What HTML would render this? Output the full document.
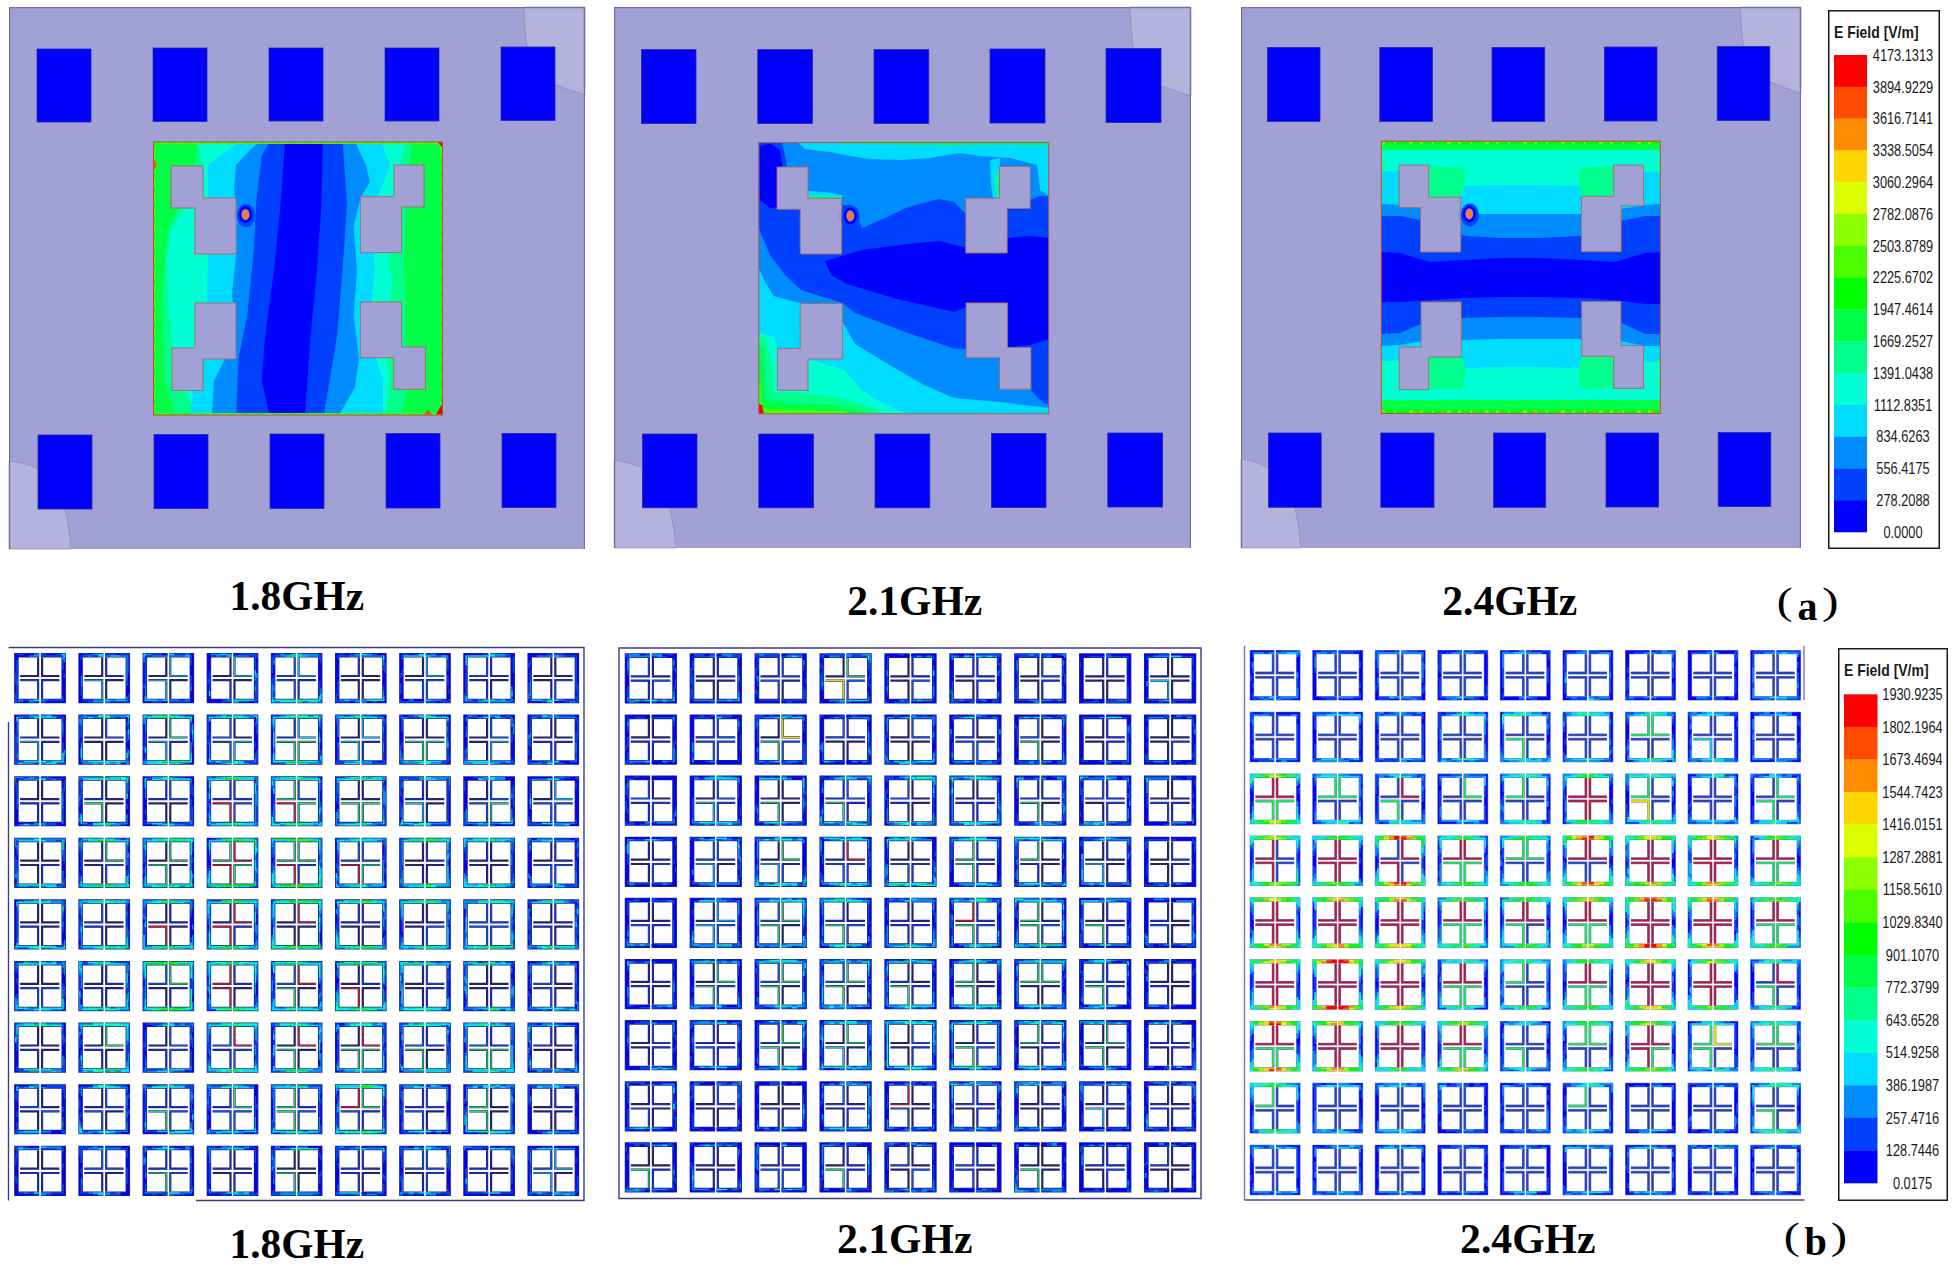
<!DOCTYPE html>
<html><head><meta charset="utf-8"><style>
html,body{margin:0;padding:0;background:#fff;}
body{width:1957px;height:1265px;overflow:hidden;}
svg{display:block;}
.fl{font-family:"Liberation Serif",serif;font-weight:bold;fill:#000;}
.pa{font-family:"Liberation Serif",serif;font-size:37px;fill:#000;}
.lt{font-family:"Liberation Sans",sans-serif;font-size:17px;font-weight:bold;fill:#1a1a1a;}
.ll{font-family:"Liberation Sans",sans-serif;font-size:16px;fill:#1a1a1a;}
</style></head><body>
<svg width="1957" height="1265" viewBox="0 0 1957 1265">
<rect width="1957" height="1265" fill="#fff"/>
<rect x="9" y="7" width="576" height="542" fill="#A1A1D6"/>
<path d="M523.8,7 L525,30 Q528,76 556,85 L585,95 L585,7 Z" fill="#B3B3DB" stroke="#8282B8" stroke-width="0.6"/>
<path d="M9,461 Q25,462 38,469 L65,509 Q69,525 71,549 L9,549 Z" fill="#B3B3DB" stroke="#8282B8" stroke-width="0.6"/>
<path d="M9.6,549 V7.6 H584.4 V549" fill="none" stroke="#6F6FA6" stroke-width="1.2"/>
<rect x="37" y="49" width="54" height="73" fill="#0000FF" stroke="#2A2A9A" stroke-width="0.8"/>
<rect x="153" y="48" width="54" height="73.5" fill="#0000FF" stroke="#2A2A9A" stroke-width="0.8"/>
<rect x="269" y="48" width="54" height="73" fill="#0000FF" stroke="#2A2A9A" stroke-width="0.8"/>
<rect x="385" y="48" width="54" height="73" fill="#0000FF" stroke="#2A2A9A" stroke-width="0.8"/>
<rect x="501" y="47" width="54" height="73.5" fill="#0000FF" stroke="#2A2A9A" stroke-width="0.8"/>
<rect x="38" y="435" width="54" height="74" fill="#0000FF" stroke="#2A2A9A" stroke-width="0.8"/>
<rect x="154" y="434.5" width="54" height="74.10000000000002" fill="#0000FF" stroke="#2A2A9A" stroke-width="0.8"/>
<rect x="270" y="434" width="54" height="74.5" fill="#0000FF" stroke="#2A2A9A" stroke-width="0.8"/>
<rect x="386" y="433.5" width="54" height="74.5" fill="#0000FF" stroke="#2A2A9A" stroke-width="0.8"/>
<rect x="502" y="433.5" width="54" height="74.0" fill="#0000FF" stroke="#2A2A9A" stroke-width="0.8"/>
<rect x="153.5" y="142" width="289.0" height="273" fill="#00FF46"/>
<polygon points="200.0,142.0 190.0,180.0 168.0,230.0 162.0,300.0 165.0,380.0 175.0,415.0 402.0,415.0 408.0,380.0 406.0,330.0 404.0,260.0 407.0,200.0 412.0,142.0" fill="#00FF8C" />
<polygon points="196.0,142.0 200.0,150.0 203.0,165.0 190.0,200.0 170.0,230.0 167.0,260.0 168.0,300.0 172.0,340.0 175.0,380.0 190.0,400.0 195.0,415.0 385.0,415.0 390.0,380.0 385.0,340.0 390.0,300.0 392.0,280.0 388.0,260.0 395.0,230.0 395.0,200.0 400.0,165.0 405.0,142.0" fill="#00FFD2" />
<polygon points="238.0,142.0 228.0,150.0 208.0,165.0 208.0,200.0 208.0,230.0 208.0,260.0 207.0,300.0 206.0,340.0 195.0,380.0 190.0,415.0 383.0,415.0 383.0,380.0 370.0,340.0 372.0,300.0 375.0,270.0 372.0,230.0 376.0,200.0 384.0,182.0 390.0,165.0 381.0,142.0" fill="#00DCFF" />
<polygon points="259.0,142.0 250.0,150.0 236.0,165.0 234.0,190.0 236.0,204.0 237.0,248.0 232.0,293.0 236.0,337.0 214.0,381.0 212.0,415.0 339.0,415.0 354.7,388.0 359.0,359.0 353.6,315.0 357.0,270.0 353.6,226.0 361.0,197.0 370.0,182.0 366.0,165.0 355.0,142.0" fill="#008CFF" />
<polygon points="269.5,142.0 262.0,155.0 260.0,170.0 256.0,204.0 254.0,248.0 247.3,315.0 238.5,359.0 236.3,415.0 323.8,415.0 337.0,337.0 342.6,270.0 347.0,204.0 342.6,142.0" fill="#0040FF" />
<polygon points="285.0,142.0 280.5,204.0 274.0,270.0 265.0,337.0 261.7,381.0 269.5,415.0 305.0,415.0 310.5,337.0 317.0,270.0 321.5,204.0 322.7,142.0" fill="#0000FF" />
<rect x="154.5" y="143" width="287.0" height="271" fill="none" stroke="#4BFF00" stroke-width="2"/>
<rect x="154.5" y="143" width="287.0" height="271" fill="none" stroke="#00FF00" stroke-width="1" stroke-dasharray="6 9"/>
<polygon points="438.0,142.5 442.0,142.5 442.0,147.0" fill="#FF0000" />
<polygon points="442.0,404.0 442.0,414.5 436.0,414.5" fill="#FF0000" />
<polygon points="424.0,414.5 428.0,410.0 432.0,414.5" fill="#FF4B00" />
<polygon points="154.0,160.0 157.0,165.0 154.0,170.0" fill="#FF4B00" />
<polygon points="171.0,166.0 203.0,166.0 203.0,198.0 236.0,198.0 236.0,254.0 195.0,254.0 195.0,208.0 171.0,208.0" fill="#A1A1D6" stroke="#A86868" stroke-width="0.9"/>
<polygon points="394.0,165.0 424.0,165.0 424.0,207.0 401.6,207.0 401.6,252.6 360.4,252.6 360.4,196.7 394.0,196.7" fill="#A1A1D6" stroke="#A86868" stroke-width="0.9"/>
<polygon points="195.0,303.0 236.0,303.0 236.0,359.0 203.0,359.0 203.0,390.5 172.0,390.5 172.0,348.0 195.0,348.0" fill="#A1A1D6" stroke="#A86868" stroke-width="0.9"/>
<polygon points="360.4,302.0 401.6,302.0 401.6,347.0 425.4,347.0 425.4,389.3 393.8,389.3 393.8,357.7 360.4,357.7" fill="#A1A1D6" stroke="#A86868" stroke-width="0.9"/>
<rect x="153.5" y="142" width="289.0" height="273" fill="none" stroke="#C04A3A" stroke-width="1"/>
<path d="M237.5,204.5 Q232.0,214.5 237.5,224.5" fill="none" stroke="#8C8CC0" stroke-width="0.8"/><ellipse cx="246.0" cy="215.5" rx="9" ry="11.5" fill="#0040FF"/><ellipse cx="245.5" cy="214.5" rx="6.5" ry="8.5" fill="#0000FF"/><ellipse cx="245.5" cy="214.5" rx="4" ry="5.6" fill="#E0804E"/>
<rect x="614" y="7" width="577" height="541" fill="#A1A1D6"/>
<path d="M1130,7 L1131,30 Q1134,76 1161,86 L1191,96 L1191,7 Z" fill="#B3B3DB" stroke="#8282B8" stroke-width="0.6"/>
<path d="M614,460 Q630,462 642.5,468 L670,508 Q674,525 676,548 L614,548 Z" fill="#B3B3DB" stroke="#8282B8" stroke-width="0.6"/>
<path d="M614.6,548 V7.6 H1190.4 V548" fill="none" stroke="#6F6FA6" stroke-width="1.2"/>
<rect x="641.5" y="49.6" width="54.5" height="73.80000000000001" fill="#0000FF" stroke="#2A2A9A" stroke-width="0.8"/>
<rect x="757.8" y="49.6" width="54.60000000000002" height="73.80000000000001" fill="#0000FF" stroke="#2A2A9A" stroke-width="0.8"/>
<rect x="874" y="49.6" width="54.799999999999955" height="73.80000000000001" fill="#0000FF" stroke="#2A2A9A" stroke-width="0.8"/>
<rect x="990" y="49" width="55" height="74" fill="#0000FF" stroke="#2A2A9A" stroke-width="0.8"/>
<rect x="1106" y="48.5" width="55" height="74.0" fill="#0000FF" stroke="#2A2A9A" stroke-width="0.8"/>
<rect x="642.5" y="434" width="54.5" height="73.80000000000001" fill="#0000FF" stroke="#2A2A9A" stroke-width="0.8"/>
<rect x="758.8" y="434" width="54.700000000000045" height="73.80000000000001" fill="#0000FF" stroke="#2A2A9A" stroke-width="0.8"/>
<rect x="875" y="434" width="54.799999999999955" height="73.80000000000001" fill="#0000FF" stroke="#2A2A9A" stroke-width="0.8"/>
<rect x="991.5" y="433.5" width="54.5" height="74.0" fill="#0000FF" stroke="#2A2A9A" stroke-width="0.8"/>
<rect x="1107.8" y="433" width="54.700000000000045" height="74" fill="#0000FF" stroke="#2A2A9A" stroke-width="0.8"/>
<rect x="758.8" y="142.6" width="289.9000000000001" height="271.20000000000005" fill="#008CFF"/>
<polygon points="758.8,142.6 782.0,142.6 786.0,160.0 790.0,190.0 800.0,205.0 842.0,205.0 850.0,205.0 855.0,211.0 862.0,228.0 885.0,218.0 908.0,207.0 939.0,199.0 954.0,202.0 966.0,214.0 975.0,205.0 1007.0,205.0 1020.0,203.0 1040.0,196.0 1048.7,196.0 1048.7,405.0 1040.0,400.0 1031.0,390.0 1031.0,347.0 1007.0,347.0 966.0,349.0 954.0,348.6 908.0,333.0 855.0,313.0 842.0,303.0 801.0,290.0 785.0,275.0 770.0,255.0 758.8,228.0" fill="#0040FF" />
<polygon points="825.0,261.0 862.0,250.0 908.0,244.0 939.0,241.0 966.0,248.0 1008.0,238.0 1030.0,236.0 1048.7,238.0 1048.7,339.0 1040.0,342.0 1031.0,345.0 1007.0,347.0 966.0,307.0 954.0,312.0 893.0,298.0 847.0,284.0 831.0,275.0" fill="#0000FF" />
<polygon points="759.5,146.0 770.0,143.5 780.0,150.0 783.0,170.0 778.0,190.0 782.0,207.0 770.0,208.0 760.0,200.0" fill="#0000FF" />
<polygon points="798.0,142.6 1048.7,142.6 1048.7,196.0 1040.0,190.0 1037.0,165.0 1010.0,158.0 980.0,156.0 960.0,153.0 930.0,158.0 900.0,160.0 870.0,159.0 850.0,156.0 830.0,152.0 805.0,149.0" fill="#00DCFF" />
<polygon points="840.0,142.6 1048.7,142.6 1048.7,145.0 1000.0,144.5 940.0,145.0 880.0,144.0 840.0,143.8" fill="#00FF46" />
<polygon points="990.0,160.0 1000.0,158.0 1000.0,198.0 993.0,198.0 991.0,185.0" fill="#00DCFF" />
<polygon points="995.0,175.0 1000.0,170.0 1000.0,198.0 997.0,198.0" fill="#00FF8C" />
<polygon points="808.0,191.0 825.0,192.0 842.0,195.0 842.0,198.2 808.0,198.2" fill="#00DCFF" />
<polygon points="808.0,195.0 842.0,196.5 842.0,198.2 808.0,198.2" fill="#00FF8C" />
<polygon points="758.8,268.0 765.0,282.0 773.5,296.0 799.6,303.0 801.0,302.6 842.0,321.0 855.0,344.0 893.0,367.0 924.0,385.0 954.0,398.0 1000.0,402.0 1048.7,408.0 1048.7,413.8 758.8,413.8" fill="#00DCFF" />
<polygon points="758.8,333.0 773.0,336.0 778.0,350.0 808.0,361.0 816.0,361.0 844.0,370.0 862.0,390.0 885.0,405.0 908.0,413.8 758.8,413.8" fill="#00FFD2" />
<polygon points="758.8,336.0 766.0,338.0 771.0,360.0 774.0,392.0 808.0,393.0 850.0,400.0 870.0,407.0 885.0,413.8 758.8,413.8" fill="#00FF8C" />
<polygon points="758.8,345.0 763.0,350.0 766.0,400.0 790.0,403.0 830.0,405.0 860.0,410.0 870.0,413.8 758.8,413.8" fill="#00FF46" />
<polygon points="758.8,380.0 760.5,385.0 761.5,408.0 790.0,410.0 840.0,411.0 850.0,413.8 758.8,413.8" fill="#4BFF00" />
<polygon points="758.8,404.0 762.0,405.0 764.0,413.8 758.8,413.8" fill="#FF0000" />
<polygon points="777.0,167.0 808.0,167.0 808.0,198.2 841.6,198.2 841.6,254.0 800.2,254.0 800.2,209.3 777.0,209.3" fill="#A1A1D6" stroke="#A86868" stroke-width="0.9"/>
<polygon points="999.5,166.4 1030.2,166.4 1030.2,208.5 1007.2,208.5 1007.2,253.0 965.8,253.0 965.8,198.2 999.5,198.2" fill="#A1A1D6" stroke="#A86868" stroke-width="0.9"/>
<polygon points="800.2,303.4 842.4,303.4 842.4,359.0 807.9,359.0 807.9,390.3 777.5,390.3 777.5,348.6 800.2,348.6" fill="#A1A1D6" stroke="#A86868" stroke-width="0.9"/>
<polygon points="966.1,302.9 1007.6,302.9 1007.6,347.5 1030.9,347.5 1030.9,389.2 999.5,389.2 999.5,357.8 966.1,357.8" fill="#A1A1D6" stroke="#A86868" stroke-width="0.9"/>
<rect x="758.8" y="142.6" width="289.9000000000001" height="271.20000000000005" fill="none" stroke="#B05A50" stroke-width="1"/>
<path d="M842.3,205.9 Q836.8,215.9 842.3,225.9" fill="none" stroke="#8C8CC0" stroke-width="0.8"/><ellipse cx="850.8" cy="216.9" rx="9" ry="11.5" fill="#0040FF"/><ellipse cx="850.3" cy="215.9" rx="6.5" ry="8.5" fill="#0000FF"/><ellipse cx="850.3" cy="215.9" rx="4" ry="5.6" fill="#E0804E"/>
<rect x="1241" y="7" width="560" height="541" fill="#A1A1D6"/>
<path d="M1740,7 L1741.5,30 Q1745,72 1770,82 L1801,94 L1801,7 Z" fill="#B3B3DB" stroke="#8282B8" stroke-width="0.6"/>
<path d="M1241,459 Q1256,461 1268.6,468 L1295,507 Q1299,525 1301,548 L1241,548 Z" fill="#B3B3DB" stroke="#8282B8" stroke-width="0.6"/>
<path d="M1241.6,548 V7.6 H1800.4 V548" fill="none" stroke="#6F6FA6" stroke-width="1.2"/>
<rect x="1267.5" y="47.5" width="52.5" height="73.9" fill="#0000FF" stroke="#2A2A9A" stroke-width="0.8"/>
<rect x="1379.8" y="47.5" width="52.600000000000136" height="73.9" fill="#0000FF" stroke="#2A2A9A" stroke-width="0.8"/>
<rect x="1492" y="47.5" width="52.700000000000045" height="73.9" fill="#0000FF" stroke="#2A2A9A" stroke-width="0.8"/>
<rect x="1604.4" y="47" width="52.59999999999991" height="74" fill="#0000FF" stroke="#2A2A9A" stroke-width="0.8"/>
<rect x="1717.2" y="46.5" width="52.59999999999991" height="74.0" fill="#0000FF" stroke="#2A2A9A" stroke-width="0.8"/>
<rect x="1268.6" y="433" width="52.600000000000136" height="74.30000000000001" fill="#0000FF" stroke="#2A2A9A" stroke-width="0.8"/>
<rect x="1380.8" y="433" width="53.200000000000045" height="74.30000000000001" fill="#0000FF" stroke="#2A2A9A" stroke-width="0.8"/>
<rect x="1493.6" y="433" width="52.100000000000136" height="74.30000000000001" fill="#0000FF" stroke="#2A2A9A" stroke-width="0.8"/>
<rect x="1606" y="433" width="52.5" height="74" fill="#0000FF" stroke="#2A2A9A" stroke-width="0.8"/>
<rect x="1718.2" y="432.5" width="52.59999999999991" height="74.0" fill="#0000FF" stroke="#2A2A9A" stroke-width="0.8"/>
<rect x="1381.3" y="141.2" width="279.0" height="272.3" fill="#00FF46"/>
<polygon points="1381.3,150.0 1660.3,150.0 1660.3,400.0 1381.3,400.0" fill="#00FFD2" />
<polygon points="1381.3,172.0 1400.0,170.0 1430.0,188.0 1465.0,186.0 1500.0,185.0 1540.0,185.0 1580.0,186.0 1615.0,190.0 1645.0,172.0 1660.3,172.0 1660.3,362.0 1645.0,362.0 1615.0,368.0 1580.0,368.0 1540.0,367.0 1500.0,367.0 1465.0,368.0 1430.0,368.0 1400.0,360.0 1381.3,362.0" fill="#00DCFF" />
<polygon points="1381.3,204.0 1400.0,205.0 1430.0,210.0 1465.0,214.0 1500.0,214.0 1540.0,214.0 1580.0,214.0 1615.0,210.0 1645.0,205.0 1660.3,204.0 1660.3,346.0 1645.0,346.0 1615.0,340.0 1580.0,339.0 1540.0,339.0 1500.0,339.0 1465.0,340.0 1430.0,340.0 1400.0,345.0 1381.3,346.0" fill="#008CFF" />
<polygon points="1381.3,216.0 1400.0,216.0 1430.0,222.0 1465.0,236.0 1500.0,238.0 1540.0,238.0 1580.0,236.0 1615.0,222.0 1645.0,216.0 1660.3,216.0 1660.3,334.0 1645.0,334.0 1615.0,320.0 1580.0,318.0 1540.0,317.0 1500.0,317.0 1465.0,318.0 1430.0,320.0 1400.0,333.0 1381.3,334.0" fill="#0040FF" />
<polygon points="1381.3,252.0 1400.0,253.0 1430.0,262.0 1465.0,260.0 1500.0,258.0 1540.0,258.0 1580.0,260.0 1615.0,262.0 1645.0,253.0 1660.3,252.0 1660.3,304.0 1645.0,304.0 1615.0,300.0 1580.0,298.0 1540.0,297.0 1500.0,297.0 1465.0,298.0 1430.0,300.0 1400.0,302.0 1381.3,302.0" fill="#0000FF" />
<polygon points="1428.7,166.0 1464.0,168.0 1465.0,185.0 1460.8,197.0 1428.7,197.0" fill="#00FF8C" />
<polygon points="1581.4,196.0 1579.0,185.0 1580.0,168.0 1613.7,166.0 1613.7,196.0" fill="#00FF8C" />
<polygon points="1428.7,357.0 1461.2,357.0 1466.0,370.0 1462.0,389.0 1428.7,389.0" fill="#00FF8C" />
<polygon points="1581.7,356.0 1613.7,356.0 1613.7,388.0 1580.0,389.0 1578.0,370.0" fill="#00FF8C" />
<polygon points="1381.3,141.2 1660.3,141.2 1660.3,144.0 1381.3,144.0" fill="#00FF00" />
<polygon points="1381.3,410.0 1660.3,410.0 1660.3,413.5 1381.3,413.5" fill="#00FF00" />
<path d="M1382,143 H1659 M1382,411.5 H1659" stroke="#8CFF00" stroke-width="2" stroke-dasharray="3 9 2 13 4 7" fill="none"/>
<path d="M1382,412 H1659" stroke="#FF8C00" stroke-width="1.5" stroke-dasharray="2 31 3 23" fill="none"/>
<path d="M1382.3,142 V190 M1659.3,142 V190 M1382.3,360 V413 M1659.3,360 V413" stroke="#4BFF00" stroke-width="1.4" stroke-dasharray="4 5 2 9" fill="none"/>
<polygon points="1399.2,165.1 1428.7,165.1 1428.7,197.2 1460.8,197.2 1460.8,252.1 1420.5,252.1 1420.5,207.6 1399.2,207.6" fill="#A1A1D6" stroke="#A86868" stroke-width="0.9"/>
<polygon points="1613.7,165.1 1643.6,165.1 1643.6,205.8 1621.2,205.8 1621.2,251.7 1581.4,251.7 1581.4,196.4 1613.7,196.4" fill="#A1A1D6" stroke="#A86868" stroke-width="0.9"/>
<polygon points="1421.0,301.9 1461.2,301.9 1461.2,357.1 1428.7,357.1 1428.7,389.6 1399.2,389.6 1399.2,347.1 1421.0,347.1" fill="#A1A1D6" stroke="#A86868" stroke-width="0.9"/>
<polygon points="1581.7,301.6 1620.9,301.6 1620.9,345.6 1643.6,345.6 1643.6,388.4 1613.7,388.4 1613.7,356.3 1581.7,356.3" fill="#A1A1D6" stroke="#A86868" stroke-width="0.9"/>
<rect x="1381.3" y="141.2" width="279.0" height="272.3" fill="none" stroke="#C04A3A" stroke-width="1"/>
<path d="M1461.3,203.9 Q1455.8,213.9 1461.3,223.9" fill="none" stroke="#8C8CC0" stroke-width="0.8"/><ellipse cx="1469.8" cy="214.9" rx="9" ry="11.5" fill="#0040FF"/><ellipse cx="1469.3" cy="213.9" rx="6.5" ry="8.5" fill="#0000FF"/><ellipse cx="1469.3" cy="213.9" rx="4" ry="5.6" fill="#E0804E"/>
<rect x="1828.75" y="10.75" width="110.5" height="537.5" fill="#fff" stroke="#1a1a1a" stroke-width="1.5"/>
<rect x="1834" y="55.00" width="33" height="32.10" fill="#FF0000"/>
<rect x="1834" y="86.80" width="33" height="32.10" fill="#FF4B00"/>
<rect x="1834" y="118.60" width="33" height="32.10" fill="#FF8C00"/>
<rect x="1834" y="150.40" width="33" height="32.10" fill="#FFD700"/>
<rect x="1834" y="182.20" width="33" height="32.10" fill="#DCFF00"/>
<rect x="1834" y="214.00" width="33" height="32.10" fill="#8CFF00"/>
<rect x="1834" y="245.80" width="33" height="32.10" fill="#4BFF00"/>
<rect x="1834" y="277.60" width="33" height="32.10" fill="#00FF00"/>
<rect x="1834" y="309.40" width="33" height="32.10" fill="#00FF46"/>
<rect x="1834" y="341.20" width="33" height="32.10" fill="#00FF8C"/>
<rect x="1834" y="373.00" width="33" height="32.10" fill="#00FFD2"/>
<rect x="1834" y="404.80" width="33" height="32.10" fill="#00DCFF"/>
<rect x="1834" y="436.60" width="33" height="32.10" fill="#008CFF"/>
<rect x="1834" y="468.40" width="33" height="32.10" fill="#0040FF"/>
<rect x="1834" y="500.20" width="33" height="32.10" fill="#0000FF"/>
<text x="1834" y="38" class="lt" transform="translate(1834,38) scale(0.822,1) translate(-1834,-38)">E Field [V/m]</text>
<text x="1903" y="60.8" class="ll" text-anchor="middle" transform="translate(1903,60.8) scale(0.8,1) translate(-1903,-60.8)">4173.1313</text>
<text x="1903" y="92.6" class="ll" text-anchor="middle" transform="translate(1903,92.6) scale(0.8,1) translate(-1903,-92.6)">3894.9229</text>
<text x="1903" y="124.4" class="ll" text-anchor="middle" transform="translate(1903,124.4) scale(0.8,1) translate(-1903,-124.4)">3616.7141</text>
<text x="1903" y="156.2" class="ll" text-anchor="middle" transform="translate(1903,156.2) scale(0.8,1) translate(-1903,-156.2)">3338.5054</text>
<text x="1903" y="188.0" class="ll" text-anchor="middle" transform="translate(1903,188.0) scale(0.8,1) translate(-1903,-188.0)">3060.2964</text>
<text x="1903" y="219.8" class="ll" text-anchor="middle" transform="translate(1903,219.8) scale(0.8,1) translate(-1903,-219.8)">2782.0876</text>
<text x="1903" y="251.6" class="ll" text-anchor="middle" transform="translate(1903,251.6) scale(0.8,1) translate(-1903,-251.6)">2503.8789</text>
<text x="1903" y="283.4" class="ll" text-anchor="middle" transform="translate(1903,283.4) scale(0.8,1) translate(-1903,-283.4)">2225.6702</text>
<text x="1903" y="315.2" class="ll" text-anchor="middle" transform="translate(1903,315.2) scale(0.8,1) translate(-1903,-315.2)">1947.4614</text>
<text x="1903" y="347.0" class="ll" text-anchor="middle" transform="translate(1903,347.0) scale(0.8,1) translate(-1903,-347.0)">1669.2527</text>
<text x="1903" y="378.8" class="ll" text-anchor="middle" transform="translate(1903,378.8) scale(0.8,1) translate(-1903,-378.8)">1391.0438</text>
<text x="1903" y="410.6" class="ll" text-anchor="middle" transform="translate(1903,410.6) scale(0.8,1) translate(-1903,-410.6)">1112.8351</text>
<text x="1903" y="442.4" class="ll" text-anchor="middle" transform="translate(1903,442.4) scale(0.8,1) translate(-1903,-442.4)">834.6263</text>
<text x="1903" y="474.2" class="ll" text-anchor="middle" transform="translate(1903,474.2) scale(0.8,1) translate(-1903,-474.2)">556.4175</text>
<text x="1903" y="506.0" class="ll" text-anchor="middle" transform="translate(1903,506.0) scale(0.8,1) translate(-1903,-506.0)">278.2088</text>
<text x="1903" y="537.8" class="ll" text-anchor="middle" transform="translate(1903,537.8) scale(0.8,1) translate(-1903,-537.8)">0.0000</text>
<rect x="1838.75" y="648.75" width="108.5" height="551.5" fill="#fff" stroke="#1a1a1a" stroke-width="1.5"/>
<rect x="1844" y="694.30" width="33.5" height="32.88" fill="#FF0000"/>
<rect x="1844" y="726.88" width="33.5" height="32.88" fill="#FF4B00"/>
<rect x="1844" y="759.46" width="33.5" height="32.88" fill="#FF8C00"/>
<rect x="1844" y="792.04" width="33.5" height="32.88" fill="#FFD700"/>
<rect x="1844" y="824.62" width="33.5" height="32.88" fill="#DCFF00"/>
<rect x="1844" y="857.20" width="33.5" height="32.88" fill="#8CFF00"/>
<rect x="1844" y="889.78" width="33.5" height="32.88" fill="#4BFF00"/>
<rect x="1844" y="922.36" width="33.5" height="32.88" fill="#00FF00"/>
<rect x="1844" y="954.94" width="33.5" height="32.88" fill="#00FF46"/>
<rect x="1844" y="987.52" width="33.5" height="32.88" fill="#00FF8C"/>
<rect x="1844" y="1020.10" width="33.5" height="32.88" fill="#00FFD2"/>
<rect x="1844" y="1052.68" width="33.5" height="32.88" fill="#00DCFF"/>
<rect x="1844" y="1085.26" width="33.5" height="32.88" fill="#008CFF"/>
<rect x="1844" y="1117.84" width="33.5" height="32.88" fill="#0040FF"/>
<rect x="1844" y="1150.42" width="33.5" height="32.88" fill="#0000FF"/>
<text x="1844" y="676.5" class="lt" transform="translate(1844,676.5) scale(0.822,1) translate(-1844,-676.5)">E Field [V/m]</text>
<text x="1912.5" y="700.1" class="ll" text-anchor="middle" transform="translate(1912.5,700.1) scale(0.8,1) translate(-1912.5,-700.1)">1930.9235</text>
<text x="1912.5" y="732.6" class="ll" text-anchor="middle" transform="translate(1912.5,732.6) scale(0.8,1) translate(-1912.5,-732.6)">1802.1964</text>
<text x="1912.5" y="765.2" class="ll" text-anchor="middle" transform="translate(1912.5,765.2) scale(0.8,1) translate(-1912.5,-765.2)">1673.4694</text>
<text x="1912.5" y="797.8" class="ll" text-anchor="middle" transform="translate(1912.5,797.8) scale(0.8,1) translate(-1912.5,-797.8)">1544.7423</text>
<text x="1912.5" y="830.4" class="ll" text-anchor="middle" transform="translate(1912.5,830.4) scale(0.8,1) translate(-1912.5,-830.4)">1416.0151</text>
<text x="1912.5" y="863.0" class="ll" text-anchor="middle" transform="translate(1912.5,863.0) scale(0.8,1) translate(-1912.5,-863.0)">1287.2881</text>
<text x="1912.5" y="895.5" class="ll" text-anchor="middle" transform="translate(1912.5,895.5) scale(0.8,1) translate(-1912.5,-895.5)">1158.5610</text>
<text x="1912.5" y="928.1" class="ll" text-anchor="middle" transform="translate(1912.5,928.1) scale(0.8,1) translate(-1912.5,-928.1)">1029.8340</text>
<text x="1912.5" y="960.7" class="ll" text-anchor="middle" transform="translate(1912.5,960.7) scale(0.8,1) translate(-1912.5,-960.7)">901.1070</text>
<text x="1912.5" y="993.3" class="ll" text-anchor="middle" transform="translate(1912.5,993.3) scale(0.8,1) translate(-1912.5,-993.3)">772.3799</text>
<text x="1912.5" y="1025.9" class="ll" text-anchor="middle" transform="translate(1912.5,1025.9) scale(0.8,1) translate(-1912.5,-1025.9)">643.6528</text>
<text x="1912.5" y="1058.4" class="ll" text-anchor="middle" transform="translate(1912.5,1058.4) scale(0.8,1) translate(-1912.5,-1058.4)">514.9258</text>
<text x="1912.5" y="1091.0" class="ll" text-anchor="middle" transform="translate(1912.5,1091.0) scale(0.8,1) translate(-1912.5,-1091.0)">386.1987</text>
<text x="1912.5" y="1123.6" class="ll" text-anchor="middle" transform="translate(1912.5,1123.6) scale(0.8,1) translate(-1912.5,-1123.6)">257.4716</text>
<text x="1912.5" y="1156.2" class="ll" text-anchor="middle" transform="translate(1912.5,1156.2) scale(0.8,1) translate(-1912.5,-1156.2)">128.7446</text>
<text x="1912.5" y="1188.8" class="ll" text-anchor="middle" transform="translate(1912.5,1188.8) scale(0.8,1) translate(-1912.5,-1188.8)">0.0175</text>
<path d="M8.5,647.5 H584 V1200.5 H196 M8.5,647.5 M8.5,722 V1200.5" fill="none" stroke="#3C3C80" stroke-width="1.4"/>
<path d="M619,648 H1201 V1198.5 H619 Z" fill="none" stroke="#3C3C80" stroke-width="1.4"/>
<path d="M1804,646 V700 M1244.5,1200 V646" fill="none" stroke="#7878AC" stroke-width="1.4"/>
<path d="M1804.5,1200 H1244.5" fill="none" stroke="#4A4A88" stroke-width="1.4"/>
<g fill="none">
<path d="M39.2,655.2L16.4,655.2L16.4,701L39.2,701M40.9,655.2L63.7,655.2L63.7,701L40.9,701M103.4,655.2L80.6,655.2L80.6,701L103.4,701M105.1,655.2L127.8,655.2L127.8,701L105.1,701M167.5,655.2L144.8,655.2L144.8,701L167.5,701M169.2,655.2L191.9,655.2L191.9,701L169.2,701M231.7,655.2L208.9,655.2L208.9,701L231.7,701M233.3,655.2L256.1,655.2L256.1,701L233.3,701M295.8,655.2L273.1,655.2L273.1,701L295.8,701M297.5,655.2L320.2,655.2L320.2,701L297.5,701M359.9,655.2L337.2,655.2L337.2,701L359.9,701M361.6,655.2L384.4,655.2L384.4,701L361.6,701M424.1,655.2L401.4,655.2L401.4,701L424.1,701M425.8,655.2L448.6,655.2L448.6,701L425.8,701M488.3,655.2L465.5,655.2L465.5,701L488.3,701M490,655.2L512.7,655.2L512.7,701L490,701M552.4,655.2L529.7,655.2L529.7,701L552.4,701M554.1,655.2L576.9,655.2L576.9,701L554.1,701M39.2,716.8L16.4,716.8L16.4,762.5L39.2,762.5M40.9,716.8L63.7,716.8L63.7,762.5L40.9,762.5M103.4,716.8L80.6,716.8L80.6,762.5L103.4,762.5M105.1,716.8L127.8,716.8L127.8,762.5L105.1,762.5M167.5,716.8L144.8,716.8L144.8,762.5L167.5,762.5M169.2,716.8L191.9,716.8L191.9,762.5L169.2,762.5M231.7,716.8L208.9,716.8L208.9,762.5L231.7,762.5M233.3,716.8L256.1,716.8L256.1,762.5L233.3,762.5M295.8,716.8L273.1,716.8L273.1,762.5L295.8,762.5M297.5,716.8L320.2,716.8L320.2,762.5L297.5,762.5M359.9,716.8L337.2,716.8L337.2,762.5L359.9,762.5M361.6,716.8L384.4,716.8L384.4,762.5L361.6,762.5M424.1,716.8L401.4,716.8L401.4,762.5L424.1,762.5M425.8,716.8L448.6,716.8L448.6,762.5L425.8,762.5M488.3,716.8L465.5,716.8L465.5,762.5L488.3,762.5M490,716.8L512.7,716.8L512.7,762.5L490,762.5M552.4,716.8L529.7,716.8L529.7,762.5L552.4,762.5M554.1,716.8L576.9,716.8L576.9,762.5L554.1,762.5M39.2,778.4L16.4,778.4L16.4,824.1L39.2,824.1M40.9,778.4L63.7,778.4L63.7,824.1L40.9,824.1M103.4,778.4L80.6,778.4L80.6,824.1L103.4,824.1M105.1,778.4L127.8,778.4L127.8,824.1L105.1,824.1M167.5,778.4L144.8,778.4L144.8,824.1L167.5,824.1M169.2,778.4L191.9,778.4L191.9,824.1L169.2,824.1M231.7,778.4L208.9,778.4L208.9,824.1L231.7,824.1M233.3,778.4L256.1,778.4L256.1,824.1L233.3,824.1M295.8,778.4L273.1,778.4L273.1,824.1L295.8,824.1M297.5,778.4L320.2,778.4L320.2,824.1L297.5,824.1M359.9,778.4L337.2,778.4L337.2,824.1L359.9,824.1M361.6,778.4L384.4,778.4L384.4,824.1L361.6,824.1M424.1,778.4L401.4,778.4L401.4,824.1L424.1,824.1M425.8,778.4L448.6,778.4L448.6,824.1L425.8,824.1M488.3,778.4L465.5,778.4L465.5,824.1L488.3,824.1M490,778.4L512.7,778.4L512.7,824.1L490,824.1M552.4,778.4L529.7,778.4L529.7,824.1L552.4,824.1M554.1,778.4L576.9,778.4L576.9,824.1L554.1,824.1M39.2,840L16.4,840L16.4,885.7L39.2,885.7M40.9,840L63.7,840L63.7,885.7L40.9,885.7M103.4,840L80.6,840L80.6,885.7L103.4,885.7M105.1,840L127.8,840L127.8,885.7L105.1,885.7M167.5,840L144.8,840L144.8,885.7L167.5,885.7M169.2,840L191.9,840L191.9,885.7L169.2,885.7M231.7,840L208.9,840L208.9,885.7L231.7,885.7M233.3,840L256.1,840L256.1,885.7L233.3,885.7M295.8,840L273.1,840L273.1,885.7L295.8,885.7M297.5,840L320.2,840L320.2,885.7L297.5,885.7M359.9,840L337.2,840L337.2,885.7L359.9,885.7M361.6,840L384.4,840L384.4,885.7L361.6,885.7M424.1,840L401.4,840L401.4,885.7L424.1,885.7M425.8,840L448.6,840L448.6,885.7L425.8,885.7M488.3,840L465.5,840L465.5,885.7L488.3,885.7M490,840L512.7,840L512.7,885.7L490,885.7M552.4,840L529.7,840L529.7,885.7L552.4,885.7M554.1,840L576.9,840L576.9,885.7L554.1,885.7M39.2,901.6L16.4,901.6L16.4,947.3L39.2,947.3M40.9,901.6L63.7,901.6L63.7,947.3L40.9,947.3M103.4,901.6L80.6,901.6L80.6,947.3L103.4,947.3M105.1,901.6L127.8,901.6L127.8,947.3L105.1,947.3M167.5,901.6L144.8,901.6L144.8,947.3L167.5,947.3M169.2,901.6L191.9,901.6L191.9,947.3L169.2,947.3M231.7,901.6L208.9,901.6L208.9,947.3L231.7,947.3M233.3,901.6L256.1,901.6L256.1,947.3L233.3,947.3M295.8,901.6L273.1,901.6L273.1,947.3L295.8,947.3M297.5,901.6L320.2,901.6L320.2,947.3L297.5,947.3M359.9,901.6L337.2,901.6L337.2,947.3L359.9,947.3M361.6,901.6L384.4,901.6L384.4,947.3L361.6,947.3M424.1,901.6L401.4,901.6L401.4,947.3L424.1,947.3M425.8,901.6L448.6,901.6L448.6,947.3L425.8,947.3M488.3,901.6L465.5,901.6L465.5,947.3L488.3,947.3M490,901.6L512.7,901.6L512.7,947.3L490,947.3M552.4,901.6L529.7,901.6L529.7,947.3L552.4,947.3M554.1,901.6L576.9,901.6L576.9,947.3L554.1,947.3M39.2,963.2L16.4,963.2L16.4,1008.9L39.2,1008.9M40.9,963.2L63.7,963.2L63.7,1008.9L40.9,1008.9M103.4,963.2L80.6,963.2L80.6,1008.9L103.4,1008.9M105.1,963.2L127.8,963.2L127.8,1008.9L105.1,1008.9M167.5,963.2L144.8,963.2L144.8,1008.9L167.5,1008.9M169.2,963.2L191.9,963.2L191.9,1008.9L169.2,1008.9M231.7,963.2L208.9,963.2L208.9,1008.9L231.7,1008.9M233.3,963.2L256.1,963.2L256.1,1008.9L233.3,1008.9M295.8,963.2L273.1,963.2L273.1,1008.9L295.8,1008.9M297.5,963.2L320.2,963.2L320.2,1008.9L297.5,1008.9M359.9,963.2L337.2,963.2L337.2,1008.9L359.9,1008.9M361.6,963.2L384.4,963.2L384.4,1008.9L361.6,1008.9M424.1,963.2L401.4,963.2L401.4,1008.9L424.1,1008.9M425.8,963.2L448.6,963.2L448.6,1008.9L425.8,1008.9M488.3,963.2L465.5,963.2L465.5,1008.9L488.3,1008.9M490,963.2L512.7,963.2L512.7,1008.9L490,1008.9M552.4,963.2L529.7,963.2L529.7,1008.9L552.4,1008.9M554.1,963.2L576.9,963.2L576.9,1008.9L554.1,1008.9M39.2,1024.8L16.4,1024.8L16.4,1070.5L39.2,1070.5M40.9,1024.8L63.7,1024.8L63.7,1070.5L40.9,1070.5M103.4,1024.8L80.6,1024.8L80.6,1070.5L103.4,1070.5M105.1,1024.8L127.8,1024.8L127.8,1070.5L105.1,1070.5M167.5,1024.8L144.8,1024.8L144.8,1070.5L167.5,1070.5M169.2,1024.8L191.9,1024.8L191.9,1070.5L169.2,1070.5M231.7,1024.8L208.9,1024.8L208.9,1070.5L231.7,1070.5M233.3,1024.8L256.1,1024.8L256.1,1070.5L233.3,1070.5M295.8,1024.8L273.1,1024.8L273.1,1070.5L295.8,1070.5M297.5,1024.8L320.2,1024.8L320.2,1070.5L297.5,1070.5M359.9,1024.8L337.2,1024.8L337.2,1070.5L359.9,1070.5M361.6,1024.8L384.4,1024.8L384.4,1070.5L361.6,1070.5M424.1,1024.8L401.4,1024.8L401.4,1070.5L424.1,1070.5M425.8,1024.8L448.6,1024.8L448.6,1070.5L425.8,1070.5M488.3,1024.8L465.5,1024.8L465.5,1070.5L488.3,1070.5M490,1024.8L512.7,1024.8L512.7,1070.5L490,1070.5M552.4,1024.8L529.7,1024.8L529.7,1070.5L552.4,1070.5M554.1,1024.8L576.9,1024.8L576.9,1070.5L554.1,1070.5M39.2,1086.4L16.4,1086.4L16.4,1132.1L39.2,1132.1M40.9,1086.4L63.7,1086.4L63.7,1132.1L40.9,1132.1M103.4,1086.4L80.6,1086.4L80.6,1132.1L103.4,1132.1M105.1,1086.4L127.8,1086.4L127.8,1132.1L105.1,1132.1M167.5,1086.4L144.8,1086.4L144.8,1132.1L167.5,1132.1M169.2,1086.4L191.9,1086.4L191.9,1132.1L169.2,1132.1M231.7,1086.4L208.9,1086.4L208.9,1132.1L231.7,1132.1M233.3,1086.4L256.1,1086.4L256.1,1132.1L233.3,1132.1M295.8,1086.4L273.1,1086.4L273.1,1132.1L295.8,1132.1M297.5,1086.4L320.2,1086.4L320.2,1132.1L297.5,1132.1M359.9,1086.4L337.2,1086.4L337.2,1132.1L359.9,1132.1M361.6,1086.4L384.4,1086.4L384.4,1132.1L361.6,1132.1M424.1,1086.4L401.4,1086.4L401.4,1132.1L424.1,1132.1M425.8,1086.4L448.6,1086.4L448.6,1132.1L425.8,1132.1M488.3,1086.4L465.5,1086.4L465.5,1132.1L488.3,1132.1M490,1086.4L512.7,1086.4L512.7,1132.1L490,1132.1M552.4,1086.4L529.7,1086.4L529.7,1132.1L552.4,1132.1M554.1,1086.4L576.9,1086.4L576.9,1132.1L554.1,1132.1M39.2,1148L16.4,1148L16.4,1193.7L39.2,1193.7M40.9,1148L63.7,1148L63.7,1193.7L40.9,1193.7M103.4,1148L80.6,1148L80.6,1193.7L103.4,1193.7M105.1,1148L127.8,1148L127.8,1193.7L105.1,1193.7M167.5,1148L144.8,1148L144.8,1193.7L167.5,1193.7M169.2,1148L191.9,1148L191.9,1193.7L169.2,1193.7M231.7,1148L208.9,1148L208.9,1193.7L231.7,1193.7M233.3,1148L256.1,1148L256.1,1193.7L233.3,1193.7M295.8,1148L273.1,1148L273.1,1193.7L295.8,1193.7M297.5,1148L320.2,1148L320.2,1193.7L297.5,1193.7M359.9,1148L337.2,1148L337.2,1193.7L359.9,1193.7M361.6,1148L384.4,1148L384.4,1193.7L361.6,1193.7M424.1,1148L401.4,1148L401.4,1193.7L424.1,1193.7M425.8,1148L448.6,1148L448.6,1193.7L425.8,1193.7M488.3,1148L465.5,1148L465.5,1193.7L488.3,1193.7M490,1148L512.7,1148L512.7,1193.7L490,1193.7M552.4,1148L529.7,1148L529.7,1193.7L552.4,1193.7M554.1,1148L576.9,1148L576.9,1193.7L554.1,1193.7" stroke="#24246A" stroke-width="4.5"/>
<path d="M39.2,654.5L34,654.5M28.8,701.7L34,701.7M39.2,656L28.8,656M17.1,680.7L17.1,685.9M18.4,700.2L23.6,700.2M28.8,700.2L34,700.2M64.4,657.2L64.4,662.4M61.7,656L63,656L63,659.9M46.1,700.2L40.9,700.2M98.1,654.5L92.9,654.5M92.9,701.7L103.4,701.7M93,656L87.8,656M81.3,675.5L81.3,685.9M93,700.2L103.4,700.2M110.3,701.7L105.1,701.7M105.1,656L110.3,656M120.7,656L127.1,656L127.1,680.7M127.1,696.3L127.1,700.2L125.8,700.2M115.5,700.2L110.3,700.2M151.8,654.5L146.6,654.5M144.1,657.2L144.1,662.4M167.5,656L151.9,656M145.4,685.9L145.4,696.3M157.1,700.2L162.3,700.2M184.9,654.5L190.1,654.5M169.2,656L184.8,656M191.2,685.9L191.2,691.1M190,700.2L184.8,700.2M179.6,700.2L169.2,700.2M231.7,654.5L226.4,654.5M221.2,654.5L210.8,654.5M221.2,656L216.1,656M226.4,700.2L231.7,700.2M256.8,672.9L256.8,678.1M233.3,656L248.9,656M255.4,675.5L255.4,680.7M255.4,685.9L255.4,691.1M285.4,654.5L280.1,654.5M272.4,683.3L272.4,699M274.9,701.7L280.1,701.7M285.4,656L280.2,656M273.8,659.9L273.8,665.1M273.8,685.9L273.8,691.1M273.8,696.3L273.8,700.2L275,700.2M302.7,654.5L318.4,654.5M320.9,688.5L320.9,693.8M320.9,699L320.9,701.7L318.4,701.7M307.9,701.7L302.7,701.7M307.9,656L318.3,656M359.9,654.5L354.7,654.5M354.7,701.7L359.9,701.7M359.9,656L349.6,656M339.1,700.2L344.3,700.2M349.5,700.2L359.9,700.2M366.9,654.5L372.1,654.5M366.9,701.7L361.6,701.7M361.6,656L382.4,656M383.7,659.9L383.7,665.1M383.7,691.1L383.7,696.3M366.8,700.2L361.6,700.2M408.5,700.2L413.7,700.2M431,654.5L436.2,654.5M431,656L441.4,656M446.6,656L447.9,656L447.9,659.9M441.4,700.2L431,700.2M477.8,701.7L488.3,701.7M467.5,700.2L472.7,700.2M477.9,700.2L483.1,700.2M495.2,654.5L505.6,654.5M510.8,701.7L490,701.7M495.2,656L505.6,656M512,685.9L512,691.1M512,696.3L512,700.2L510.8,700.2M500.4,700.2L495.2,700.2M529,693.8L529,699M552.4,656L536.8,656M530.4,680.7L530.4,696.3M542,700.2L547.2,700.2M575,701.7L569.8,701.7M559.3,656L564.5,656M564.5,700.2L559.3,700.2M39.2,716.1L28.8,716.1M23.5,763.2L34,763.2M34,717.5L28.8,717.5M23.6,717.5L18.4,717.5M17.1,721.5L17.1,731.9M17.1,737.1L17.1,742.3M17.1,752.7L17.1,757.9M40.9,716.1L46.1,716.1M64.4,750.1L64.4,755.4M46.1,763.2L40.9,763.2M63,721.5L63,731.9M51.3,761.8L46.1,761.8M87.7,716.1L82.5,716.1M79.9,718.8L79.9,724M82.5,763.2L92.9,763.2M98.1,763.2L103.4,763.2M103.4,717.5L93,717.5M87.8,717.5L81.3,717.5L81.3,726.7M81.3,742.3L81.3,747.5M81.3,757.9L81.3,761.8L87.8,761.8M110.3,716.1L125.9,716.1M128.5,718.8L128.5,724M128.5,734.5L128.5,739.7M128.5,750.1L128.5,755.4M128.5,760.6L128.5,763.2L125.9,763.2M115.5,763.2L110.3,763.2M110.3,717.5L115.5,717.5M120.7,717.5L125.8,717.5M127.1,757.9L127.1,761.8L125.8,761.8M151.8,716.1L146.6,716.1M144.1,718.8L144.1,724M144.1,760.6L144.1,763.2L146.6,763.2M146.7,717.5L145.4,717.5L145.4,731.9M145.4,757.9L145.4,761.8L146.7,761.8M179.6,716.1L184.9,716.1M192.6,724L192.6,729.2M192.6,734.5L192.6,739.7M184.9,763.2L179.6,763.2M191.2,742.3L191.2,752.7M231.7,716.1L226.4,716.1M221.2,716.1L216,716.1M221.2,763.2L226.4,763.2M209.6,742.3L209.6,757.9M210.9,761.8L216.1,761.8M221.2,761.8L231.7,761.8M243.8,716.1L254.2,716.1M256.8,718.8L256.8,724M249,763.2L243.8,763.2M248.9,717.5L254.2,717.5M255.4,757.9L255.4,761.8L254.2,761.8M285.4,716.1L280.1,716.1M272.4,718.8L272.4,724M273.8,726.7L273.8,731.9M273.8,747.5L273.8,752.7M307.9,716.1L313.2,716.1M318.4,716.1L320.9,716.1L320.9,718.8M320.9,760.6L320.9,763.2L307.9,763.2M319.6,721.5L319.6,726.7M319.6,731.9L319.6,737.1M319.6,742.3L319.6,752.7M354.7,716.1L349.5,716.1M344.3,716.1L336.5,716.1L336.5,718.8M339.1,717.5L337.9,717.5L337.9,737.1M337.9,742.3L337.9,747.5M344.3,761.8L354.8,761.8M361.6,716.1L372.1,716.1M372.1,763.2L361.6,763.2M377.2,717.5L383.7,717.5L383.7,721.5M383.7,726.7L383.7,731.9M383.7,742.3L383.7,752.7M372,761.8L361.6,761.8M418.9,716.1L413.7,716.1M400.7,750.1L400.7,760.6M403.2,763.2L418.9,763.2M424.1,717.5L418.9,717.5M408.5,717.5L402.1,717.5L402.1,721.5M402.1,757.9L402.1,761.8L403.3,761.8M408.5,761.8L413.7,761.8M431,716.1L436.2,716.1M441.5,763.2L431,763.2M447.9,726.7L447.9,731.9M447.9,737.1L447.9,742.3M472.6,716.1L467.4,716.1M464.8,760.6L464.8,763.2L472.6,763.2M483.1,717.5L477.9,717.5M467.5,717.5L466.2,717.5L466.2,721.5M466.2,731.9L466.2,737.1M466.2,747.5L466.2,752.7M466.2,757.9L466.2,761.8L467.5,761.8M490,716.1L500.4,716.1M513.4,724L513.4,734.5M500.4,763.2L495.2,763.2M500.4,717.5L505.6,717.5M510.8,717.5L512,717.5L512,726.7M505.6,761.8L490,761.8M552.4,716.1L547.2,716.1M529,734.5L529,739.7M531.5,763.2L542,763.2M552.4,717.5L542,717.5M536.8,717.5L531.6,717.5M530.4,731.9L530.4,737.1M547.2,761.8L552.4,761.8M554.1,716.1L559.3,716.1M554.1,717.5L574.9,717.5M576.2,742.3L576.2,752.7M576.2,757.9L576.2,761.8L574.9,761.8M34,777.7L28.8,777.7M23.5,777.7L15.8,777.7L15.8,780.4M18.3,824.8L23.5,824.8M28.8,824.8L39.2,824.8M39.2,779.1L23.6,779.1M17.1,798.7L17.1,803.9M34,823.4L39.2,823.4M46.1,824.8L40.9,824.8M51.3,779.1L56.5,779.1M63,793.5L63,809.1M63,819.5L63,823.4L61.7,823.4M46.1,823.4L40.9,823.4M103.4,777.7L79.9,777.7L79.9,780.4M79.9,796.1L79.9,801.3M79.9,816.9L79.9,822.2M81.3,783.1L81.3,788.3M82.6,823.4L87.8,823.4M105.1,777.7L110.3,777.7M125.9,777.7L128.5,777.7L128.5,780.4M120.7,824.8L110.3,824.8M127.1,783.1L127.1,793.5M127.1,814.3L127.1,823.4L115.5,823.4M162.3,777.7L151.8,777.7M157.1,824.8L162.3,824.8M145.4,788.3L145.4,798.7M146.7,823.4L151.9,823.4M162.3,823.4L167.5,823.4M169.2,777.7L174.4,777.7M184.9,824.8L174.4,824.8M190,779.1L191.2,779.1L191.2,783.1M191.2,819.5L191.2,823.4L190,823.4M174.4,823.4L169.2,823.4M221.2,777.7L216,777.7M210.8,777.7L208.2,777.7L208.2,780.4M209.6,788.3L209.6,793.5M209.6,803.9L209.6,814.3M210.9,823.4L216.1,823.4M254.2,777.7L256.8,777.7L256.8,785.6M256.8,790.8L256.8,806.5M256.8,822.2L256.8,824.8L254.2,824.8M255.4,793.5L255.4,823.4L254.2,823.4M280.1,777.7L272.4,777.7L272.4,780.4M280.1,824.8L285.4,824.8M275,779.1L273.8,779.1L273.8,788.3M273.8,803.9L273.8,823.4L280.2,823.4M302.7,777.7L318.4,777.7M320.9,806.5L320.9,811.7M318.4,824.8L313.2,824.8M319.6,783.1L319.6,809.1M319.6,814.3L319.6,823.4L318.3,823.4M349.5,777.7L344.3,777.7M336.5,811.7L336.5,824.8L339.1,824.8M337.9,783.1L337.9,793.5M337.9,809.1L337.9,819.5M339.1,823.4L354.8,823.4M366.9,777.7L372.1,777.7M382.5,777.7L385.1,777.7L385.1,780.4M385.1,790.8L385.1,806.5M377.3,824.8L366.9,824.8M382.4,779.1L383.7,779.1L383.7,783.1M383.7,788.3L383.7,803.9M383.7,809.1L383.7,819.5M382.4,823.4L372,823.4M424.1,777.7L418.9,777.7M400.7,822.2L400.7,824.8L403.2,824.8M408.4,824.8L413.7,824.8M424.1,779.1L418.9,779.1M408.5,779.1L403.3,779.1M402.1,783.1L402.1,788.3M402.1,809.1L402.1,819.5M413.7,823.4L418.9,823.4M431,777.7L449.2,777.7L449.2,785.6M436.2,779.1L446.6,779.1M447.9,819.5L447.9,823.4L431,823.4M488.3,777.7L483,777.7M477.8,824.8L488.3,824.8M488.3,779.1L483.1,779.1M466.2,809.1L466.2,823.4L477.9,823.4M483.1,823.4L488.3,823.4M495.2,777.7L505.6,777.7M495.2,779.1L505.6,779.1M512,793.5L512,798.7M512,809.1L512,819.5M500.4,823.4L490,823.4M547.2,779.1L531.6,779.1M530.4,793.5L530.4,798.7M530.4,803.9L530.4,809.1M559.3,777.7L564.5,777.7M564.5,824.8L554.1,824.8M574.9,823.4L554.1,823.4M34,839.3L15.8,839.3L15.8,847.2M15.8,873.3L15.8,878.5M18.3,886.4L28.8,886.4M34,886.4L39.2,886.4M17.1,844.7L17.1,849.9M17.1,870.7L17.1,885L18.4,885M40.9,839.3L64.4,839.3L64.4,842M61.8,886.4L56.6,886.4M46.1,886.4L40.9,886.4M46.1,840.7L56.5,840.7M63,849.9L63,855.1M63,870.7L63,875.9M63,881.1L63,885L61.7,885M79.9,842L79.9,847.2M79.9,883.8L79.9,886.4L82.5,886.4M87.8,840.7L81.3,840.7L81.3,849.9M81.3,875.9L81.3,881.1M115.5,839.3L120.7,839.3M125.9,839.3L128.5,839.3L128.5,842M128.5,852.4L128.5,857.6M128.5,873.3L128.5,883.8M127.1,844.7L127.1,865.5M151.8,839.3L144.1,839.3L144.1,847.2M144.1,883.8L144.1,886.4L151.8,886.4M146.7,840.7L145.4,840.7L145.4,844.7M145.4,849.9L145.4,855.1M145.4,865.5L145.4,875.9M192.6,873.3L192.6,878.5M192.6,883.8L192.6,886.4L190.1,886.4M184.9,886.4L179.6,886.4M191.2,855.1L191.2,870.7M221.2,839.3L216,839.3M208.2,873.3L208.2,878.5M208.2,883.8L208.2,886.4L210.8,886.4M209.6,849.9L209.6,855.1M254.2,839.3L256.8,839.3L256.8,847.2M256.8,868.1L256.8,873.3M254.2,886.4L249,886.4M255.4,855.1L255.4,860.3M255.4,870.7L255.4,881.1M272.4,842L272.4,847.2M272.4,883.8L272.4,886.4L274.9,886.4M275,840.7L273.8,840.7L273.8,855.1M273.8,865.5L273.8,870.7M318.4,839.3L320.9,839.3L320.9,862.9M319.6,849.9L319.6,855.1M319.6,860.3L319.6,865.5M349.5,839.3L339.1,839.3M336.5,878.5L336.5,883.8M339.1,886.4L349.5,886.4M337.9,849.9L337.9,855.1M337.9,865.5L337.9,870.7M337.9,875.9L337.9,881.1M339.1,885L344.3,885M382.5,839.3L385.1,839.3L385.1,847.2M382.5,886.4L366.9,886.4M377.2,840.7L382.4,840.7M383.7,860.3L383.7,881.1M372,885L366.8,885M408.4,839.3L403.2,839.3M400.7,878.5L400.7,883.8M403.2,886.4L408.4,886.4M403.3,840.7L402.1,840.7L402.1,865.5M402.1,870.7L402.1,885L403.3,885M449.2,852.4L449.2,857.6M449.2,878.5L449.2,886.4L436.2,886.4M447.9,849.9L447.9,855.1M447.9,860.3L447.9,865.5M472.6,839.3L467.4,839.3M464.8,873.3L464.8,878.5M467.5,840.7L466.2,840.7L466.2,844.7M466.2,875.9L466.2,881.1M510.8,839.3L513.4,839.3L513.4,842M513.4,878.5L513.4,883.8M510.8,886.4L505.6,886.4M505.6,840.7L512,840.7L512,849.9M512,855.1L512,865.5M512,881.1L512,885L510.8,885M552.4,839.3L536.7,839.3M531.5,839.3L529,839.3L529,842M529,873.3L529,878.5M531.5,886.4L536.7,886.4M542,840.7L531.6,840.7M530.4,844.7L530.4,849.9M530.4,875.9L530.4,885L552.4,885M577.6,842L577.6,847.2M577.6,852.4L577.6,857.6M554.1,840.7L574.9,840.7M576.2,870.7L576.2,885L574.9,885M564.5,885L559.3,885M34,900.9L23.5,900.9M15.8,945.3L15.8,948L18.3,948M17.1,906.3L17.1,911.5M17.1,937.5L17.1,942.7M40.9,900.9L46.1,900.9M51.3,900.9L61.8,900.9M64.4,940.1L64.4,945.3M51.3,948L40.9,948M51.3,902.3L63,902.3L63,906.3M63,911.5L63,916.7M63,921.9L63,927.1M82.5,900.9L79.9,900.9L79.9,908.8M82.5,948L92.9,948M87.8,902.3L82.6,902.3M81.3,906.3L81.3,916.7M81.3,921.9L81.3,927.1M81.3,932.3L81.3,946.6L82.6,946.6M125.9,900.9L128.5,900.9L128.5,903.6M128.5,945.3L128.5,948L125.9,948M125.8,902.3L127.1,902.3L127.1,906.3M127.1,911.5L127.1,916.7M127.1,927.1L127.1,937.5M151.8,900.9L144.1,900.9L144.1,908.8M144.1,914L144.1,919.2M146.7,902.3L145.4,902.3L145.4,906.3M145.4,916.7L145.4,921.9M146.7,946.6L151.9,946.6M192.6,924.5L192.6,929.7M192.6,934.9L192.6,945.3M190.1,948L184.9,948M184.8,902.3L191.2,902.3L191.2,911.5M210.8,900.9L208.2,900.9L208.2,903.6M208.2,914L208.2,919.2M208.2,945.3L208.2,948L210.8,948M209.6,906.3L209.6,932.3M256.8,903.6L256.8,908.8M256.8,924.5L256.8,934.9M256.8,940.1L256.8,945.3M254.2,948L249,948M255.4,906.3L255.4,911.5M255.4,921.9L255.4,932.3M255.4,942.7L255.4,946.6L254.2,946.6M272.4,903.6L272.4,919.2M272.4,934.9L272.4,940.1M273.8,916.7L273.8,927.1M320.9,908.8L320.9,914M320.9,945.3L320.9,948L318.4,948M319.6,911.5L319.6,916.7M319.6,932.3L319.6,942.7M344.3,900.9L339.1,900.9M336.5,908.8L336.5,914M336.5,929.7L336.5,934.9M336.5,945.3L336.5,948L344.3,948M337.9,906.3L337.9,916.7M337.9,932.3L337.9,937.5M382.5,900.9L385.1,900.9L385.1,903.6M385.1,908.8L385.1,919.2M385.1,945.3L385.1,948L382.5,948M383.7,916.7L383.7,927.1M383.7,937.5L383.7,946.6L382.4,946.6M408.4,900.9L400.7,900.9L400.7,908.8M400.7,945.3L400.7,948L403.2,948M408.4,948L413.7,948M402.1,916.7L402.1,921.9M402.1,937.5L402.1,942.7M441.5,900.9L449.2,900.9L449.2,908.8M449.2,914L449.2,919.2M441.4,902.3L446.6,902.3M447.9,911.5L447.9,927.1M477.8,900.9L464.8,900.9L464.8,908.8M464.8,945.3L464.8,948L467.4,948M477.9,902.3L466.2,902.3L466.2,916.7M466.2,932.3L466.2,937.5M513.4,903.6L513.4,908.8M513.4,934.9L513.4,940.1M513.4,945.3L513.4,948L505.6,948M510.8,902.3L512,902.3L512,906.3M512,916.7L512,932.3M542,900.9L536.7,900.9M529,908.8L529,919.2M529,945.3L529,948L531.5,948M536.7,948L542,948M530.4,942.7L530.4,946.6L536.8,946.6M564.5,900.9L569.8,900.9M575,900.9L577.6,900.9L577.6,903.6M577.6,945.3L577.6,948L575,948M559.3,948L554.1,948M564.5,902.3L569.7,902.3M576.2,916.7L576.2,921.9M576.2,937.5L576.2,946.6L574.9,946.6M39.2,962.5L28.8,962.5M15.8,996.5L15.8,1009.6L18.3,1009.6M23.5,1009.6L34,1009.6M18.4,963.9L17.1,963.9L17.1,967.9M17.1,999.1L17.1,1004.2M28.8,1008.2L39.2,1008.2M46.1,962.5L51.3,962.5M61.8,962.5L64.4,962.5L64.4,975.6M61.8,1009.6L51.3,1009.6M56.5,963.9L63,963.9L63,967.9M63,988.7L63,999.1M79.9,970.4L79.9,975.6M79.9,996.5L79.9,1009.6L82.5,1009.6M98.1,1009.6L103.4,1009.6M93,963.9L87.8,963.9M82.6,963.9L81.3,963.9L81.3,967.9M81.3,973.1L81.3,988.7M81.3,1004.2L81.3,1008.2L82.6,1008.2M110.3,962.5L115.5,962.5M128.5,965.2L128.5,970.4M128.5,991.3L128.5,1001.7M128.5,1006.9L128.5,1009.6L120.7,1009.6M125.8,963.9L127.1,963.9L127.1,973.1M127.1,983.5L127.1,988.7M127.1,993.9L127.1,999.1M115.5,1008.2L110.3,1008.2M144.1,970.4L144.1,975.6M144.1,1006.9L144.1,1009.6L146.6,1009.6M145.4,978.3L145.4,999.1M192.6,965.2L192.6,980.8M192.6,1001.7L192.6,1009.6L190.1,1009.6M210.8,962.5L208.2,962.5L208.2,975.6M208.2,986.1L208.2,991.3M209.6,983.5L209.6,988.7M209.6,993.9L209.6,999.1M209.6,1004.3L209.6,1008.2L210.9,1008.2M256.8,965.2L256.8,975.6M256.8,1001.7L256.8,1006.9M255.4,983.5L255.4,993.9M255.4,1004.3L255.4,1008.2L254.2,1008.2M274.9,962.5L272.4,962.5L272.4,965.2M272.4,980.8L272.4,991.3M272.4,1001.7L272.4,1006.9M275,1008.2L285.4,1008.2M307.9,962.5L320.9,962.5L320.9,980.8M320.9,991.3L320.9,996.5M320.9,1006.9L320.9,1009.6L318.4,1009.6M319.6,978.3L319.6,983.5M319.6,993.9L319.6,999.1M319.6,1004.3L319.6,1008.2L313.1,1008.2M344.3,962.5L339.1,962.5M336.5,991.3L336.5,1001.7M337.9,967.9L337.9,978.3M337.9,988.7L337.9,993.9M377.3,962.5L385.1,962.5L385.1,965.2M385.1,970.4L385.1,975.6M382.5,1009.6L377.3,1009.6M383.7,988.7L383.7,1004.3M424.1,962.5L418.9,962.5M413.7,962.5L408.4,962.5M400.7,965.2L400.7,975.6M400.7,980.8L400.7,991.3M400.7,1006.9L400.7,1009.6L403.2,1009.6M402.1,983.5L402.1,988.7M402.1,1004.3L402.1,1008.2L403.3,1008.2M431,962.5L436.2,962.5M441.5,962.5L449.2,962.5L449.2,965.2M446.7,1009.6L441.5,1009.6M446.6,1008.2L441.4,1008.2M488.3,962.5L483,962.5M467.4,962.5L464.8,962.5L464.8,965.2M464.8,975.6L464.8,980.8M464.8,986.1L464.8,991.3M472.6,1009.6L477.8,1009.6M483,1009.6L488.3,1009.6M472.7,963.9L466.2,963.9L466.2,978.3M466.2,983.5L466.2,988.7M466.2,993.9L466.2,999.1M466.2,1004.3L466.2,1008.2L477.9,1008.2M495.2,962.5L500.4,962.5M513.4,986.1L513.4,996.5M513.4,1006.9L513.4,1009.6L510.8,1009.6M512,967.9L512,973.1M512,983.5L512,988.7M512,993.9L512,999.1M547.2,962.5L542,962.5M542,1009.6L547.2,1009.6M542,963.9L530.4,963.9L530.4,973.1M530.4,978.3L530.4,983.5M530.4,1004.2L530.4,1008.2L536.8,1008.2M554.1,962.5L569.8,962.5M577.6,1001.7L577.6,1009.6L575,1009.6M569.8,1009.6L559.3,1009.6M559.3,963.9L564.5,963.9M569.7,963.9L576.2,963.9L576.2,967.9M576.2,973.1L576.2,983.5M576.2,999.1L576.2,1004.2M574.9,1008.2L564.5,1008.2M39.2,1024.1L34,1024.1M23.5,1024.1L18.3,1024.1M28.8,1071.2L39.2,1071.2M17.1,1034.6L17.1,1039.8M46.1,1024.1L61.8,1024.1M61.8,1071.2L56.6,1071.2M51.3,1071.2L40.9,1071.2M61.7,1025.5L63,1025.5L63,1029.4M63,1034.6L63,1039.8M63,1055.4L63,1065.8M61.7,1069.8L51.3,1069.8M92.9,1024.1L79.9,1024.1L79.9,1026.8M79.9,1032L79.9,1037.2M87.7,1071.2L92.9,1071.2M81.3,1029.4L81.3,1034.6M81.3,1060.6L81.3,1069.8L82.6,1069.8M128.5,1026.8L128.5,1042.4M128.5,1052.9L128.5,1068.5M120.7,1071.2L115.5,1071.2M110.3,1071.2L105.1,1071.2M127.1,1039.8L127.1,1045M127.1,1060.6L127.1,1065.8M167.5,1024.1L162.3,1024.1M146.6,1071.2L157.1,1071.2M162.3,1025.5L157.1,1025.5M145.4,1060.6L145.4,1069.8L146.7,1069.8M162.3,1069.8L167.5,1069.8M179.6,1024.1L184.9,1024.1M190.1,1024.1L192.6,1024.1L192.6,1026.8M174.4,1071.2L169.2,1071.2M174.4,1025.5L190,1025.5M191.2,1034.6L191.2,1039.8M191.2,1065.8L191.2,1069.8L184.8,1069.8M221.2,1024.1L208.2,1024.1L208.2,1042.4M208.2,1063.3L208.2,1071.2L216,1071.2M209.6,1029.4L209.6,1034.6M209.6,1050.2L209.6,1055.4M209.6,1060.6L209.6,1065.8M256.8,1026.8L256.8,1042.4M256.8,1063.3L256.8,1068.5M255.4,1029.4L255.4,1039.8M255.4,1045L255.4,1055.4M255.4,1060.6L255.4,1065.8M280.1,1024.1L274.9,1024.1M280.1,1071.2L285.4,1071.2M280.2,1025.5L275,1025.5M273.8,1029.4L273.8,1034.6M307.9,1024.1L313.2,1024.1M318.4,1024.1L320.9,1024.1L320.9,1026.8M320.9,1032L320.9,1042.4M320.9,1052.9L320.9,1071.2L307.9,1071.2M318.3,1025.5L319.6,1025.5L319.6,1029.4M319.6,1034.6L319.6,1039.8M319.6,1050.2L319.6,1060.6M319.6,1065.8L319.6,1069.8L313.1,1069.8M349.5,1024.1L344.3,1024.1M336.5,1026.8L336.5,1032M344.3,1071.2L354.7,1071.2M349.6,1025.5L344.3,1025.5M337.9,1034.6L337.9,1039.8M337.9,1060.6L337.9,1065.8M339.1,1069.8L344.3,1069.8M372.1,1024.1L377.3,1024.1M382.5,1071.2L361.6,1071.2M372,1025.5L383.7,1025.5L383.7,1029.4M383.7,1034.6L383.7,1045M383.7,1050.2L383.7,1055.4M418.9,1024.1L413.7,1024.1M400.7,1063.3L400.7,1068.5M403.2,1071.2L424.1,1071.2M403.3,1025.5L402.1,1025.5L402.1,1034.6M402.1,1039.8L402.1,1045M403.3,1069.8L408.5,1069.8M449.2,1063.3L449.2,1071.2L446.7,1071.2M441.4,1025.5L446.6,1025.5M447.9,1034.6L447.9,1045M447.9,1055.4L447.9,1069.8L446.6,1069.8M467.4,1024.1L464.8,1024.1L464.8,1026.8M464.8,1037.2L464.8,1042.4M466.2,1029.4L466.2,1045M466.2,1050.2L466.2,1055.4M490,1024.1L495.2,1024.1M500.4,1024.1L505.6,1024.1M510.8,1024.1L513.4,1024.1L513.4,1026.8M513.4,1063.3L513.4,1068.5M505.6,1071.2L500.4,1071.2M505.6,1025.5L512,1025.5L512,1039.8M552.4,1024.1L542,1024.1M529,1032L529,1042.4M529,1047.6L529,1052.9M536.7,1071.2L542,1071.2M547.2,1025.5L530.4,1025.5L530.4,1029.4M530.4,1039.8L530.4,1045M530.4,1065.8L530.4,1069.8L552.4,1069.8M577.6,1068.5L577.6,1071.2L575,1071.2M569.8,1071.2L554.1,1071.2M559.3,1025.5L574.9,1025.5M576.2,1039.8L576.2,1045M576.2,1060.6L576.2,1065.8M574.9,1069.8L569.7,1069.8M564.5,1069.8L559.3,1069.8M39.2,1085.7L34,1085.7M18.3,1132.8L39.2,1132.8M39.2,1087.1L34,1087.1M28.8,1087.1L23.6,1087.1M18.4,1131.4L23.6,1131.4M40.9,1087.1L46.1,1087.1M63,1122.2L63,1127.4M51.3,1131.4L40.9,1131.4M98.1,1085.7L92.9,1085.7M79.9,1119.7L79.9,1124.9M82.5,1132.8L92.9,1132.8M98.1,1132.8L103.4,1132.8M93,1087.1L87.8,1087.1M82.6,1087.1L81.3,1087.1L81.3,1096.2M87.8,1131.4L98.2,1131.4M110.3,1085.7L115.5,1085.7M115.5,1132.8L110.3,1132.8M120.7,1087.1L127.1,1087.1L127.1,1091M127.1,1096.2L127.1,1106.6M127.1,1111.8L127.1,1117M127.1,1122.2L127.1,1131.4L115.5,1131.4M167.5,1085.7L157.1,1085.7M146.6,1085.7L144.1,1085.7L144.1,1088.3M151.9,1087.1L145.4,1087.1L145.4,1091M145.4,1111.8L145.4,1122.2M145.4,1127.4L145.4,1131.4L146.7,1131.4M174.4,1085.7L184.9,1085.7M192.6,1093.6L192.6,1098.8M192.6,1130.1L192.6,1132.8L184.9,1132.8M191.2,1091L191.2,1101.4M191.2,1122.2L191.2,1127.4M174.4,1131.4L169.2,1131.4M231.7,1085.7L226.4,1085.7M210.8,1085.7L208.2,1085.7L208.2,1088.3M208.2,1098.8L208.2,1104M208.2,1130.1L208.2,1132.8L210.8,1132.8M221.2,1132.8L231.7,1132.8M221.2,1087.1L209.6,1087.1L209.6,1096.2M209.6,1127.4L209.6,1131.4L221.2,1131.4M238.6,1085.7L243.8,1085.7M243.8,1132.8L233.3,1132.8M248.9,1087.1L254.2,1087.1M255.4,1117L255.4,1127.4M243.8,1131.4L238.6,1131.4M295.8,1085.7L290.6,1085.7M285.4,1085.7L272.4,1085.7L272.4,1088.3M272.4,1130.1L272.4,1132.8L274.9,1132.8M280.1,1132.8L285.4,1132.8M275,1087.1L273.8,1087.1L273.8,1122.2M297.5,1085.7L307.9,1085.7M318.4,1132.8L307.9,1132.8M307.9,1087.1L319.6,1087.1L319.6,1101.4M319.6,1117L319.6,1131.4L318.3,1131.4M307.9,1131.4L302.7,1131.4M336.5,1088.3L336.5,1093.6M336.5,1124.9L336.5,1130.1M339.1,1132.8L344.3,1132.8M339.1,1087.1L337.9,1087.1L337.9,1091M337.9,1101.4L337.9,1106.6M377.3,1085.7L382.5,1085.7M382.5,1132.8L377.3,1132.8M383.7,1096.2L383.7,1106.6M383.7,1117L383.7,1127.4M418.9,1085.7L403.2,1085.7M418.9,1132.8L424.1,1132.8M413.7,1087.1L403.3,1087.1M402.1,1091L402.1,1101.4M402.1,1122.2L402.1,1127.4M436.2,1085.7L441.5,1085.7M425.8,1087.1L447.9,1087.1L447.9,1101.4M447.9,1122.2L447.9,1131.4L441.4,1131.4M436.2,1131.4L431,1131.4M483,1085.7L472.6,1085.7M464.8,1114.5L464.8,1124.9M472.7,1087.1L466.2,1087.1L466.2,1101.4M466.2,1111.8L466.2,1117M490,1085.7L495.2,1085.7M505.6,1085.7L513.4,1085.7L513.4,1088.3M510.8,1132.8L505.6,1132.8M495.2,1087.1L500.4,1087.1M505.6,1087.1L510.8,1087.1M512,1091L512,1096.2M512,1101.4L512,1131.4L510.8,1131.4M552.4,1085.7L536.7,1085.7M542,1132.8L547.2,1132.8M552.4,1087.1L542,1087.1M530.4,1096.2L530.4,1101.4M547.2,1131.4L552.4,1131.4M559.3,1085.7L577.6,1085.7L577.6,1088.3M569.8,1132.8L554.1,1132.8M559.3,1087.1L564.5,1087.1M574.9,1131.4L569.7,1131.4M559.3,1131.4L554.1,1131.4M23.5,1147.3L18.3,1147.3M39.2,1148.7L23.6,1148.7M23.6,1193L28.8,1193M46.1,1147.3L61.8,1147.3M46.1,1194.4L40.9,1194.4M56.5,1148.7L61.7,1148.7M51.3,1193L40.9,1193M98.1,1147.3L92.9,1147.3M98.2,1148.7L87.8,1148.7M81.3,1178.6L81.3,1183.8M87.8,1193L93,1193M110.3,1194.4L105.1,1194.4M105.1,1148.7L120.7,1148.7M120.7,1193L115.5,1193M110.3,1193L105.1,1193M144.1,1155.2L144.1,1165.6M157.1,1148.7L151.9,1148.7M146.7,1148.7L145.4,1148.7L145.4,1152.6M145.4,1157.8L145.4,1163M145.4,1173.4L145.4,1178.6M145.4,1189L145.4,1193L162.3,1193M184.9,1147.3L190.1,1147.3M174.4,1194.4L169.2,1194.4M174.4,1148.7L179.6,1148.7M184.8,1148.7L190,1148.7M191.2,1157.8L191.2,1163M191.2,1189L191.2,1193L179.6,1193M231.7,1147.3L221.2,1147.3M226.5,1148.7L209.6,1148.7L209.6,1163M209.6,1189L209.6,1193L210.9,1193M233.3,1147.3L238.6,1147.3M243.8,1147.3L249,1147.3M249,1194.4L233.3,1194.4M243.8,1193L238.6,1193M280.1,1147.3L274.9,1147.3M272.4,1155.2L272.4,1160.4M272.4,1165.6L272.4,1170.8M280.1,1194.4L295.8,1194.4M290.6,1148.7L280.2,1148.7M273.8,1157.8L273.8,1168.2M273.8,1178.6L273.8,1183.8M280.2,1193L295.8,1193M297.5,1147.3L307.9,1147.3M313.2,1194.4L297.5,1194.4M318.3,1193L297.5,1193M359.9,1147.3L354.7,1147.3M344.3,1147.3L339.1,1147.3M354.7,1194.4L359.9,1194.4M359.9,1148.7L349.6,1148.7M377.3,1194.4L366.9,1194.4M366.8,1148.7L382.4,1148.7M382.4,1193L377.2,1193M418.9,1147.3L413.7,1147.3M400.7,1191.7L400.7,1194.4L403.2,1194.4M424.1,1148.7L418.9,1148.7M413.7,1148.7L403.3,1148.7M402.1,1178.6L402.1,1193L408.5,1193M413.7,1193L418.9,1193M431,1147.3L436.2,1147.3M446.7,1147.3L449.2,1147.3L449.2,1155.2M436.2,1194.4L425.8,1194.4M431,1148.7L441.4,1148.7M447.9,1157.8L447.9,1163M441.4,1193L431,1193M472.6,1147.3L464.8,1147.3L464.8,1149.9M483.1,1193L488.3,1193M513.4,1155.2L513.4,1160.4M505.6,1148.7L512,1148.7L512,1157.8M530.4,1152.6L530.4,1163M530.4,1173.4L530.4,1183.8M530.4,1189L530.4,1193L536.8,1193M542,1193L547.2,1193M575,1194.4L569.8,1194.4M564.5,1194.4L554.1,1194.4M559.3,1148.7L574.9,1148.7M574.9,1193L559.3,1193" stroke="#008CFF" stroke-width="1.55"/>
<path d="M34,654.5L23.5,654.5M18.3,654.5L15.8,654.5L15.8,672.9M15.8,683.3L15.8,693.8M23.5,701.7L28.8,701.7M28.8,656L17.1,656L17.1,659.9M46.1,654.5L56.6,654.5M64.4,662.4L64.4,672.9M64.4,678.1L64.4,701.7L46.1,701.7M63,670.3L63,696.3M82.5,654.5L79.9,654.5L79.9,701.7L87.7,701.7M81.3,659.9L81.3,675.5M81.3,696.3L81.3,700.2L82.6,700.2M115.5,654.5L120.7,654.5M128.5,672.9L128.5,693.8M127.1,685.9L127.1,696.3M167.5,654.5L162.3,654.5M144.1,662.4L144.1,683.3M144.1,688.5L144.1,701.7L151.8,701.7M162.3,701.7L167.5,701.7M190.1,654.5L192.6,654.5L192.6,701.7L190.1,701.7M191.2,665.1L191.2,675.5M191.2,691.1L191.2,700.2L190,700.2M210.8,654.5L208.2,654.5L208.2,678.1M208.2,683.3L208.2,701.7L221.2,701.7M210.9,656L209.6,656L209.6,670.3M209.6,696.3L209.6,700.2L221.2,700.2M233.3,654.5L238.6,654.5M256.8,657.2L256.8,672.9M254.2,701.7L249,701.7M274.9,654.5L272.4,654.5L272.4,657.2M272.4,672.9L272.4,678.1M273.8,665.1L273.8,675.5M320.9,662.4L320.9,688.5M319.6,659.9L319.6,680.7M349.5,654.5L344.3,654.5M339.1,654.5L336.5,654.5L336.5,693.8M349.5,701.7L354.7,701.7M337.9,659.9L337.9,680.7M337.9,696.3L337.9,700.2L339.1,700.2M377.3,654.5L385.1,654.5L385.1,662.4M385.1,672.9L385.1,701.7L377.3,701.7M372.1,701.7L366.9,701.7M383.7,670.3L383.7,685.9M413.7,654.5L408.4,654.5M403.2,654.5L400.7,654.5L400.7,672.9M400.7,678.1L400.7,683.3M400.7,693.8L400.7,699M402.1,659.9L402.1,670.3M402.1,675.5L402.1,700.2L408.5,700.2M413.7,700.2L424.1,700.2M436.2,654.5L449.2,654.5L449.2,688.5M449.2,693.8L449.2,699M441.5,701.7L436.2,701.7M447.9,670.3L447.9,675.5M447.9,685.9L447.9,700.2L446.6,700.2M483,654.5L464.8,654.5L464.8,693.8M510.8,654.5L513.4,654.5L513.4,657.2M513.4,672.9L513.4,699M510.8,656L512,656L512,685.9M547.2,654.5L529,654.5L529,662.4M529,667.7L529,683.3M529,699L529,701.7L542,701.7M536.8,656L530.4,656L530.4,659.9M530.4,665.1L530.4,670.3M564.5,654.5L577.6,654.5L577.6,683.3M564.5,701.7L554.1,701.7M576.2,691.1L576.2,696.3M18.3,716.1L15.8,716.1L15.8,734.5M56.6,716.1L64.4,716.1L64.4,750.1M63,737.1L63,742.3M79.9,739.7L79.9,763.2L82.5,763.2M81.3,737.1L81.3,742.3M128.5,739.7L128.5,750.1M125.9,763.2L120.7,763.2M125.8,717.5L127.1,717.5L127.1,721.5M127.1,726.7L127.1,731.9M127.1,742.3L127.1,747.5M144.1,724L144.1,744.9M144.1,750.1L144.1,760.6M192.6,718.8L192.6,724M192.6,744.9L192.6,763.2L190.1,763.2M191.2,731.9L191.2,742.3M208.2,734.5L208.2,739.7M208.2,744.9L208.2,763.2L210.8,763.2M209.6,721.5L209.6,731.9M256.8,734.5L256.8,750.1M254.2,717.5L255.4,717.5L255.4,721.5M255.4,726.7L255.4,742.3M255.4,747.5L255.4,752.7M272.4,729.2L272.4,755.4M320.9,729.2L320.9,750.1M336.5,724L336.5,760.6M337.9,737.1L337.9,742.3M382.5,716.1L385.1,716.1L385.1,718.8M385.1,724L385.1,760.6M382.4,761.8L377.2,761.8M408.4,716.1L403.2,716.1M400.7,718.8L400.7,744.9M402.1,731.9L402.1,742.3M402.1,747.5L402.1,752.7M446.7,716.1L449.2,716.1L449.2,755.4M449.2,760.6L449.2,763.2L446.7,763.2M483,716.1L477.8,716.1M467.4,716.1L464.8,716.1L464.8,750.1M466.2,721.5L466.2,726.7M466.2,737.1L466.2,747.5M500.4,716.1L505.6,716.1M510.8,716.1L513.4,716.1L513.4,718.8M513.4,734.5L513.4,760.6M512,726.7L512,731.9M512,742.3L512,757.9M531.5,716.1L529,716.1L529,734.5M529,744.9L529,750.1M529,755.4L529,760.6M530.4,747.5L530.4,757.9M531.6,761.8L536.8,761.8M575,716.1L577.6,716.1L577.6,718.8M577.6,739.7L577.6,763.2L564.5,763.2M576.2,721.5L576.2,731.9M569.7,761.8L559.3,761.8M15.8,785.6L15.8,824.8L18.3,824.8M18.4,779.1L17.1,779.1L17.1,783.1M17.1,809.1L17.1,823.4L23.6,823.4M28.8,823.4L34,823.4M51.3,777.7L64.4,777.7L64.4,780.4M64.4,790.8L64.4,824.8L56.6,824.8M61.7,779.1L63,779.1L63,788.3M61.7,823.4L56.5,823.4M79.9,806.5L79.9,811.7M79.9,822.2L79.9,824.8L82.5,824.8M81.3,798.7L81.3,814.3M87.8,823.4L93,823.4M128.5,790.8L128.5,824.8L125.9,824.8M127.1,798.7L127.1,803.9M127.1,809.1L127.1,814.3M146.6,777.7L144.1,777.7L144.1,824.8L151.8,824.8M145.4,798.7L145.4,809.1M145.4,814.3L145.4,819.5M184.9,777.7L192.6,777.7L192.6,785.6M192.6,796.1L192.6,806.5M191.2,793.5L191.2,798.7M208.2,780.4L208.2,790.8M208.2,806.5L208.2,811.7M208.2,816.9L208.2,822.2M272.4,790.8L272.4,811.7M318.4,777.7L320.9,777.7L320.9,780.4M320.9,790.8L320.9,801.3M336.5,801.3L336.5,811.7M337.9,803.9L337.9,809.1M385.1,780.4L385.1,785.6M400.7,796.1L400.7,801.3M400.7,816.9L400.7,822.2M402.1,788.3L402.1,793.5M402.1,798.7L402.1,803.9M449.2,790.8L449.2,822.2M472.6,777.7L464.8,777.7L464.8,780.4M464.8,790.8L464.8,811.7M467.4,824.8L472.6,824.8M477.9,779.1L466.2,779.1L466.2,809.1M505.6,777.7L513.4,777.7L513.4,785.6M513.4,806.5L513.4,816.9M513.4,822.2L513.4,824.8L495.2,824.8M505.6,779.1L512,779.1L512,788.3M512,798.7L512,809.1M552.4,777.7L529,777.7L529,816.9M542,824.8L547.2,824.8M530.4,809.1L530.4,819.5M569.8,777.7L575,777.7M577.6,780.4L577.6,824.8L569.8,824.8M564.5,779.1L576.2,779.1L576.2,783.1M576.2,788.3L576.2,819.5M15.8,847.2L15.8,857.6M15.8,878.5L15.8,883.8M17.1,855.1L17.1,860.3M64.4,862.9L64.4,878.5M63,860.3L63,870.7M79.9,852.4L79.9,873.3M81.3,870.7L81.3,875.9M128.5,847.2L128.5,852.4M127.1,865.5L127.1,870.7M144.1,862.9L144.1,868.1M144.1,873.3L144.1,878.5M192.6,852.4L192.6,857.6M192.6,862.9L192.6,873.3M210.8,839.3L208.2,839.3L208.2,842M208.2,847.2L208.2,868.1M209.6,860.3L209.6,865.5M272.4,857.6L272.4,862.9M336.5,842L336.5,862.9M336.5,868.1L336.5,873.3M385.1,862.9L385.1,868.1M385.1,873.3L385.1,886.4L382.5,886.4M383.7,844.7L383.7,855.1M449.2,857.6L449.2,873.3M464.8,852.4L464.8,873.3M466.2,860.3L466.2,870.7M513.4,852.4L513.4,873.3M536.7,839.3L531.5,839.3M529,852.4L529,873.3M529,878.5L529,886.4L531.5,886.4M547.2,886.4L552.4,886.4M530.4,849.9L530.4,875.9M569.8,839.3L575,839.3M577.6,857.6L577.6,883.8M574.9,840.7L576.2,840.7L576.2,844.7M576.2,849.9L576.2,860.3M18.3,900.9L15.8,900.9L15.8,945.3M64.4,908.8L64.4,940.1M63,932.3L63,942.7M79.9,914L79.9,919.2M79.9,940.1L79.9,945.3M128.5,903.6L128.5,929.7M144.1,919.2L144.1,924.5M192.6,908.8L192.6,924.5M192.6,929.7L192.6,934.9M191.2,916.7L191.2,937.5M208.2,924.5L208.2,929.7M256.8,914L256.8,924.5M272.4,924.5L272.4,934.9M320.9,924.5L320.9,945.3M336.5,903.6L336.5,908.8M336.5,914L336.5,924.5M385.1,929.7L385.1,934.9M383.7,932.3L383.7,937.5M400.7,919.2L400.7,934.9M402.1,932.3L402.1,937.5M449.2,924.5L449.2,929.7M449.2,934.9L449.2,945.3M464.8,908.8L464.8,929.7M513.4,914L513.4,919.2M513.4,924.5L513.4,929.7M536.7,900.9L531.5,900.9M529,903.6L529,908.8M529,929.7L529,934.9M529,940.1L529,945.3M530.4,911.5L530.4,916.7M577.6,919.2L577.6,924.5M577.6,934.9L577.6,940.1M574.9,902.3L576.2,902.3L576.2,906.3M15.8,970.4L15.8,996.5M17.1,973.1L17.1,978.3M17.1,983.5L17.1,993.9M64.4,975.6L64.4,986.1M64.4,996.5L64.4,1001.7M63,973.1L63,983.5M81.3,988.7L81.3,993.9M81.3,999.1L81.3,1004.2M128.5,975.6L128.5,980.8M144.1,980.8L144.1,986.1M192.6,996.5L192.6,1001.7M208.2,975.6L208.2,980.8M208.2,991.3L208.2,996.5M256.8,980.8L256.8,996.5M272.4,970.4L272.4,975.6M273.8,983.5L273.8,988.7M319.6,983.5L319.6,988.7M336.5,965.2L336.5,970.4M336.5,975.6L336.5,991.3M337.9,978.3L337.9,983.5M385.1,986.1L385.1,991.3M400.7,991.3L400.7,996.5M449.2,965.2L449.2,970.4M449.2,980.8L449.2,996.5M464.8,991.3L464.8,1006.9M513.4,965.2L513.4,986.1M512,973.1L512,978.3M536.7,962.5L529,962.5L529,965.2M529,975.6L529,991.3M529,996.5L529,1006.9M530.4,988.7L530.4,993.9M569.8,962.5L577.6,962.5L577.6,986.1M577.6,991.3L577.6,1001.7M576.2,1004.2L576.2,1008.2L574.9,1008.2M15.8,1042.4L15.8,1071.2L18.3,1071.2M17.1,1050.2L17.1,1065.8M61.8,1024.1L64.4,1024.1L64.4,1037.2M64.4,1042.4L64.4,1058.1M63,1045L63,1055.4M79.9,1047.6L79.9,1058.1M81.3,1034.6L81.3,1039.8M81.3,1045L81.3,1050.2M146.6,1024.1L144.1,1024.1L144.1,1042.4M144.1,1047.6L144.1,1068.5M151.9,1025.5L145.4,1025.5L145.4,1029.4M145.4,1050.2L145.4,1055.4M192.6,1032L192.6,1037.2M192.6,1047.6L192.6,1071.2L184.9,1071.2M191.2,1045L191.2,1050.2M208.2,1052.9L208.2,1058.1M272.4,1026.8L272.4,1052.9M272.4,1058.1L272.4,1068.5M320.9,1042.4L320.9,1052.9M319.6,1060.6L319.6,1065.8M344.3,1024.1L339.1,1024.1M336.5,1032L336.5,1063.3M336.5,1068.5L336.5,1071.2L339.1,1071.2M385.1,1042.4L385.1,1047.6M385.1,1052.9L385.1,1071.2L382.5,1071.2M400.7,1032L400.7,1047.6M400.7,1068.5L400.7,1071.2L403.2,1071.2M402.1,1055.4L402.1,1065.8M449.2,1032L449.2,1042.4M464.8,1042.4L464.8,1052.9M542,1024.1L536.7,1024.1M529,1042.4L529,1047.6M529,1068.5L529,1071.2L536.7,1071.2M530.4,1050.2L530.4,1055.4M564.5,1024.1L577.6,1024.1L577.6,1063.3M576.2,1029.4L576.2,1034.6M28.8,1085.7L15.8,1085.7L15.8,1093.6M15.8,1098.8L15.8,1130.1M17.1,1101.4L17.1,1111.8M17.1,1117L17.1,1122.2M40.9,1085.7L46.1,1085.7M64.4,1098.8L64.4,1130.1M61.8,1132.8L51.3,1132.8M63,1091L63,1106.6M63,1111.8L63,1117M61.7,1131.4L51.3,1131.4M92.9,1085.7L79.9,1085.7L79.9,1088.3M79.9,1093.6L79.9,1098.8M79.9,1109.2L79.9,1114.5M81.3,1096.2L81.3,1111.8M81.3,1117L81.3,1122.2M125.9,1085.7L128.5,1085.7L128.5,1093.6M128.5,1098.8L128.5,1109.2M128.5,1114.5L128.5,1132.8L120.7,1132.8M151.8,1085.7L146.6,1085.7M144.1,1093.6L144.1,1132.8L167.5,1132.8M192.6,1104L192.6,1109.2M191.2,1111.8L191.2,1122.2M208.2,1109.2L208.2,1114.5M208.2,1119.7L208.2,1130.1M209.6,1111.8L209.6,1127.4M254.2,1085.7L256.8,1085.7L256.8,1104M256.8,1109.2L256.8,1130.1M254.2,1132.8L243.8,1132.8M254.2,1087.1L255.4,1087.1L255.4,1096.2M272.4,1098.8L272.4,1119.7M320.9,1093.6L320.9,1098.8M320.9,1104L320.9,1124.9M336.5,1098.8L336.5,1104M337.9,1091L337.9,1096.2M385.1,1098.8L385.1,1119.7M400.7,1098.8L400.7,1109.2M400.7,1114.5L400.7,1132.8L403.2,1132.8M403.3,1087.1L402.1,1087.1L402.1,1091M441.5,1085.7L449.2,1085.7L449.2,1132.8L441.5,1132.8M436.2,1132.8L425.8,1132.8M447.9,1101.4L447.9,1117M467.4,1085.7L464.8,1085.7L464.8,1098.8M464.8,1104L464.8,1109.2M464.8,1124.9L464.8,1132.8L477.8,1132.8M466.2,1101.4L466.2,1106.6M513.4,1093.6L513.4,1098.8M513.4,1104L513.4,1124.9M529,1104L529,1132.8L542,1132.8M531.6,1087.1L530.4,1087.1L530.4,1096.2M530.4,1106.6L530.4,1131.4L536.8,1131.4M577.6,1093.6L577.6,1130.1M564.5,1087.1L569.7,1087.1M574.9,1087.1L576.2,1087.1L576.2,1101.4M576.2,1106.6L576.2,1117M39.2,1147.3L28.8,1147.3M15.8,1149.9L15.8,1155.2M15.8,1165.6L15.8,1176M15.8,1181.3L15.8,1194.4L34,1194.4M17.1,1157.8L17.1,1178.6M17.1,1183.8L17.1,1193L18.4,1193M61.8,1147.3L64.4,1147.3L64.4,1194.4L51.3,1194.4M63,1152.6L63,1163M63,1168.2L63,1183.8M79.9,1155.2L79.9,1194.4L92.9,1194.4M81.3,1163L81.3,1168.2M81.3,1173.4L81.3,1178.6M120.7,1147.3L128.5,1147.3L128.5,1194.4L120.7,1194.4M127.1,1157.8L127.1,1168.2M127.1,1183.8L127.1,1193L120.7,1193M151.8,1147.3L146.6,1147.3M144.1,1165.6L144.1,1194.4L151.8,1194.4M157.1,1194.4L162.3,1194.4M145.4,1152.6L145.4,1157.8M145.4,1178.6L145.4,1183.8M174.4,1147.3L184.9,1147.3M190.1,1147.3L192.6,1147.3L192.6,1186.5M192.6,1191.7L192.6,1194.4L184.9,1194.4M221.2,1147.3L216,1147.3M208.2,1155.2L208.2,1186.5M208.2,1191.7L208.2,1194.4L221.2,1194.4M226.4,1194.4L231.7,1194.4M209.6,1183.8L209.6,1189M254.2,1147.3L256.8,1147.3L256.8,1191.7M248.9,1148.7L254.2,1148.7M255.4,1163L255.4,1193L254.2,1193M285.4,1147.3L280.1,1147.3M274.9,1147.3L272.4,1147.3L272.4,1149.9M272.4,1170.8L272.4,1191.7M273.8,1183.8L273.8,1189M307.9,1147.3L320.9,1147.3L320.9,1155.2M320.9,1160.4L320.9,1170.8M320.9,1176L320.9,1194.4L318.4,1194.4M318.3,1148.7L319.6,1148.7L319.6,1152.6M319.6,1157.8L319.6,1173.4M319.6,1183.8L319.6,1189M336.5,1160.4L336.5,1191.7M337.9,1157.8L337.9,1163M337.9,1168.2L337.9,1183.8M361.6,1147.3L366.9,1147.3M382.5,1147.3L385.1,1147.3L385.1,1149.9M385.1,1160.4L385.1,1176M385.1,1181.3L385.1,1194.4L377.3,1194.4M383.7,1163L383.7,1173.4M383.7,1178.6L383.7,1183.8M366.8,1193L361.6,1193M413.7,1147.3L408.4,1147.3M400.7,1155.2L400.7,1176M400.7,1181.3L400.7,1191.7M403.2,1194.4L408.4,1194.4M413.7,1194.4L424.1,1194.4M402.1,1168.2L402.1,1173.4M449.2,1170.8L449.2,1191.7M446.7,1194.4L436.2,1194.4M446.6,1148.7L447.9,1148.7L447.9,1152.6M447.9,1168.2L447.9,1189M464.8,1149.9L464.8,1194.4L488.3,1194.4M488.3,1148.7L483.1,1148.7M472.7,1148.7L466.2,1148.7L466.2,1168.2M495.2,1147.3L500.4,1147.3M513.4,1165.6L513.4,1194.4L490,1194.4M512,1163L512,1168.2M512,1183.8L512,1189M542,1147.3L529,1147.3L529,1149.9M529,1160.4L529,1191.7M531.5,1194.4L536.7,1194.4M554.1,1147.3L577.6,1147.3L577.6,1176M577.6,1191.7L577.6,1194.4L575,1194.4M574.9,1148.7L576.2,1148.7L576.2,1157.8M576.2,1163L576.2,1189" stroke="#0000FF" stroke-width="1.55"/>
<path d="M23.5,654.5L18.3,654.5M15.8,672.9L15.8,683.3M15.8,693.8L15.8,701.7L23.5,701.7M34,701.7L39.2,701.7M17.1,659.9L17.1,680.7M17.1,685.9L17.1,700.2L18.4,700.2M23.6,700.2L28.8,700.2M40.9,654.5L46.1,654.5M56.6,654.5L61.8,654.5M64.4,672.9L64.4,678.1M46.1,701.7L40.9,701.7M40.9,656L61.7,656M63,659.9L63,670.3M63,696.3L63,700.2L46.1,700.2M92.9,654.5L82.5,654.5M87.7,701.7L92.9,701.7M98.2,656L93,656M87.8,656L81.3,656L81.3,659.9M81.3,685.9L81.3,696.3M82.6,700.2L93,700.2M105.1,654.5L115.5,654.5M120.7,654.5L128.5,654.5L128.5,672.9M128.5,693.8L128.5,701.7L110.3,701.7M127.1,680.7L127.1,685.9M162.3,654.5L151.8,654.5M144.1,683.3L144.1,688.5M151.8,701.7L162.3,701.7M151.9,656L145.4,656L145.4,685.9M174.4,654.5L184.9,654.5M190.1,701.7L169.2,701.7M190,656L191.2,656L191.2,665.1M191.2,675.5L191.2,685.9M184.8,700.2L179.6,700.2M208.2,678.1L208.2,683.3M221.2,701.7L231.7,701.7M226.5,656L221.2,656M216.1,656L210.9,656M209.6,670.3L209.6,691.1M221.2,700.2L226.4,700.2M238.6,654.5L256.8,654.5L256.8,657.2M256.8,678.1L256.8,701.7L254.2,701.7M249,701.7L238.6,701.7M248.9,656L255.4,656L255.4,670.3M255.4,680.7L255.4,685.9M255.4,691.1L255.4,700.2L254.2,700.2M290.6,654.5L285.4,654.5M280.1,654.5L274.9,654.5M272.4,657.2L272.4,672.9M272.4,678.1L272.4,683.3M280.2,656L273.8,656L273.8,659.9M273.8,675.5L273.8,685.9M273.8,691.1L273.8,696.3M318.4,654.5L320.9,654.5L320.9,662.4M318.3,656L319.6,656L319.6,659.9M319.6,680.7L319.6,696.3M354.7,654.5L349.5,654.5M344.3,654.5L339.1,654.5M336.5,693.8L336.5,701.7L349.5,701.7M349.6,656L337.9,656L337.9,659.9M337.9,680.7L337.9,696.3M372.1,654.5L377.3,654.5M385.1,662.4L385.1,672.9M377.3,701.7L372.1,701.7M383.7,665.1L383.7,670.3M383.7,685.9L383.7,691.1M418.9,654.5L413.7,654.5M408.4,654.5L403.2,654.5M400.7,672.9L400.7,678.1M400.7,683.3L400.7,693.8M400.7,699L400.7,701.7L424.1,701.7M403.3,656L402.1,656L402.1,659.9M402.1,670.3L402.1,675.5M425.8,654.5L431,654.5M449.2,688.5L449.2,693.8M449.2,699L449.2,701.7L441.5,701.7M436.2,701.7L425.8,701.7M447.9,659.9L447.9,670.3M447.9,675.5L447.9,685.9M446.6,700.2L441.4,700.2M488.3,654.5L483,654.5M464.8,693.8L464.8,701.7L477.8,701.7M466.2,665.1L466.2,696.3M472.7,700.2L477.9,700.2M505.6,654.5L510.8,654.5M513.4,657.2L513.4,672.9M513.4,699L513.4,701.7L510.8,701.7M505.6,656L510.8,656M510.8,700.2L505.6,700.2M552.4,654.5L547.2,654.5M529,662.4L529,667.7M529,683.3L529,693.8M542,701.7L547.2,701.7M530.4,659.9L530.4,665.1M530.4,670.3L530.4,680.7M530.4,696.3L530.4,700.2L531.6,700.2M554.1,654.5L564.5,654.5M577.6,683.3L577.6,701.7L575,701.7M569.8,701.7L564.5,701.7M564.5,656L576.2,656L576.2,691.1M576.2,696.3L576.2,700.2L564.5,700.2M28.8,716.1L18.3,716.1M15.8,734.5L15.8,763.2L18.3,763.2M34,763.2L39.2,763.2M28.8,717.5L23.6,717.5M17.1,731.9L17.1,737.1M17.1,742.3L17.1,752.7M17.1,757.9L17.1,761.8L23.6,761.8M51.3,716.1L56.6,716.1M64.4,755.4L64.4,763.2L56.6,763.2M56.5,717.5L63,717.5L63,721.5M63,731.9L63,737.1M63,742.3L63,752.7M98.1,716.1L87.7,716.1M82.5,716.1L79.9,716.1L79.9,718.8M79.9,724L79.9,739.7M81.3,726.7L81.3,737.1M128.5,724L128.5,729.2M128.5,755.4L128.5,760.6M115.5,717.5L120.7,717.5M127.1,721.5L127.1,726.7M127.1,731.9L127.1,742.3M127.1,747.5L127.1,752.7M144.1,744.9L144.1,750.1M145.4,731.9L145.4,747.5M145.4,752.7L145.4,757.9M184.9,716.1L192.6,716.1L192.6,718.8M192.6,739.7L192.6,744.9M190.1,763.2L184.9,763.2M191.2,721.5L191.2,731.9M216,716.1L208.2,716.1L208.2,734.5M208.2,739.7L208.2,744.9M210.8,763.2L221.2,763.2M209.6,731.9L209.6,742.3M256.8,724L256.8,734.5M256.8,750.1L256.8,763.2L249,763.2M255.4,721.5L255.4,726.7M255.4,742.3L255.4,747.5M255.4,752.7L255.4,757.9M254.2,761.8L243.8,761.8M280.1,716.1L272.4,716.1L272.4,718.8M272.4,724L272.4,729.2M272.4,755.4L272.4,763.2L285.4,763.2M320.9,718.8L320.9,729.2M320.9,750.1L320.9,755.4M319.6,726.7L319.6,731.9M319.6,752.7L319.6,761.8L318.3,761.8M349.5,716.1L344.3,716.1M336.5,718.8L336.5,724M336.5,760.6L336.5,763.2L344.3,763.2M337.9,747.5L337.9,761.8L344.3,761.8M372.1,716.1L382.5,716.1M385.1,718.8L385.1,724M385.1,760.6L385.1,763.2L372.1,763.2M383.7,721.5L383.7,726.7M383.7,731.9L383.7,742.3M383.7,752.7L383.7,761.8L382.4,761.8M377.2,761.8L372,761.8M413.7,716.1L408.4,716.1M403.2,716.1L400.7,716.1L400.7,718.8M400.7,744.9L400.7,750.1M400.7,760.6L400.7,763.2L403.2,763.2M418.9,717.5L408.5,717.5M402.1,721.5L402.1,731.9M402.1,742.3L402.1,747.5M402.1,752.7L402.1,757.9M436.2,716.1L446.7,716.1M449.2,755.4L449.2,760.6M446.7,763.2L441.5,763.2M447.9,721.5L447.9,726.7M447.9,731.9L447.9,737.1M447.9,747.5L447.9,761.8L441.4,761.8M488.3,716.1L483,716.1M477.8,716.1L472.6,716.1M464.8,750.1L464.8,760.6M477.9,717.5L467.5,717.5M466.2,726.7L466.2,731.9M466.2,752.7L466.2,757.9M505.6,716.1L510.8,716.1M513.4,718.8L513.4,724M513.4,760.6L513.4,763.2L500.4,763.2M490,717.5L495.2,717.5M505.6,717.5L510.8,717.5M512,731.9L512,742.3M512,757.9L512,761.8L510.8,761.8M542,716.1L531.5,716.1M529,739.7L529,744.9M529,750.1L529,755.4M529,760.6L529,763.2L531.5,763.2M542,763.2L547.2,763.2M542,717.5L536.8,717.5M531.6,717.5L530.4,717.5L530.4,731.9M530.4,737.1L530.4,747.5M530.4,757.9L530.4,761.8L531.6,761.8M536.8,761.8L547.2,761.8M559.3,716.1L575,716.1M577.6,718.8L577.6,739.7M564.5,763.2L554.1,763.2M574.9,717.5L576.2,717.5L576.2,721.5M576.2,731.9L576.2,742.3M576.2,752.7L576.2,757.9M574.9,761.8L569.7,761.8M39.2,777.7L34,777.7M28.8,777.7L23.5,777.7M15.8,780.4L15.8,785.6M23.6,779.1L18.4,779.1M17.1,783.1L17.1,798.7M17.1,803.9L17.1,809.1M23.6,823.4L28.8,823.4M40.9,777.7L51.3,777.7M64.4,780.4L64.4,790.8M56.6,824.8L46.1,824.8M46.1,779.1L51.3,779.1M56.5,779.1L61.7,779.1M63,788.3L63,793.5M63,809.1L63,819.5M56.5,823.4L46.1,823.4M79.9,780.4L79.9,796.1M79.9,801.3L79.9,806.5M79.9,811.7L79.9,816.9M82.5,824.8L92.9,824.8M82.6,779.1L81.3,779.1L81.3,783.1M81.3,788.3L81.3,798.7M128.5,780.4L128.5,790.8M125.9,824.8L120.7,824.8M127.1,803.9L127.1,809.1M151.8,777.7L146.6,777.7M151.8,824.8L157.1,824.8M151.9,779.1L146.7,779.1M145.4,809.1L145.4,814.3M145.4,819.5L145.4,823.4L146.7,823.4M174.4,777.7L184.9,777.7M192.6,785.6L192.6,796.1M192.6,806.5L192.6,824.8L184.9,824.8M191.2,783.1L191.2,793.5M191.2,798.7L191.2,819.5M190,823.4L174.4,823.4M216,777.7L210.8,777.7M208.2,790.8L208.2,806.5M208.2,811.7L208.2,816.9M208.2,822.2L208.2,824.8L210.8,824.8M209.6,798.7L209.6,803.9M256.8,785.6L256.8,790.8M256.8,806.5L256.8,822.2M254.2,779.1L255.4,779.1L255.4,783.1M272.4,785.6L272.4,790.8M272.4,811.7L272.4,816.9M273.8,793.5L273.8,803.9M320.9,780.4L320.9,790.8M320.9,801.3L320.9,806.5M320.9,811.7L320.9,822.2M344.3,777.7L336.5,777.7L336.5,801.3M337.9,793.5L337.9,803.9M337.9,819.5L337.9,823.4L339.1,823.4M385.1,785.6L385.1,790.8M385.1,806.5L385.1,824.8L377.3,824.8M383.7,783.1L383.7,788.3M383.7,803.9L383.7,809.1M418.9,777.7L400.7,777.7L400.7,796.1M400.7,801.3L400.7,816.9M403.2,824.8L408.4,824.8M418.9,779.1L408.5,779.1M403.3,779.1L402.1,779.1L402.1,783.1M402.1,793.5L402.1,798.7M402.1,803.9L402.1,809.1M449.2,785.6L449.2,790.8M449.2,822.2L449.2,824.8L431,824.8M446.6,779.1L447.9,779.1L447.9,819.5M483,777.7L472.6,777.7M464.8,780.4L464.8,790.8M464.8,811.7L464.8,824.8L467.4,824.8M472.6,824.8L477.8,824.8M513.4,785.6L513.4,806.5M513.4,816.9L513.4,822.2M495.2,824.8L490,824.8M512,788.3L512,793.5M529,816.9L529,824.8L542,824.8M547.2,824.8L552.4,824.8M531.6,779.1L530.4,779.1L530.4,793.5M530.4,819.5L530.4,823.4L542,823.4M554.1,777.7L559.3,777.7M564.5,777.7L569.8,777.7M575,777.7L577.6,777.7L577.6,780.4M559.3,779.1L564.5,779.1M576.2,783.1L576.2,788.3M576.2,819.5L576.2,823.4L574.9,823.4M15.8,857.6L15.8,873.3M15.8,883.8L15.8,886.4L18.3,886.4M28.8,886.4L34,886.4M18.4,840.7L17.1,840.7L17.1,844.7M17.1,849.9L17.1,855.1M17.1,860.3L17.1,870.7M64.4,842L64.4,862.9M64.4,878.5L64.4,886.4L61.8,886.4M56.5,840.7L61.7,840.7M63,855.1L63,860.3M63,875.9L63,881.1M61.7,885L56.5,885M82.5,839.3L79.9,839.3L79.9,842M79.9,847.2L79.9,852.4M79.9,873.3L79.9,883.8M81.3,849.9L81.3,870.7M120.7,839.3L125.9,839.3M128.5,842L128.5,847.2M128.5,857.6L128.5,873.3M127.1,870.7L127.1,875.9M144.1,847.2L144.1,862.9M144.1,868.1L144.1,873.3M144.1,878.5L144.1,883.8M145.4,855.1L145.4,865.5M192.6,842L192.6,852.4M192.6,857.6L192.6,862.9M192.6,878.5L192.6,883.8M216,839.3L210.8,839.3M208.2,842L208.2,847.2M208.2,868.1L208.2,873.3M209.6,855.1L209.6,860.3M209.6,865.5L209.6,870.7M256.8,852.4L256.8,868.1M256.8,873.3L256.8,886.4L254.2,886.4M272.4,847.2L272.4,857.6M272.4,862.9L272.4,873.3M273.8,855.1L273.8,865.5M320.9,862.9L320.9,868.1M319.6,855.1L319.6,860.3M339.1,839.3L336.5,839.3L336.5,842M336.5,862.9L336.5,868.1M337.9,855.1L337.9,865.5M337.9,870.7L337.9,875.9M337.9,881.1L337.9,885L339.1,885M385.1,847.2L385.1,862.9M385.1,868.1L385.1,873.3M382.4,840.7L383.7,840.7L383.7,844.7M383.7,855.1L383.7,860.3M403.2,839.3L400.7,839.3L400.7,878.5M400.7,883.8L400.7,886.4L403.2,886.4M402.1,865.5L402.1,870.7M449.2,842L449.2,852.4M449.2,873.3L449.2,878.5M464.8,847.2L464.8,852.4M466.2,844.7L466.2,860.3M466.2,870.7L466.2,875.9M513.4,842L513.4,852.4M513.4,873.3L513.4,878.5M513.4,883.8L513.4,886.4L510.8,886.4M512,849.9L512,855.1M512,865.5L512,881.1M529,842L529,852.4M536.7,886.4L547.2,886.4M531.6,840.7L530.4,840.7L530.4,844.7M554.1,839.3L569.8,839.3M575,839.3L577.6,839.3L577.6,842M577.6,847.2L577.6,852.4M577.6,883.8L577.6,886.4L564.5,886.4M576.2,844.7L576.2,849.9M576.2,860.3L576.2,870.7M574.9,885L564.5,885M23.5,900.9L18.3,900.9M18.3,948L28.8,948M17.1,911.5L17.1,937.5M61.8,900.9L64.4,900.9L64.4,908.8M63,916.7L63,921.9M63,927.1L63,932.3M63,942.7L63,946.6L56.5,946.6M79.9,908.8L79.9,914M79.9,919.2L79.9,940.1M79.9,945.3L79.9,948L82.5,948M81.3,916.7L81.3,921.9M128.5,929.7L128.5,945.3M127.1,906.3L127.1,911.5M127.1,916.7L127.1,927.1M144.1,908.8L144.1,914M144.1,924.5L144.1,934.9M145.4,906.3L145.4,916.7M145.4,927.1L145.4,946.6L146.7,946.6M190.1,900.9L192.6,900.9L192.6,908.8M191.2,911.5L191.2,916.7M191.2,937.5L191.2,942.7M221.2,900.9L210.8,900.9M208.2,919.2L208.2,924.5M208.2,929.7L208.2,945.3M256.8,908.8L256.8,914M256.8,934.9L256.8,940.1M255.4,932.3L255.4,942.7M274.9,900.9L272.4,900.9L272.4,903.6M272.4,919.2L272.4,924.5M320.9,914L320.9,924.5M339.1,900.9L336.5,900.9L336.5,903.6M336.5,924.5L336.5,929.7M337.9,916.7L337.9,932.3M385.1,903.6L385.1,908.8M385.1,919.2L385.1,929.7M385.1,934.9L385.1,945.3M383.7,911.5L383.7,916.7M383.7,927.1L383.7,932.3M400.7,908.8L400.7,919.2M400.7,934.9L400.7,945.3M402.1,921.9L402.1,932.3M449.2,908.8L449.2,914M449.2,919.2L449.2,924.5M449.2,929.7L449.2,934.9M449.2,945.3L449.2,948L446.7,948M464.8,929.7L464.8,945.3M513.4,908.8L513.4,914M513.4,919.2L513.4,924.5M513.4,929.7L513.4,934.9M513.4,940.1L513.4,945.3M531.5,900.9L529,900.9L529,903.6M529,919.2L529,929.7M529,934.9L529,940.1M531.5,948L536.7,948M531.6,902.3L530.4,902.3L530.4,911.5M530.4,916.7L530.4,942.7M569.8,900.9L575,900.9M577.6,903.6L577.6,908.8M577.6,914L577.6,919.2M577.6,924.5L577.6,934.9M577.6,940.1L577.6,945.3M569.7,902.3L574.9,902.3M576.2,906.3L576.2,916.7M576.2,927.1L576.2,937.5M23.5,962.5L15.8,962.5L15.8,970.4M18.3,1009.6L23.5,1009.6M17.1,967.9L17.1,973.1M17.1,978.3L17.1,983.5M17.1,993.9L17.1,999.1M56.6,962.5L61.8,962.5M64.4,986.1L64.4,996.5M64.4,1001.7L64.4,1009.6L61.8,1009.6M63,967.9L63,973.1M63,983.5L63,988.7M87.7,962.5L82.5,962.5M79.9,975.6L79.9,991.3M87.8,963.9L82.6,963.9M81.3,993.9L81.3,999.1M115.5,962.5L128.5,962.5L128.5,965.2M128.5,970.4L128.5,975.6M128.5,980.8L128.5,991.3M128.5,1001.7L128.5,1006.9M127.1,988.7L127.1,993.9M144.1,975.6L144.1,980.8M144.1,986.1L144.1,1006.9M192.6,980.8L192.6,996.5M191.2,978.3L191.2,988.7M208.2,980.8L208.2,986.1M208.2,996.5L208.2,1009.6L216,1009.6M256.8,975.6L256.8,980.8M256.8,996.5L256.8,1001.7M255.4,993.9L255.4,1004.3M272.4,965.2L272.4,970.4M272.4,975.6L272.4,980.8M272.4,991.3L272.4,1001.7M273.8,973.1L273.8,983.5M273.8,988.7L273.8,999.1M320.9,980.8L320.9,991.3M320.9,996.5L320.9,1001.7M319.6,988.7L319.6,993.9M319.6,999.1L319.6,1004.3M339.1,962.5L336.5,962.5L336.5,965.2M336.5,970.4L336.5,975.6M337.9,983.5L337.9,988.7M385.1,965.2L385.1,970.4M385.1,975.6L385.1,986.1M385.1,991.3L385.1,1001.7M383.7,983.5L383.7,988.7M400.7,996.5L400.7,1006.9M402.1,973.1L402.1,983.5M436.2,962.5L441.5,962.5M449.2,970.4L449.2,980.8M449.2,996.5L449.2,1009.6L446.7,1009.6M447.9,967.9L447.9,999.1M483,962.5L477.8,962.5M464.8,965.2L464.8,975.6M464.8,980.8L464.8,986.1M464.8,1006.9L464.8,1009.6L472.6,1009.6M477.8,1009.6L483,1009.6M466.2,999.1L466.2,1004.3M505.6,962.5L513.4,962.5L513.4,965.2M513.4,996.5L513.4,1006.9M505.6,1009.6L500.4,1009.6M510.8,963.9L512,963.9L512,967.9M512,978.3L512,983.5M512,999.1L512,1008.2L510.8,1008.2M542,962.5L536.7,962.5M529,965.2L529,975.6M529,991.3L529,996.5M529,1006.9L529,1009.6L542,1009.6M547.2,1009.6L552.4,1009.6M530.4,973.1L530.4,978.3M530.4,983.5L530.4,988.7M530.4,993.9L530.4,1004.2M577.6,986.1L577.6,991.3M576.2,967.9L576.2,973.1M576.2,983.5L576.2,999.1M18.3,1024.1L15.8,1024.1L15.8,1037.2M18.3,1071.2L28.8,1071.2M17.1,1039.8L17.1,1050.2M17.1,1065.8L17.1,1069.8L23.6,1069.8M64.4,1037.2L64.4,1042.4M64.4,1058.1L64.4,1071.2L61.8,1071.2M63,1029.4L63,1034.6M63,1039.8L63,1045M63,1065.8L63,1069.8L61.7,1069.8M79.9,1026.8L79.9,1032M79.9,1037.2L79.9,1047.6M79.9,1058.1L79.9,1071.2L82.5,1071.2M81.3,1039.8L81.3,1045M81.3,1050.2L81.3,1055.4M128.5,1042.4L128.5,1052.9M127.1,1045L127.1,1060.6M162.3,1024.1L146.6,1024.1M144.1,1042.4L144.1,1047.6M144.1,1068.5L144.1,1071.2L146.6,1071.2M157.1,1025.5L151.9,1025.5M145.4,1029.4L145.4,1050.2M145.4,1055.4L145.4,1060.6M146.7,1069.8L162.3,1069.8M174.4,1024.1L179.6,1024.1M184.9,1024.1L190.1,1024.1M192.6,1026.8L192.6,1032M192.6,1037.2L192.6,1047.6M184.9,1071.2L174.4,1071.2M190,1025.5L191.2,1025.5L191.2,1034.6M191.2,1039.8L191.2,1045M191.2,1050.2L191.2,1065.8M208.2,1042.4L208.2,1052.9M208.2,1058.1L208.2,1063.3M209.6,1034.6L209.6,1050.2M209.6,1055.4L209.6,1060.6M256.8,1042.4L256.8,1063.3M255.4,1039.8L255.4,1045M255.4,1055.4L255.4,1060.6M274.9,1024.1L272.4,1024.1L272.4,1026.8M272.4,1052.9L272.4,1058.1M272.4,1068.5L272.4,1071.2L280.1,1071.2M275,1025.5L273.8,1025.5L273.8,1029.4M273.8,1039.8L273.8,1045M273.8,1055.4L273.8,1065.8M313.2,1024.1L318.4,1024.1M339.1,1024.1L336.5,1024.1L336.5,1026.8M336.5,1063.3L336.5,1068.5M339.1,1071.2L344.3,1071.2M344.3,1025.5L339.1,1025.5M337.9,1029.4L337.9,1034.6M337.9,1039.8L337.9,1060.6M382.5,1024.1L385.1,1024.1L385.1,1042.4M385.1,1047.6L385.1,1052.9M383.7,1029.4L383.7,1034.6M383.7,1045L383.7,1050.2M408.4,1024.1L400.7,1024.1L400.7,1032M400.7,1047.6L400.7,1063.3M402.1,1045L402.1,1055.4M449.2,1026.8L449.2,1032M449.2,1042.4L449.2,1063.3M446.6,1025.5L447.9,1025.5L447.9,1029.4M447.9,1045L447.9,1055.4M464.8,1026.8L464.8,1037.2M464.8,1052.9L464.8,1071.2L472.6,1071.2M466.2,1045L466.2,1050.2M505.6,1024.1L510.8,1024.1M513.4,1026.8L513.4,1063.3M512,1039.8L512,1045M536.7,1024.1L529,1024.1L529,1026.8M529,1052.9L529,1068.5M542,1071.2L552.4,1071.2M530.4,1029.4L530.4,1039.8M530.4,1045L530.4,1050.2M530.4,1055.4L530.4,1060.6M554.1,1024.1L564.5,1024.1M577.6,1063.3L577.6,1068.5M575,1071.2L569.8,1071.2M574.9,1025.5L576.2,1025.5L576.2,1029.4M576.2,1034.6L576.2,1039.8M576.2,1045L576.2,1060.6M569.7,1069.8L564.5,1069.8M34,1085.7L28.8,1085.7M15.8,1093.6L15.8,1098.8M15.8,1130.1L15.8,1132.8L18.3,1132.8M23.6,1087.1L18.4,1087.1M17.1,1091L17.1,1101.4M17.1,1111.8L17.1,1117M17.1,1122.2L17.1,1131.4L18.4,1131.4M46.1,1085.7L64.4,1085.7L64.4,1098.8M64.4,1130.1L64.4,1132.8L61.8,1132.8M51.3,1132.8L40.9,1132.8M46.1,1087.1L63,1087.1L63,1091M63,1106.6L63,1111.8M63,1117L63,1122.2M63,1127.4L63,1131.4L61.7,1131.4M79.9,1088.3L79.9,1093.6M79.9,1098.8L79.9,1109.2M79.9,1114.5L79.9,1119.7M92.9,1132.8L98.1,1132.8M87.8,1087.1L82.6,1087.1M81.3,1111.8L81.3,1117M81.3,1122.2L81.3,1127.4M82.6,1131.4L87.8,1131.4M115.5,1085.7L125.9,1085.7M128.5,1093.6L128.5,1098.8M128.5,1109.2L128.5,1114.5M120.7,1132.8L115.5,1132.8M127.1,1091L127.1,1096.2M127.1,1106.6L127.1,1111.8M127.1,1117L127.1,1122.2M157.1,1085.7L151.8,1085.7M144.1,1088.3L144.1,1093.6M145.4,1091L145.4,1111.8M146.7,1131.4L157.1,1131.4M184.9,1085.7L192.6,1085.7L192.6,1093.6M192.6,1098.8L192.6,1104M192.6,1109.2L192.6,1114.5M192.6,1119.7L192.6,1130.1M184.8,1087.1L191.2,1087.1L191.2,1091M191.2,1101.4L191.2,1111.8M226.4,1085.7L210.8,1085.7M208.2,1088.3L208.2,1098.8M208.2,1104L208.2,1109.2M208.2,1114.5L208.2,1119.7M210.8,1132.8L216,1132.8M209.6,1096.2L209.6,1111.8M243.8,1085.7L254.2,1085.7M256.8,1104L256.8,1109.2M256.8,1130.1L256.8,1132.8L254.2,1132.8M255.4,1096.2L255.4,1117M272.4,1088.3L272.4,1098.8M272.4,1119.7L272.4,1130.1M274.9,1132.8L280.1,1132.8M273.8,1122.2L273.8,1127.4M307.9,1085.7L320.9,1085.7L320.9,1093.6M320.9,1098.8L320.9,1104M320.9,1124.9L320.9,1132.8L318.4,1132.8M319.6,1101.4L319.6,1117M336.5,1093.6L336.5,1098.8M336.5,1104L336.5,1124.9M337.9,1096.2L337.9,1101.4M337.9,1111.8L337.9,1127.4M382.5,1085.7L385.1,1085.7L385.1,1098.8M385.1,1119.7L385.1,1132.8L382.5,1132.8M383.7,1106.6L383.7,1117M424.1,1085.7L418.9,1085.7M403.2,1085.7L400.7,1085.7L400.7,1098.8M400.7,1109.2L400.7,1114.5M403.2,1132.8L418.9,1132.8M402.1,1101.4L402.1,1122.2M402.1,1127.4L402.1,1131.4L408.5,1131.4M425.8,1085.7L431,1085.7M441.5,1132.8L436.2,1132.8M447.9,1117L447.9,1122.2M472.6,1085.7L467.4,1085.7M464.8,1098.8L464.8,1104M464.8,1109.2L464.8,1114.5M477.8,1132.8L488.3,1132.8M483.1,1087.1L477.9,1087.1M466.2,1106.6L466.2,1111.8M500.4,1085.7L505.6,1085.7M513.4,1088.3L513.4,1093.6M513.4,1098.8L513.4,1104M513.4,1124.9L513.4,1132.8L510.8,1132.8M510.8,1087.1L512,1087.1L512,1091M536.7,1085.7L529,1085.7L529,1104M536.8,1087.1L531.6,1087.1M530.4,1101.4L530.4,1106.6M536.8,1131.4L547.2,1131.4M577.6,1088.3L577.6,1093.6M577.6,1130.1L577.6,1132.8L569.8,1132.8M569.7,1087.1L574.9,1087.1M576.2,1101.4L576.2,1106.6M576.2,1117L576.2,1131.4L574.9,1131.4M569.7,1131.4L559.3,1131.4M28.8,1147.3L23.5,1147.3M18.3,1147.3L15.8,1147.3L15.8,1149.9M15.8,1155.2L15.8,1165.6M15.8,1176L15.8,1181.3M34,1194.4L39.2,1194.4M18.4,1148.7L17.1,1148.7L17.1,1157.8M17.1,1178.6L17.1,1183.8M18.4,1193L23.6,1193M28.8,1193L34,1193M51.3,1194.4L46.1,1194.4M40.9,1148.7L56.5,1148.7M61.7,1148.7L63,1148.7L63,1152.6M63,1163L63,1168.2M63,1183.8L63,1193L51.3,1193M103.4,1147.3L98.1,1147.3M92.9,1147.3L79.9,1147.3L79.9,1155.2M92.9,1194.4L98.1,1194.4M87.8,1148.7L81.3,1148.7L81.3,1163M81.3,1168.2L81.3,1173.4M81.3,1183.8L81.3,1193L87.8,1193M105.1,1147.3L120.7,1147.3M120.7,1194.4L110.3,1194.4M120.7,1148.7L127.1,1148.7L127.1,1157.8M127.1,1168.2L127.1,1183.8M115.5,1193L110.3,1193M162.3,1147.3L151.8,1147.3M146.6,1147.3L144.1,1147.3L144.1,1155.2M151.8,1194.4L157.1,1194.4M162.3,1194.4L167.5,1194.4M151.9,1148.7L146.7,1148.7M145.4,1163L145.4,1173.4M145.4,1183.8L145.4,1189M162.3,1193L167.5,1193M169.2,1147.3L174.4,1147.3M192.6,1186.5L192.6,1191.7M184.9,1194.4L174.4,1194.4M179.6,1148.7L184.8,1148.7M190,1148.7L191.2,1148.7L191.2,1157.8M191.2,1163L191.2,1189M216,1147.3L208.2,1147.3L208.2,1155.2M208.2,1186.5L208.2,1191.7M221.2,1194.4L226.4,1194.4M209.6,1163L209.6,1183.8M210.9,1193L226.4,1193M238.6,1147.3L243.8,1147.3M249,1147.3L254.2,1147.3M256.8,1191.7L256.8,1194.4L249,1194.4M243.8,1148.7L248.9,1148.7M254.2,1148.7L255.4,1148.7L255.4,1163M254.2,1193L248.9,1193M295.8,1147.3L285.4,1147.3M272.4,1149.9L272.4,1155.2M272.4,1160.4L272.4,1165.6M272.4,1191.7L272.4,1194.4L280.1,1194.4M280.2,1148.7L273.8,1148.7L273.8,1157.8M273.8,1168.2L273.8,1178.6M273.8,1189L273.8,1193L280.2,1193M320.9,1155.2L320.9,1160.4M320.9,1170.8L320.9,1176M318.4,1194.4L313.2,1194.4M319.6,1152.6L319.6,1157.8M319.6,1173.4L319.6,1183.8M319.6,1189L319.6,1193L318.3,1193M354.7,1147.3L344.3,1147.3M339.1,1147.3L336.5,1147.3L336.5,1160.4M336.5,1191.7L336.5,1194.4L354.7,1194.4M349.6,1148.7L337.9,1148.7L337.9,1157.8M337.9,1163L337.9,1168.2M337.9,1183.8L337.9,1193L339.1,1193M366.9,1147.3L382.5,1147.3M385.1,1149.9L385.1,1160.4M385.1,1176L385.1,1181.3M366.9,1194.4L361.6,1194.4M383.7,1152.6L383.7,1163M383.7,1173.4L383.7,1178.6M383.7,1183.8L383.7,1193L382.4,1193M377.2,1193L366.8,1193M424.1,1147.3L418.9,1147.3M408.4,1147.3L400.7,1147.3L400.7,1155.2M400.7,1176L400.7,1181.3M408.4,1194.4L413.7,1194.4M403.3,1148.7L402.1,1148.7L402.1,1168.2M402.1,1173.4L402.1,1178.6M436.2,1147.3L446.7,1147.3M449.2,1155.2L449.2,1170.8M449.2,1191.7L449.2,1194.4L446.7,1194.4M441.4,1148.7L446.6,1148.7M447.9,1152.6L447.9,1157.8M447.9,1163L447.9,1168.2M447.9,1189L447.9,1193L441.4,1193M488.3,1147.3L472.6,1147.3M483.1,1148.7L472.7,1148.7M466.2,1168.2L466.2,1178.6M466.2,1183.8L466.2,1193L483.1,1193M490,1147.3L495.2,1147.3M500.4,1147.3L513.4,1147.3L513.4,1155.2M513.4,1160.4L513.4,1165.6M512,1157.8L512,1163M512,1168.2L512,1183.8M512,1189L512,1193L500.4,1193M552.4,1147.3L542,1147.3M529,1149.9L529,1160.4M529,1191.7L529,1194.4L531.5,1194.4M536.7,1194.4L552.4,1194.4M536.8,1148.7L530.4,1148.7L530.4,1152.6M530.4,1163L530.4,1173.4M530.4,1183.8L530.4,1189M547.2,1193L552.4,1193M577.6,1176L577.6,1191.7M576.2,1157.8L576.2,1163M576.2,1189L576.2,1193L574.9,1193" stroke="#0040FF" stroke-width="1.55"/>
<path d="M34,700.2L39.2,700.2M275,700.2L290.6,700.2M297.5,656L302.7,656M318.3,700.2L302.7,700.2M382.4,700.2L366.8,700.2M39.2,717.5L34,717.5M46.1,761.8L40.9,761.8M103.4,716.1L98.1,716.1M93,761.8L103.4,761.8M105.1,716.1L110.3,716.1M120.7,761.8L115.5,761.8M162.3,716.1L157.1,716.1M157.1,763.2L167.5,763.2M151.9,717.5L146.7,717.5M157.1,761.8L162.3,761.8M179.6,763.2L174.4,763.2M169.2,717.5L184.8,717.5M191.2,757.9L191.2,761.8L190,761.8M226.5,717.5L221.2,717.5M216.1,761.8L221.2,761.8M238.6,763.2L233.3,763.2M233.3,717.5L243.8,717.5M238.6,761.8L233.3,761.8M295.8,716.1L290.6,716.1M285.4,763.2L290.6,763.2M290.6,717.5L280.2,717.5M273.8,757.9L273.8,761.8L285.4,761.8M297.5,716.1L307.9,716.1M313.1,761.8L307.9,761.8M354.8,717.5L344.3,717.5M354.8,761.8L359.9,761.8M361.6,717.5L366.8,717.5M372,717.5L377.2,717.5M418.9,763.2L424.1,763.2M431,763.2L425.8,763.2M431,717.5L436.2,717.5M441.4,717.5L446.6,717.5M431,761.8L425.8,761.8M483.1,761.8L488.3,761.8M98.2,779.1L87.8,779.1M98.2,823.4L103.4,823.4M120.7,777.7L125.9,777.7M110.3,779.1L115.5,779.1M120.7,779.1L125.8,779.1M167.5,777.7L162.3,777.7M167.5,779.1L162.3,779.1M146.7,779.1L145.4,779.1L145.4,783.1M174.4,779.1L179.6,779.1M231.7,777.7L226.4,777.7M226.4,824.8L231.7,824.8M221.2,779.1L216.1,779.1M209.6,783.1L209.6,788.3M243.8,779.1L248.9,779.1M243.8,823.4L233.3,823.4M272.4,822.2L272.4,824.8L280.1,824.8M285.4,824.8L295.8,824.8M285.4,779.1L280.2,779.1M280.2,823.4L285.4,823.4M297.5,777.7L302.7,777.7M320.9,822.2L320.9,824.8L318.4,824.8M307.9,779.1L318.3,779.1M313.1,823.4L307.9,823.4M344.3,824.8L359.9,824.8M354.8,779.1L344.3,779.1M372,779.1L377.2,779.1M372,823.4L366.8,823.4M413.7,824.8L424.1,824.8M402.1,819.5L402.1,823.4L403.3,823.4M418.9,823.4L424.1,823.4M542,823.4L547.2,823.4M39.2,839.3L34,839.3M18.4,885L34,885M40.9,840.7L46.1,840.7M46.1,885L40.9,885M92.9,839.3L87.7,839.3M82.6,885L87.8,885M115.5,886.4L110.3,886.4M127.1,881.1L127.1,885L115.5,885M167.5,839.3L162.3,839.3M151.8,886.4L162.3,886.4M157.1,840.7L151.9,840.7M146.7,885L157.1,885M184.9,839.3L190.1,839.3M179.6,886.4L169.2,886.4M184.8,840.7L190,840.7M191.2,881.1L191.2,885L190,885M179.6,885L174.4,885M216,886.4L221.2,886.4M243.8,839.3L249,839.3M238.6,886.4L233.3,886.4M274.9,886.4L280.1,886.4M290.6,840.7L285.4,840.7M273.8,875.9L273.8,881.1M302.7,839.3L307.9,839.3M320.9,873.3L320.9,878.5M313.2,886.4L307.9,886.4M319.6,865.5L319.6,870.7M319.6,875.9L319.6,881.1M318.3,885L313.1,885M359.9,839.3L354.7,839.3M359.9,840.7L349.6,840.7M344.3,840.7L339.1,840.7M344.3,885L359.9,885M366.9,839.3L372.1,839.3M366.9,886.4L361.6,886.4M361.6,840.7L366.8,840.7M366.8,885L361.6,885M418.9,886.4L424.1,886.4M408.5,840.7L403.3,840.7M413.7,885L418.9,885M441.5,839.3L446.7,839.3M436.2,886.4L431,886.4M446.6,840.7L447.9,840.7L447.9,844.7M441.4,885L431,885M488.3,839.3L472.6,839.3M472.6,886.4L488.3,886.4M488.3,840.7L483.1,840.7M477.9,840.7L472.7,840.7M477.9,885L483.1,885M495.2,886.4L490,886.4M500.4,840.7L505.6,840.7M505.6,885L495.2,885M552.4,840.7L547.2,840.7M559.3,885L554.1,885M34,948L39.2,948M39.2,902.3L34,902.3M23.6,902.3L18.4,902.3M34,946.6L39.2,946.6M40.9,902.3L46.1,902.3M51.3,946.6L40.9,946.6M103.4,900.9L98.1,900.9M92.9,900.9L87.7,900.9M92.9,948L103.4,948M98.2,902.3L93,902.3M98.2,946.6L103.4,946.6M105.1,900.9L110.3,900.9M115.5,900.9L120.7,900.9M125.9,948L115.5,948M105.1,902.3L115.5,902.3M120.7,946.6L115.5,946.6M162.3,900.9L157.1,900.9M151.8,948L162.3,948M162.3,902.3L151.9,902.3M169.2,900.9L174.4,900.9M174.4,948L169.2,948M179.6,902.3L184.8,902.3M190,946.6L179.6,946.6M231.7,900.9L226.4,900.9M210.8,948L216,948M221.2,948L226.4,948M209.6,932.3L209.6,937.5M209.6,942.7L209.6,946.6L210.9,946.6M243.8,948L238.6,948M248.9,902.3L254.2,902.3M248.9,946.6L238.6,946.6M290.6,900.9L285.4,900.9M273.8,937.5L273.8,946.6L285.4,946.6M318.4,900.9L320.9,900.9L320.9,903.6M313.2,948L302.7,948M318.3,902.3L319.6,902.3L319.6,906.3M319.6,916.7L319.6,921.9M349.5,900.9L344.3,900.9M349.5,948L354.7,948M359.9,902.3L354.8,902.3M349.6,902.3L337.9,902.3L337.9,906.3M337.9,942.7L337.9,946.6L339.1,946.6M372.1,900.9L377.3,900.9M372,902.3L377.2,902.3M382.4,946.6L377.2,946.6M418.9,900.9L413.7,900.9M413.7,902.3L402.1,902.3L402.1,906.3M413.7,946.6L418.9,946.6M436.2,900.9L441.5,900.9M436.2,948L431,948M446.6,946.6L436.2,946.6M488.3,900.9L483,900.9M472.6,948L477.8,948M483.1,902.3L477.9,902.3M472.7,946.6L483.1,946.6M490,900.9L505.6,900.9M490,902.3L510.8,902.3M552.4,900.9L547.2,900.9M542,948L547.2,948M542,946.6L547.2,946.6M574.9,946.6L564.5,946.6M559.3,946.6L554.1,946.6M34,963.9L18.4,963.9M18.4,1008.2L23.6,1008.2M46.1,963.9L51.3,963.9M61.7,1008.2L56.5,1008.2M98.1,962.5L92.9,962.5M87.8,1008.2L93,1008.2M105.1,962.5L110.3,962.5M115.5,1009.6L105.1,1009.6M105.1,963.9L120.7,963.9M120.7,1008.2L115.5,1008.2M110.3,1008.2L105.1,1008.2M151.8,1009.6L157.1,1009.6M162.3,963.9L157.1,963.9M145.4,973.1L145.4,978.3M145.4,1004.3L145.4,1008.2L146.7,1008.2M157.1,1008.2L162.3,1008.2M179.6,962.5L184.9,962.5M184.9,1009.6L179.6,1009.6M190,963.9L191.2,963.9L191.2,967.9M191.2,973.1L191.2,978.3M191.2,988.7L191.2,999.1M226.4,962.5L216,962.5M216,1009.6L226.4,1009.6M226.5,963.9L221.2,963.9M210.9,963.9L209.6,963.9L209.6,967.9M238.6,962.5L249,962.5M256.8,1006.9L256.8,1009.6L243.8,1009.6M238.5,963.9L243.8,963.9M254.2,963.9L255.4,963.9L255.4,973.1M254.2,1008.2L243.8,1008.2M295.8,962.5L285.4,962.5M280.1,962.5L274.9,962.5M285.4,1009.6L290.6,1009.6M285.4,963.9L280.2,963.9M273.8,967.9L273.8,973.1M290.6,1008.2L295.8,1008.2M297.5,962.5L302.7,962.5M318.4,1009.6L313.2,1009.6M302.7,963.9L319.6,963.9L319.6,973.1M313.1,1008.2L302.7,1008.2M354.7,962.5L344.3,962.5M336.5,1006.9L336.5,1009.6L339.1,1009.6M354.7,1009.6L359.9,1009.6M339.1,963.9L337.9,963.9L337.9,967.9M339.1,1008.2L349.5,1008.2M361.6,962.5L366.9,962.5M372.1,962.5L377.3,962.5M377.2,963.9L382.4,963.9M383.7,967.9L383.7,978.3M382.4,1008.2L377.2,1008.2M372,1008.2L366.8,1008.2M403.2,1009.6L424.1,1009.6M424.1,963.9L418.9,963.9M413.7,963.9L402.1,963.9L402.1,967.9M403.3,1008.2L408.5,1008.2M413.7,1008.2L424.1,1008.2M431,1009.6L425.8,1009.6M431,963.9L436.2,963.9M447.9,1004.3L447.9,1008.2L446.6,1008.2M441.4,1008.2L436.2,1008.2M490,962.5L495.2,962.5M510.8,1009.6L505.6,1009.6M495.2,963.9L500.4,963.9M547.2,1008.2L552.4,1008.2M564.5,1008.2L554.1,1008.2M28.8,1025.5L23.6,1025.5M51.3,1025.5L61.7,1025.5M51.3,1069.8L46.1,1069.8M103.4,1024.1L92.9,1024.1M92.9,1071.2L98.1,1071.2M98.2,1025.5L93,1025.5M87.8,1025.5L82.6,1025.5M82.6,1069.8L98.2,1069.8M105.1,1024.1L120.7,1024.1M110.3,1025.5L127.1,1025.5L127.1,1029.4M169.2,1025.5L174.4,1025.5M179.6,1069.8L174.4,1069.8M226.4,1024.1L221.2,1024.1M221.2,1071.2L226.4,1071.2M231.7,1025.5L226.5,1025.5M221.2,1025.5L216.1,1025.5M209.6,1065.8L209.6,1069.8L210.9,1069.8M216.1,1069.8L231.7,1069.8M238.6,1024.1L256.8,1024.1L256.8,1026.8M243.8,1071.2L238.6,1071.2M255.4,1065.8L255.4,1069.8L254.2,1069.8M243.8,1069.8L233.3,1069.8M290.6,1024.1L280.1,1024.1M295.8,1025.5L290.6,1025.5M297.5,1024.1L302.7,1024.1M302.7,1071.2L297.5,1071.2M313.1,1069.8L307.9,1069.8M359.9,1024.1L354.7,1024.1M359.9,1025.5L349.6,1025.5M354.8,1069.8L359.9,1069.8M361.6,1024.1L372.1,1024.1M361.6,1025.5L372,1025.5M377.2,1069.8L361.6,1069.8M418.9,1025.5L413.7,1025.5M413.7,1069.8L418.9,1069.8M441.5,1024.1L446.7,1024.1M446.6,1069.8L441.4,1069.8M436.2,1069.8L425.8,1069.8M488.3,1024.1L483,1024.1M488.3,1025.5L483.1,1025.5M466.2,1060.6L466.2,1065.8M483.1,1069.8L488.3,1069.8M495.2,1071.2L490,1071.2M512,1060.6L512,1065.8M505.6,1069.8L500.4,1069.8M529,1026.8L529,1032M103.4,1085.7L98.1,1085.7M103.4,1087.1L98.2,1087.1M105.1,1087.1L115.5,1087.1M110.3,1131.4L105.1,1131.4M167.5,1087.1L151.9,1087.1M174.4,1132.8L169.2,1132.8M190,1131.4L174.4,1131.4M231.7,1087.1L221.2,1087.1M226.4,1131.4L231.7,1131.4M233.3,1087.1L238.5,1087.1M238.6,1131.4L233.3,1131.4M295.8,1087.1L290.6,1087.1M275,1131.4L280.2,1131.4M285.4,1131.4L290.6,1131.4M302.7,1132.8L297.5,1132.8M302.7,1087.1L307.9,1087.1M313.1,1131.4L307.9,1131.4M344.3,1132.8L349.5,1132.8M359.9,1087.1L339.1,1087.1M339.1,1131.4L349.5,1131.4M366.9,1085.7L372.1,1085.7M372.1,1132.8L366.9,1132.8M372,1087.1L382.4,1087.1M383.7,1091L383.7,1096.2M382.4,1131.4L377.2,1131.4M418.9,1087.1L413.7,1087.1M413.7,1131.4L424.1,1131.4M431,1131.4L425.8,1131.4M467.5,1131.4L472.7,1131.4M495.2,1132.8L490,1132.8M495.2,1131.4L490,1131.4M169.2,1148.7L174.4,1148.7M179.6,1193L169.2,1193M248.9,1193L243.8,1193M238.6,1193L233.3,1193M295.8,1148.7L290.6,1148.7M297.5,1148.7L302.7,1148.7M307.9,1148.7L313.1,1148.7M349.5,1193L354.8,1193M425.8,1148.7L431,1148.7M490,1148.7L495.2,1148.7" stroke="#00FFD2" stroke-width="1.55"/>
<path d="M61.8,654.5L64.4,654.5L64.4,657.2M103.4,654.5L98.1,654.5M103.4,656L98.2,656M110.3,656L120.7,656M125.8,700.2L115.5,700.2M110.3,700.2L105.1,700.2M146.6,654.5L144.1,654.5L144.1,657.2M145.4,696.3L145.4,700.2L157.1,700.2M162.3,700.2L167.5,700.2M169.2,654.5L174.4,654.5M184.8,656L190,656M226.4,654.5L221.2,654.5M231.7,656L226.5,656M209.6,691.1L209.6,696.3M238.6,701.7L233.3,701.7M255.4,670.3L255.4,675.5M254.2,700.2L243.8,700.2M238.6,700.2L233.3,700.2M295.8,654.5L290.6,654.5M272.4,699L272.4,701.7L274.9,701.7M280.1,701.7L295.8,701.7M297.5,654.5L302.7,654.5M320.9,693.8L320.9,699M318.4,701.7L307.9,701.7M302.7,701.7L297.5,701.7M302.7,656L307.9,656M319.6,696.3L319.6,700.2L318.3,700.2M344.3,700.2L349.5,700.2M361.6,654.5L366.9,654.5M382.4,656L383.7,656L383.7,659.9M383.7,696.3L383.7,700.2L382.4,700.2M424.1,654.5L418.9,654.5M424.1,656L403.3,656M425.8,656L431,656M441.4,656L446.6,656M431,700.2L425.8,700.2M488.3,656L466.2,656L466.2,665.1M466.2,696.3L466.2,700.2L467.5,700.2M483.1,700.2L488.3,700.2M490,654.5L495.2,654.5M490,656L495.2,656M512,691.1L512,696.3M505.6,700.2L500.4,700.2M495.2,700.2L490,700.2M547.2,701.7L552.4,701.7M531.6,700.2L542,700.2M547.2,700.2L552.4,700.2M554.1,656L559.3,656M559.3,700.2L554.1,700.2M18.3,763.2L23.5,763.2M18.4,717.5L17.1,717.5L17.1,721.5M23.6,761.8L39.2,761.8M46.1,716.1L51.3,716.1M56.6,763.2L46.1,763.2M40.9,717.5L56.5,717.5M63,752.7L63,761.8L51.3,761.8M92.9,763.2L98.1,763.2M93,717.5L87.8,717.5M81.3,747.5L81.3,757.9M87.8,761.8L93,761.8M125.9,716.1L128.5,716.1L128.5,718.8M128.5,729.2L128.5,734.5M120.7,763.2L115.5,763.2M110.3,763.2L105.1,763.2M127.1,752.7L127.1,757.9M125.8,761.8L120.7,761.8M115.5,761.8L105.1,761.8M157.1,716.1L151.8,716.1M146.6,716.1L144.1,716.1L144.1,718.8M146.6,763.2L157.1,763.2M145.4,747.5L145.4,752.7M146.7,761.8L157.1,761.8M174.4,716.1L179.6,716.1M192.6,729.2L192.6,734.5M174.4,763.2L169.2,763.2M190,717.5L191.2,717.5L191.2,721.5M191.2,752.7L191.2,757.9M226.4,716.1L221.2,716.1M226.4,763.2L231.7,763.2M221.2,717.5L209.6,717.5L209.6,721.5M209.6,757.9L209.6,761.8L210.9,761.8M233.3,716.1L243.8,716.1M254.2,716.1L256.8,716.1L256.8,718.8M243.8,763.2L238.6,763.2M243.8,717.5L248.9,717.5M243.8,761.8L238.6,761.8M290.6,716.1L285.4,716.1M280.2,717.5L273.8,717.5L273.8,726.7M273.8,731.9L273.8,747.5M273.8,752.7L273.8,757.9M313.2,716.1L318.4,716.1M320.9,755.4L320.9,760.6M307.9,763.2L297.5,763.2M318.3,717.5L319.6,717.5L319.6,721.5M319.6,737.1L319.6,742.3M318.3,761.8L313.1,761.8M359.9,716.1L354.7,716.1M344.3,763.2L359.9,763.2M344.3,717.5L339.1,717.5M366.8,717.5L372,717.5M424.1,716.1L418.9,716.1M403.3,761.8L408.5,761.8M413.7,761.8L418.9,761.8M425.8,716.1L431,716.1M436.2,717.5L441.4,717.5M446.6,717.5L447.9,717.5L447.9,721.5M447.9,742.3L447.9,747.5M441.4,761.8L431,761.8M472.6,763.2L488.3,763.2M488.3,717.5L483.1,717.5M467.5,761.8L483.1,761.8M495.2,763.2L490,763.2M495.2,717.5L500.4,717.5M510.8,761.8L505.6,761.8M547.2,716.1L542,716.1M547.2,763.2L552.4,763.2M559.3,761.8L554.1,761.8M23.5,824.8L28.8,824.8M40.9,779.1L46.1,779.1M92.9,824.8L103.4,824.8M87.8,779.1L82.6,779.1M81.3,814.3L81.3,823.4L82.6,823.4M93,823.4L98.2,823.4M110.3,777.7L120.7,777.7M110.3,824.8L105.1,824.8M125.8,779.1L127.1,779.1L127.1,783.1M127.1,793.5L127.1,798.7M115.5,823.4L110.3,823.4M162.3,824.8L167.5,824.8M162.3,779.1L151.9,779.1M145.4,783.1L145.4,788.3M151.9,823.4L162.3,823.4M174.4,824.8L169.2,824.8M179.6,779.1L190,779.1M226.4,777.7L221.2,777.7M210.8,824.8L226.4,824.8M216.1,779.1L209.6,779.1L209.6,783.1M209.6,793.5L209.6,798.7M209.6,814.3L209.6,823.4L210.9,823.4M216.1,823.4L221.2,823.4M238.6,777.7L254.2,777.7M254.2,824.8L243.8,824.8M248.9,779.1L254.2,779.1M255.4,783.1L255.4,793.5M254.2,823.4L243.8,823.4M295.8,777.7L280.1,777.7M272.4,780.4L272.4,785.6M272.4,816.9L272.4,822.2M280.2,779.1L275,779.1M273.8,788.3L273.8,793.5M313.2,824.8L302.7,824.8M318.3,779.1L319.6,779.1L319.6,783.1M319.6,809.1L319.6,814.3M318.3,823.4L313.1,823.4M359.9,777.7L349.5,777.7M339.1,824.8L344.3,824.8M344.3,779.1L337.9,779.1L337.9,783.1M354.8,823.4L359.9,823.4M361.6,777.7L366.9,777.7M372.1,777.7L382.5,777.7M366.9,824.8L361.6,824.8M377.2,779.1L382.4,779.1M383.7,819.5L383.7,823.4L382.4,823.4M403.3,823.4L413.7,823.4M425.8,777.7L431,777.7M431,824.8L425.8,824.8M425.8,779.1L436.2,779.1M431,823.4L425.8,823.4M483.1,779.1L477.9,779.1M477.9,823.4L483.1,823.4M490,777.7L495.2,777.7M490,779.1L495.2,779.1M512,819.5L512,823.4L500.4,823.4M552.4,779.1L547.2,779.1M530.4,798.7L530.4,803.9M547.2,823.4L552.4,823.4M569.8,824.8L564.5,824.8M554.1,779.1L559.3,779.1M39.2,840.7L18.4,840.7M56.6,886.4L46.1,886.4M61.7,840.7L63,840.7L63,849.9M56.5,885L46.1,885M98.1,839.3L92.9,839.3M87.7,839.3L82.5,839.3M82.5,886.4L98.1,886.4M81.3,881.1L81.3,885L82.6,885M105.1,839.3L115.5,839.3M128.5,883.8L128.5,886.4L115.5,886.4M115.5,840.7L127.1,840.7L127.1,844.7M127.1,875.9L127.1,881.1M162.3,839.3L151.8,839.3M162.3,886.4L167.5,886.4M151.9,840.7L146.7,840.7M145.4,844.7L145.4,849.9M145.4,875.9L145.4,885L146.7,885M190.1,839.3L192.6,839.3L192.6,842M190.1,886.4L184.9,886.4M191.2,844.7L191.2,855.1M191.2,870.7L191.2,881.1M184.8,885L179.6,885M226.4,839.3L221.2,839.3M208.2,878.5L208.2,883.8M210.8,886.4L216,886.4M221.2,840.7L209.6,840.7L209.6,849.9M209.6,870.7L209.6,885L210.9,885M249,839.3L254.2,839.3M256.8,847.2L256.8,852.4M249,886.4L238.6,886.4M255.4,849.9L255.4,855.1M255.4,860.3L255.4,870.7M255.4,881.1L255.4,885L254.2,885M274.9,839.3L272.4,839.3L272.4,842M272.4,873.3L272.4,883.8M285.4,840.7L275,840.7M273.8,870.7L273.8,875.9M273.8,881.1L273.8,885L275,885M313.2,839.3L318.4,839.3M320.9,868.1L320.9,873.3M320.9,878.5L320.9,886.4L318.4,886.4M318.3,840.7L319.6,840.7L319.6,849.9M319.6,870.7L319.6,875.9M354.7,839.3L349.5,839.3M336.5,873.3L336.5,878.5M336.5,883.8L336.5,886.4L339.1,886.4M349.5,886.4L359.9,886.4M349.6,840.7L344.3,840.7M339.1,840.7L337.9,840.7L337.9,849.9M361.6,839.3L366.9,839.3M372.1,839.3L382.5,839.3M366.8,840.7L377.2,840.7M383.7,881.1L383.7,885L372,885M418.9,839.3L408.4,839.3M408.4,886.4L418.9,886.4M403.3,885L413.7,885M446.7,839.3L449.2,839.3L449.2,842M436.2,840.7L446.6,840.7M447.9,844.7L447.9,849.9M447.9,855.1L447.9,860.3M447.9,865.5L447.9,885L441.4,885M467.4,839.3L464.8,839.3L464.8,847.2M464.8,878.5L464.8,886.4L472.6,886.4M483.1,840.7L477.9,840.7M472.7,840.7L467.5,840.7M466.2,881.1L466.2,885L477.9,885M495.2,839.3L510.8,839.3M505.6,886.4L495.2,886.4M495.2,840.7L500.4,840.7M510.8,885L505.6,885M547.2,840.7L542,840.7M564.5,886.4L554.1,886.4M39.2,900.9L34,900.9M28.8,948L34,948M28.8,902.3L23.6,902.3M18.4,902.3L17.1,902.3L17.1,906.3M17.1,942.7L17.1,946.6L34,946.6M46.1,900.9L51.3,900.9M64.4,945.3L64.4,948L51.3,948M46.1,902.3L51.3,902.3M63,906.3L63,911.5M56.5,946.6L51.3,946.6M98.1,900.9L92.9,900.9M87.7,900.9L82.5,900.9M93,902.3L87.8,902.3M82.6,902.3L81.3,902.3L81.3,906.3M81.3,927.1L81.3,932.3M82.6,946.6L98.2,946.6M120.7,900.9L125.9,900.9M115.5,902.3L125.8,902.3M127.1,937.5L127.1,942.7M125.8,946.6L120.7,946.6M115.5,946.6L110.3,946.6M157.1,900.9L151.8,900.9M144.1,934.9L144.1,948L151.8,948M151.9,902.3L146.7,902.3M145.4,921.9L145.4,927.1M151.9,946.6L157.1,946.6M174.4,900.9L190.1,900.9M192.6,945.3L192.6,948L190.1,948M184.9,948L174.4,948M191.2,942.7L191.2,946.6L190,946.6M226.4,900.9L221.2,900.9M208.2,903.6L208.2,914M216,948L221.2,948M216.1,902.3L209.6,902.3L209.6,906.3M210.9,946.6L216.1,946.6M249,900.9L256.8,900.9L256.8,903.6M256.8,945.3L256.8,948L254.2,948M249,948L243.8,948M243.8,902.3L248.9,902.3M254.2,902.3L255.4,902.3L255.4,906.3M255.4,911.5L255.4,921.9M254.2,946.6L248.9,946.6M280.1,900.9L274.9,900.9M272.4,940.1L272.4,945.3M275,902.3L273.8,902.3L273.8,916.7M273.8,927.1L273.8,937.5M320.9,903.6L320.9,908.8M318.4,948L313.2,948M319.6,906.3L319.6,911.5M319.6,921.9L319.6,932.3M336.5,934.9L336.5,945.3M344.3,948L349.5,948M354.8,902.3L349.6,902.3M337.9,937.5L337.9,942.7M339.1,946.6L344.3,946.6M377.3,900.9L382.5,900.9M382.5,948L372.1,948M377.2,902.3L383.7,902.3L383.7,911.5M413.7,900.9L408.4,900.9M403.2,948L408.4,948M413.7,948L424.1,948M402.1,906.3L402.1,916.7M402.1,942.7L402.1,946.6L413.7,946.6M446.7,948L436.2,948M436.2,902.3L441.4,902.3M446.6,902.3L447.9,902.3L447.9,911.5M447.9,927.1L447.9,946.6L446.6,946.6M483,900.9L477.8,900.9M467.4,948L472.6,948M477.8,948L488.3,948M466.2,916.7L466.2,932.3M466.2,937.5L466.2,946.6L472.7,946.6M505.6,900.9L513.4,900.9L513.4,903.6M505.6,948L495.2,948M512,906.3L512,916.7M512,932.3L512,942.7M547.2,900.9L542,900.9M547.2,902.3L531.6,902.3M536.8,946.6L542,946.6M554.1,900.9L564.5,900.9M577.6,908.8L577.6,914M575,948L559.3,948M559.3,902.3L564.5,902.3M576.2,921.9L576.2,927.1M28.8,962.5L23.5,962.5M34,1009.6L39.2,1009.6M39.2,963.9L34,963.9M17.1,1004.2L17.1,1008.2L18.4,1008.2M23.6,1008.2L28.8,1008.2M40.9,962.5L46.1,962.5M51.3,962.5L56.6,962.5M51.3,1009.6L40.9,1009.6M40.9,963.9L46.1,963.9M51.3,963.9L56.5,963.9M63,999.1L63,1008.2L61.7,1008.2M56.5,1008.2L46.1,1008.2M103.4,962.5L98.1,962.5M92.9,962.5L87.7,962.5M82.5,962.5L79.9,962.5L79.9,970.4M79.9,991.3L79.9,996.5M82.5,1009.6L98.1,1009.6M98.2,963.9L93,963.9M81.3,967.9L81.3,973.1M82.6,1008.2L87.8,1008.2M120.7,1009.6L115.5,1009.6M120.7,963.9L125.8,963.9M127.1,973.1L127.1,983.5M127.1,999.1L127.1,1008.2L120.7,1008.2M146.6,962.5L144.1,962.5L144.1,970.4M146.6,1009.6L151.8,1009.6M145.4,967.9L145.4,973.1M145.4,999.1L145.4,1004.3M184.9,962.5L192.6,962.5L192.6,965.2M190.1,1009.6L184.9,1009.6M191.2,967.9L191.2,973.1M216,962.5L210.8,962.5M216.1,963.9L210.9,963.9M209.6,967.9L209.6,983.5M209.6,988.7L209.6,993.9M209.6,999.1L209.6,1004.3M210.9,1008.2L216.1,1008.2M249,962.5L256.8,962.5L256.8,965.2M243.8,963.9L254.2,963.9M255.4,973.1L255.4,983.5M285.4,962.5L280.1,962.5M272.4,1006.9L272.4,1009.6L285.4,1009.6M275,963.9L273.8,963.9L273.8,967.9M273.8,999.1L273.8,1008.2L275,1008.2M302.7,962.5L307.9,962.5M320.9,1001.7L320.9,1006.9M313.2,1009.6L297.5,1009.6M319.6,973.1L319.6,978.3M359.9,962.5L354.7,962.5M336.5,1001.7L336.5,1006.9M339.1,1009.6L354.7,1009.6M337.9,993.9L337.9,1004.3M366.9,962.5L372.1,962.5M385.1,1001.7L385.1,1009.6L382.5,1009.6M383.7,978.3L383.7,983.5M383.7,1004.3L383.7,1008.2L382.4,1008.2M377.2,1008.2L372,1008.2M418.9,962.5L413.7,962.5M408.4,962.5L400.7,962.5L400.7,965.2M400.7,975.6L400.7,980.8M402.1,967.9L402.1,973.1M402.1,988.7L402.1,1004.3M408.5,1008.2L413.7,1008.2M425.8,962.5L431,962.5M441.5,1009.6L431,1009.6M436.2,963.9L447.9,963.9L447.9,967.9M447.9,999.1L447.9,1004.3M436.2,1008.2L431,1008.2M477.8,962.5L467.4,962.5M466.2,978.3L466.2,983.5M466.2,988.7L466.2,993.9M477.9,1008.2L488.3,1008.2M500.4,962.5L505.6,962.5M500.4,1009.6L495.2,1009.6M500.4,963.9L510.8,963.9M512,988.7L512,993.9M510.8,1008.2L500.4,1008.2M552.4,962.5L547.2,962.5M552.4,963.9L542,963.9M536.8,1008.2L547.2,1008.2M575,1009.6L569.8,1009.6M559.3,1009.6L554.1,1009.6M554.1,963.9L559.3,963.9M564.5,963.9L569.7,963.9M34,1024.1L23.5,1024.1M15.8,1037.2L15.8,1042.4M23.6,1025.5L17.1,1025.5L17.1,1034.6M23.6,1069.8L28.8,1069.8M56.6,1071.2L51.3,1071.2M46.1,1069.8L40.9,1069.8M82.5,1071.2L87.7,1071.2M103.4,1025.5L98.2,1025.5M82.6,1025.5L81.3,1025.5L81.3,1029.4M81.3,1055.4L81.3,1060.6M120.7,1024.1L128.5,1024.1L128.5,1026.8M128.5,1068.5L128.5,1071.2L120.7,1071.2M115.5,1071.2L110.3,1071.2M127.1,1029.4L127.1,1039.8M127.1,1065.8L127.1,1069.8L120.7,1069.8M157.1,1071.2L167.5,1071.2M169.2,1024.1L174.4,1024.1M184.8,1069.8L179.6,1069.8M174.4,1069.8L169.2,1069.8M216,1071.2L221.2,1071.2M216.1,1025.5L209.6,1025.5L209.6,1029.4M210.9,1069.8L216.1,1069.8M256.8,1068.5L256.8,1071.2L243.8,1071.2M243.8,1025.5L255.4,1025.5L255.4,1029.4M254.2,1069.8L243.8,1069.8M285.4,1071.2L290.6,1071.2M290.6,1025.5L280.2,1025.5M273.8,1034.6L273.8,1039.8M273.8,1045L273.8,1055.4M273.8,1065.8L273.8,1069.8L280.2,1069.8M302.7,1024.1L307.9,1024.1M320.9,1026.8L320.9,1032M307.9,1071.2L302.7,1071.2M307.9,1025.5L318.3,1025.5M319.6,1029.4L319.6,1034.6M319.6,1039.8L319.6,1050.2M354.7,1024.1L349.5,1024.1M354.7,1071.2L359.9,1071.2M339.1,1025.5L337.9,1025.5L337.9,1029.4M337.9,1065.8L337.9,1069.8L339.1,1069.8M344.3,1069.8L354.8,1069.8M377.3,1024.1L382.5,1024.1M383.7,1055.4L383.7,1069.8L377.2,1069.8M424.1,1024.1L418.9,1024.1M413.7,1024.1L408.4,1024.1M408.5,1025.5L403.3,1025.5M402.1,1034.6L402.1,1039.8M402.1,1065.8L402.1,1069.8L403.3,1069.8M408.5,1069.8L413.7,1069.8M425.8,1024.1L441.5,1024.1M446.7,1024.1L449.2,1024.1L449.2,1026.8M446.7,1071.2L425.8,1071.2M431,1025.5L441.4,1025.5M447.9,1029.4L447.9,1034.6M441.4,1069.8L436.2,1069.8M483,1024.1L467.4,1024.1M472.6,1071.2L488.3,1071.2M477.9,1025.5L466.2,1025.5L466.2,1029.4M466.2,1055.4L466.2,1060.6M466.2,1065.8L466.2,1069.8L477.9,1069.8M495.2,1024.1L500.4,1024.1M513.4,1068.5L513.4,1071.2L505.6,1071.2M500.4,1071.2L495.2,1071.2M495.2,1025.5L505.6,1025.5M512,1045L512,1060.6M512,1065.8L512,1069.8L505.6,1069.8M552.4,1025.5L547.2,1025.5M530.4,1060.6L530.4,1065.8M554.1,1025.5L559.3,1025.5M576.2,1065.8L576.2,1069.8L574.9,1069.8M559.3,1069.8L554.1,1069.8M34,1087.1L28.8,1087.1M18.4,1087.1L17.1,1087.1L17.1,1091M23.6,1131.4L39.2,1131.4M79.9,1124.9L79.9,1132.8L82.5,1132.8M98.2,1087.1L93,1087.1M81.3,1127.4L81.3,1131.4L82.6,1131.4M98.2,1131.4L103.4,1131.4M105.1,1085.7L110.3,1085.7M110.3,1132.8L105.1,1132.8M115.5,1087.1L120.7,1087.1M115.5,1131.4L110.3,1131.4M145.4,1122.2L145.4,1127.4M157.1,1131.4L167.5,1131.4M169.2,1085.7L174.4,1085.7M192.6,1114.5L192.6,1119.7M184.9,1132.8L174.4,1132.8M169.2,1087.1L184.8,1087.1M191.2,1127.4L191.2,1131.4L190,1131.4M216,1132.8L221.2,1132.8M221.2,1131.4L226.4,1131.4M233.3,1085.7L238.6,1085.7M238.5,1087.1L248.9,1087.1M255.4,1127.4L255.4,1131.4L243.8,1131.4M290.6,1085.7L285.4,1085.7M285.4,1132.8L295.8,1132.8M290.6,1087.1L275,1087.1M273.8,1127.4L273.8,1131.4L275,1131.4M307.9,1132.8L302.7,1132.8M318.3,1131.4L313.1,1131.4M302.7,1131.4L297.5,1131.4M359.9,1085.7L336.5,1085.7L336.5,1088.3M336.5,1130.1L336.5,1132.8L339.1,1132.8M349.5,1132.8L359.9,1132.8M337.9,1106.6L337.9,1111.8M337.9,1127.4L337.9,1131.4L339.1,1131.4M372.1,1085.7L377.3,1085.7M377.3,1132.8L372.1,1132.8M382.4,1087.1L383.7,1087.1L383.7,1091M383.7,1127.4L383.7,1131.4L382.4,1131.4M424.1,1087.1L418.9,1087.1M408.5,1131.4L413.7,1131.4M431,1085.7L436.2,1085.7M441.4,1131.4L436.2,1131.4M488.3,1085.7L483,1085.7M488.3,1087.1L483.1,1087.1M477.9,1087.1L472.7,1087.1M466.2,1117L466.2,1131.4L467.5,1131.4M495.2,1085.7L500.4,1085.7M505.6,1132.8L495.2,1132.8M490,1087.1L495.2,1087.1M500.4,1087.1L505.6,1087.1M512,1096.2L512,1101.4M510.8,1131.4L495.2,1131.4M547.2,1132.8L552.4,1132.8M542,1087.1L536.8,1087.1M554.1,1085.7L559.3,1085.7M554.1,1087.1L559.3,1087.1M23.6,1148.7L18.4,1148.7M34,1193L39.2,1193M40.9,1147.3L46.1,1147.3M98.1,1194.4L103.4,1194.4M103.4,1148.7L98.2,1148.7M93,1193L103.4,1193M167.5,1147.3L162.3,1147.3M167.5,1148.7L157.1,1148.7M231.7,1148.7L226.5,1148.7M226.4,1193L231.7,1193M233.3,1148.7L243.8,1148.7M313.1,1148.7L318.3,1148.7M339.1,1193L349.5,1193M354.8,1193L359.9,1193M361.6,1148.7L366.8,1148.7M382.4,1148.7L383.7,1148.7L383.7,1152.6M418.9,1148.7L413.7,1148.7M408.5,1193L413.7,1193M418.9,1193L424.1,1193M425.8,1147.3L431,1147.3M431,1193L425.8,1193M466.2,1178.6L466.2,1183.8M495.2,1148.7L505.6,1148.7M500.4,1193L490,1193M552.4,1148.7L536.8,1148.7M536.8,1193L542,1193M569.8,1194.4L564.5,1194.4M554.1,1148.7L559.3,1148.7M559.3,1193L554.1,1193" stroke="#00DCFF" stroke-width="1.55"/>
<path d="M243.8,700.2L238.6,700.2M295.8,656L285.4,656M290.6,700.2L295.8,700.2M105.1,717.5L110.3,717.5M157.1,717.5L151.9,717.5M169.2,716.1L174.4,716.1M184.8,717.5L190,717.5M190,761.8L179.6,761.8M231.7,717.5L226.5,717.5M290.6,763.2L295.8,763.2M295.8,717.5L290.6,717.5M285.4,761.8L290.6,761.8M297.5,717.5L318.3,717.5M307.9,761.8L302.7,761.8M359.9,717.5L354.8,717.5M418.9,761.8L424.1,761.8M425.8,717.5L431,717.5M103.4,779.1L98.2,779.1M105.1,779.1L110.3,779.1M115.5,779.1L120.7,779.1M169.2,779.1L174.4,779.1M226.5,779.1L221.2,779.1M221.2,823.4L231.7,823.4M233.3,777.7L238.6,777.7M243.8,824.8L238.6,824.8M238.5,779.1L243.8,779.1M295.8,779.1L285.4,779.1M285.4,823.4L290.6,823.4M302.7,824.8L297.5,824.8M297.5,779.1L307.9,779.1M307.9,823.4L297.5,823.4M359.9,779.1L354.8,779.1M361.6,779.1L372,779.1M366.8,823.4L361.6,823.4M34,885L39.2,885M103.4,839.3L98.1,839.3M98.1,886.4L103.4,886.4M98.2,840.7L87.8,840.7M87.8,885L93,885M110.3,886.4L105.1,886.4M115.5,885L110.3,885M167.5,840.7L157.1,840.7M157.1,885L167.5,885M169.2,839.3L184.9,839.3M174.4,840.7L184.8,840.7M190,840.7L191.2,840.7L191.2,844.7M190,885L184.8,885M231.7,839.3L226.4,839.3M221.2,886.4L226.4,886.4M226.5,840.7L221.2,840.7M210.9,885L221.2,885M233.3,839.3L243.8,839.3M243.8,840.7L254.2,840.7M255.4,844.7L255.4,849.9M290.6,839.3L285.4,839.3M280.1,886.4L295.8,886.4M275,885L280.2,885M307.9,839.3L313.2,839.3M318.4,886.4L313.2,886.4M307.9,886.4L302.7,886.4M313.1,840.7L318.3,840.7M424.1,839.3L418.9,839.3M424.1,840.7L418.9,840.7M413.7,840.7L408.5,840.7M418.9,885L424.1,885M431,839.3L436.2,839.3M483.1,885L488.3,885M490,839.3L495.2,839.3M490,840.7L495.2,840.7M34,902.3L28.8,902.3M103.4,902.3L98.2,902.3M110.3,900.9L115.5,900.9M115.5,948L110.3,948M127.1,942.7L127.1,946.6L125.8,946.6M110.3,946.6L105.1,946.6M162.3,948L167.5,948M157.1,946.6L162.3,946.6M179.6,946.6L174.4,946.6M226.4,948L231.7,948M209.6,937.5L209.6,942.7M216.1,946.6L221.2,946.6M243.8,900.9L249,900.9M238.6,948L233.3,948M238.5,902.3L243.8,902.3M285.4,900.9L280.1,900.9M272.4,945.3L272.4,948L295.8,948M290.6,902.3L275,902.3M307.9,900.9L318.4,900.9M302.7,948L297.5,948M307.9,902.3L313.1,902.3M319.6,942.7L319.6,946.6L318.3,946.6M359.9,900.9L349.5,900.9M354.7,948L359.9,948M344.3,946.6L359.9,946.6M372.1,948L361.6,948M366.8,902.3L372,902.3M424.1,900.9L418.9,900.9M424.1,902.3L418.9,902.3M418.9,946.6L424.1,946.6M425.8,900.9L436.2,900.9M431,948L425.8,948M431,902.3L436.2,902.3M436.2,946.6L431,946.6M488.3,902.3L483.1,902.3M495.2,948L490,948M512,942.7L512,946.6L500.4,946.6M552.4,902.3L547.2,902.3M547.2,946.6L552.4,946.6M554.1,902.3L559.3,902.3M564.5,946.6L559.3,946.6M46.1,1008.2L40.9,1008.2M103.4,963.9L98.2,963.9M93,1008.2L103.4,1008.2M151.8,962.5L146.6,962.5M157.1,963.9L151.9,963.9M146.7,963.9L145.4,963.9L145.4,967.9M146.7,1008.2L157.1,1008.2M184.8,963.9L190,963.9M191.2,999.1L191.2,1008.2L184.8,1008.2M231.7,962.5L226.4,962.5M226.4,1009.6L231.7,1009.6M221.2,963.9L216.1,963.9M216.1,1008.2L221.2,1008.2M243.8,1009.6L238.6,1009.6M233.3,963.9L238.5,963.9M243.8,1008.2L238.6,1008.2M290.6,1009.6L295.8,1009.6M290.6,963.9L285.4,963.9M280.2,963.9L275,963.9M285.4,1008.2L290.6,1008.2M297.5,963.9L302.7,963.9M302.7,1008.2L297.5,1008.2M354.8,963.9L339.1,963.9M337.9,1004.3L337.9,1008.2L339.1,1008.2M377.3,1009.6L361.6,1009.6M372,963.9L377.2,963.9M382.4,963.9L383.7,963.9L383.7,967.9M418.9,963.9L413.7,963.9M425.8,963.9L431,963.9M431,1008.2L425.8,1008.2M483.1,963.9L472.7,963.9M495.2,1009.6L490,1009.6M490,963.9L495.2,963.9M500.4,1008.2L495.2,1008.2M34,1025.5L28.8,1025.5M28.8,1069.8L39.2,1069.8M40.9,1024.1L46.1,1024.1M40.9,1025.5L51.3,1025.5M98.1,1071.2L103.4,1071.2M93,1025.5L87.8,1025.5M98.2,1069.8L103.4,1069.8M105.1,1025.5L110.3,1025.5M167.5,1025.5L162.3,1025.5M231.7,1024.1L226.4,1024.1M226.4,1071.2L231.7,1071.2M226.5,1025.5L221.2,1025.5M233.3,1024.1L238.6,1024.1M233.3,1025.5L243.8,1025.5M295.8,1024.1L290.6,1024.1M290.6,1071.2L295.8,1071.2M280.2,1069.8L285.4,1069.8M297.5,1025.5L307.9,1025.5M307.9,1069.8L302.7,1069.8M424.1,1025.5L418.9,1025.5M413.7,1025.5L408.5,1025.5M418.9,1069.8L424.1,1069.8M425.8,1025.5L431,1025.5M483.1,1025.5L477.9,1025.5M477.9,1069.8L483.1,1069.8M490,1025.5L495.2,1025.5M500.4,1069.8L495.2,1069.8M280.2,1131.4L285.4,1131.4M290.6,1131.4L295.8,1131.4M297.5,1087.1L302.7,1087.1M349.5,1131.4L359.9,1131.4M361.6,1085.7L366.9,1085.7M366.9,1132.8L361.6,1132.8M377.2,1131.4L366.8,1131.4M472.7,1131.4L488.3,1131.4M302.7,1148.7L307.9,1148.7" stroke="#00FF8C" stroke-width="1.55"/>
<path d="M302.7,700.2L297.5,700.2M167.5,716.1L162.3,716.1M167.5,717.5L157.1,717.5M162.3,761.8L167.5,761.8M179.6,761.8L169.2,761.8M290.6,761.8L295.8,761.8M302.7,761.8L297.5,761.8M110.3,823.4L105.1,823.4M238.6,824.8L233.3,824.8M233.3,779.1L238.5,779.1M290.6,823.4L295.8,823.4M93,885L103.4,885M105.1,840.7L115.5,840.7M110.3,885L105.1,885M169.2,840.7L174.4,840.7M174.4,885L169.2,885M226.4,886.4L231.7,886.4M231.7,840.7L226.5,840.7M221.2,885L226.4,885M238.5,840.7L243.8,840.7M254.2,840.7L255.4,840.7L255.4,844.7M248.9,885L243.8,885M285.4,839.3L274.9,839.3M295.8,840.7L290.6,840.7M280.2,885L285.4,885M297.5,839.3L302.7,839.3M307.9,840.7L313.1,840.7M319.6,881.1L319.6,885L318.3,885M313.1,885L302.7,885M418.9,840.7L413.7,840.7M425.8,839.3L431,839.3M436.2,839.3L441.5,839.3M431,886.4L425.8,886.4M431,840.7L436.2,840.7M431,885L425.8,885M495.2,885L490,885M110.3,948L105.1,948M167.5,900.9L162.3,900.9M167.5,902.3L162.3,902.3M162.3,946.6L167.5,946.6M169.2,902.3L179.6,902.3M174.4,946.6L169.2,946.6M226.5,902.3L216.1,902.3M221.2,946.6L226.4,946.6M233.3,900.9L243.8,900.9M233.3,902.3L238.5,902.3M238.6,946.6L233.3,946.6M295.8,900.9L290.6,900.9M297.5,900.9L307.9,900.9M297.5,902.3L307.9,902.3M313.1,902.3L318.3,902.3M318.3,946.6L297.5,946.6M361.6,900.9L372.1,900.9M377.2,946.6L372,946.6M418.9,902.3L413.7,902.3M425.8,902.3L431,902.3M431,946.6L425.8,946.6M483.1,946.6L488.3,946.6M500.4,946.6L490,946.6M547.2,948L552.4,948M167.5,962.5L162.3,962.5M157.1,1009.6L162.3,1009.6M167.5,963.9L162.3,963.9M151.9,963.9L146.7,963.9M162.3,1008.2L167.5,1008.2M169.2,962.5L179.6,962.5M179.6,1009.6L169.2,1009.6M174.4,963.9L184.8,963.9M174.4,1008.2L169.2,1008.2M231.7,963.9L226.5,963.9M221.2,1008.2L231.7,1008.2M233.3,962.5L238.6,962.5M238.6,1009.6L233.3,1009.6M238.6,1008.2L233.3,1008.2M295.8,963.9L290.6,963.9M349.5,1008.2L354.8,1008.2M366.8,963.9L372,963.9M366.8,1008.2L361.6,1008.2M488.3,963.9L483.1,963.9M495.2,1008.2L490,1008.2M39.2,1025.5L34,1025.5M120.7,1069.8L105.1,1069.8M238.6,1071.2L233.3,1071.2M285.4,1069.8L295.8,1069.8M302.7,1069.8L297.5,1069.8M495.2,1069.8L490,1069.8M366.8,1131.4L361.6,1131.4" stroke="#00FF46" stroke-width="1.55"/>
<path d="M231.7,779.1L226.5,779.1M103.4,840.7L98.2,840.7M226.4,885L231.7,885M233.3,840.7L238.5,840.7M254.2,885L248.9,885M243.8,885L233.3,885M295.8,839.3L290.6,839.3M285.4,885L290.6,885M302.7,886.4L297.5,886.4M425.8,840.7L431,840.7M226.4,946.6L231.7,946.6M295.8,902.3L290.6,902.3M285.4,946.6L290.6,946.6M372,946.6L361.6,946.6M162.3,962.5L151.8,962.5M162.3,1009.6L167.5,1009.6M169.2,963.9L174.4,963.9M184.8,1008.2L174.4,1008.2M359.9,963.9L354.8,963.9M354.8,1008.2L359.9,1008.2M361.6,963.9L366.8,963.9M361.6,1087.1L372,1087.1" stroke="#00FF00" stroke-width="1.55"/>
<path d="M290.6,885L295.8,885M297.5,840.7L307.9,840.7M302.7,885L297.5,885M231.7,902.3L226.5,902.3M290.6,946.6L295.8,946.6M361.6,902.3L366.8,902.3" stroke="#4BFF00" stroke-width="1.55"/>
<path d="M38.1,657.5V676H20.1M38.1,698.7V680.2H20.1M42.1,657.5V676H59.4M42.1,698.7V680.2H59.4M102.2,657.5V676H84.3M102.2,698.7V680.2H84.3M106.2,657.5V676H123.6M106.2,698.7V680.2H123.6M166.3,657.5V676H148.4M166.3,698.7V680.2H148.4M170.3,657.5V676H187.7M170.3,698.7V680.2H187.7M230.5,657.5V676H212.6M230.5,698.7V680.2H212.6M234.5,657.5V676H251.9M234.5,698.7V680.2H251.9M294.7,657.5V676H276.7M294.7,698.7V680.2H276.7M298.6,657.5V676H316M298.6,698.7V680.2H316M358.8,657.5V676H340.8M358.8,698.7V680.2H340.8M362.8,657.5V676H380.1M362.8,698.7V680.2H380.1M423,657.5V676H405M423,698.7V680.2H405M426.9,657.5V676H444.3M426.9,698.7V680.2H444.3M487.1,657.5V676H469.2M487.1,698.7V680.2H469.2M491.1,657.5V676H508.5M491.1,698.7V680.2H508.5M551.3,657.5V676H533.3M551.3,698.7V680.2H533.3M555.3,657.5V676H572.6M555.3,698.7V680.2H572.6M38.1,719.1V737.5H20.1M38.1,760.3V741.8H20.1M42.1,719.1V737.5H59.4M42.1,760.3V741.8H59.4M102.2,719.1V737.5H84.3M102.2,760.3V741.8H84.3M106.2,719.1V737.5H123.6M106.2,760.3V741.8H123.6M166.3,719.1V737.5H148.4M166.3,760.3V741.8H148.4M170.3,719.1V737.5H187.7M170.3,760.3V741.8H187.7M230.5,719.1V737.5H212.6M230.5,760.3V741.8H212.6M234.5,719.1V737.5H251.9M234.5,760.3V741.8H251.9M294.7,719.1V737.5H276.7M294.7,760.3V741.8H276.7M298.6,719.1V737.5H316M298.6,760.3V741.8H316M358.8,719.1V737.5H340.8M358.8,760.3V741.8H340.8M362.8,719.1V737.5H380.1M362.8,760.3V741.8H380.1M423,719.1V737.5H405M423,760.3V741.8H405M426.9,719.1V737.5H444.3M426.9,760.3V741.8H444.3M487.1,719.1V737.5H469.2M487.1,760.3V741.8H469.2M491.1,719.1V737.5H508.5M491.1,760.3V741.8H508.5M551.3,719.1V737.5H533.3M551.3,760.3V741.8H533.3M555.3,719.1V737.5H572.6M555.3,760.3V741.8H572.6M38.1,780.7V799.1H20.1M38.1,821.9V803.4H20.1M42.1,780.7V799.1H59.4M42.1,821.9V803.4H59.4M102.2,780.7V799.1H84.3M102.2,821.9V803.4H84.3M106.2,780.7V799.1H123.6M106.2,821.9V803.4H123.6M166.3,780.7V799.1H148.4M166.3,821.9V803.4H148.4M170.3,780.7V799.1H187.7M170.3,821.9V803.4H187.7M230.5,780.7V799.1H212.6M230.5,821.9V803.4H212.6M234.5,780.7V799.1H251.9M234.5,821.9V803.4H251.9M294.7,780.7V799.1H276.7M294.7,821.9V803.4H276.7M298.6,780.7V799.1H316M298.6,821.9V803.4H316M358.8,780.7V799.1H340.8M358.8,821.9V803.4H340.8M362.8,780.7V799.1H380.1M362.8,821.9V803.4H380.1M423,780.7V799.1H405M423,821.9V803.4H405M426.9,780.7V799.1H444.3M426.9,821.9V803.4H444.3M487.1,780.7V799.1H469.2M487.1,821.9V803.4H469.2M491.1,780.7V799.1H508.5M491.1,821.9V803.4H508.5M551.3,780.7V799.1H533.3M551.3,821.9V803.4H533.3M555.3,780.7V799.1H572.6M555.3,821.9V803.4H572.6M38.1,842.3V860.7H20.1M38.1,883.5V865H20.1M42.1,842.3V860.7H59.4M42.1,883.5V865H59.4M102.2,842.3V860.7H84.3M102.2,883.5V865H84.3M106.2,842.3V860.7H123.6M106.2,883.5V865H123.6M166.3,842.3V860.7H148.4M166.3,883.5V865H148.4M170.3,842.3V860.7H187.7M170.3,883.5V865H187.7M230.5,842.3V860.7H212.6M230.5,883.5V865H212.6M234.5,842.3V860.7H251.9M234.5,883.5V865H251.9M294.7,842.3V860.7H276.7M294.7,883.5V865H276.7M298.6,842.3V860.7H316M298.6,883.5V865H316M358.8,842.3V860.7H340.8M358.8,883.5V865H340.8M362.8,842.3V860.7H380.1M362.8,883.5V865H380.1M423,842.3V860.7H405M423,883.5V865H405M426.9,842.3V860.7H444.3M426.9,883.5V865H444.3M487.1,842.3V860.7H469.2M487.1,883.5V865H469.2M491.1,842.3V860.7H508.5M491.1,883.5V865H508.5M551.3,842.3V860.7H533.3M551.3,883.5V865H533.3M555.3,842.3V860.7H572.6M555.3,883.5V865H572.6M38.1,903.9V922.3H20.1M38.1,945.1V926.6H20.1M42.1,903.9V922.3H59.4M42.1,945.1V926.6H59.4M102.2,903.9V922.3H84.3M102.2,945.1V926.6H84.3M106.2,903.9V922.3H123.6M106.2,945.1V926.6H123.6M166.3,903.9V922.3H148.4M166.3,945.1V926.6H148.4M170.3,903.9V922.3H187.7M170.3,945.1V926.6H187.7M230.5,903.9V922.3H212.6M230.5,945.1V926.6H212.6M234.5,903.9V922.3H251.9M234.5,945.1V926.6H251.9M294.7,903.9V922.3H276.7M294.7,945.1V926.6H276.7M298.6,903.9V922.3H316M298.6,945.1V926.6H316M358.8,903.9V922.3H340.8M358.8,945.1V926.6H340.8M362.8,903.9V922.3H380.1M362.8,945.1V926.6H380.1M423,903.9V922.3H405M423,945.1V926.6H405M426.9,903.9V922.3H444.3M426.9,945.1V926.6H444.3M487.1,903.9V922.3H469.2M487.1,945.1V926.6H469.2M491.1,903.9V922.3H508.5M491.1,945.1V926.6H508.5M551.3,903.9V922.3H533.3M551.3,945.1V926.6H533.3M555.3,903.9V922.3H572.6M555.3,945.1V926.6H572.6M38.1,965.5V983.9H20.1M38.1,1006.7V988.2H20.1M42.1,965.5V983.9H59.4M42.1,1006.7V988.2H59.4M102.2,965.5V983.9H84.3M102.2,1006.7V988.2H84.3M106.2,965.5V983.9H123.6M106.2,1006.7V988.2H123.6M166.3,965.5V983.9H148.4M166.3,1006.7V988.2H148.4M170.3,965.5V983.9H187.7M170.3,1006.7V988.2H187.7M230.5,965.5V983.9H212.6M230.5,1006.7V988.2H212.6M234.5,965.5V983.9H251.9M234.5,1006.7V988.2H251.9M294.7,965.5V983.9H276.7M294.7,1006.7V988.2H276.7M298.6,965.5V983.9H316M298.6,1006.7V988.2H316M358.8,965.5V983.9H340.8M358.8,1006.7V988.2H340.8M362.8,965.5V983.9H380.1M362.8,1006.7V988.2H380.1M423,965.5V983.9H405M423,1006.7V988.2H405M426.9,965.5V983.9H444.3M426.9,1006.7V988.2H444.3M487.1,965.5V983.9H469.2M487.1,1006.7V988.2H469.2M491.1,965.5V983.9H508.5M491.1,1006.7V988.2H508.5M551.3,965.5V983.9H533.3M551.3,1006.7V988.2H533.3M555.3,965.5V983.9H572.6M555.3,1006.7V988.2H572.6M38.1,1027V1045.5H20.1M38.1,1068.2V1049.8H20.1M42.1,1027V1045.5H59.4M42.1,1068.2V1049.8H59.4M102.2,1027V1045.5H84.3M102.2,1068.2V1049.8H84.3M106.2,1027V1045.5H123.6M106.2,1068.2V1049.8H123.6M166.3,1027V1045.5H148.4M166.3,1068.2V1049.8H148.4M170.3,1027V1045.5H187.7M170.3,1068.2V1049.8H187.7M230.5,1027V1045.5H212.6M230.5,1068.2V1049.8H212.6M234.5,1027V1045.5H251.9M234.5,1068.2V1049.8H251.9M294.7,1027V1045.5H276.7M294.7,1068.2V1049.8H276.7M298.6,1027V1045.5H316M298.6,1068.2V1049.8H316M358.8,1027V1045.5H340.8M358.8,1068.2V1049.8H340.8M362.8,1027V1045.5H380.1M362.8,1068.2V1049.8H380.1M423,1027V1045.5H405M423,1068.2V1049.8H405M426.9,1027V1045.5H444.3M426.9,1068.2V1049.8H444.3M487.1,1027V1045.5H469.2M487.1,1068.2V1049.8H469.2M491.1,1027V1045.5H508.5M491.1,1068.2V1049.8H508.5M551.3,1027V1045.5H533.3M551.3,1068.2V1049.8H533.3M555.3,1027V1045.5H572.6M555.3,1068.2V1049.8H572.6M38.1,1088.6V1107.1H20.1M38.1,1129.8V1111.4H20.1M42.1,1088.6V1107.1H59.4M42.1,1129.8V1111.4H59.4M102.2,1088.6V1107.1H84.3M102.2,1129.8V1111.4H84.3M106.2,1088.6V1107.1H123.6M106.2,1129.8V1111.4H123.6M166.3,1088.6V1107.1H148.4M166.3,1129.8V1111.4H148.4M170.3,1088.6V1107.1H187.7M170.3,1129.8V1111.4H187.7M230.5,1088.6V1107.1H212.6M230.5,1129.8V1111.4H212.6M234.5,1088.6V1107.1H251.9M234.5,1129.8V1111.4H251.9M294.7,1088.6V1107.1H276.7M294.7,1129.8V1111.4H276.7M298.6,1088.6V1107.1H316M298.6,1129.8V1111.4H316M358.8,1088.6V1107.1H340.8M358.8,1129.8V1111.4H340.8M362.8,1088.6V1107.1H380.1M362.8,1129.8V1111.4H380.1M423,1088.6V1107.1H405M423,1129.8V1111.4H405M426.9,1088.6V1107.1H444.3M426.9,1129.8V1111.4H444.3M487.1,1088.6V1107.1H469.2M487.1,1129.8V1111.4H469.2M491.1,1088.6V1107.1H508.5M491.1,1129.8V1111.4H508.5M551.3,1088.6V1107.1H533.3M551.3,1129.8V1111.4H533.3M555.3,1088.6V1107.1H572.6M555.3,1129.8V1111.4H572.6M38.1,1150.2V1168.7H20.1M38.1,1191.4V1173H20.1M42.1,1150.2V1168.7H59.4M42.1,1191.4V1173H59.4M102.2,1150.2V1168.7H84.3M102.2,1191.4V1173H84.3M106.2,1150.2V1168.7H123.6M106.2,1191.4V1173H123.6M166.3,1150.2V1168.7H148.4M166.3,1191.4V1173H148.4M170.3,1150.2V1168.7H187.7M170.3,1191.4V1173H187.7M230.5,1150.2V1168.7H212.6M230.5,1191.4V1173H212.6M234.5,1150.2V1168.7H251.9M234.5,1191.4V1173H251.9M294.7,1150.2V1168.7H276.7M294.7,1191.4V1173H276.7M298.6,1150.2V1168.7H316M298.6,1191.4V1173H316M358.8,1150.2V1168.7H340.8M358.8,1191.4V1173H340.8M362.8,1150.2V1168.7H380.1M362.8,1191.4V1173H380.1M423,1150.2V1168.7H405M423,1191.4V1173H405M426.9,1150.2V1168.7H444.3M426.9,1191.4V1173H444.3M487.1,1150.2V1168.7H469.2M487.1,1191.4V1173H469.2M491.1,1150.2V1168.7H508.5M491.1,1191.4V1173H508.5M551.3,1150.2V1168.7H533.3M551.3,1191.4V1173H533.3M555.3,1150.2V1168.7H572.6M555.3,1191.4V1173H572.6" stroke="#24246A" stroke-width="2.2"/>
<path d="M38.1,698.7V680.2H20.1M294.7,657.5V676H276.7M294.7,698.7V680.2H276.7M423,698.7V680.2H405M426.9,698.7V680.2H444.3M487.1,657.5V676H469.2M555.3,698.7V680.2H572.6M106.2,719.1V737.5H123.6M230.5,719.1V737.5H212.6M230.5,760.3V741.8H212.6M491.1,719.1V737.5H508.5M170.3,780.7V799.1H187.7M234.5,821.9V803.4H251.9M298.6,780.7V799.1H316M487.1,821.9V803.4H469.2M491.1,780.7V799.1H508.5M551.3,821.9V803.4H533.3M555.3,821.9V803.4H572.6M106.2,883.5V865H123.6M358.8,842.3V860.7H340.8M362.8,842.3V860.7H380.1M551.3,883.5V865H533.3M555.3,883.5V865H572.6M102.2,903.9V922.3H84.3M426.9,945.1V926.6H444.3M487.1,903.9V922.3H469.2M487.1,945.1V926.6H469.2M491.1,903.9V922.3H508.5M491.1,945.1V926.6H508.5M38.1,1006.7V988.2H20.1M42.1,1006.7V988.2H59.4M166.3,965.5V983.9H148.4M294.7,965.5V983.9H276.7M426.9,965.5V983.9H444.3M551.3,965.5V983.9H533.3M551.3,1006.7V988.2H533.3M170.3,1027V1045.5H187.7M170.3,1068.2V1049.8H187.7M230.5,1027V1045.5H212.6M234.5,1068.2V1049.8H251.9M423,1027V1045.5H405M487.1,1027V1045.5H469.2M38.1,1088.6V1107.1H20.1M42.1,1129.8V1111.4H59.4M102.2,1129.8V1111.4H84.3M106.2,1088.6V1107.1H123.6M170.3,1129.8V1111.4H187.7M230.5,1129.8V1111.4H212.6M234.5,1129.8V1111.4H251.9M298.6,1129.8V1111.4H316M358.8,1129.8V1111.4H340.8M423,1129.8V1111.4H405M426.9,1088.6V1107.1H444.3M102.2,1150.2V1168.7H84.3M106.2,1150.2V1168.7H123.6M170.3,1191.4V1173H187.7M423,1150.2V1168.7H405M426.9,1150.2V1168.7H444.3M426.9,1191.4V1173H444.3M551.3,1150.2V1168.7H533.3" stroke="#1050F0" stroke-width="1.1"/>
<path d="M42.1,698.7V680.2H59.4M106.2,657.5V676H123.6M230.5,698.7V680.2H212.6M298.6,698.7V680.2H316M358.8,657.5V676H340.8M487.1,698.7V680.2H469.2M491.1,657.5V676H508.5M38.1,719.1V737.5H20.1M42.1,760.3V741.8H59.4M170.3,760.3V741.8H187.7M294.7,719.1V737.5H276.7M362.8,760.3V741.8H380.1M551.3,760.3V741.8H533.3M555.3,760.3V741.8H572.6M38.1,821.9V803.4H20.1M42.1,821.9V803.4H59.4M102.2,780.7V799.1H84.3M166.3,780.7V799.1H148.4M230.5,780.7V799.1H212.6M234.5,780.7V799.1H251.9M423,780.7V799.1H405M42.1,883.5V865H59.4M102.2,842.3V860.7H84.3M298.6,883.5V865H316M426.9,842.3V860.7H444.3M487.1,842.3V860.7H469.2M555.3,842.3V860.7H572.6M38.1,945.1V926.6H20.1M102.2,945.1V926.6H84.3M170.3,903.9V922.3H187.7M234.5,945.1V926.6H251.9M358.8,903.9V922.3H340.8M362.8,903.9V922.3H380.1M551.3,945.1V926.6H533.3M555.3,903.9V922.3H572.6M102.2,1006.7V988.2H84.3M106.2,965.5V983.9H123.6M170.3,1006.7V988.2H187.7M234.5,965.5V983.9H251.9M362.8,965.5V983.9H380.1M426.9,1006.7V988.2H444.3M491.1,1006.7V988.2H508.5M38.1,1068.2V1049.8H20.1M102.2,1068.2V1049.8H84.3M166.3,1068.2V1049.8H148.4M230.5,1068.2V1049.8H212.6M426.9,1027V1045.5H444.3M491.1,1027V1045.5H508.5M551.3,1027V1045.5H533.3M166.3,1088.6V1107.1H148.4M170.3,1088.6V1107.1H187.7M230.5,1088.6V1107.1H212.6M298.6,1088.6V1107.1H316M362.8,1129.8V1111.4H380.1M423,1088.6V1107.1H405M555.3,1088.6V1107.1H572.6M38.1,1191.4V1173H20.1M42.1,1191.4V1173H59.4M102.2,1191.4V1173H84.3M166.3,1150.2V1168.7H148.4M170.3,1150.2V1168.7H187.7M230.5,1150.2V1168.7H212.6M234.5,1191.4V1173H251.9M358.8,1150.2V1168.7H340.8M358.8,1191.4V1173H340.8M362.8,1150.2V1168.7H380.1M487.1,1150.2V1168.7H469.2M487.1,1191.4V1173H469.2" stroke="#1030E8" stroke-width="1.1"/>
<path d="M102.2,698.7V680.2H84.3M166.3,698.7V680.2H148.4M170.3,657.5V676H187.7M234.5,657.5V676H251.9M298.6,657.5V676H316M426.9,657.5V676H444.3M38.1,760.3V741.8H20.1M166.3,760.3V741.8H148.4M234.5,760.3V741.8H251.9M298.6,719.1V737.5H316M358.8,760.3V741.8H340.8M362.8,719.1V737.5H380.1M491.1,760.3V741.8H508.5M423,821.9V803.4H405M555.3,780.7V799.1H572.6M551.3,1191.4V1173H533.3M555.3,1150.2V1168.7H572.6" stroke="#10C0F0" stroke-width="1.1"/>
<path d="M170.3,719.1V737.5H187.7M294.7,760.3V741.8H276.7M298.6,760.3V741.8H316M423,760.3V741.8H405M426.9,760.3V741.8H444.3M102.2,821.9V803.4H84.3M294.7,780.7V799.1H276.7M298.6,821.9V803.4H316M358.8,821.9V803.4H340.8M362.8,821.9V803.4H380.1M491.1,821.9V803.4H508.5M106.2,842.3V860.7H123.6M166.3,883.5V865H148.4M170.3,842.3V860.7H187.7M230.5,842.3V860.7H212.6M234.5,883.5V865H251.9M294.7,842.3V860.7H276.7M298.6,842.3V860.7H316M362.8,883.5V865H380.1M170.3,965.5V983.9H187.7M294.7,1006.7V988.2H276.7M106.2,1027V1045.5H123.6M294.7,1068.2V1049.8H276.7M358.8,1068.2V1049.8H340.8M362.8,1068.2V1049.8H380.1M423,1068.2V1049.8H405M487.1,1068.2V1049.8H469.2M491.1,1068.2V1049.8H508.5M166.3,1129.8V1111.4H148.4M234.5,1088.6V1107.1H251.9M294.7,1088.6V1107.1H276.7M294.7,1129.8V1111.4H276.7M362.8,1088.6V1107.1H380.1M487.1,1088.6V1107.1H469.2M487.1,1129.8V1111.4H469.2M166.3,1191.4V1173H148.4M294.7,1191.4V1173H276.7" stroke="#20E060" stroke-width="1.1"/>
<path d="M230.5,821.9V803.4H212.6M294.7,821.9V803.4H276.7M230.5,883.5V865H212.6M234.5,842.3V860.7H251.9M294.7,883.5V865H276.7M358.8,883.5V865H340.8M166.3,945.1V926.6H148.4M230.5,945.1V926.6H212.6M234.5,903.9V922.3H251.9M298.6,903.9V922.3H316M230.5,965.5V983.9H212.6M230.5,1006.7V988.2H212.6M298.6,965.5V983.9H316M358.8,1006.7V988.2H340.8M234.5,1027V1045.5H251.9M298.6,1027V1045.5H316M362.8,1027V1045.5H380.1M358.8,1088.6V1107.1H340.8" stroke="#E01818" stroke-width="1.1"/>
</g>
<g fill="none">
<path d="M650,655.6L627.1,655.6L627.1,701.2L650,701.2M651.7,655.6L674.6,655.6L674.6,701.2L651.7,701.2M714.9,655.6L692,655.6L692,701.2L714.9,701.2M716.6,655.6L739.6,655.6L739.6,701.2L716.6,701.2M779.8,655.6L756.9,655.6L756.9,701.2L779.8,701.2M781.5,655.6L804.5,655.6L804.5,701.2L781.5,701.2M844.7,655.6L821.8,655.6L821.8,701.2L844.7,701.2M846.4,655.6L869.4,655.6L869.4,701.2L846.4,701.2M909.6,655.6L886.7,655.6L886.7,701.2L909.6,701.2M911.3,655.6L934.3,655.6L934.3,701.2L911.3,701.2M974.5,655.6L951.6,655.6L951.6,701.2L974.5,701.2M976.2,655.6L999.2,655.6L999.2,701.2L976.2,701.2M1039.5,655.6L1016.5,655.6L1016.5,701.2L1039.5,701.2M1041.2,655.6L1064.1,655.6L1064.1,701.2L1041.2,701.2M1104.4,655.6L1081.4,655.6L1081.4,701.2L1104.4,701.2M1106.1,655.6L1129,655.6L1129,701.2L1106.1,701.2M1169.3,655.6L1146.3,655.6L1146.3,701.2L1169.3,701.2M1171,655.6L1193.9,655.6L1193.9,701.2L1171,701.2M650,716.8L627.1,716.8L627.1,762.4L650,762.4M651.7,716.8L674.6,716.8L674.6,762.4L651.7,762.4M714.9,716.8L692,716.8L692,762.4L714.9,762.4M716.6,716.8L739.6,716.8L739.6,762.4L716.6,762.4M779.8,716.8L756.9,716.8L756.9,762.4L779.8,762.4M781.5,716.8L804.5,716.8L804.5,762.4L781.5,762.4M844.7,716.8L821.8,716.8L821.8,762.4L844.7,762.4M846.4,716.8L869.4,716.8L869.4,762.4L846.4,762.4M909.6,716.8L886.7,716.8L886.7,762.4L909.6,762.4M911.3,716.8L934.3,716.8L934.3,762.4L911.3,762.4M974.5,716.8L951.6,716.8L951.6,762.4L974.5,762.4M976.2,716.8L999.2,716.8L999.2,762.4L976.2,762.4M1039.5,716.8L1016.5,716.8L1016.5,762.4L1039.5,762.4M1041.2,716.8L1064.1,716.8L1064.1,762.4L1041.2,762.4M1104.4,716.8L1081.4,716.8L1081.4,762.4L1104.4,762.4M1106.1,716.8L1129,716.8L1129,762.4L1106.1,762.4M1169.3,716.8L1146.3,716.8L1146.3,762.4L1169.3,762.4M1171,716.8L1193.9,716.8L1193.9,762.4L1171,762.4M650,777.9L627.1,777.9L627.1,823.5L650,823.5M651.7,777.9L674.6,777.9L674.6,823.5L651.7,823.5M714.9,777.9L692,777.9L692,823.5L714.9,823.5M716.6,777.9L739.6,777.9L739.6,823.5L716.6,823.5M779.8,777.9L756.9,777.9L756.9,823.5L779.8,823.5M781.5,777.9L804.5,777.9L804.5,823.5L781.5,823.5M844.7,777.9L821.8,777.9L821.8,823.5L844.7,823.5M846.4,777.9L869.4,777.9L869.4,823.5L846.4,823.5M909.6,777.9L886.7,777.9L886.7,823.5L909.6,823.5M911.3,777.9L934.3,777.9L934.3,823.5L911.3,823.5M974.5,777.9L951.6,777.9L951.6,823.5L974.5,823.5M976.2,777.9L999.2,777.9L999.2,823.5L976.2,823.5M1039.5,777.9L1016.5,777.9L1016.5,823.5L1039.5,823.5M1041.2,777.9L1064.1,777.9L1064.1,823.5L1041.2,823.5M1104.4,777.9L1081.4,777.9L1081.4,823.5L1104.4,823.5M1106.1,777.9L1129,777.9L1129,823.5L1106.1,823.5M1169.3,777.9L1146.3,777.9L1146.3,823.5L1169.3,823.5M1171,777.9L1193.9,777.9L1193.9,823.5L1171,823.5M650,839L627.1,839L627.1,884.6L650,884.6M651.7,839L674.6,839L674.6,884.6L651.7,884.6M714.9,839L692,839L692,884.6L714.9,884.6M716.6,839L739.6,839L739.6,884.6L716.6,884.6M779.8,839L756.9,839L756.9,884.6L779.8,884.6M781.5,839L804.5,839L804.5,884.6L781.5,884.6M844.7,839L821.8,839L821.8,884.6L844.7,884.6M846.4,839L869.4,839L869.4,884.6L846.4,884.6M909.6,839L886.7,839L886.7,884.6L909.6,884.6M911.3,839L934.3,839L934.3,884.6L911.3,884.6M974.5,839L951.6,839L951.6,884.6L974.5,884.6M976.2,839L999.2,839L999.2,884.6L976.2,884.6M1039.5,839L1016.5,839L1016.5,884.6L1039.5,884.6M1041.2,839L1064.1,839L1064.1,884.6L1041.2,884.6M1104.4,839L1081.4,839L1081.4,884.6L1104.4,884.6M1106.1,839L1129,839L1129,884.6L1106.1,884.6M1169.3,839L1146.3,839L1146.3,884.6L1169.3,884.6M1171,839L1193.9,839L1193.9,884.6L1171,884.6M650,900.1L627.1,900.1L627.1,945.7L650,945.7M651.7,900.1L674.6,900.1L674.6,945.7L651.7,945.7M714.9,900.1L692,900.1L692,945.7L714.9,945.7M716.6,900.1L739.6,900.1L739.6,945.7L716.6,945.7M779.8,900.1L756.9,900.1L756.9,945.7L779.8,945.7M781.5,900.1L804.5,900.1L804.5,945.7L781.5,945.7M844.7,900.1L821.8,900.1L821.8,945.7L844.7,945.7M846.4,900.1L869.4,900.1L869.4,945.7L846.4,945.7M909.6,900.1L886.7,900.1L886.7,945.7L909.6,945.7M911.3,900.1L934.3,900.1L934.3,945.7L911.3,945.7M974.5,900.1L951.6,900.1L951.6,945.7L974.5,945.7M976.2,900.1L999.2,900.1L999.2,945.7L976.2,945.7M1039.5,900.1L1016.5,900.1L1016.5,945.7L1039.5,945.7M1041.2,900.1L1064.1,900.1L1064.1,945.7L1041.2,945.7M1104.4,900.1L1081.4,900.1L1081.4,945.7L1104.4,945.7M1106.1,900.1L1129,900.1L1129,945.7L1106.1,945.7M1169.3,900.1L1146.3,900.1L1146.3,945.7L1169.3,945.7M1171,900.1L1193.9,900.1L1193.9,945.7L1171,945.7M650,961.3L627.1,961.3L627.1,1006.9L650,1006.9M651.7,961.3L674.6,961.3L674.6,1006.9L651.7,1006.9M714.9,961.3L692,961.3L692,1006.9L714.9,1006.9M716.6,961.3L739.6,961.3L739.6,1006.9L716.6,1006.9M779.8,961.3L756.9,961.3L756.9,1006.9L779.8,1006.9M781.5,961.3L804.5,961.3L804.5,1006.9L781.5,1006.9M844.7,961.3L821.8,961.3L821.8,1006.9L844.7,1006.9M846.4,961.3L869.4,961.3L869.4,1006.9L846.4,1006.9M909.6,961.3L886.7,961.3L886.7,1006.9L909.6,1006.9M911.3,961.3L934.3,961.3L934.3,1006.9L911.3,1006.9M974.5,961.3L951.6,961.3L951.6,1006.9L974.5,1006.9M976.2,961.3L999.2,961.3L999.2,1006.9L976.2,1006.9M1039.5,961.3L1016.5,961.3L1016.5,1006.9L1039.5,1006.9M1041.2,961.3L1064.1,961.3L1064.1,1006.9L1041.2,1006.9M1104.4,961.3L1081.4,961.3L1081.4,1006.9L1104.4,1006.9M1106.1,961.3L1129,961.3L1129,1006.9L1106.1,1006.9M1169.3,961.3L1146.3,961.3L1146.3,1006.9L1169.3,1006.9M1171,961.3L1193.9,961.3L1193.9,1006.9L1171,1006.9M650,1022.4L627.1,1022.4L627.1,1068L650,1068M651.7,1022.4L674.6,1022.4L674.6,1068L651.7,1068M714.9,1022.4L692,1022.4L692,1068L714.9,1068M716.6,1022.4L739.6,1022.4L739.6,1068L716.6,1068M779.8,1022.4L756.9,1022.4L756.9,1068L779.8,1068M781.5,1022.4L804.5,1022.4L804.5,1068L781.5,1068M844.7,1022.4L821.8,1022.4L821.8,1068L844.7,1068M846.4,1022.4L869.4,1022.4L869.4,1068L846.4,1068M909.6,1022.4L886.7,1022.4L886.7,1068L909.6,1068M911.3,1022.4L934.3,1022.4L934.3,1068L911.3,1068M974.5,1022.4L951.6,1022.4L951.6,1068L974.5,1068M976.2,1022.4L999.2,1022.4L999.2,1068L976.2,1068M1039.5,1022.4L1016.5,1022.4L1016.5,1068L1039.5,1068M1041.2,1022.4L1064.1,1022.4L1064.1,1068L1041.2,1068M1104.4,1022.4L1081.4,1022.4L1081.4,1068L1104.4,1068M1106.1,1022.4L1129,1022.4L1129,1068L1106.1,1068M1169.3,1022.4L1146.3,1022.4L1146.3,1068L1169.3,1068M1171,1022.4L1193.9,1022.4L1193.9,1068L1171,1068M650,1083.5L627.1,1083.5L627.1,1129.1L650,1129.1M651.7,1083.5L674.6,1083.5L674.6,1129.1L651.7,1129.1M714.9,1083.5L692,1083.5L692,1129.1L714.9,1129.1M716.6,1083.5L739.6,1083.5L739.6,1129.1L716.6,1129.1M779.8,1083.5L756.9,1083.5L756.9,1129.1L779.8,1129.1M781.5,1083.5L804.5,1083.5L804.5,1129.1L781.5,1129.1M844.7,1083.5L821.8,1083.5L821.8,1129.1L844.7,1129.1M846.4,1083.5L869.4,1083.5L869.4,1129.1L846.4,1129.1M909.6,1083.5L886.7,1083.5L886.7,1129.1L909.6,1129.1M911.3,1083.5L934.3,1083.5L934.3,1129.1L911.3,1129.1M974.5,1083.5L951.6,1083.5L951.6,1129.1L974.5,1129.1M976.2,1083.5L999.2,1083.5L999.2,1129.1L976.2,1129.1M1039.5,1083.5L1016.5,1083.5L1016.5,1129.1L1039.5,1129.1M1041.2,1083.5L1064.1,1083.5L1064.1,1129.1L1041.2,1129.1M1104.4,1083.5L1081.4,1083.5L1081.4,1129.1L1104.4,1129.1M1106.1,1083.5L1129,1083.5L1129,1129.1L1106.1,1129.1M1169.3,1083.5L1146.3,1083.5L1146.3,1129.1L1169.3,1129.1M1171,1083.5L1193.9,1083.5L1193.9,1129.1L1171,1129.1M650,1144.6L627.1,1144.6L627.1,1190.2L650,1190.2M651.7,1144.6L674.6,1144.6L674.6,1190.2L651.7,1190.2M714.9,1144.6L692,1144.6L692,1190.2L714.9,1190.2M716.6,1144.6L739.6,1144.6L739.6,1190.2L716.6,1190.2M779.8,1144.6L756.9,1144.6L756.9,1190.2L779.8,1190.2M781.5,1144.6L804.5,1144.6L804.5,1190.2L781.5,1190.2M844.7,1144.6L821.8,1144.6L821.8,1190.2L844.7,1190.2M846.4,1144.6L869.4,1144.6L869.4,1190.2L846.4,1190.2M909.6,1144.6L886.7,1144.6L886.7,1190.2L909.6,1190.2M911.3,1144.6L934.3,1144.6L934.3,1190.2L911.3,1190.2M974.5,1144.6L951.6,1144.6L951.6,1190.2L974.5,1190.2M976.2,1144.6L999.2,1144.6L999.2,1190.2L976.2,1190.2M1039.5,1144.6L1016.5,1144.6L1016.5,1190.2L1039.5,1190.2M1041.2,1144.6L1064.1,1144.6L1064.1,1190.2L1041.2,1190.2M1104.4,1144.6L1081.4,1144.6L1081.4,1190.2L1104.4,1190.2M1106.1,1144.6L1129,1144.6L1129,1190.2L1106.1,1190.2M1169.3,1144.6L1146.3,1144.6L1146.3,1190.2L1169.3,1190.2M1171,1144.6L1193.9,1144.6L1193.9,1190.2L1171,1190.2" stroke="#24246A" stroke-width="4.7"/>
<path d="M650,654.9L644.8,654.9M629,654.9L626.3,654.9L626.3,657.5M634.3,702L639.5,702M629.2,656.4L627.8,656.4L627.8,660.2M627.8,670.6L627.8,675.8M627.8,686.3L627.8,696.7M667.4,654.9L672.7,654.9M675.4,668L675.4,673.2M675.4,678.4L675.4,688.9M667.4,702L662.2,702M656.9,702L651.7,702M651.7,656.4L656.9,656.4M662.1,656.4L667.3,656.4M673.9,665.4L673.9,670.6M673.9,686.3L673.9,691.5M714.9,654.9L709.7,654.9M704.4,654.9L693.9,654.9M691.2,668L691.2,683.7M691.2,688.9L691.2,699.4M709.7,702L714.9,702M709.7,656.4L694.1,656.4M692.7,660.2L692.7,670.6M692.7,675.8L692.7,700.5L694.1,700.5M732.3,654.9L740.3,654.9L740.3,657.5M716.6,656.4L727,656.4M732.2,656.4L738.8,656.4L738.8,660.2M738.8,665.4L738.8,675.8M738.8,681.1L738.8,691.5M779.8,654.9L764.1,654.9M758.8,654.9L756.1,654.9L756.1,657.5M756.1,668L756.1,678.4M756.1,688.9L756.1,694.2M779.8,656.4L757.6,656.4L757.6,670.6M757.6,681.1L757.6,686.3M757.6,691.5L757.6,696.7M759,700.5L779.8,700.5M786.8,654.9L802.5,654.9M805.2,678.4L805.2,683.7M805.2,688.9L805.2,699.4M792,702L786.8,702M781.5,656.4L786.7,656.4M803.7,665.4L803.7,670.6M803.7,686.3L803.7,700.5L781.5,700.5M844.7,654.9L821.1,654.9L821.1,657.5M821.1,662.7L821.1,668M821.1,673.2L821.1,688.9M834.2,702L839.5,702M844.7,656.4L839.5,656.4M823.9,656.4L822.5,656.4L822.5,660.2M822.5,665.4L822.5,681.1M822.5,686.3L822.5,691.5M851.7,654.9L862.2,654.9M870.1,662.7L870.1,678.4M870.1,683.7L870.1,688.9M851.7,702L846.4,702M851.6,656.4L867.3,656.4M868.7,660.2L868.7,670.6M868.7,675.8L868.7,686.3M868.7,691.5L868.7,696.7M904.4,654.9L899.2,654.9M886,699.4L886,702L888.7,702M893.9,702L909.6,702M888.8,656.4L887.4,656.4L887.4,670.6M887.4,675.8L887.4,686.3M887.4,691.5L887.4,696.7M904.4,700.5L909.6,700.5M911.3,656.4L916.6,656.4M921.8,656.4L927,656.4M932.2,656.4L933.6,656.4L933.6,660.2M933.6,665.4L933.6,670.6M933.6,675.8L933.6,686.3M933.6,696.7L933.6,700.5L932.2,700.5M969.3,654.9L964.1,654.9M953.6,654.9L950.9,654.9L950.9,657.5M950.9,688.9L950.9,694.2M950.9,699.4L950.9,702L958.8,702M969.3,702L974.5,702M964.1,656.4L958.9,656.4M952.3,681.1L952.3,691.5M953.7,700.5L958.9,700.5M964.1,700.5L974.5,700.5M976.2,654.9L999.9,654.9L999.9,657.5M999.9,662.7L999.9,673.2M997.2,702L992,702M997.1,656.4L998.5,656.4L998.5,665.4M998.5,696.7L998.5,700.5L991.9,700.5M981.5,700.5L976.2,700.5M1039.5,654.9L1034.2,654.9M1029,654.9L1015.8,654.9L1015.8,657.5M1015.8,688.9L1015.8,699.4M1039.5,656.4L1018.6,656.4M1017.2,670.6L1017.2,700.5L1029,700.5M1041.2,654.9L1051.6,654.9M1056.9,654.9L1062.1,654.9M1064.8,673.2L1064.8,683.7M1041.2,656.4L1046.4,656.4M1063.4,665.4L1063.4,675.8M1063.4,686.3L1063.4,700.5L1062,700.5M1056.8,700.5L1051.6,700.5M1080.7,662.7L1080.7,668M1083.4,702L1099.1,702M1104.4,656.4L1088.7,656.4M1093.9,700.5L1099.2,700.5M1106.1,654.9L1111.3,654.9M1127,702L1106.1,702M1111.3,656.4L1128.3,656.4L1128.3,660.2M1128.3,686.3L1128.3,700.5L1126.9,700.5M1116.5,700.5L1106.1,700.5M1169.3,654.9L1158.8,654.9M1158.8,702L1164,702M1153.6,656.4L1147.1,656.4L1147.1,660.2M1147.1,670.6L1147.1,675.8M1147.1,696.7L1147.1,700.5L1158.9,700.5M1176.2,702L1171,702M1181.4,656.4L1193.2,656.4L1193.2,665.4M1193.2,670.6L1193.2,681.1M1191.8,700.5L1171,700.5M626.3,744.8L626.3,750.1M626.3,760.6L626.3,763.1L634.3,763.1M644.8,717.5L634.4,717.5M629.2,717.5L627.8,717.5L627.8,721.3M627.8,726.5L627.8,731.8M627.8,737L627.8,747.4M627.8,752.6L627.8,761.6L629.2,761.6M675.4,739.6L675.4,744.8M675.4,750.1L675.4,760.6M651.7,717.5L672.5,717.5M673.9,721.3L673.9,726.5M673.9,742.2L673.9,747.4M672.5,761.6L667.3,761.6M714.9,716L709.7,716M704.4,716L699.2,716M709.7,717.5L694.1,717.5M692.7,752.6L692.7,757.8M704.5,761.6L709.7,761.6M716.6,716L732.3,716M740.3,734.3L740.3,750.1M721.8,717.5L732.2,717.5M737.5,717.5L738.8,717.5L738.8,721.3M738.8,726.5L738.8,731.8M738.8,757.8L738.8,761.6L737.5,761.6M774.6,716L769.3,716M764.1,716L756.1,716L756.1,729.1M756.1,760.6L756.1,763.1L758.8,763.1M764.1,763.1L769.3,763.1M764.2,717.5L757.6,717.5L757.6,721.3M757.6,726.5L757.6,742.2M757.6,752.6L757.6,761.6L759,761.6M764.2,761.6L769.4,761.6M797.3,716L802.5,716M805.2,744.8L805.2,763.1L802.5,763.1M792,763.1L781.5,763.1M803.7,721.3L803.7,731.8M803.7,742.2L803.7,761.6L797.2,761.6M786.7,761.6L781.5,761.6M844.7,716L839.5,716M823.8,716L821.1,716L821.1,718.6M844.7,717.5L839.5,717.5M834.3,717.5L829.1,717.5M822.5,752.6L822.5,761.6L823.9,761.6M834.3,761.6L844.7,761.6M851.7,716L856.9,716M870.1,744.8L870.1,750.1M846.4,717.5L851.6,717.5M868.7,726.5L868.7,731.8M868.7,742.2L868.7,747.4M868.7,752.6L868.7,761.6L867.3,761.6M862.1,761.6L856.9,761.6M899.2,716L893.9,716M886,718.6L886,723.8M886,734.3L886,755.3M886,760.6L886,763.1L893.9,763.1M899.2,717.5L894,717.5M887.4,731.8L887.4,737M887.4,742.2L887.4,757.8M888.8,761.6L894,761.6M921.8,716L927.1,716M932.3,716L935,716L935,723.8M935,750.1L935,760.6M932.3,763.1L916.6,763.1M933.6,726.5L933.6,731.8M933.6,737L933.6,742.2M974.5,716L969.3,716M958.8,716L953.6,716M950.9,734.3L950.9,739.6M953.6,763.1L964.1,763.1M958.9,717.5L952.3,717.5L952.3,721.3M952.3,742.2L952.3,752.6M952.3,757.8L952.3,761.6L953.7,761.6M981.5,716L986.7,716M999.9,755.3L999.9,760.6M997.2,763.1L992,763.1M981.5,763.1L976.2,763.1M976.2,717.5L991.9,717.5M997.1,717.5L998.5,717.5L998.5,747.4M998.5,757.8L998.5,761.6L991.9,761.6M986.7,761.6L981.5,761.6M1015.8,723.8L1015.8,729.1M1018.5,763.1L1029,763.1M1034.2,763.1L1039.5,763.1M1017.2,726.5L1017.2,747.4M1017.2,757.8L1017.2,761.6L1029,761.6M1034.2,761.6L1039.5,761.6M1041.2,716L1046.4,716M1056.9,716L1064.8,716L1064.8,723.8M1064.8,755.3L1064.8,763.1L1056.9,763.1M1046.4,763.1L1041.2,763.1M1051.6,717.5L1062,717.5M1063.4,726.5L1063.4,752.6M1062,761.6L1056.8,761.6M1099.2,717.5L1082.1,717.5L1082.1,731.8M1082.1,757.8L1082.1,761.6L1088.7,761.6M1099.2,761.6L1104.4,761.6M1129.7,723.8L1129.7,734.3M1127,763.1L1121.8,763.1M1111.3,763.1L1106.1,763.1M1121.7,717.5L1126.9,717.5M1128.3,731.8L1128.3,742.2M1126.9,761.6L1111.3,761.6M1169.3,716L1164,716M1145.6,755.3L1145.6,760.6M1169.3,717.5L1164.1,717.5M1148.4,717.5L1147.1,717.5L1147.1,721.3M1147.1,726.5L1147.1,737M1147.1,742.2L1147.1,747.4M1147.1,752.6L1147.1,761.6L1153.6,761.6M1164.1,761.6L1169.3,761.6M1181.5,716L1192,716M1194.7,723.8L1194.7,729.1M1194.7,744.8L1194.7,763.1L1186.7,763.1M1176.2,763.1L1171,763.1M1171,717.5L1181.4,717.5M1191.8,717.5L1193.2,717.5L1193.2,726.5M1193.2,752.6L1193.2,757.8M1181.4,761.6L1171,761.6M639.5,777.2L634.3,777.2M626.3,785L626.3,795.5M626.3,800.7L626.3,811.2M626.3,821.7L626.3,824.2L634.3,824.2M639.5,824.2L650,824.2M634.4,778.6L627.8,778.6L627.8,782.5M627.8,787.7L627.8,798.1M627.8,808.5L627.8,813.7M629.2,822.8L634.4,822.8M675.4,805.9L675.4,811.2M673.9,813.7L673.9,818.9M656.9,822.8L651.7,822.8M709.7,777.2L704.4,777.2M699.2,777.2L693.9,777.2M693.9,824.2L704.4,824.2M709.7,824.2L714.9,824.2M704.5,778.6L699.3,778.6M692.7,798.1L692.7,818.9M732.3,777.2L737.6,777.2M740.3,805.9L740.3,816.4M740.3,821.7L740.3,824.2L732.3,824.2M738.8,782.5L738.8,798.1M774.6,777.2L769.3,777.2M764.1,777.2L758.8,777.2M756.1,785L756.1,790.2M756.1,805.9L756.1,811.2M764.1,824.2L769.3,824.2M757.6,803.3L757.6,808.5M757.6,813.7L757.6,822.8L764.2,822.8M805.2,790.2L805.2,795.5M805.2,800.7L805.2,805.9M802.5,824.2L792,824.2M786.8,824.2L781.5,824.2M803.7,792.9L803.7,798.1M803.7,808.5L803.7,813.7M803.7,818.9L803.7,822.8L797.2,822.8M839.5,777.2L829,777.2M823.8,777.2L821.1,777.2L821.1,779.7M821.1,811.2L821.1,816.4M823.8,824.2L839.5,824.2M834.3,778.6L823.9,778.6M822.5,782.5L822.5,787.7M822.5,803.3L822.5,808.5M822.5,813.7L822.5,822.8L823.9,822.8M870.1,785L870.1,816.4M870.1,821.7L870.1,824.2L867.4,824.2M856.9,778.6L867.3,778.6M868.7,782.5L868.7,792.9M867.3,822.8L862.1,822.8M893.9,777.2L886,777.2L886,779.7M886,790.2L886,800.7M888.7,824.2L893.9,824.2M904.4,778.6L887.4,778.6L887.4,782.5M887.4,787.7L887.4,792.9M887.4,798.1L887.4,808.5M935,816.4L935,824.2L932.3,824.2M916.6,824.2L911.3,824.2M933.6,798.1L933.6,813.7M950.9,790.2L950.9,795.5M950.9,821.7L950.9,824.2L964.1,824.2M964.1,778.6L958.9,778.6M992,777.2L997.2,777.2M999.9,800.7L999.9,805.9M999.9,811.2L999.9,824.2L997.2,824.2M992,824.2L986.7,824.2M998.5,782.5L998.5,792.9M998.5,808.5L998.5,813.7M1023.7,777.2L1018.5,777.2M1015.8,821.7L1015.8,824.2L1018.5,824.2M1029,824.2L1034.2,824.2M1034.2,778.6L1023.8,778.6M1017.2,787.7L1017.2,798.1M1017.2,813.7L1017.2,822.8L1034.2,822.8M1041.2,777.2L1046.4,777.2M1051.6,777.2L1056.9,777.2M1062.1,777.2L1064.8,777.2L1064.8,779.7M1064.8,790.2L1064.8,805.9M1064.8,811.2L1064.8,821.7M1062.1,824.2L1056.9,824.2M1063.4,782.5L1063.4,792.9M1063.4,798.1L1063.4,803.3M1063.4,813.7L1063.4,822.8L1062,822.8M1056.8,822.8L1051.6,822.8M1104.4,777.2L1093.9,777.2M1080.7,779.7L1080.7,795.5M1080.7,811.2L1080.7,816.4M1080.7,821.7L1080.7,824.2L1083.4,824.2M1088.7,778.6L1082.1,778.6L1082.1,782.5M1082.1,787.7L1082.1,803.3M1121.8,777.2L1127,777.2M1129.7,785L1129.7,800.7M1129.7,821.7L1129.7,824.2L1116.6,824.2M1111.3,824.2L1106.1,824.2M1121.7,778.6L1126.9,778.6M1128.3,782.5L1128.3,787.7M1128.3,792.9L1128.3,798.1M1128.3,818.9L1128.3,822.8L1116.5,822.8M1169.3,777.2L1145.6,777.2L1145.6,779.7M1164,824.2L1169.3,824.2M1147.1,792.9L1147.1,808.5M1171,777.2L1176.2,777.2M1186.7,777.2L1192,777.2M1194.7,779.7L1194.7,785M1176.2,824.2L1171,824.2M1171,778.6L1181.4,778.6M1186.6,778.6L1191.8,778.6M1193.2,792.9L1193.2,798.1M1193.2,803.3L1193.2,808.5M1193.2,813.7L1193.2,818.9M626.3,846.1L626.3,851.3M629,885.3L634.3,885.3M644.8,839.8L634.4,839.8M627.8,854L627.8,864.4M627.8,880.1L627.8,883.9L629.2,883.9M634.4,883.9L650,883.9M662.2,838.3L672.7,838.3M675.4,840.8L675.4,846.1M675.4,867.1L675.4,872.3M662.1,839.8L672.5,839.8M673.9,859.2L673.9,864.4M672.5,883.9L667.3,883.9M662.1,883.9L651.7,883.9M714.9,838.3L709.7,838.3M699.2,838.3L691.2,838.3L691.2,840.8M699.2,885.3L709.7,885.3M699.3,839.8L694.1,839.8M692.7,880.1L692.7,883.9L699.3,883.9M727.1,838.3L732.3,838.3M737.6,838.3L740.3,838.3L740.3,840.8M740.3,846.1L740.3,856.6M740.3,861.8L740.3,877.6M716.6,839.8L721.8,839.8M732.2,839.8L737.5,839.8M738.8,864.4L738.8,869.6M738.8,874.9L738.8,880.1M774.6,838.3L756.1,838.3L756.1,840.8M756.1,867.1L756.1,877.6M757.6,859.2L757.6,864.4M757.6,869.6L757.6,874.9M759,883.9L764.2,883.9M769.4,883.9L774.6,883.9M792,838.3L797.3,838.3M805.2,867.1L805.2,877.6M802.5,885.3L797.3,885.3M803.7,874.9L803.7,880.1M802.4,883.9L797.2,883.9M823.8,838.3L821.1,838.3L821.1,840.8M821.1,851.3L821.1,856.6M821.1,872.3L821.1,882.8M829,885.3L834.2,885.3M829.1,839.8L823.9,839.8M822.5,854L822.5,864.4M822.5,874.9L822.5,880.1M862.2,838.3L867.4,838.3M870.1,851.3L870.1,867.1M870.1,882.8L870.1,885.3L867.4,885.3M868.7,848.8L868.7,880.1M886,861.8L886,867.1M886,877.6L886,882.8M887.4,848.8L887.4,859.2M887.4,874.9L887.4,880.1M921.8,838.3L927.1,838.3M935,851.3L935,856.6M935,861.8L935,867.1M935,872.3L935,877.6M933.6,859.2L933.6,874.9M933.6,880.1L933.6,883.9L932.2,883.9M958.8,838.3L950.9,838.3L950.9,872.3M958.8,885.3L964.1,885.3M952.3,843.6L952.3,859.2M953.7,883.9L958.9,883.9M999.9,877.6L999.9,885.3L997.2,885.3M998.5,848.8L998.5,864.4M998.5,880.1L998.5,883.9L991.9,883.9M1015.8,846.1L1015.8,856.6M1015.8,872.3L1015.8,877.6M1015.8,882.8L1015.8,885.3L1018.5,885.3M1034.2,885.3L1039.5,885.3M1029,839.8L1023.8,839.8M1017.2,843.6L1017.2,859.2M1017.2,864.4L1017.2,869.6M1017.2,880.1L1017.2,883.9L1018.6,883.9M1046.4,838.3L1051.6,838.3M1056.9,838.3L1064.8,838.3L1064.8,840.8M1064.8,867.1L1064.8,882.8M1062.1,885.3L1051.6,885.3M1063.4,843.6L1063.4,854M1063.4,874.9L1063.4,883.9L1062,883.9M1051.6,883.9L1046.4,883.9M1099.1,838.3L1083.4,838.3M1080.7,840.8L1080.7,846.1M1088.6,885.3L1093.9,885.3M1099.1,885.3L1104.4,885.3M1093.9,839.8L1082.1,839.8L1082.1,848.8M1116.6,838.3L1129.7,838.3L1129.7,846.1M1129.7,851.3L1129.7,856.6M1129.7,882.8L1129.7,885.3L1127,885.3M1121.8,885.3L1106.1,885.3M1128.3,843.6L1128.3,854M1128.3,869.6L1128.3,880.1M1121.7,883.9L1106.1,883.9M1145.6,840.8L1145.6,851.3M1145.6,882.8L1145.6,885.3L1158.8,885.3M1164,885.3L1169.3,885.3M1169.3,839.8L1147.1,839.8L1147.1,848.8M1147.1,864.4L1147.1,874.9M1153.6,883.9L1169.3,883.9M1194.7,840.8L1194.7,851.3M1171,839.8L1176.2,839.8M1191.8,839.8L1193.2,839.8L1193.2,843.6M1193.2,864.4L1193.2,869.6M1186.6,883.9L1181.4,883.9M1176.2,883.9L1171,883.9M639.5,899.4L634.3,899.4M626.3,938.7L626.3,946.5L629,946.5M639.6,900.9L627.8,900.9L627.8,915.1M627.8,925.6L627.8,930.8M627.8,936L627.8,941.2M651.7,899.4L656.9,899.4M651.7,900.9L667.3,900.9M672.5,900.9L673.9,900.9L673.9,904.7M673.9,920.3L673.9,945L656.9,945M714.9,899.4L704.4,899.4M691.2,938.7L691.2,946.5L699.2,946.5M699.3,900.9L694.1,900.9M692.7,909.9L692.7,915.1M721.9,899.4L732.3,899.4M740.3,943.9L740.3,946.5L732.3,946.5M727,900.9L737.5,900.9M738.8,915.1L738.8,925.6M738.8,930.8L738.8,941.2M737.5,945L732.2,945M769.3,899.4L756.1,899.4L756.1,907.2M764.1,946.5L769.3,946.5M757.6,904.7L757.6,909.9M757.6,925.6L757.6,936M792,899.4L797.3,899.4M802.5,899.4L805.2,899.4L805.2,902M805.2,907.2L805.2,917.7M805.2,933.4L805.2,938.7M802.5,946.5L797.3,946.5M803.7,925.6L803.7,930.8M821.1,902L821.1,907.2M821.1,938.7L821.1,943.9M822.5,915.1L822.5,925.6M822.5,936L822.5,941.2M856.9,899.4L867.4,899.4M870.1,928.2L870.1,933.4M870.1,938.7L870.1,946.5L856.9,946.5M851.7,946.5L846.4,946.5M868.7,904.7L868.7,925.6M867.3,945L862.1,945M909.6,899.4L904.4,899.4M899.2,899.4L893.9,899.4M886,907.2L886,912.5M886,933.4L886,946.5L888.7,946.5M904.4,900.9L887.4,900.9L887.4,920.3M932.3,899.4L935,899.4L935,902M935,912.5L935,922.9M935,928.2L935,938.7M933.6,909.9L933.6,915.1M933.6,925.6L933.6,930.8M932.2,945L927,945M969.3,899.4L964.1,899.4M953.6,899.4L950.9,899.4L950.9,902M950.9,912.5L950.9,928.2M950.9,943.9L950.9,946.5L953.6,946.5M952.3,904.7L952.3,909.9M952.3,920.3L952.3,936M992,899.4L999.9,899.4L999.9,902M999.9,907.2L999.9,912.5M997.2,946.5L992,946.5M991.9,900.9L997.1,900.9M998.5,904.7L998.5,915.1M998.5,920.3L998.5,930.8M1015.8,907.2L1015.8,917.7M1015.8,938.7L1015.8,943.9M1029,946.5L1034.2,946.5M1018.6,900.9L1017.2,900.9L1017.2,904.7M1017.2,909.9L1017.2,920.3M1017.2,925.6L1017.2,930.8M1046.4,899.4L1051.6,899.4M1056.9,899.4L1062.1,899.4M1064.8,943.9L1064.8,946.5L1046.4,946.5M1063.4,909.9L1063.4,915.1M1063.4,936L1063.4,941.2M1104.4,899.4L1099.1,899.4M1080.7,917.7L1080.7,922.9M1080.7,933.4L1080.7,946.5L1083.4,946.5M1082.1,904.7L1082.1,920.3M1082.1,930.8L1082.1,945L1083.5,945M1129.7,922.9L1129.7,928.2M1129.7,943.9L1129.7,946.5L1127,946.5M1116.5,900.9L1128.3,900.9L1128.3,920.3M1128.3,925.6L1128.3,936M1128.3,941.2L1128.3,945L1126.9,945M1169.3,899.4L1164,899.4M1145.6,938.7L1145.6,943.9M1148.3,946.5L1153.5,946.5M1148.4,945L1153.6,945M1158.9,945L1164.1,945M1194.7,938.7L1194.7,946.5L1186.7,946.5M1193.2,904.7L1193.2,915.1M1193.2,925.6L1193.2,930.8M1193.2,941.2L1193.2,945L1186.6,945M1181.4,945L1171,945M639.5,1007.6L650,1007.6M644.8,962L634.4,962M627.8,965.8L627.8,971M627.8,997.1L627.8,1006.1L634.4,1006.1M675.4,999.8L675.4,1005.1M672.7,1007.6L667.4,1007.6M662.2,1007.6L651.7,1007.6M651.7,962L656.9,962M672.5,962L673.9,962L673.9,971M673.9,976.3L673.9,981.5M673.9,991.9L673.9,1006.1L672.5,1006.1M656.9,1006.1L651.7,1006.1M714.9,960.5L709.7,960.5M704.4,960.5L691.2,960.5L691.2,963.1M691.2,999.8L691.2,1005.1M699.2,1007.6L709.7,1007.6M692.7,965.8L692.7,976.3M692.7,986.7L692.7,991.9M692.7,997.1L692.7,1006.1L694.1,1006.1M716.6,960.5L727.1,960.5M732.3,960.5L737.6,960.5M740.3,1005.1L740.3,1007.6L721.9,1007.6M738.8,965.8L738.8,976.3M738.8,991.9L738.8,997.1M727,1006.1L721.8,1006.1M764.1,960.5L756.1,960.5L756.1,963.1M756.1,968.3L756.1,973.6M756.1,1005.1L756.1,1007.6L764.1,1007.6M769.3,1007.6L774.6,1007.6M757.6,965.8L757.6,991.9M757.6,1002.3L757.6,1006.1L764.2,1006.1M797.3,960.5L805.2,960.5L805.2,963.1M805.2,968.3L805.2,973.6M805.2,999.8L805.2,1007.6L797.3,1007.6M792,1007.6L786.8,1007.6M803.7,976.3L803.7,991.9M834.2,960.5L829,960.5M823.8,960.5L821.1,960.5L821.1,984.1M821.1,999.8L821.1,1007.6L823.8,1007.6M822.5,971L822.5,976.3M851.7,960.5L856.9,960.5M862.2,960.5L870.1,960.5L870.1,968.3M870.1,978.8L870.1,984.1M870.1,994.6L870.1,999.8M856.9,1007.6L851.7,1007.6M868.7,976.3L868.7,991.9M868.7,997.1L868.7,1002.3M899.2,960.5L888.7,960.5M886,968.3L886,1005.1M888.7,1007.6L893.9,1007.6M887.4,976.3L887.4,981.5M887.4,991.9L887.4,997.1M927.1,960.5L932.3,960.5M935,968.3L935,973.6M932.3,1007.6L927.1,1007.6M921.8,1007.6L916.6,1007.6M933.6,965.8L933.6,971M933.6,976.3L933.6,991.9M964.1,960.5L958.8,960.5M950.9,968.3L950.9,978.8M958.8,1007.6L964.1,1007.6M953.7,962L952.3,962L952.3,976.3M992,960.5L997.2,960.5M999.9,963.1L999.9,973.6M999.9,994.6L999.9,999.8M999.9,1005.1L999.9,1007.6L997.2,1007.6M992,1007.6L986.7,1007.6M986.7,962L997.1,962M998.5,971L998.5,981.5M998.5,997.1L998.5,1002.3M1023.7,960.5L1015.8,960.5L1015.8,963.1M1023.7,1007.6L1029,1007.6M1034.2,1007.6L1039.5,1007.6M1018.6,962L1017.2,962L1017.2,965.8M1017.2,976.3L1017.2,981.5M1017.2,1002.3L1017.2,1006.1L1018.6,1006.1M1064.8,963.1L1064.8,968.3M1064.8,973.6L1064.8,978.8M1064.8,994.6L1064.8,1007.6L1062.1,1007.6M1056.9,1007.6L1041.2,1007.6M1063.4,976.3L1063.4,986.7M1063.4,991.9L1063.4,1002.3M1083.4,960.5L1080.7,960.5L1080.7,973.6M1080.7,1005.1L1080.7,1007.6L1083.4,1007.6M1082.1,971L1082.1,997.1M1116.6,960.5L1127,960.5M1129.7,999.8L1129.7,1005.1M1111.3,1007.6L1106.1,1007.6M1121.7,962L1126.9,962M1128.3,965.8L1128.3,971M1128.3,976.3L1128.3,981.5M1128.3,986.7L1128.3,991.9M1128.3,997.1L1128.3,1002.3M1121.7,1006.1L1116.5,1006.1M1145.6,968.3L1145.6,973.6M1164,1007.6L1169.3,1007.6M1158.9,962L1148.4,962M1147.1,971L1147.1,976.3M1147.1,991.9L1147.1,1006.1L1148.4,1006.1M1158.9,1006.1L1169.3,1006.1M1171,960.5L1176.2,960.5M1194.7,968.3L1194.7,973.6M1176.2,962L1191.8,962M1193.2,971L1193.2,976.3M1176.2,1006.1L1171,1006.1M650,1021.7L639.5,1021.7M639.5,1068.7L650,1068.7M650,1023.1L634.4,1023.1M629.2,1023.1L627.8,1023.1L627.8,1037.4M627.8,1042.6L627.8,1047.8M639.6,1067.3L650,1067.3M675.4,1034.7L675.4,1040M675.4,1045.2L675.4,1050.4M675.4,1066.2L675.4,1068.7L672.7,1068.7M656.9,1023.1L672.5,1023.1M673.9,1032.2L673.9,1037.4M673.9,1047.8L673.9,1053M673.9,1063.4L673.9,1067.3L662.1,1067.3M656.9,1067.3L651.7,1067.3M714.9,1021.7L709.7,1021.7M699.2,1021.7L691.2,1021.7L691.2,1029.5M691.2,1055.7L691.2,1060.9M691.2,1066.2L691.2,1068.7L693.9,1068.7M694.1,1023.1L692.7,1023.1L692.7,1027M692.7,1032.2L692.7,1037.4M692.7,1042.6L692.7,1053M694.1,1067.3L699.3,1067.3M716.6,1021.7L727.1,1021.7M737.6,1021.7L740.3,1021.7L740.3,1024.2M740.3,1029.5L740.3,1040M727.1,1068.7L716.6,1068.7M727,1023.1L732.2,1023.1M737.5,1023.1L738.8,1023.1L738.8,1027M738.8,1047.8L738.8,1058.2M738.8,1063.4L738.8,1067.3L727,1067.3M769.3,1021.7L764.1,1021.7M756.1,1066.2L756.1,1068.7L758.8,1068.7M769.3,1068.7L774.6,1068.7M779.8,1023.1L757.6,1023.1L757.6,1047.8M757.6,1053L757.6,1058.2M759,1067.3L769.4,1067.3M781.5,1021.7L786.8,1021.7M792,1021.7L797.3,1021.7M805.2,1029.5L805.2,1034.7M802.5,1068.7L797.3,1068.7M786.7,1023.1L797.2,1023.1M803.7,1047.8L803.7,1053M821.1,1024.2L821.1,1034.7M821.1,1045.2L821.1,1055.7M821.1,1060.9L821.1,1066.2M834.2,1068.7L839.5,1068.7M823.9,1023.1L822.5,1023.1L822.5,1027M822.5,1047.8L822.5,1063.4M856.9,1021.7L870.1,1021.7L870.1,1024.2M870.1,1034.7L870.1,1040M870.1,1055.7L870.1,1060.9M867.3,1023.1L868.7,1023.1L868.7,1047.8M886,1024.2L886,1034.7M886,1060.9L886,1066.2M888.7,1068.7L904.4,1068.7M927.1,1021.7L935,1021.7L935,1029.5M935,1034.7L935,1040M935,1045.2L935,1055.7M932.3,1068.7L927.1,1068.7M933.6,1053L933.6,1063.4M969.3,1021.7L964.1,1021.7M958.8,1021.7L953.6,1021.7M950.9,1060.9L950.9,1068.7L969.3,1068.7M952.3,1053L952.3,1058.2M992,1021.7L999.9,1021.7L999.9,1024.2M999.9,1055.7L999.9,1066.2M986.7,1068.7L981.5,1068.7M1018.5,1021.7L1015.8,1021.7L1015.8,1029.5M1015.8,1034.7L1015.8,1040M1015.8,1045.2L1015.8,1060.9M1018.5,1068.7L1023.7,1068.7M1018.6,1023.1L1017.2,1023.1L1017.2,1027M1017.2,1047.8L1017.2,1053M1017.2,1063.4L1017.2,1067.3L1018.6,1067.3M1056.9,1021.7L1062.1,1021.7M1064.8,1029.5L1064.8,1034.7M1064.8,1066.2L1064.8,1068.7L1062.1,1068.7M1056.9,1068.7L1051.6,1068.7M1046.4,1068.7L1041.2,1068.7M1063.4,1042.6L1063.4,1053M1080.7,1024.2L1080.7,1029.5M1080.7,1040L1080.7,1045.2M1080.7,1055.7L1080.7,1066.2M1093.9,1068.7L1104.4,1068.7M1082.1,1042.6L1082.1,1047.8M1082.1,1063.4L1082.1,1067.3L1083.5,1067.3M1106.1,1021.7L1111.3,1021.7M1126.9,1023.1L1128.3,1023.1L1128.3,1027M1128.3,1032.2L1128.3,1042.6M1128.3,1047.8L1128.3,1063.4M1121.7,1067.3L1111.3,1067.3M1169.3,1021.7L1164,1021.7M1164,1068.7L1169.3,1068.7M1147.1,1027L1147.1,1032.2M1147.1,1047.8L1147.1,1067.3L1148.4,1067.3M1164.1,1067.3L1169.3,1067.3M1171,1021.7L1176.2,1021.7M1181.5,1021.7L1186.7,1021.7M1194.7,1050.4L1194.7,1060.9M1192,1068.7L1181.5,1068.7M1193.2,1037.4L1193.2,1042.6M1193.2,1053L1193.2,1067.3L1191.8,1067.3M1186.6,1067.3L1181.4,1067.3M1176.2,1067.3L1171,1067.3M644.8,1082.8L626.3,1082.8L626.3,1085.3M626.3,1127.3L626.3,1129.8L629,1129.8M650,1084.2L639.6,1084.2M627.8,1088.1L627.8,1103.7M627.8,1108.9L627.8,1128.4L629.2,1128.4M675.4,1101.1L675.4,1111.6M675.4,1116.8L675.4,1129.8L672.7,1129.8M651.7,1084.2L662.1,1084.2M673.9,1093.3L673.9,1103.7M673.9,1108.9L673.9,1119.4M667.3,1128.4L662.1,1128.4M704.4,1082.8L693.9,1082.8M691.2,1085.3L691.2,1090.6M691.2,1095.8L691.2,1101.1M699.2,1129.8L704.4,1129.8M694.1,1084.2L692.7,1084.2L692.7,1098.5M692.7,1114.1L692.7,1128.4L699.3,1128.4M716.6,1082.8L727.1,1082.8M732.3,1082.8L737.6,1082.8M740.3,1085.3L740.3,1106.3M737.6,1129.8L727.1,1129.8M721.8,1084.2L732.2,1084.2M737.5,1084.2L738.8,1084.2L738.8,1093.3M738.8,1098.5L738.8,1108.9M738.8,1124.6L738.8,1128.4L732.2,1128.4M727,1128.4L716.6,1128.4M779.8,1082.8L769.3,1082.8M758.8,1082.8L756.1,1082.8L756.1,1085.3M764.1,1129.8L779.8,1129.8M779.8,1084.2L769.4,1084.2M757.6,1088.1L757.6,1093.3M757.6,1103.7L757.6,1108.9M757.6,1119.4L757.6,1124.6M759,1128.4L764.2,1128.4M774.6,1128.4L779.8,1128.4M792,1082.8L797.3,1082.8M781.5,1084.2L786.7,1084.2M803.7,1093.3L803.7,1103.7M803.7,1119.4L803.7,1128.4L797.2,1128.4M821.1,1101.1L821.1,1106.3M823.8,1129.8L839.5,1129.8M839.5,1084.2L834.3,1084.2M829.1,1084.2L823.9,1084.2M822.5,1088.1L822.5,1093.3M822.5,1098.5L822.5,1103.7M822.5,1119.4L822.5,1124.6M851.7,1082.8L862.2,1082.8M870.1,1106.3L870.1,1111.6M862.2,1129.8L846.4,1129.8M909.6,1082.8L904.4,1082.8M899.2,1129.8L904.4,1129.8M904.4,1084.2L894,1084.2M887.4,1093.3L887.4,1108.9M894,1128.4L899.2,1128.4M904.4,1128.4L909.6,1128.4M911.3,1082.8L916.6,1082.8M921.8,1082.8L932.3,1082.8M932.3,1129.8L927.1,1129.8M921.8,1129.8L911.3,1129.8M911.3,1084.2L921.8,1084.2M927,1084.2L932.2,1084.2M933.6,1088.1L933.6,1103.7M933.6,1114.1L933.6,1124.6M932.2,1128.4L927,1128.4M916.6,1128.4L911.3,1128.4M969.3,1082.8L964.1,1082.8M958.8,1082.8L953.6,1082.8M950.9,1127.3L950.9,1129.8L969.3,1129.8M952.3,1103.7L952.3,1108.9M952.3,1114.1L952.3,1124.6M964.1,1128.4L974.5,1128.4M992,1082.8L997.2,1082.8M999.9,1101.1L999.9,1106.3M999.9,1127.3L999.9,1129.8L986.7,1129.8M981.5,1129.8L976.2,1129.8M998.5,1093.3L998.5,1098.5M998.5,1114.1L998.5,1119.4M998.5,1124.6L998.5,1128.4L997.1,1128.4M991.9,1128.4L986.7,1128.4M1018.5,1082.8L1015.8,1082.8L1015.8,1095.8M1015.8,1116.8L1015.8,1127.3M1023.7,1129.8L1039.5,1129.8M1017.2,1093.3L1017.2,1098.5M1017.2,1114.1L1017.2,1124.6M1023.8,1128.4L1029,1128.4M1062.1,1082.8L1064.8,1082.8L1064.8,1085.3M1064.8,1106.3L1064.8,1111.6M1064.8,1122.1L1064.8,1129.8L1062.1,1129.8M1063.4,1093.3L1063.4,1098.5M1063.4,1124.6L1063.4,1128.4L1051.6,1128.4M1093.9,1082.8L1080.7,1082.8L1080.7,1085.3M1080.7,1090.6L1080.7,1101.1M1093.9,1084.2L1083.5,1084.2M1082.1,1093.3L1082.1,1103.7M1082.1,1114.1L1082.1,1128.4L1083.5,1128.4M1111.3,1082.8L1127,1082.8M1129.7,1085.3L1129.7,1090.6M1129.7,1101.1L1129.7,1106.3M1121.8,1129.8L1111.3,1129.8M1126.9,1084.2L1128.3,1084.2L1128.3,1088.1M1128.3,1093.3L1128.3,1124.6M1126.9,1128.4L1106.1,1128.4M1169.3,1082.8L1164,1082.8M1153.5,1082.8L1148.3,1082.8M1145.6,1106.3L1145.6,1111.6M1145.6,1116.8L1145.6,1122.1M1145.6,1127.3L1145.6,1129.8L1148.3,1129.8M1153.5,1129.8L1158.8,1129.8M1164,1129.8L1169.3,1129.8M1164.1,1084.2L1158.9,1084.2M1148.4,1084.2L1147.1,1084.2L1147.1,1088.1M1147.1,1093.3L1147.1,1103.7M1153.6,1128.4L1169.3,1128.4M1181.5,1082.8L1192,1082.8M1194.7,1095.8L1194.7,1101.1M1194.7,1111.6L1194.7,1116.8M1194.7,1127.3L1194.7,1129.8L1192,1129.8M1186.7,1129.8L1176.2,1129.8M1176.2,1084.2L1186.6,1084.2M1193.2,1088.1L1193.2,1098.5M1193.2,1103.7L1193.2,1108.9M1193.2,1119.4L1193.2,1128.4L1191.8,1128.4M1186.6,1128.4L1176.2,1128.4M650,1143.9L629,1143.9M626.3,1146.5L626.3,1151.7M639.5,1191L644.8,1191M650,1145.4L644.8,1145.4M639.6,1145.4L634.4,1145.4M627.8,1154.4L627.8,1159.6M627.8,1185.7L627.8,1189.5L629.2,1189.5M644.8,1189.5L650,1189.5M667.4,1143.9L672.7,1143.9M675.4,1177.9L675.4,1183.2M656.9,1191L651.7,1191M667.3,1145.4L673.9,1145.4L673.9,1149.2M673.9,1164.8L673.9,1170.1M673.9,1175.3L673.9,1180.5M673.9,1185.7L673.9,1189.5L667.3,1189.5M693.9,1143.9L691.2,1143.9L691.2,1146.5M691.2,1162.2L691.2,1167.4M709.7,1191L714.9,1191M699.3,1145.4L694.1,1145.4M692.7,1164.8L692.7,1170.1M716.6,1143.9L727.1,1143.9M732.3,1143.9L737.6,1143.9M740.3,1177.9L740.3,1183.2M721.9,1191L716.6,1191M721.8,1145.4L727,1145.4M732.2,1145.4L737.5,1145.4M738.8,1154.4L738.8,1159.6M738.8,1180.5L738.8,1189.5L737.5,1189.5M732.2,1189.5L727,1189.5M756.1,1146.5L756.1,1167.4M756.1,1172.7L756.1,1188.4M758.8,1191L764.1,1191M774.6,1145.4L759,1145.4M757.6,1154.4L757.6,1159.6M757.6,1175.3L757.6,1189.5L759,1189.5M769.4,1189.5L774.6,1189.5M781.5,1143.9L786.8,1143.9M786.8,1191L781.5,1191M786.7,1145.4L802.4,1145.4M839.5,1143.9L829,1143.9M821.1,1177.9L821.1,1188.4M844.7,1145.4L834.3,1145.4M822.5,1164.8L822.5,1170.1M822.5,1175.3L822.5,1180.5M839.5,1189.5L844.7,1189.5M846.4,1143.9L862.2,1143.9M856.9,1191L851.7,1191M846.4,1145.4L856.9,1145.4M868.7,1149.2L868.7,1154.4M868.7,1175.3L868.7,1189.5L851.6,1189.5M909.6,1143.9L904.4,1143.9M899.2,1143.9L893.9,1143.9M888.7,1143.9L886,1143.9L886,1151.7M886,1183.2L886,1188.4M893.9,1191L899.2,1191M904.4,1191L909.6,1191M909.6,1145.4L899.2,1145.4M894,1145.4L887.4,1145.4L887.4,1149.2M887.4,1154.4L887.4,1170.1M888.8,1189.5L899.2,1189.5M921.8,1143.9L927.1,1143.9M935,1188.4L935,1191L932.3,1191M921.8,1191L916.6,1191M911.3,1145.4L916.6,1145.4M932.2,1145.4L933.6,1145.4L933.6,1159.6M933.6,1164.8L933.6,1180.5M921.8,1189.5L911.3,1189.5M950.9,1188.4L950.9,1191L958.8,1191M974.5,1145.4L953.7,1145.4M952.3,1149.2L952.3,1154.4M952.3,1159.6L952.3,1170.1M952.3,1180.5L952.3,1189.5L953.7,1189.5M992,1191L981.5,1191M997.1,1189.5L986.7,1189.5M1015.8,1167.4L1015.8,1172.7M1015.8,1177.9L1015.8,1183.2M1029,1191L1034.2,1191M1039.5,1145.4L1029,1145.4M1017.2,1149.2L1017.2,1154.4M1017.2,1170.1L1017.2,1175.3M1017.2,1180.5L1017.2,1185.7M1018.6,1189.5L1034.2,1189.5M1046.4,1143.9L1051.6,1143.9M1064.8,1157L1064.8,1162.2M1064.8,1188.4L1064.8,1191L1062.1,1191M1051.6,1191L1041.2,1191M1046.4,1145.4L1051.6,1145.4M1056.8,1145.4L1062,1145.4M1063.4,1170.1L1063.4,1180.5M1063.4,1185.7L1063.4,1189.5L1062,1189.5M1080.7,1146.5L1080.7,1151.7M1083.4,1191L1104.4,1191M1099.2,1145.4L1093.9,1145.4M1088.7,1145.4L1082.1,1145.4L1082.1,1154.4M1082.1,1164.8L1082.1,1170.1M1093.9,1189.5L1099.2,1189.5M1129.7,1188.4L1129.7,1191L1127,1191M1106.1,1145.4L1116.5,1145.4M1121.7,1145.4L1126.9,1145.4M1128.3,1149.2L1128.3,1159.6M1128.3,1185.7L1128.3,1189.5L1126.9,1189.5M1111.3,1189.5L1106.1,1189.5M1145.6,1162.2L1145.6,1167.4M1145.6,1188.4L1145.6,1191L1153.5,1191M1158.8,1191L1164,1191M1169.3,1145.4L1158.9,1145.4M1148.4,1145.4L1147.1,1145.4L1147.1,1164.8M1148.4,1189.5L1169.3,1189.5M1181.5,1143.9L1186.7,1143.9M1176.2,1145.4L1181.4,1145.4M1186.6,1145.4L1193.2,1145.4L1193.2,1149.2M1193.2,1159.6L1193.2,1175.3M1193.2,1180.5L1193.2,1189.5L1186.6,1189.5M1176.2,1189.5L1171,1189.5" stroke="#0040FF" stroke-width="1.60"/>
<path d="M644.8,654.9L639.5,654.9M626.3,657.5L626.3,702L629,702M639.5,702L650,702M627.8,675.8L627.8,686.3M662.2,654.9L667.4,654.9M672.7,654.9L675.4,654.9L675.4,668M675.4,673.2L675.4,678.4M675.4,688.9L675.4,702L667.4,702M662.2,702L656.9,702M667.3,656.4L673.9,656.4L673.9,660.2M673.9,670.6L673.9,686.3M709.7,654.9L704.4,654.9M693.9,654.9L691.2,654.9L691.2,668M691.2,683.7L691.2,688.9M691.2,699.4L691.2,702L709.7,702M694.1,656.4L692.7,656.4L692.7,660.2M692.7,670.6L692.7,675.8M716.6,654.9L721.9,654.9M740.3,657.5L740.3,702L716.6,702M738.8,660.2L738.8,665.4M756.1,657.5L756.1,668M756.1,678.4L756.1,688.9M756.1,694.2L756.1,702L779.8,702M757.6,670.6L757.6,675.8M757.6,686.3L757.6,691.5M757.6,696.7L757.6,700.5L759,700.5M781.5,654.9L786.8,654.9M802.5,654.9L805.2,654.9L805.2,678.4M805.2,683.7L805.2,688.9M805.2,699.4L805.2,702L792,702M786.8,702L781.5,702M802.4,656.4L803.7,656.4L803.7,660.2M803.7,670.6L803.7,686.3M821.1,657.5L821.1,662.7M821.1,668L821.1,673.2M821.1,688.9L821.1,702L834.2,702M829.1,656.4L823.9,656.4M822.5,660.2L822.5,665.4M822.5,691.5L822.5,700.5L829.1,700.5M870.1,678.4L870.1,683.7M870.1,688.9L870.1,702L851.7,702M868.7,670.6L868.7,675.8M868.7,686.3L868.7,691.5M909.6,654.9L904.4,654.9M899.2,654.9L886,654.9L886,699.4M888.7,702L893.9,702M909.6,656.4L888.8,656.4M887.4,696.7L887.4,700.5L899.2,700.5M911.3,654.9L935,654.9L935,702L911.3,702M933.6,660.2L933.6,665.4M974.5,654.9L969.3,654.9M964.1,654.9L953.6,654.9M950.9,657.5L950.9,688.9M950.9,694.2L950.9,699.4M958.8,702L969.3,702M952.3,660.2L952.3,681.1M999.9,657.5L999.9,662.7M999.9,673.2L999.9,702L997.2,702M992,702L976.2,702M998.5,665.4L998.5,670.6M998.5,675.8L998.5,691.5M991.9,700.5L986.7,700.5M1015.8,657.5L1015.8,688.9M1015.8,699.4L1015.8,702L1034.2,702M1018.6,656.4L1017.2,656.4L1017.2,660.2M1051.6,654.9L1056.9,654.9M1064.8,657.5L1064.8,673.2M1064.8,683.7L1064.8,702L1041.2,702M1051.6,656.4L1063.4,656.4L1063.4,660.2M1063.4,675.8L1063.4,686.3M1104.4,654.9L1080.7,654.9L1080.7,662.7M1080.7,668L1080.7,702L1083.4,702M1099.1,702L1104.4,702M1088.7,656.4L1082.1,656.4L1082.1,700.5L1093.9,700.5M1099.2,700.5L1104.4,700.5M1111.3,654.9L1129.7,654.9L1129.7,702L1127,702M1128.3,660.2L1128.3,686.3M1158.8,654.9L1145.6,654.9L1145.6,702L1158.8,702M1164,702L1169.3,702M1147.1,660.2L1147.1,670.6M1147.1,675.8L1147.1,681.1M1147.1,686.3L1147.1,696.7M1171,654.9L1194.7,654.9L1194.7,702L1176.2,702M1193.2,665.4L1193.2,670.6M1193.2,681.1L1193.2,700.5L1191.8,700.5M650,716L626.3,716L626.3,744.8M626.3,750.1L626.3,760.6M634.3,763.1L650,763.1M650,717.5L644.8,717.5M634.4,717.5L629.2,717.5M627.8,731.8L627.8,737M627.8,747.4L627.8,752.6M651.7,716L675.4,716L675.4,739.6M675.4,744.8L675.4,750.1M675.4,760.6L675.4,763.1L651.7,763.1M673.9,726.5L673.9,742.2M662.1,761.6L651.7,761.6M709.7,716L704.4,716M699.2,716L691.2,716L691.2,763.1L714.9,763.1M714.9,717.5L709.7,717.5M694.1,717.5L692.7,717.5L692.7,742.2M694.1,761.6L704.5,761.6M732.3,716L740.3,716L740.3,734.3M740.3,750.1L740.3,763.1L716.6,763.1M732.2,717.5L737.5,717.5M738.8,731.8L738.8,757.8M737.5,761.6L716.6,761.6M779.8,716L774.6,716M769.3,716L764.1,716M756.1,729.1L756.1,760.6M758.8,763.1L764.1,763.1M769.3,763.1L779.8,763.1M757.6,742.2L757.6,747.4M792,716L797.3,716M802.5,716L805.2,716L805.2,744.8M802.5,763.1L792,763.1M803.7,731.8L803.7,742.2M839.5,716L823.8,716M821.1,718.6L821.1,744.8M821.1,750.1L821.1,763.1L844.7,763.1M829.1,717.5L822.5,717.5L822.5,742.2M846.4,716L851.7,716M856.9,716L870.1,716L870.1,744.8M870.1,755.3L870.1,763.1L846.4,763.1M868.7,721.3L868.7,726.5M851.6,761.6L846.4,761.6M909.6,716L899.2,716M893.9,716L886,716L886,718.6M886,723.8L886,734.3M893.9,763.1L899.2,763.1M887.4,737L887.4,742.2M916.6,716L921.8,716M927.1,716L932.3,716M935,723.8L935,750.1M935,760.6L935,763.1L932.3,763.1M933.6,742.2L933.6,752.6M969.3,716L958.8,716M953.6,716L950.9,716L950.9,729.1M950.9,739.6L950.9,763.1L953.6,763.1M964.1,763.1L974.5,763.1M952.3,721.3L952.3,742.2M986.7,716L999.9,716L999.9,729.1M999.9,734.3L999.9,755.3M999.9,760.6L999.9,763.1L997.2,763.1M998.5,752.6L998.5,757.8M1039.5,716L1015.8,716L1015.8,723.8M1015.8,729.1L1015.8,763.1L1018.5,763.1M1018.6,717.5L1017.2,717.5L1017.2,726.5M1017.2,747.4L1017.2,757.8M1046.4,716L1056.9,716M1064.8,723.8L1064.8,755.3M1056.9,763.1L1046.4,763.1M1056.8,761.6L1051.6,761.6M1104.4,716L1080.7,716L1080.7,763.1L1104.4,763.1M1082.1,731.8L1082.1,757.8M1088.7,761.6L1099.2,761.6M1106.1,716L1129.7,716L1129.7,723.8M1129.7,734.3L1129.7,763.1L1127,763.1M1121.8,763.1L1111.3,763.1M1126.9,717.5L1128.3,717.5L1128.3,726.5M1164,716L1145.6,716L1145.6,755.3M1145.6,760.6L1145.6,763.1L1169.3,763.1M1147.1,721.3L1147.1,726.5M1147.1,737L1147.1,742.2M1147.1,747.4L1147.1,752.6M1171,716L1176.2,716M1192,716L1194.7,716L1194.7,723.8M1194.7,734.3L1194.7,744.8M1186.7,763.1L1176.2,763.1M1181.4,717.5L1186.6,717.5M1193.2,726.5L1193.2,752.6M1193.2,757.8L1193.2,761.6L1181.4,761.6M650,777.2L639.5,777.2M634.3,777.2L626.3,777.2L626.3,785M626.3,795.5L626.3,800.7M626.3,811.2L626.3,821.7M634.3,824.2L639.5,824.2M650,778.6L634.4,778.6M627.8,798.1L627.8,808.5M627.8,813.7L627.8,822.8L629.2,822.8M634.4,822.8L644.8,822.8M651.7,777.2L675.4,777.2L675.4,805.9M675.4,816.4L675.4,824.2L651.7,824.2M651.7,778.6L673.9,778.6L673.9,813.7M704.4,777.2L699.2,777.2M693.9,777.2L691.2,777.2L691.2,824.2L693.9,824.2M694.1,778.6L692.7,778.6L692.7,798.1M737.6,777.2L740.3,777.2L740.3,805.9M740.3,816.4L740.3,821.7M738.8,798.1L738.8,818.9M779.8,777.2L774.6,777.2M769.3,777.2L764.1,777.2M758.8,777.2L756.1,777.2L756.1,785M756.1,790.2L756.1,805.9M756.1,811.2L756.1,824.2L764.1,824.2M769.3,824.2L774.6,824.2M759,778.6L757.6,778.6L757.6,803.3M786.8,777.2L805.2,777.2L805.2,790.2M805.2,795.5L805.2,800.7M805.2,805.9L805.2,824.2L802.5,824.2M792,824.2L786.8,824.2M791.9,778.6L802.4,778.6M803.7,813.7L803.7,818.9M829,777.2L823.8,777.2M821.1,779.7L821.1,811.2M823.9,778.6L822.5,778.6L822.5,782.5M822.5,792.9L822.5,803.3M870.1,816.4L870.1,821.7M868.7,792.9L868.7,808.5M899.2,777.2L893.9,777.2M886,779.7L886,790.2M886,800.7L886,824.2L888.7,824.2M887.4,782.5L887.4,787.7M887.4,792.9L887.4,798.1M935,785L935,816.4M950.9,779.7L950.9,790.2M950.9,795.5L950.9,821.7M997.2,777.2L999.9,777.2L999.9,800.7M997.2,824.2L992,824.2M1039.5,777.2L1023.7,777.2M1018.5,777.2L1015.8,777.2L1015.8,821.7M1018.5,824.2L1029,824.2M1017.2,798.1L1017.2,813.7M1046.4,777.2L1051.6,777.2M1064.8,779.7L1064.8,790.2M1064.8,821.7L1064.8,824.2L1062.1,824.2M1046.4,778.6L1056.8,778.6M1093.9,777.2L1088.6,777.2M1080.7,795.5L1080.7,811.2M1080.7,816.4L1080.7,821.7M1082.1,782.5L1082.1,787.7M1082.1,803.3L1082.1,822.8L1083.5,822.8M1116.6,777.2L1121.8,777.2M1127,777.2L1129.7,777.2L1129.7,785M1129.7,805.9L1129.7,821.7M1116.6,824.2L1111.3,824.2M1116.5,778.6L1121.7,778.6M1128.3,787.7L1128.3,792.9M1128.3,798.1L1128.3,808.5M1145.6,779.7L1145.6,824.2L1164,824.2M1147.1,808.5L1147.1,822.8L1169.3,822.8M1176.2,777.2L1186.7,777.2M1192,777.2L1194.7,777.2L1194.7,779.7M1194.7,785L1194.7,824.2L1176.2,824.2M1181.4,778.6L1186.6,778.6M1191.8,778.6L1193.2,778.6L1193.2,792.9M1193.2,798.1L1193.2,803.3M1193.2,808.5L1193.2,813.7M1191.8,822.8L1186.6,822.8M650,838.3L626.3,838.3L626.3,846.1M626.3,851.3L626.3,885.3L629,885.3M634.3,885.3L650,885.3M627.8,864.4L627.8,880.1M651.7,838.3L662.2,838.3M672.7,838.3L675.4,838.3L675.4,840.8M675.4,846.1L675.4,867.1M675.4,872.3L675.4,885.3L651.7,885.3M672.5,839.8L673.9,839.8L673.9,859.2M673.9,864.4L673.9,883.9L672.5,883.9M709.7,838.3L704.4,838.3M691.2,840.8L691.2,885.3L699.2,885.3M694.1,839.8L692.7,839.8L692.7,869.6M692.7,874.9L692.7,880.1M732.3,838.3L737.6,838.3M740.3,840.8L740.3,846.1M740.3,877.6L740.3,885.3L716.6,885.3M738.8,859.2L738.8,864.4M738.8,869.6L738.8,874.9M756.1,840.8L756.1,867.1M802.5,838.3L805.2,838.3L805.2,867.1M803.7,843.6L803.7,874.9M821.1,856.6L821.1,872.3M821.1,882.8L821.1,885.3L829,885.3M823.9,839.8L822.5,839.8L822.5,854M822.5,864.4L822.5,874.9M867.4,838.3L870.1,838.3L870.1,851.3M870.1,867.1L870.1,882.8M888.7,838.3L886,838.3L886,861.8M887.4,859.2L887.4,864.4M927.1,838.3L935,838.3L935,851.3M935,856.6L935,861.8M932.2,839.8L933.6,839.8L933.6,859.2M950.9,872.3L950.9,885.3L958.8,885.3M952.3,859.2L952.3,883.9L953.7,883.9M986.7,838.3L999.9,838.3L999.9,877.6M998.5,864.4L998.5,880.1M1015.8,856.6L1015.8,872.3M1015.8,877.6L1015.8,882.8M1051.6,838.3L1056.9,838.3M1064.8,840.8L1064.8,867.1M1063.4,859.2L1063.4,874.9M1083.4,838.3L1080.7,838.3L1080.7,840.8M1080.7,846.1L1080.7,885.3L1088.6,885.3M1093.9,885.3L1099.1,885.3M1082.1,848.8L1082.1,854M1129.7,846.1L1129.7,851.3M1129.7,856.6L1129.7,882.8M1127,885.3L1121.8,885.3M1128.3,859.2L1128.3,869.6M1169.3,838.3L1145.6,838.3L1145.6,840.8M1145.6,851.3L1145.6,882.8M1147.1,848.8L1147.1,864.4M1147.1,874.9L1147.1,883.9L1153.6,883.9M1171,838.3L1194.7,838.3L1194.7,840.8M1194.7,851.3L1194.7,885.3L1171,885.3M1176.2,839.8L1191.8,839.8M1193.2,843.6L1193.2,864.4M1193.2,869.6L1193.2,883.9L1186.6,883.9M650,899.4L639.5,899.4M634.3,899.4L626.3,899.4L626.3,938.7M629,946.5L650,946.5M650,900.9L639.6,900.9M627.8,915.1L627.8,925.6M656.9,899.4L675.4,899.4L675.4,946.5L651.7,946.5M673.9,904.7L673.9,920.3M656.9,945L651.7,945M704.4,899.4L691.2,899.4L691.2,938.7M694.1,900.9L692.7,900.9L692.7,909.9M692.7,915.1L692.7,930.8M732.3,899.4L740.3,899.4L740.3,943.9M738.8,925.6L738.8,930.8M756.1,907.2L756.1,946.5L758.8,946.5M805.2,917.7L805.2,933.4M797.3,946.5L792,946.5M803.7,930.8L803.7,936M821.1,907.2L821.1,938.7M821.1,943.9L821.1,946.5L829,946.5M867.4,899.4L870.1,899.4L870.1,928.2M870.1,933.4L870.1,938.7M868.7,925.6L868.7,936M868.7,941.2L868.7,945L867.3,945M888.7,899.4L886,899.4L886,907.2M886,912.5L886,933.4M887.4,920.3L887.4,925.6M935,902L935,912.5M935,922.9L935,928.2M933.6,915.1L933.6,925.6M950.9,902L950.9,912.5M950.9,928.2L950.9,943.9M953.6,946.5L964.1,946.5M952.3,909.9L952.3,915.1M953.7,945L958.9,945M999.9,902L999.9,907.2M999.9,912.5L999.9,946.5L997.2,946.5M998.5,915.1L998.5,920.3M1015.8,917.7L1015.8,938.7M1017.2,904.7L1017.2,909.9M1017.2,920.3L1017.2,925.6M1062.1,899.4L1064.8,899.4L1064.8,943.9M1099.1,899.4L1080.7,899.4L1080.7,917.7M1080.7,922.9L1080.7,933.4M1083.4,946.5L1104.4,946.5M1083.5,945L1088.7,945M1129.7,902L1129.7,922.9M1129.7,928.2L1129.7,943.9M1127,946.5L1106.1,946.5M1128.3,920.3L1128.3,925.6M1153.5,899.4L1145.6,899.4L1145.6,933.4M1145.6,943.9L1145.6,946.5L1148.3,946.5M1153.5,946.5L1169.3,946.5M1169.3,900.9L1147.1,900.9L1147.1,936M1153.6,945L1158.9,945M1171,899.4L1194.7,899.4L1194.7,933.4M1186.7,946.5L1171,946.5M1171,900.9L1176.2,900.9M650,960.5L626.3,960.5L626.3,1007.6L639.5,1007.6M627.8,971L627.8,986.7M634.4,1006.1L650,1006.1M651.7,960.5L675.4,960.5L675.4,999.8M675.4,1005.1L675.4,1007.6L672.7,1007.6M667.4,1007.6L662.2,1007.6M656.9,962L672.5,962M673.9,971L673.9,976.3M691.2,963.1L691.2,999.8M709.7,1007.6L714.9,1007.6M692.7,976.3L692.7,986.7M692.7,991.9L692.7,997.1M727.1,960.5L732.3,960.5M737.6,960.5L740.3,960.5L740.3,1005.1M738.8,976.3L738.8,991.9M737.5,1006.1L727,1006.1M756.1,963.1L756.1,968.3M756.1,973.6L756.1,1005.1M764.1,1007.6L769.3,1007.6M757.6,991.9L757.6,997.1M805.2,973.6L805.2,999.8M821.1,984.1L821.1,999.8M822.5,965.8L822.5,971M870.1,968.3L870.1,978.8M870.1,984.1L870.1,994.6M870.1,999.8L870.1,1007.6L856.9,1007.6M904.4,960.5L899.2,960.5M888.7,960.5L886,960.5L886,968.3M886,1005.1L886,1007.6L888.7,1007.6M932.3,960.5L935,960.5L935,968.3M935,973.6L935,1007.6L932.3,1007.6M933.6,971L933.6,976.3M958.8,960.5L950.9,960.5L950.9,968.3M950.9,978.8L950.9,1007.6L958.8,1007.6M952.3,976.3L952.3,997.1M999.9,973.6L999.9,994.6M999.9,999.8L999.9,1005.1M998.5,981.5L998.5,997.1M1015.8,963.1L1015.8,1007.6L1023.7,1007.6M1064.8,968.3L1064.8,973.6M1064.8,978.8L1064.8,994.6M1063.4,971L1063.4,976.3M1063.4,986.7L1063.4,991.9M1088.6,960.5L1083.4,960.5M1080.7,973.6L1080.7,1005.1M1083.5,962L1082.1,962L1082.1,971M1082.1,1002.3L1082.1,1006.1L1088.7,1006.1M1127,960.5L1129.7,960.5L1129.7,999.8M1129.7,1005.1L1129.7,1007.6L1111.3,1007.6M1111.3,962L1121.7,962M1128.3,981.5L1128.3,986.7M1128.3,991.9L1128.3,997.1M1128.3,1002.3L1128.3,1006.1L1121.7,1006.1M1164,960.5L1145.6,960.5L1145.6,968.3M1145.6,973.6L1145.6,1007.6L1164,1007.6M1147.1,965.8L1147.1,971M1147.1,981.5L1147.1,991.9M1176.2,960.5L1194.7,960.5L1194.7,968.3M1194.7,973.6L1194.7,1007.6L1171,1007.6M1171,962L1176.2,962M1191.8,962L1193.2,962L1193.2,971M1193.2,976.3L1193.2,1006.1L1176.2,1006.1M639.5,1021.7L626.3,1021.7L626.3,1068.7L639.5,1068.7M634.4,1023.1L629.2,1023.1M627.8,1047.8L627.8,1067.3L639.6,1067.3M651.7,1021.7L675.4,1021.7L675.4,1034.7M675.4,1040L675.4,1045.2M675.4,1050.4L675.4,1066.2M673.9,1037.4L673.9,1047.8M673.9,1053L673.9,1063.4M691.2,1029.5L691.2,1055.7M691.2,1060.9L691.2,1066.2M693.9,1068.7L714.9,1068.7M692.7,1027L692.7,1032.2M692.7,1053L692.7,1067.3L694.1,1067.3M727.1,1021.7L737.6,1021.7M740.3,1024.2L740.3,1029.5M740.3,1040L740.3,1068.7L727.1,1068.7M738.8,1042.6L738.8,1047.8M764.1,1021.7L756.1,1021.7L756.1,1066.2M757.6,1047.8L757.6,1053M757.6,1063.4L757.6,1067.3L759,1067.3M786.8,1021.7L792,1021.7M805.2,1024.2L805.2,1029.5M805.2,1034.7L805.2,1068.7L802.5,1068.7M803.7,1053L803.7,1067.3L802.4,1067.3M823.8,1021.7L821.1,1021.7L821.1,1024.2M821.1,1040L821.1,1045.2M821.1,1055.7L821.1,1060.9M823.8,1068.7L834.2,1068.7M870.1,1040L870.1,1045.2M870.1,1050.4L870.1,1055.7M886,1034.7L886,1060.9M886,1066.2L886,1068.7L888.7,1068.7M935,1055.7L935,1068.7L932.3,1068.7M964.1,1021.7L958.8,1021.7M953.6,1021.7L950.9,1021.7L950.9,1024.2M950.9,1029.5L950.9,1060.9M999.9,1024.2L999.9,1055.7M999.9,1066.2L999.9,1068.7L992,1068.7M1015.8,1029.5L1015.8,1034.7M1015.8,1040L1015.8,1045.2M1015.8,1060.9L1015.8,1068.7L1018.5,1068.7M1017.2,1027L1017.2,1047.8M1017.2,1053L1017.2,1063.4M1062.1,1021.7L1064.8,1021.7L1064.8,1029.5M1064.8,1034.7L1064.8,1060.9M1062.1,1068.7L1056.9,1068.7M1080.7,1029.5L1080.7,1040M1080.7,1045.2L1080.7,1055.7M1080.7,1066.2L1080.7,1068.7L1093.9,1068.7M1083.5,1023.1L1082.1,1023.1L1082.1,1042.6M1082.1,1047.8L1082.1,1063.4M1083.5,1067.3L1088.7,1067.3M1111.3,1021.7L1129.7,1021.7L1129.7,1068.7L1116.6,1068.7M1128.3,1027L1128.3,1032.2M1128.3,1063.4L1128.3,1067.3L1126.9,1067.3M1164,1021.7L1145.6,1021.7L1145.6,1068.7L1164,1068.7M1148.4,1023.1L1147.1,1023.1L1147.1,1027M1147.1,1032.2L1147.1,1047.8M1153.6,1067.3L1164.1,1067.3M1176.2,1021.7L1181.5,1021.7M1186.7,1021.7L1194.7,1021.7L1194.7,1050.4M1181.5,1068.7L1171,1068.7M1181.4,1023.1L1193.2,1023.1L1193.2,1037.4M1193.2,1047.8L1193.2,1053M1191.8,1067.3L1186.6,1067.3M650,1082.8L644.8,1082.8M626.3,1085.3L626.3,1127.3M629,1129.8L650,1129.8M639.6,1084.2L629.2,1084.2M627.8,1103.7L627.8,1108.9M651.7,1082.8L675.4,1082.8L675.4,1101.1M675.4,1111.6L675.4,1116.8M672.7,1129.8L651.7,1129.8M673.9,1119.4L673.9,1128.4L667.3,1128.4M714.9,1082.8L704.4,1082.8M693.9,1082.8L691.2,1082.8L691.2,1085.3M691.2,1090.6L691.2,1095.8M691.2,1101.1L691.2,1129.8L699.2,1129.8M704.4,1129.8L714.9,1129.8M714.9,1084.2L699.3,1084.2M692.7,1098.5L692.7,1114.1M699.3,1128.4L714.9,1128.4M727.1,1082.8L732.3,1082.8M740.3,1106.3L740.3,1129.8L737.6,1129.8M727.1,1129.8L716.6,1129.8M738.8,1108.9L738.8,1119.4M732.2,1128.4L727,1128.4M769.3,1082.8L758.8,1082.8M756.1,1085.3L756.1,1129.8L764.1,1129.8M769.4,1084.2L757.6,1084.2L757.6,1088.1M757.6,1093.3L757.6,1103.7M757.6,1108.9L757.6,1119.4M769.4,1128.4L774.6,1128.4M781.5,1082.8L792,1082.8M797.3,1082.8L805.2,1082.8L805.2,1129.8L781.5,1129.8M786.7,1084.2L803.7,1084.2L803.7,1093.3M839.5,1082.8L821.1,1082.8L821.1,1101.1M821.1,1106.3L821.1,1129.8L823.8,1129.8M822.5,1103.7L822.5,1114.1M822.5,1124.6L822.5,1128.4L823.9,1128.4M862.2,1082.8L870.1,1082.8L870.1,1095.8M870.1,1111.6L870.1,1129.8L862.2,1129.8M904.4,1082.8L886,1082.8L886,1129.8L899.2,1129.8M888.8,1084.2L887.4,1084.2L887.4,1093.3M887.4,1108.9L887.4,1119.4M899.2,1128.4L904.4,1128.4M916.6,1082.8L921.8,1082.8M932.3,1082.8L935,1082.8L935,1129.8L932.3,1129.8M927.1,1129.8L921.8,1129.8M921.8,1084.2L927,1084.2M933.6,1108.9L933.6,1114.1M964.1,1082.8L958.8,1082.8M950.9,1085.3L950.9,1127.3M997.2,1082.8L999.9,1082.8L999.9,1085.3M999.9,1090.6L999.9,1101.1M999.9,1106.3L999.9,1127.3M998.5,1098.5L998.5,1108.9M1015.8,1095.8L1015.8,1116.8M1018.5,1129.8L1023.7,1129.8M1017.2,1098.5L1017.2,1114.1M1041.2,1082.8L1051.6,1082.8M1064.8,1085.3L1064.8,1095.8M1064.8,1111.6L1064.8,1122.1M1062.1,1129.8L1041.2,1129.8M1063.4,1088.1L1063.4,1093.3M1063.4,1098.5L1063.4,1124.6M1104.4,1082.8L1093.9,1082.8M1080.7,1101.1L1080.7,1129.8L1093.9,1129.8M1082.1,1103.7L1082.1,1114.1M1083.5,1128.4L1104.4,1128.4M1106.1,1082.8L1111.3,1082.8M1127,1082.8L1129.7,1082.8L1129.7,1085.3M1129.7,1090.6L1129.7,1101.1M1129.7,1106.3L1129.7,1129.8L1121.8,1129.8M1111.3,1129.8L1106.1,1129.8M1128.3,1088.1L1128.3,1093.3M1148.3,1082.8L1145.6,1082.8L1145.6,1106.3M1145.6,1111.6L1145.6,1116.8M1145.6,1122.1L1145.6,1127.3M1148.3,1129.8L1153.5,1129.8M1158.8,1129.8L1164,1129.8M1158.9,1084.2L1148.4,1084.2M1147.1,1088.1L1147.1,1093.3M1147.1,1103.7L1147.1,1114.1M1176.2,1082.8L1181.5,1082.8M1192,1082.8L1194.7,1082.8L1194.7,1085.3M1194.7,1101.1L1194.7,1111.6M1194.7,1116.8L1194.7,1127.3M1192,1129.8L1186.7,1129.8M1176.2,1129.8L1171,1129.8M1171,1084.2L1176.2,1084.2M1193.2,1098.5L1193.2,1103.7M1193.2,1108.9L1193.2,1119.4M1176.2,1128.4L1171,1128.4M629,1143.9L626.3,1143.9L626.3,1146.5M626.3,1151.7L626.3,1188.4M644.8,1191L650,1191M644.8,1145.4L639.6,1145.4M634.4,1145.4L627.8,1145.4L627.8,1154.4M627.8,1159.6L627.8,1185.7M651.7,1143.9L667.4,1143.9M672.7,1143.9L675.4,1143.9L675.4,1177.9M675.4,1183.2L675.4,1191L656.9,1191M673.9,1149.2L673.9,1164.8M673.9,1180.5L673.9,1185.7M714.9,1143.9L693.9,1143.9M691.2,1146.5L691.2,1162.2M691.2,1167.4L691.2,1191L709.7,1191M694.1,1145.4L692.7,1145.4L692.7,1164.8M709.7,1189.5L714.9,1189.5M727.1,1143.9L732.3,1143.9M737.6,1143.9L740.3,1143.9L740.3,1177.9M740.3,1188.4L740.3,1191L721.9,1191M737.5,1145.4L738.8,1145.4L738.8,1149.2M738.8,1159.6L738.8,1180.5M779.8,1143.9L756.1,1143.9L756.1,1146.5M756.1,1167.4L756.1,1172.7M756.1,1188.4L756.1,1191L758.8,1191M764.1,1191L779.8,1191M779.8,1145.4L774.6,1145.4M757.6,1170.1L757.6,1175.3M786.8,1143.9L805.2,1143.9L805.2,1191L786.8,1191M802.4,1145.4L803.7,1145.4L803.7,1185.7M844.7,1143.9L839.5,1143.9M829,1143.9L821.1,1143.9L821.1,1177.9M821.1,1188.4L821.1,1191L844.7,1191M822.5,1180.5L822.5,1189.5L823.9,1189.5M829.1,1189.5L839.5,1189.5M862.2,1143.9L870.1,1143.9L870.1,1191L856.9,1191M856.9,1145.4L868.7,1145.4L868.7,1149.2M904.4,1143.9L899.2,1143.9M886,1151.7L886,1183.2M899.2,1191L904.4,1191M899.2,1145.4L894,1145.4M887.4,1149.2L887.4,1154.4M887.4,1170.1L887.4,1189.5L888.8,1189.5M916.6,1143.9L921.8,1143.9M927.1,1143.9L935,1143.9L935,1188.4M932.3,1191L927.1,1191M933.6,1159.6L933.6,1164.8M974.5,1143.9L950.9,1143.9L950.9,1188.4M958.8,1191L974.5,1191M953.7,1145.4L952.3,1145.4L952.3,1149.2M952.3,1154.4L952.3,1159.6M952.3,1170.1L952.3,1180.5M953.7,1189.5L974.5,1189.5M976.2,1143.9L999.9,1143.9L999.9,1191L992,1191M976.2,1145.4L991.9,1145.4M997.1,1145.4L998.5,1145.4L998.5,1189.5L997.1,1189.5M981.5,1189.5L976.2,1189.5M1039.5,1143.9L1015.8,1143.9L1015.8,1167.4M1015.8,1172.7L1015.8,1177.9M1023.8,1145.4L1018.6,1145.4M1017.2,1154.4L1017.2,1170.1M1041.2,1143.9L1046.4,1143.9M1056.9,1143.9L1064.8,1143.9L1064.8,1157M1064.8,1162.2L1064.8,1188.4M1041.2,1145.4L1046.4,1145.4M1062,1145.4L1063.4,1145.4L1063.4,1170.1M1063.4,1180.5L1063.4,1185.7M1104.4,1143.9L1080.7,1143.9L1080.7,1146.5M1080.7,1151.7L1080.7,1191L1083.4,1191M1082.1,1170.1L1082.1,1189.5L1093.9,1189.5M1099.2,1189.5L1104.4,1189.5M1106.1,1143.9L1129.7,1143.9L1129.7,1188.4M1127,1191L1106.1,1191M1128.3,1159.6L1128.3,1180.5M1126.9,1189.5L1111.3,1189.5M1169.3,1143.9L1164,1143.9M1158.8,1143.9L1145.6,1143.9L1145.6,1162.2M1145.6,1167.4L1145.6,1172.7M1145.6,1177.9L1145.6,1188.4M1164,1191L1169.3,1191M1158.9,1145.4L1148.4,1145.4M1147.1,1164.8L1147.1,1189.5L1148.4,1189.5M1171,1143.9L1181.5,1143.9M1186.7,1143.9L1194.7,1143.9L1194.7,1191L1171,1191M1181.4,1145.4L1186.6,1145.4M1193.2,1149.2L1193.2,1159.6M1193.2,1175.3L1193.2,1180.5M1186.6,1189.5L1176.2,1189.5" stroke="#0000FF" stroke-width="1.60"/>
<path d="M639.5,654.9L629,654.9M629,702L634.3,702M650,656.4L629.2,656.4M627.8,660.2L627.8,670.6M627.8,696.7L627.8,700.5L634.4,700.5M639.6,700.5L644.8,700.5M651.7,654.9L662.2,654.9M656.9,656.4L662.1,656.4M673.9,660.2L673.9,665.4M673.9,691.5L673.9,696.7M672.5,700.5L667.3,700.5M662.1,700.5L656.9,700.5M714.9,656.4L709.7,656.4M694.1,700.5L714.9,700.5M721.9,654.9L732.3,654.9M727,656.4L732.2,656.4M738.8,675.8L738.8,681.1M738.8,691.5L738.8,696.7M737.5,700.5L732.2,700.5M727,700.5L716.6,700.5M764.1,654.9L758.8,654.9M757.6,675.8L757.6,681.1M786.7,656.4L791.9,656.4M797.2,656.4L802.4,656.4M803.7,660.2L803.7,665.4M839.5,702L844.7,702M839.5,656.4L829.1,656.4M822.5,681.1L822.5,686.3M829.1,700.5L839.5,700.5M846.4,654.9L851.7,654.9M862.2,654.9L870.1,654.9L870.1,662.7M846.4,656.4L851.6,656.4M868.7,696.7L868.7,700.5L867.3,700.5M887.4,670.6L887.4,675.8M887.4,686.3L887.4,691.5M899.2,700.5L904.4,700.5M916.6,656.4L921.8,656.4M927,656.4L932.2,656.4M933.6,686.3L933.6,696.7M932.2,700.5L921.8,700.5M916.6,700.5L911.3,700.5M974.5,656.4L969.3,656.4M958.9,656.4L952.3,656.4L952.3,660.2M952.3,691.5L952.3,700.5L953.7,700.5M958.9,700.5L964.1,700.5M981.5,656.4L986.7,656.4M991.9,656.4L997.1,656.4M998.5,670.6L998.5,675.8M998.5,691.5L998.5,696.7M986.7,700.5L981.5,700.5M1034.2,654.9L1029,654.9M1034.2,702L1039.5,702M1017.2,660.2L1017.2,670.6M1029,700.5L1039.5,700.5M1062.1,654.9L1064.8,654.9L1064.8,657.5M1046.4,656.4L1051.6,656.4M1063.4,660.2L1063.4,665.4M1062,700.5L1056.8,700.5M1051.6,700.5L1041.2,700.5M1106.1,656.4L1111.3,656.4M1126.9,700.5L1116.5,700.5M1169.3,656.4L1153.6,656.4M1147.1,681.1L1147.1,686.3M1158.9,700.5L1164.1,700.5M627.8,721.3L627.8,726.5M629.2,761.6L644.8,761.6M672.5,717.5L673.9,717.5L673.9,721.3M673.9,747.4L673.9,761.6L672.5,761.6M667.3,761.6L662.1,761.6M692.7,742.2L692.7,752.6M692.7,757.8L692.7,761.6L694.1,761.6M709.7,761.6L714.9,761.6M738.8,721.3L738.8,726.5M774.6,717.5L764.2,717.5M757.6,721.3L757.6,726.5M757.6,747.4L757.6,752.6M759,761.6L764.2,761.6M769.4,761.6L774.6,761.6M781.5,716L792,716M786.7,717.5L791.9,717.5M802.4,717.5L803.7,717.5L803.7,721.3M797.2,761.6L786.7,761.6M821.1,744.8L821.1,750.1M839.5,717.5L834.3,717.5M822.5,742.2L822.5,752.6M829.1,761.6L834.3,761.6M870.1,750.1L870.1,755.3M851.6,717.5L868.7,717.5L868.7,721.3M868.7,731.8L868.7,742.2M868.7,747.4L868.7,752.6M867.3,761.6L862.1,761.6M856.9,761.6L851.6,761.6M886,755.3L886,760.6M904.4,717.5L899.2,717.5M894,717.5L887.4,717.5L887.4,731.8M887.4,757.8L887.4,761.6L888.8,761.6M899.2,761.6L904.4,761.6M911.3,716L916.6,716M916.6,763.1L911.3,763.1M911.3,717.5L933.6,717.5L933.6,726.5M933.6,731.8L933.6,737M933.6,752.6L933.6,757.8M916.6,761.6L911.3,761.6M950.9,729.1L950.9,734.3M964.1,717.5L958.9,717.5M952.3,752.6L952.3,757.8M953.7,761.6L964.1,761.6M969.3,761.6L974.5,761.6M976.2,716L981.5,716M999.9,729.1L999.9,734.3M992,763.1L981.5,763.1M991.9,717.5L997.1,717.5M998.5,747.4L998.5,752.6M991.9,761.6L986.7,761.6M981.5,761.6L976.2,761.6M1029,763.1L1034.2,763.1M1034.2,717.5L1029,717.5M1023.8,717.5L1018.6,717.5M1029,761.6L1034.2,761.6M1041.2,717.5L1051.6,717.5M1062,717.5L1063.4,717.5L1063.4,726.5M1063.4,752.6L1063.4,761.6L1062,761.6M1051.6,761.6L1041.2,761.6M1104.4,717.5L1099.2,717.5M1128.3,726.5L1128.3,731.8M1128.3,742.2L1128.3,761.6L1126.9,761.6M1111.3,761.6L1106.1,761.6M1164.1,717.5L1148.4,717.5M1153.6,761.6L1164.1,761.6M1176.2,716L1181.5,716M1194.7,729.1L1194.7,734.3M1186.6,717.5L1191.8,717.5M627.8,782.5L627.8,787.7M644.8,822.8L650,822.8M675.4,811.2L675.4,816.4M673.9,818.9L673.9,822.8L656.9,822.8M714.9,777.2L709.7,777.2M704.4,824.2L709.7,824.2M699.3,778.6L694.1,778.6M692.7,818.9L692.7,822.8L699.3,822.8M721.9,777.2L732.3,777.2M727.1,824.2L716.6,824.2M737.5,778.6L738.8,778.6L738.8,782.5M738.8,818.9L738.8,822.8L732.2,822.8M774.6,824.2L779.8,824.2M757.6,808.5L757.6,813.7M781.5,777.2L786.8,777.2M786.7,778.6L791.9,778.6M803.7,787.7L803.7,792.9M803.7,798.1L803.7,808.5M797.2,822.8L786.7,822.8M844.7,777.2L839.5,777.2M821.1,821.7L821.1,824.2L823.8,824.2M839.5,824.2L844.7,824.2M822.5,787.7L822.5,792.9M822.5,808.5L822.5,813.7M834.3,822.8L844.7,822.8M851.7,777.2L867.4,777.2M870.1,779.7L870.1,785M851.7,824.2L846.4,824.2M867.3,778.6L868.7,778.6L868.7,782.5M868.7,808.5L868.7,822.8L867.3,822.8M862.1,822.8L856.9,822.8M904.4,777.2L899.2,777.2M893.9,824.2L899.2,824.2M909.6,778.6L904.4,778.6M887.4,808.5L887.4,822.8L894,822.8M932.3,777.2L935,777.2L935,785M932.3,824.2L921.8,824.2M933.6,782.5L933.6,787.7M933.6,792.9L933.6,798.1M933.6,813.7L933.6,822.8L927,822.8M916.6,822.8L911.3,822.8M964.1,777.2L950.9,777.2L950.9,779.7M969.3,778.6L964.1,778.6M958.9,778.6L953.7,778.6M952.3,782.5L952.3,787.7M952.3,792.9L952.3,822.8L958.9,822.8M986.7,777.2L992,777.2M999.9,805.9L999.9,811.2M986.7,824.2L981.5,824.2M991.9,778.6L998.5,778.6L998.5,782.5M998.5,792.9L998.5,808.5M998.5,813.7L998.5,818.9M1034.2,824.2L1039.5,824.2M1039.5,778.6L1034.2,778.6M1017.2,782.5L1017.2,787.7M1056.9,777.2L1062.1,777.2M1064.8,805.9L1064.8,811.2M1056.9,824.2L1041.2,824.2M1041.2,778.6L1046.4,778.6M1056.8,778.6L1063.4,778.6L1063.4,782.5M1063.4,792.9L1063.4,798.1M1063.4,803.3L1063.4,813.7M1062,822.8L1056.8,822.8M1051.6,822.8L1041.2,822.8M1088.6,777.2L1083.4,777.2M1083.4,824.2L1093.9,824.2M1099.1,824.2L1104.4,824.2M1104.4,778.6L1088.7,778.6M1088.7,822.8L1093.9,822.8M1106.1,777.2L1116.6,777.2M1129.7,800.7L1129.7,805.9M1111.3,778.6L1116.5,778.6M1126.9,778.6L1128.3,778.6L1128.3,782.5M1128.3,808.5L1128.3,818.9M1116.5,822.8L1106.1,822.8M1169.3,778.6L1148.4,778.6M1147.1,782.5L1147.1,792.9M1193.2,818.9L1193.2,822.8L1191.8,822.8M1186.6,822.8L1171,822.8M634.4,839.8L627.8,839.8L627.8,843.6M629.2,883.9L634.4,883.9M656.9,839.8L662.1,839.8M667.3,883.9L662.1,883.9M704.4,838.3L699.2,838.3M709.7,885.3L714.9,885.3M709.7,839.8L699.3,839.8M692.7,869.6L692.7,874.9M699.3,883.9L714.9,883.9M740.3,856.6L740.3,861.8M721.8,839.8L732.2,839.8M737.5,839.8L738.8,839.8L738.8,843.6M738.8,848.8L738.8,859.2M738.8,880.1L738.8,883.9L716.6,883.9M756.1,877.6L756.1,882.8M758.8,885.3L764.1,885.3M774.6,839.8L769.4,839.8M764.2,839.8L757.6,839.8L757.6,859.2M757.6,864.4L757.6,869.6M757.6,874.9L757.6,880.1M764.2,883.9L769.4,883.9M781.5,838.3L792,838.3M797.3,838.3L802.5,838.3M805.2,882.8L805.2,885.3L802.5,885.3M792,885.3L786.8,885.3M791.9,839.8L797.2,839.8M802.4,839.8L803.7,839.8L803.7,843.6M803.7,880.1L803.7,883.9L802.4,883.9M844.7,838.3L839.5,838.3M821.1,840.8L821.1,851.3M834.2,885.3L839.5,885.3M839.5,839.8L829.1,839.8M822.5,880.1L822.5,883.9L829.1,883.9M846.4,838.3L851.7,838.3M867.4,885.3L862.2,885.3M867.3,839.8L868.7,839.8L868.7,848.8M868.7,880.1L868.7,883.9L867.3,883.9M856.9,883.9L851.6,883.9M904.4,838.3L899.2,838.3M893.9,838.3L888.7,838.3M886,867.1L886,877.6M886,882.8L886,885.3L888.7,885.3M899.2,885.3L904.4,885.3M887.4,843.6L887.4,848.8M887.4,864.4L887.4,874.9M887.4,880.1L887.4,883.9L888.8,883.9M916.6,838.3L921.8,838.3M935,867.1L935,872.3M916.6,885.3L911.3,885.3M916.6,839.8L932.2,839.8M933.6,874.9L933.6,880.1M932.2,883.9L927,883.9M969.3,838.3L958.8,838.3M964.1,885.3L974.5,885.3M958.9,839.8L952.3,839.8L952.3,843.6M958.9,883.9L974.5,883.9M997.2,885.3L992,885.3M986.7,885.3L976.2,885.3M997.1,839.8L998.5,839.8L998.5,848.8M991.9,883.9L986.7,883.9M1015.8,840.8L1015.8,846.1M1018.5,885.3L1034.2,885.3M1039.5,839.8L1029,839.8M1023.8,839.8L1017.2,839.8L1017.2,843.6M1017.2,859.2L1017.2,864.4M1017.2,869.6L1017.2,880.1M1018.6,883.9L1023.8,883.9M1041.2,838.3L1046.4,838.3M1051.6,885.3L1041.2,885.3M1062,839.8L1063.4,839.8L1063.4,843.6M1063.4,854L1063.4,859.2M1062,883.9L1051.6,883.9M1046.4,883.9L1041.2,883.9M1104.4,838.3L1099.1,838.3M1099.2,839.8L1093.9,839.8M1082.1,859.2L1082.1,869.6M1082.1,880.1L1082.1,883.9L1088.7,883.9M1093.9,883.9L1099.2,883.9M1111.3,838.3L1116.6,838.3M1106.1,839.8L1128.3,839.8L1128.3,843.6M1128.3,854L1128.3,859.2M1128.3,880.1L1128.3,883.9L1121.7,883.9M1158.8,885.3L1164,885.3M1181.4,883.9L1176.2,883.9M627.8,930.8L627.8,936M627.8,941.2L627.8,945L629.2,945M634.4,945L639.6,945M644.8,945L650,945M667.3,900.9L672.5,900.9M699.2,946.5L714.9,946.5M692.7,930.8L692.7,936M692.7,941.2L692.7,945L694.1,945M699.3,945L714.9,945M716.6,899.4L721.9,899.4M732.3,946.5L716.6,946.5M716.6,900.9L727,900.9M737.5,900.9L738.8,900.9L738.8,915.1M738.8,941.2L738.8,945L737.5,945M779.8,899.4L769.3,899.4M758.8,946.5L764.1,946.5M769.3,946.5L779.8,946.5M769.4,900.9L757.6,900.9L757.6,904.7M757.6,909.9L757.6,925.6M757.6,936L757.6,941.2M759,945L779.8,945M781.5,899.4L786.8,899.4M797.3,899.4L802.5,899.4M805.2,902L805.2,907.2M805.2,938.7L805.2,946.5L802.5,946.5M792,946.5L786.8,946.5M803.7,915.1L803.7,925.6M803.7,941.2L803.7,945L802.4,945M786.7,945L781.5,945M834.2,899.4L821.1,899.4L821.1,902M829,946.5L834.2,946.5M823.9,900.9L822.5,900.9L822.5,915.1M822.5,925.6L822.5,936M822.5,941.2L822.5,945L829.1,945M851.7,899.4L856.9,899.4M856.9,946.5L851.7,946.5M862.1,900.9L868.7,900.9L868.7,904.7M868.7,936L868.7,941.2M904.4,899.4L899.2,899.4M893.9,899.4L888.7,899.4M888.7,946.5L893.9,946.5M887.4,925.6L887.4,945L904.4,945M916.6,899.4L932.3,899.4M935,938.7L935,946.5L927.1,946.5M911.3,900.9L933.6,900.9L933.6,909.9M933.6,930.8L933.6,941.2M927,945L916.6,945M974.5,899.4L969.3,899.4M964.1,899.4L953.6,899.4M964.1,946.5L969.3,946.5M969.3,900.9L958.9,900.9M953.7,900.9L952.3,900.9L952.3,904.7M952.3,915.1L952.3,920.3M952.3,936L952.3,945L953.7,945M958.9,945L969.3,945M986.7,899.4L992,899.4M992,946.5L981.5,946.5M986.7,900.9L991.9,900.9M997.1,900.9L998.5,900.9L998.5,904.7M998.5,936L998.5,945L997.1,945M1039.5,899.4L1023.7,899.4M1015.8,902L1015.8,907.2M1018.5,946.5L1029,946.5M1034.2,946.5L1039.5,946.5M1023.8,900.9L1018.6,900.9M1017.2,930.8L1017.2,945L1018.6,945M1023.8,945L1029,945M1041.2,899.4L1046.4,899.4M1051.6,899.4L1056.9,899.4M1056.8,900.9L1063.4,900.9L1063.4,904.7M1063.4,915.1L1063.4,920.3M1063.4,930.8L1063.4,936M1063.4,941.2L1063.4,945L1062,945M1104.4,900.9L1099.2,900.9M1082.1,920.3L1082.1,930.8M1088.7,945L1099.2,945M1106.1,899.4L1129.7,899.4L1129.7,902M1111.3,900.9L1116.5,900.9M1128.3,936L1128.3,941.2M1126.9,945L1111.3,945M1164,899.4L1153.5,899.4M1145.6,933.4L1145.6,938.7M1147.1,936L1147.1,945L1148.4,945M1164.1,945L1169.3,945M1194.7,933.4L1194.7,938.7M1176.2,900.9L1193.2,900.9L1193.2,904.7M1193.2,915.1L1193.2,925.6M1193.2,930.8L1193.2,941.2M1186.6,945L1181.4,945M650,962L644.8,962M634.4,962L629.2,962M627.8,986.7L627.8,997.1M673.9,981.5L673.9,991.9M667.3,1006.1L656.9,1006.1M709.7,960.5L704.4,960.5M691.2,1005.1L691.2,1007.6L699.2,1007.6M694.1,962L692.7,962L692.7,965.8M694.1,1006.1L714.9,1006.1M721.9,1007.6L716.6,1007.6M716.6,962L721.8,962M727,962L732.2,962M737.5,962L738.8,962L738.8,965.8M738.8,997.1L738.8,1006.1L737.5,1006.1M769.3,960.5L764.1,960.5M774.6,1007.6L779.8,1007.6M759,962L757.6,962L757.6,965.8M757.6,997.1L757.6,1002.3M764.2,1006.1L774.6,1006.1M786.8,1007.6L781.5,1007.6M802.4,962L803.7,962L803.7,971M803.7,1002.3L803.7,1006.1L802.4,1006.1M797.2,1006.1L791.9,1006.1M839.5,960.5L834.2,960.5M829,960.5L823.8,960.5M823.8,1007.6L829,1007.6M834.2,1007.6L844.7,1007.6M844.7,962L839.5,962M829.1,962L822.5,962L822.5,965.8M822.5,976.3L822.5,986.7M822.5,1002.3L822.5,1006.1L829.1,1006.1M834.3,1006.1L839.5,1006.1M846.4,960.5L851.7,960.5M856.9,960.5L862.2,960.5M851.7,1007.6L846.4,1007.6M851.6,962L862.1,962M868.7,971L868.7,976.3M868.7,991.9L868.7,997.1M868.7,1002.3L868.7,1006.1L862.1,1006.1M856.9,1006.1L846.4,1006.1M909.6,960.5L904.4,960.5M893.9,1007.6L904.4,1007.6M888.8,962L887.4,962L887.4,965.8M887.4,971L887.4,976.3M887.4,981.5L887.4,991.9M887.4,997.1L887.4,1006.1L899.2,1006.1M916.6,960.5L927.1,960.5M927.1,1007.6L921.8,1007.6M916.6,1007.6L911.3,1007.6M911.3,962L916.6,962M932.2,962L933.6,962L933.6,965.8M933.6,991.9L933.6,1002.3M969.3,960.5L964.1,960.5M964.1,1007.6L974.5,1007.6M958.9,962L953.7,962M952.3,997.1L952.3,1006.1L958.9,1006.1M981.5,960.5L992,960.5M997.2,960.5L999.9,960.5L999.9,963.1M997.2,1007.6L992,1007.6M986.7,1007.6L981.5,1007.6M998.5,965.8L998.5,971M998.5,1002.3L998.5,1006.1L997.1,1006.1M1034.2,960.5L1023.7,960.5M1029,1007.6L1034.2,1007.6M1017.2,971L1017.2,976.3M1017.2,981.5L1017.2,1002.3M1018.6,1006.1L1023.8,1006.1M1041.2,960.5L1064.8,960.5L1064.8,963.1M1062.1,1007.6L1056.9,1007.6M1063.4,965.8L1063.4,971M1063.4,1002.3L1063.4,1006.1L1051.6,1006.1M1093.9,960.5L1088.6,960.5M1083.4,1007.6L1093.9,1007.6M1099.1,1007.6L1104.4,1007.6M1093.9,962L1083.5,962M1082.1,997.1L1082.1,1002.3M1088.7,1006.1L1099.2,1006.1M1111.3,960.5L1116.6,960.5M1106.1,962L1111.3,962M1128.3,971L1128.3,976.3M1169.3,960.5L1164,960.5M1169.3,962L1158.9,962M1148.4,962L1147.1,962L1147.1,965.8M1147.1,976.3L1147.1,981.5M1148.4,1006.1L1158.9,1006.1M627.8,1037.4L627.8,1042.6M672.7,1068.7L667.4,1068.7M662.2,1068.7L656.9,1068.7M651.7,1023.1L656.9,1023.1M672.5,1023.1L673.9,1023.1L673.9,1032.2M662.1,1067.3L656.9,1067.3M709.7,1021.7L699.2,1021.7M714.9,1023.1L694.1,1023.1M692.7,1037.4L692.7,1042.6M704.5,1067.3L709.7,1067.3M732.2,1023.1L737.5,1023.1M738.8,1027L738.8,1042.6M738.8,1058.2L738.8,1063.4M779.8,1021.7L774.6,1021.7M758.8,1068.7L769.3,1068.7M774.6,1068.7L779.8,1068.7M757.6,1058.2L757.6,1063.4M769.4,1067.3L779.8,1067.3M797.3,1021.7L805.2,1021.7L805.2,1024.2M786.8,1068.7L781.5,1068.7M781.5,1023.1L786.7,1023.1M803.7,1027L803.7,1032.2M803.7,1037.4L803.7,1047.8M802.4,1067.3L797.2,1067.3M844.7,1021.7L823.8,1021.7M821.1,1034.7L821.1,1040M821.1,1066.2L821.1,1068.7L823.8,1068.7M839.5,1068.7L844.7,1068.7M839.5,1023.1L834.3,1023.1M829.1,1023.1L823.9,1023.1M822.5,1027L822.5,1037.4M822.5,1042.6L822.5,1047.8M870.1,1024.2L870.1,1034.7M870.1,1045.2L870.1,1050.4M870.1,1060.9L870.1,1068.7L856.9,1068.7M851.7,1068.7L846.4,1068.7M856.9,1023.1L867.3,1023.1M868.7,1047.8L868.7,1067.3L862.1,1067.3M856.9,1067.3L851.6,1067.3M893.9,1021.7L886,1021.7L886,1024.2M904.4,1023.1L888.8,1023.1M888.8,1067.3L894,1067.3M916.6,1021.7L921.8,1021.7M935,1029.5L935,1034.7M935,1040L935,1045.2M927.1,1068.7L921.8,1068.7M933.6,1027L933.6,1032.2M933.6,1042.6L933.6,1053M933.6,1063.4L933.6,1067.3L927,1067.3M974.5,1021.7L969.3,1021.7M950.9,1024.2L950.9,1029.5M958.9,1023.1L953.7,1023.1M952.3,1032.2L952.3,1053M952.3,1058.2L952.3,1063.4M976.2,1021.7L981.5,1021.7M992,1068.7L986.7,1068.7M986.7,1023.1L998.5,1023.1L998.5,1067.3L986.7,1067.3M1034.2,1021.7L1029,1021.7M1023.7,1021.7L1018.5,1021.7M1023.7,1068.7L1029,1068.7M1034.2,1068.7L1039.5,1068.7M1029,1023.1L1018.6,1023.1M1041.2,1021.7L1056.9,1021.7M1064.8,1060.9L1064.8,1066.2M1051.6,1068.7L1046.4,1068.7M1041.2,1023.1L1051.6,1023.1M1063.4,1027L1063.4,1032.2M1063.4,1037.4L1063.4,1042.6M1063.4,1053L1063.4,1067.3L1046.4,1067.3M1104.4,1021.7L1080.7,1021.7L1080.7,1024.2M1099.2,1023.1L1093.9,1023.1M1088.7,1023.1L1083.5,1023.1M1088.7,1067.3L1104.4,1067.3M1116.6,1068.7L1111.3,1068.7M1106.1,1023.1L1116.5,1023.1M1121.7,1023.1L1126.9,1023.1M1128.3,1042.6L1128.3,1047.8M1126.9,1067.3L1121.7,1067.3M1111.3,1067.3L1106.1,1067.3M1164.1,1023.1L1158.9,1023.1M1153.6,1023.1L1148.4,1023.1M1148.4,1067.3L1153.6,1067.3M1194.7,1060.9L1194.7,1068.7L1192,1068.7M1171,1023.1L1181.4,1023.1M1193.2,1042.6L1193.2,1047.8M629.2,1084.2L627.8,1084.2L627.8,1088.1M629.2,1128.4L634.4,1128.4M644.8,1128.4L650,1128.4M662.1,1084.2L673.9,1084.2L673.9,1088.1M662.1,1128.4L651.7,1128.4M699.3,1084.2L694.1,1084.2M737.6,1082.8L740.3,1082.8L740.3,1085.3M716.6,1084.2L721.8,1084.2M732.2,1084.2L737.5,1084.2M738.8,1093.3L738.8,1098.5M738.8,1119.4L738.8,1124.6M757.6,1124.6L757.6,1128.4L759,1128.4M764.2,1128.4L769.4,1128.4M803.7,1103.7L803.7,1108.9M803.7,1114.1L803.7,1119.4M797.2,1128.4L786.7,1128.4M844.7,1082.8L839.5,1082.8M839.5,1129.8L844.7,1129.8M834.3,1084.2L829.1,1084.2M823.9,1084.2L822.5,1084.2L822.5,1088.1M822.5,1093.3L822.5,1098.5M822.5,1114.1L822.5,1119.4M823.9,1128.4L829.1,1128.4M846.4,1082.8L851.7,1082.8M870.1,1095.8L870.1,1106.3M846.4,1084.2L851.6,1084.2M856.9,1084.2L867.3,1084.2M868.7,1088.1L868.7,1114.1M868.7,1119.4L868.7,1124.6M862.1,1128.4L846.4,1128.4M904.4,1129.8L909.6,1129.8M909.6,1084.2L904.4,1084.2M894,1084.2L888.8,1084.2M887.4,1119.4L887.4,1128.4L894,1128.4M932.2,1084.2L933.6,1084.2L933.6,1088.1M933.6,1103.7L933.6,1108.9M933.6,1124.6L933.6,1128.4L932.2,1128.4M927,1128.4L916.6,1128.4M953.6,1082.8L950.9,1082.8L950.9,1085.3M969.3,1129.8L974.5,1129.8M974.5,1084.2L969.3,1084.2M964.1,1084.2L958.9,1084.2M952.3,1098.5L952.3,1103.7M952.3,1108.9L952.3,1114.1M952.3,1124.6L952.3,1128.4L964.1,1128.4M976.2,1082.8L992,1082.8M999.9,1085.3L999.9,1090.6M986.7,1129.8L981.5,1129.8M981.5,1084.2L998.5,1084.2L998.5,1093.3M998.5,1108.9L998.5,1114.1M998.5,1119.4L998.5,1124.6M997.1,1128.4L991.9,1128.4M986.7,1128.4L981.5,1128.4M1039.5,1082.8L1034.2,1082.8M1029,1082.8L1018.5,1082.8M1015.8,1127.3L1015.8,1129.8L1018.5,1129.8M1034.2,1084.2L1029,1084.2M1023.8,1084.2L1017.2,1084.2L1017.2,1088.1M1017.2,1124.6L1017.2,1128.4L1023.8,1128.4M1029,1128.4L1039.5,1128.4M1051.6,1082.8L1062.1,1082.8M1064.8,1095.8L1064.8,1106.3M1041.2,1084.2L1063.4,1084.2L1063.4,1088.1M1051.6,1128.4L1041.2,1128.4M1080.7,1085.3L1080.7,1090.6M1093.9,1129.8L1104.4,1129.8M1104.4,1084.2L1093.9,1084.2M1083.5,1084.2L1082.1,1084.2L1082.1,1093.3M1106.1,1084.2L1111.3,1084.2M1116.5,1084.2L1121.7,1084.2M1128.3,1124.6L1128.3,1128.4L1126.9,1128.4M1164,1082.8L1153.5,1082.8M1169.3,1084.2L1164.1,1084.2M1147.1,1114.1L1147.1,1119.4M1147.1,1124.6L1147.1,1128.4L1153.6,1128.4M1171,1082.8L1176.2,1082.8M1194.7,1085.3L1194.7,1095.8M1186.6,1084.2L1193.2,1084.2L1193.2,1088.1M1191.8,1128.4L1186.6,1128.4M626.3,1188.4L626.3,1191L639.5,1191M629.2,1189.5L634.4,1189.5M639.6,1189.5L644.8,1189.5M651.7,1145.4L662.1,1145.4M673.9,1170.1L673.9,1175.3M667.3,1189.5L651.7,1189.5M714.9,1145.4L709.7,1145.4M704.5,1145.4L699.3,1145.4M692.7,1170.1L692.7,1175.3M692.7,1180.5L692.7,1189.5L709.7,1189.5M740.3,1183.2L740.3,1188.4M716.6,1145.4L721.8,1145.4M727,1145.4L732.2,1145.4M738.8,1149.2L738.8,1154.4M737.5,1189.5L732.2,1189.5M759,1145.4L757.6,1145.4L757.6,1154.4M757.6,1159.6L757.6,1170.1M759,1189.5L769.4,1189.5M803.7,1185.7L803.7,1189.5L791.9,1189.5M786.7,1189.5L781.5,1189.5M834.3,1145.4L822.5,1145.4L822.5,1164.8M822.5,1170.1L822.5,1175.3M823.9,1189.5L829.1,1189.5M851.7,1191L846.4,1191M868.7,1154.4L868.7,1159.6M868.7,1164.8L868.7,1175.3M893.9,1143.9L888.7,1143.9M886,1188.4L886,1191L893.9,1191M899.2,1189.5L904.4,1189.5M911.3,1143.9L916.6,1143.9M927.1,1191L921.8,1191M916.6,1191L911.3,1191M921.8,1145.4L932.2,1145.4M933.6,1180.5L933.6,1189.5L921.8,1189.5M981.5,1191L976.2,1191M991.9,1145.4L997.1,1145.4M986.7,1189.5L981.5,1189.5M1015.8,1183.2L1015.8,1188.4M1023.7,1191L1029,1191M1034.2,1191L1039.5,1191M1029,1145.4L1023.8,1145.4M1018.6,1145.4L1017.2,1145.4L1017.2,1149.2M1017.2,1175.3L1017.2,1180.5M1017.2,1185.7L1017.2,1189.5L1018.6,1189.5M1034.2,1189.5L1039.5,1189.5M1051.6,1143.9L1056.9,1143.9M1062.1,1191L1051.6,1191M1051.6,1145.4L1056.8,1145.4M1062,1189.5L1041.2,1189.5M1104.4,1145.4L1099.2,1145.4M1093.9,1145.4L1088.7,1145.4M1082.1,1154.4L1082.1,1164.8M1116.5,1145.4L1121.7,1145.4M1126.9,1145.4L1128.3,1145.4L1128.3,1149.2M1128.3,1180.5L1128.3,1185.7M1164,1143.9L1158.8,1143.9M1145.6,1172.7L1145.6,1177.9M1153.5,1191L1158.8,1191M1171,1145.4L1176.2,1145.4" stroke="#008CFF" stroke-width="1.60"/>
<path d="M634.4,700.5L639.6,700.5M644.8,700.5L650,700.5M673.9,696.7L673.9,700.5L672.5,700.5M667.3,700.5L662.1,700.5M738.8,696.7L738.8,700.5L737.5,700.5M732.2,700.5L727,700.5M791.9,656.4L797.2,656.4M839.5,700.5L844.7,700.5M867.3,656.4L868.7,656.4L868.7,660.2M867.3,700.5L846.4,700.5M933.6,670.6L933.6,675.8M921.8,700.5L916.6,700.5M969.3,656.4L964.1,656.4M976.2,656.4L981.5,656.4M986.7,656.4L991.9,656.4M1164.1,700.5L1169.3,700.5M1171,656.4L1181.4,656.4M644.8,761.6L650,761.6M716.6,717.5L721.8,717.5M779.8,717.5L774.6,717.5M774.6,761.6L779.8,761.6M791.9,717.5L802.4,717.5M823.9,761.6L829.1,761.6M899.2,763.1L909.6,763.1M909.6,717.5L904.4,717.5M894,761.6L899.2,761.6M904.4,761.6L909.6,761.6M933.6,757.8L933.6,761.6L927,761.6M921.8,761.6L916.6,761.6M969.3,717.5L964.1,717.5M964.1,761.6L969.3,761.6M1039.5,717.5L1034.2,717.5M1029,717.5L1023.8,717.5M1106.1,717.5L1111.3,717.5M1116.5,717.5L1121.7,717.5M714.9,778.6L704.5,778.6M709.7,822.8L714.9,822.8M716.6,777.2L721.9,777.2M732.3,824.2L727.1,824.2M716.6,778.6L721.8,778.6M727,778.6L737.5,778.6M732.2,822.8L716.6,822.8M779.8,778.6L759,778.6M764.2,822.8L769.4,822.8M781.5,778.6L786.7,778.6M802.4,778.6L803.7,778.6L803.7,787.7M786.7,822.8L781.5,822.8M821.1,816.4L821.1,821.7M844.7,778.6L834.3,778.6M823.9,822.8L829.1,822.8M846.4,777.2L851.7,777.2M867.4,777.2L870.1,777.2L870.1,779.7M867.4,824.2L851.7,824.2M846.4,778.6L856.9,778.6M856.9,822.8L851.6,822.8M909.6,777.2L904.4,777.2M899.2,824.2L904.4,824.2M894,822.8L899.2,822.8M911.3,777.2L916.6,777.2M921.8,824.2L916.6,824.2M927,778.6L933.6,778.6L933.6,782.5M933.6,787.7L933.6,792.9M927,822.8L921.8,822.8M974.5,777.2L964.1,777.2M969.3,824.2L974.5,824.2M974.5,778.6L969.3,778.6M958.9,822.8L964.1,822.8M969.3,822.8L974.5,822.8M981.5,777.2L986.7,777.2M981.5,824.2L976.2,824.2M981.5,778.6L991.9,778.6M998.5,818.9L998.5,822.8L991.9,822.8M981.5,822.8L976.2,822.8M1023.8,778.6L1017.2,778.6L1017.2,782.5M1034.2,822.8L1039.5,822.8M1083.4,777.2L1080.7,777.2L1080.7,779.7M1093.9,824.2L1099.1,824.2M1083.5,822.8L1088.7,822.8M1093.9,822.8L1104.4,822.8M1106.1,778.6L1111.3,778.6M1148.4,778.6L1147.1,778.6L1147.1,782.5M650,839.8L644.8,839.8M627.8,843.6L627.8,854M651.7,839.8L656.9,839.8M714.9,839.8L709.7,839.8M716.6,838.3L727.1,838.3M738.8,843.6L738.8,848.8M779.8,838.3L774.6,838.3M756.1,882.8L756.1,885.3L758.8,885.3M764.1,885.3L769.3,885.3M779.8,839.8L774.6,839.8M757.6,880.1L757.6,883.9L759,883.9M774.6,883.9L779.8,883.9M805.2,877.6L805.2,882.8M797.3,885.3L792,885.3M786.8,885.3L781.5,885.3M797.2,839.8L802.4,839.8M797.2,883.9L786.7,883.9M839.5,838.3L823.8,838.3M839.5,885.3L844.7,885.3M829.1,883.9L839.5,883.9M851.7,838.3L862.2,838.3M862.2,885.3L846.4,885.3M846.4,839.8L867.3,839.8M867.3,883.9L856.9,883.9M909.6,838.3L904.4,838.3M899.2,838.3L893.9,838.3M888.7,885.3L899.2,885.3M904.4,839.8L887.4,839.8L887.4,843.6M888.8,883.9L894,883.9M911.3,838.3L916.6,838.3M935,877.6L935,885.3L932.3,885.3M921.8,885.3L916.6,885.3M911.3,839.8L916.6,839.8M927,883.9L921.8,883.9M964.1,839.8L958.9,839.8M976.2,838.3L986.7,838.3M992,885.3L986.7,885.3M986.7,839.8L997.1,839.8M1039.5,838.3L1034.2,838.3M1029,838.3L1015.8,838.3L1015.8,840.8M1023.8,883.9L1029,883.9M1064.8,882.8L1064.8,885.3L1062.1,885.3M1046.4,839.8L1062,839.8M1082.1,854L1082.1,859.2M1082.1,869.6L1082.1,880.1M1088.7,883.9L1093.9,883.9M1099.2,883.9L1104.4,883.9M1106.1,838.3L1111.3,838.3M629.2,945L634.4,945M714.9,900.9L699.3,900.9M692.7,936L692.7,941.2M694.1,945L699.3,945M721.8,945L716.6,945M779.8,900.9L774.6,900.9M757.6,941.2L757.6,945L759,945M786.8,899.4L792,899.4M786.8,946.5L781.5,946.5M786.7,900.9L791.9,900.9M802.4,900.9L803.7,900.9L803.7,915.1M803.7,936L803.7,941.2M802.4,945L786.7,945M844.7,899.4L834.2,899.4M829.1,900.9L823.9,900.9M829.1,945L834.3,945M846.4,899.4L851.7,899.4M893.9,946.5L899.2,946.5M909.6,900.9L904.4,900.9M904.4,945L909.6,945M911.3,899.4L916.6,899.4M927.1,946.5L921.8,946.5M933.6,941.2L933.6,945L932.2,945M916.6,945L911.3,945M969.3,946.5L974.5,946.5M958.9,900.9L953.7,900.9M981.5,946.5L976.2,946.5M998.5,930.8L998.5,936M997.1,945L991.9,945M986.7,945L981.5,945M1015.8,943.9L1015.8,946.5L1018.5,946.5M1034.2,900.9L1023.8,900.9M1018.6,945L1023.8,945M1029,945L1034.2,945M1046.4,946.5L1041.2,946.5M1046.4,900.9L1056.8,900.9M1063.4,904.7L1063.4,909.9M1063.4,920.3L1063.4,930.8M1099.2,900.9L1082.1,900.9L1082.1,904.7M1106.1,900.9L1111.3,900.9M629.2,962L627.8,962L627.8,965.8M672.5,1006.1L667.3,1006.1M699.3,962L694.1,962M721.8,962L727,962M732.2,962L737.5,962M721.8,1006.1L716.6,1006.1M779.8,962L764.2,962M781.5,960.5L797.3,960.5M805.2,963.1L805.2,968.3M797.3,1007.6L792,1007.6M786.7,962L802.4,962M803.7,971L803.7,976.3M803.7,991.9L803.7,997.1M802.4,1006.1L797.2,1006.1M791.9,1006.1L786.7,1006.1M844.7,960.5L839.5,960.5M829,1007.6L834.2,1007.6M834.3,962L829.1,962M822.5,986.7L822.5,1002.3M829.1,1006.1L834.3,1006.1M839.5,1006.1L844.7,1006.1M846.4,962L851.6,962M868.7,965.8L868.7,971M862.1,1006.1L856.9,1006.1M894,962L888.8,962M887.4,965.8L887.4,971M899.2,1006.1L904.4,1006.1M911.3,960.5L916.6,960.5M916.6,962L921.8,962M933.6,1002.3L933.6,1006.1L916.6,1006.1M974.5,962L964.1,962M976.2,960.5L981.5,960.5M981.5,1007.6L976.2,1007.6M981.5,962L986.7,962M997.1,962L998.5,962L998.5,965.8M981.5,1006.1L976.2,1006.1M1039.5,960.5L1034.2,960.5M1034.2,962L1018.6,962M1017.2,965.8L1017.2,971M1023.8,1006.1L1029,1006.1M1041.2,962L1056.8,962M1062,962L1063.4,962L1063.4,965.8M1051.6,1006.1L1041.2,1006.1M1104.4,960.5L1093.9,960.5M1093.9,1007.6L1099.1,1007.6M1104.4,962L1093.9,962M1099.2,1006.1L1104.4,1006.1M1106.1,960.5L1111.3,960.5M1126.9,962L1128.3,962L1128.3,965.8M1116.5,1006.1L1106.1,1006.1M667.4,1068.7L662.2,1068.7M656.9,1068.7L651.7,1068.7M699.3,1067.3L704.5,1067.3M709.7,1067.3L714.9,1067.3M716.6,1023.1L727,1023.1M727,1067.3L716.6,1067.3M774.6,1021.7L769.3,1021.7M797.3,1068.7L786.8,1068.7M797.2,1023.1L803.7,1023.1L803.7,1027M803.7,1032.2L803.7,1037.4M797.2,1067.3L791.9,1067.3M834.3,1023.1L829.1,1023.1M822.5,1037.4L822.5,1042.6M822.5,1063.4L822.5,1067.3L834.3,1067.3M851.7,1021.7L856.9,1021.7M856.9,1068.7L851.7,1068.7M846.4,1023.1L856.9,1023.1M862.1,1067.3L856.9,1067.3M904.4,1021.7L893.9,1021.7M888.8,1023.1L887.4,1023.1L887.4,1042.6M887.4,1053L887.4,1058.2M887.4,1063.4L887.4,1067.3L888.8,1067.3M911.3,1021.7L916.6,1021.7M916.6,1023.1L927,1023.1M932.2,1023.1L933.6,1023.1L933.6,1027M933.6,1032.2L933.6,1042.6M927,1067.3L916.6,1067.3M969.3,1068.7L974.5,1068.7M974.5,1023.1L969.3,1023.1M964.1,1023.1L958.9,1023.1M953.7,1023.1L952.3,1023.1L952.3,1032.2M952.3,1063.4L952.3,1067.3L958.9,1067.3M981.5,1021.7L992,1021.7M981.5,1068.7L976.2,1068.7M986.7,1067.3L981.5,1067.3M1039.5,1021.7L1034.2,1021.7M1029,1021.7L1023.7,1021.7M1029,1068.7L1034.2,1068.7M1034.2,1023.1L1029,1023.1M1018.6,1067.3L1034.2,1067.3M1051.6,1023.1L1056.8,1023.1M1062,1023.1L1063.4,1023.1L1063.4,1027M1063.4,1032.2L1063.4,1037.4M1046.4,1067.3L1041.2,1067.3M1104.4,1023.1L1099.2,1023.1M1093.9,1023.1L1088.7,1023.1M1111.3,1068.7L1106.1,1068.7M1116.5,1023.1L1121.7,1023.1M1169.3,1023.1L1164.1,1023.1M1158.9,1023.1L1153.6,1023.1M1181.4,1067.3L1176.2,1067.3M634.4,1128.4L639.6,1128.4M673.9,1088.1L673.9,1093.3M673.9,1103.7L673.9,1108.9M803.7,1108.9L803.7,1114.1M786.7,1128.4L781.5,1128.4M844.7,1084.2L839.5,1084.2M829.1,1128.4L844.7,1128.4M851.6,1084.2L856.9,1084.2M867.3,1084.2L868.7,1084.2L868.7,1088.1M868.7,1114.1L868.7,1119.4M868.7,1124.6L868.7,1128.4L862.1,1128.4M974.5,1082.8L969.3,1082.8M969.3,1084.2L964.1,1084.2M958.9,1084.2L952.3,1084.2L952.3,1098.5M976.2,1084.2L981.5,1084.2M981.5,1128.4L976.2,1128.4M1034.2,1082.8L1029,1082.8M1039.5,1084.2L1034.2,1084.2M1029,1084.2L1023.8,1084.2M1017.2,1088.1L1017.2,1093.3M1111.3,1084.2L1116.5,1084.2M1121.7,1084.2L1126.9,1084.2M1147.1,1119.4L1147.1,1124.6M634.4,1189.5L639.6,1189.5M662.1,1145.4L667.3,1145.4M709.7,1145.4L704.5,1145.4M692.7,1175.3L692.7,1180.5M727,1189.5L721.8,1189.5M781.5,1145.4L786.7,1145.4M791.9,1189.5L786.7,1189.5M868.7,1159.6L868.7,1164.8M851.6,1189.5L846.4,1189.5M904.4,1189.5L909.6,1189.5M916.6,1145.4L921.8,1145.4M1015.8,1188.4L1015.8,1191L1023.7,1191" stroke="#00DCFF" stroke-width="1.60"/>
<path d="M656.9,700.5L651.7,700.5M781.5,717.5L786.7,717.5M927,761.6L921.8,761.6M974.5,717.5L969.3,717.5M1111.3,717.5L1116.5,717.5M699.3,822.8L709.7,822.8M721.8,778.6L727,778.6M769.4,822.8L779.8,822.8M829.1,822.8L834.3,822.8M904.4,824.2L909.6,824.2M899.2,822.8L909.6,822.8M916.6,777.2L932.3,777.2M911.3,778.6L916.6,778.6M921.8,778.6L927,778.6M921.8,822.8L916.6,822.8M964.1,824.2L969.3,824.2M953.7,778.6L952.3,778.6L952.3,782.5M952.3,787.7L952.3,792.9M964.1,822.8L969.3,822.8M976.2,777.2L981.5,777.2M976.2,778.6L981.5,778.6M991.9,822.8L981.5,822.8M769.3,885.3L779.8,885.3M769.4,839.8L764.2,839.8M781.5,839.8L791.9,839.8M786.7,883.9L781.5,883.9M844.7,839.8L839.5,839.8M839.5,883.9L844.7,883.9M851.6,883.9L846.4,883.9M904.4,885.3L909.6,885.3M909.6,839.8L904.4,839.8M904.4,883.9L909.6,883.9M932.3,885.3L921.8,885.3M921.8,883.9L911.3,883.9M974.5,838.3L969.3,838.3M969.3,839.8L964.1,839.8M976.2,839.8L986.7,839.8M986.7,883.9L976.2,883.9M1034.2,838.3L1029,838.3M1029,883.9L1039.5,883.9M1041.2,839.8L1046.4,839.8M1104.4,839.8L1099.2,839.8M639.6,945L644.8,945M732.2,945L721.8,945M774.6,900.9L769.4,900.9M781.5,900.9L786.7,900.9M791.9,900.9L802.4,900.9M834.2,946.5L844.7,946.5M839.5,900.9L829.1,900.9M834.3,945L844.7,945M846.4,900.9L862.1,900.9M862.1,945L851.6,945M899.2,946.5L904.4,946.5M921.8,946.5L911.3,946.5M974.5,900.9L969.3,900.9M969.3,945L974.5,945M976.2,899.4L986.7,899.4M976.2,900.9L986.7,900.9M991.9,945L986.7,945M981.5,945L976.2,945M1023.7,899.4L1015.8,899.4L1015.8,902M1039.5,900.9L1034.2,900.9M1041.2,900.9L1046.4,900.9M1062,945L1051.6,945M1099.2,945L1104.4,945M1111.3,945L1106.1,945M709.7,962L699.3,962M779.8,960.5L769.3,960.5M764.2,962L759,962M774.6,1006.1L779.8,1006.1M781.5,962L786.7,962M803.7,997.1L803.7,1002.3M839.5,962L834.3,962M862.1,962L868.7,962L868.7,965.8M904.4,1007.6L909.6,1007.6M899.2,962L894,962M904.4,1006.1L909.6,1006.1M921.8,962L932.2,962M916.6,1006.1L911.3,1006.1M974.5,960.5L969.3,960.5M964.1,962L958.9,962M958.9,1006.1L964.1,1006.1M969.3,1006.1L974.5,1006.1M976.2,962L981.5,962M986.7,1006.1L981.5,1006.1M1039.5,962L1034.2,962M1029,1006.1L1039.5,1006.1M1056.8,962L1062,962M786.7,1067.3L781.5,1067.3M844.7,1023.1L839.5,1023.1M834.3,1067.3L839.5,1067.3M846.4,1021.7L851.7,1021.7M851.6,1067.3L846.4,1067.3M909.6,1021.7L904.4,1021.7M904.4,1068.7L909.6,1068.7M909.6,1023.1L904.4,1023.1M887.4,1042.6L887.4,1053M887.4,1058.2L887.4,1063.4M894,1067.3L909.6,1067.3M921.8,1021.7L927.1,1021.7M921.8,1068.7L911.3,1068.7M911.3,1023.1L916.6,1023.1M927,1023.1L932.2,1023.1M916.6,1067.3L911.3,1067.3M969.3,1023.1L964.1,1023.1M958.9,1067.3L964.1,1067.3M976.2,1023.1L986.7,1023.1M1039.5,1023.1L1034.2,1023.1M1034.2,1067.3L1039.5,1067.3M1056.8,1023.1L1062,1023.1M639.6,1128.4L644.8,1128.4M721.8,1189.5L716.6,1189.5M774.6,1189.5L779.8,1189.5" stroke="#00FFD2" stroke-width="1.60"/>
<path d="M851.6,822.8L846.4,822.8M916.6,778.6L921.8,778.6M894,883.9L904.4,883.9M974.5,839.8L969.3,839.8M844.7,900.9L839.5,900.9M851.6,945L846.4,945M904.4,946.5L909.6,946.5M1034.2,945L1039.5,945M1051.6,945L1041.2,945M714.9,962L709.7,962M786.7,1006.1L781.5,1006.1M909.6,962L899.2,962M964.1,1006.1L969.3,1006.1M997.1,1006.1L986.7,1006.1M791.9,1067.3L786.7,1067.3M839.5,1067.3L844.7,1067.3M964.1,1067.3L969.3,1067.3M981.5,1067.3L976.2,1067.3" stroke="#00FF8C" stroke-width="1.60"/>
<path d="M969.3,1067.3L974.5,1067.3" stroke="#00FF46" stroke-width="1.60"/>
<path d="M648.9,658V676.3H630.8M648.9,698.9V680.6H630.8M652.9,658V676.3H670.3M652.9,698.9V680.6H670.3M713.8,658V676.3H695.7M713.8,698.9V680.6H695.7M717.8,658V676.3H735.2M717.8,698.9V680.6H735.2M778.7,658V676.3H760.6M778.7,698.9V680.6H760.6M782.7,658V676.3H800.1M782.7,698.9V680.6H800.1M843.6,658V676.3H825.5M843.6,698.9V680.6H825.5M847.6,658V676.3H865M847.6,698.9V680.6H865M908.5,658V676.3H890.4M908.5,698.9V680.6H890.4M912.5,658V676.3H929.9M912.5,698.9V680.6H929.9M973.4,658V676.3H955.4M973.4,698.9V680.6H955.4M977.4,658V676.3H994.8M977.4,698.9V680.6H994.8M1038.3,658V676.3H1020.3M1038.3,698.9V680.6H1020.3M1042.3,658V676.3H1059.8M1042.3,698.9V680.6H1059.8M1103.2,658V676.3H1085.2M1103.2,698.9V680.6H1085.2M1107.2,658V676.3H1124.7M1107.2,698.9V680.6H1124.7M1168.1,658V676.3H1150.1M1168.1,698.9V680.6H1150.1M1172.1,658V676.3H1189.6M1172.1,698.9V680.6H1189.6M648.9,719.1V737.4H630.8M648.9,760V741.7H630.8M652.9,719.1V737.4H670.3M652.9,760V741.7H670.3M713.8,719.1V737.4H695.7M713.8,760V741.7H695.7M717.8,719.1V737.4H735.2M717.8,760V741.7H735.2M778.7,719.1V737.4H760.6M778.7,760V741.7H760.6M782.7,719.1V737.4H800.1M782.7,760V741.7H800.1M843.6,719.1V737.4H825.5M843.6,760V741.7H825.5M847.6,719.1V737.4H865M847.6,760V741.7H865M908.5,719.1V737.4H890.4M908.5,760V741.7H890.4M912.5,719.1V737.4H929.9M912.5,760V741.7H929.9M973.4,719.1V737.4H955.4M973.4,760V741.7H955.4M977.4,719.1V737.4H994.8M977.4,760V741.7H994.8M1038.3,719.1V737.4H1020.3M1038.3,760V741.7H1020.3M1042.3,719.1V737.4H1059.8M1042.3,760V741.7H1059.8M1103.2,719.1V737.4H1085.2M1103.2,760V741.7H1085.2M1107.2,719.1V737.4H1124.7M1107.2,760V741.7H1124.7M1168.1,719.1V737.4H1150.1M1168.1,760V741.7H1150.1M1172.1,719.1V737.4H1189.6M1172.1,760V741.7H1189.6M648.9,780.2V798.5H630.8M648.9,821.1V802.8H630.8M652.9,780.2V798.5H670.3M652.9,821.1V802.8H670.3M713.8,780.2V798.5H695.7M713.8,821.1V802.8H695.7M717.8,780.2V798.5H735.2M717.8,821.1V802.8H735.2M778.7,780.2V798.5H760.6M778.7,821.1V802.8H760.6M782.7,780.2V798.5H800.1M782.7,821.1V802.8H800.1M843.6,780.2V798.5H825.5M843.6,821.1V802.8H825.5M847.6,780.2V798.5H865M847.6,821.1V802.8H865M908.5,780.2V798.5H890.4M908.5,821.1V802.8H890.4M912.5,780.2V798.5H929.9M912.5,821.1V802.8H929.9M973.4,780.2V798.5H955.4M973.4,821.1V802.8H955.4M977.4,780.2V798.5H994.8M977.4,821.1V802.8H994.8M1038.3,780.2V798.5H1020.3M1038.3,821.1V802.8H1020.3M1042.3,780.2V798.5H1059.8M1042.3,821.1V802.8H1059.8M1103.2,780.2V798.5H1085.2M1103.2,821.1V802.8H1085.2M1107.2,780.2V798.5H1124.7M1107.2,821.1V802.8H1124.7M1168.1,780.2V798.5H1150.1M1168.1,821.1V802.8H1150.1M1172.1,780.2V798.5H1189.6M1172.1,821.1V802.8H1189.6M648.9,841.4V859.7H630.8M648.9,882.3V864H630.8M652.9,841.4V859.7H670.3M652.9,882.3V864H670.3M713.8,841.4V859.7H695.7M713.8,882.3V864H695.7M717.8,841.4V859.7H735.2M717.8,882.3V864H735.2M778.7,841.4V859.7H760.6M778.7,882.3V864H760.6M782.7,841.4V859.7H800.1M782.7,882.3V864H800.1M843.6,841.4V859.7H825.5M843.6,882.3V864H825.5M847.6,841.4V859.7H865M847.6,882.3V864H865M908.5,841.4V859.7H890.4M908.5,882.3V864H890.4M912.5,841.4V859.7H929.9M912.5,882.3V864H929.9M973.4,841.4V859.7H955.4M973.4,882.3V864H955.4M977.4,841.4V859.7H994.8M977.4,882.3V864H994.8M1038.3,841.4V859.7H1020.3M1038.3,882.3V864H1020.3M1042.3,841.4V859.7H1059.8M1042.3,882.3V864H1059.8M1103.2,841.4V859.7H1085.2M1103.2,882.3V864H1085.2M1107.2,841.4V859.7H1124.7M1107.2,882.3V864H1124.7M1168.1,841.4V859.7H1150.1M1168.1,882.3V864H1150.1M1172.1,841.4V859.7H1189.6M1172.1,882.3V864H1189.6M648.9,902.5V920.8H630.8M648.9,943.4V925.1H630.8M652.9,902.5V920.8H670.3M652.9,943.4V925.1H670.3M713.8,902.5V920.8H695.7M713.8,943.4V925.1H695.7M717.8,902.5V920.8H735.2M717.8,943.4V925.1H735.2M778.7,902.5V920.8H760.6M778.7,943.4V925.1H760.6M782.7,902.5V920.8H800.1M782.7,943.4V925.1H800.1M843.6,902.5V920.8H825.5M843.6,943.4V925.1H825.5M847.6,902.5V920.8H865M847.6,943.4V925.1H865M908.5,902.5V920.8H890.4M908.5,943.4V925.1H890.4M912.5,902.5V920.8H929.9M912.5,943.4V925.1H929.9M973.4,902.5V920.8H955.4M973.4,943.4V925.1H955.4M977.4,902.5V920.8H994.8M977.4,943.4V925.1H994.8M1038.3,902.5V920.8H1020.3M1038.3,943.4V925.1H1020.3M1042.3,902.5V920.8H1059.8M1042.3,943.4V925.1H1059.8M1103.2,902.5V920.8H1085.2M1103.2,943.4V925.1H1085.2M1107.2,902.5V920.8H1124.7M1107.2,943.4V925.1H1124.7M1168.1,902.5V920.8H1150.1M1168.1,943.4V925.1H1150.1M1172.1,902.5V920.8H1189.6M1172.1,943.4V925.1H1189.6M648.9,963.6V981.9H630.8M648.9,1004.5V986.2H630.8M652.9,963.6V981.9H670.3M652.9,1004.5V986.2H670.3M713.8,963.6V981.9H695.7M713.8,1004.5V986.2H695.7M717.8,963.6V981.9H735.2M717.8,1004.5V986.2H735.2M778.7,963.6V981.9H760.6M778.7,1004.5V986.2H760.6M782.7,963.6V981.9H800.1M782.7,1004.5V986.2H800.1M843.6,963.6V981.9H825.5M843.6,1004.5V986.2H825.5M847.6,963.6V981.9H865M847.6,1004.5V986.2H865M908.5,963.6V981.9H890.4M908.5,1004.5V986.2H890.4M912.5,963.6V981.9H929.9M912.5,1004.5V986.2H929.9M973.4,963.6V981.9H955.4M973.4,1004.5V986.2H955.4M977.4,963.6V981.9H994.8M977.4,1004.5V986.2H994.8M1038.3,963.6V981.9H1020.3M1038.3,1004.5V986.2H1020.3M1042.3,963.6V981.9H1059.8M1042.3,1004.5V986.2H1059.8M1103.2,963.6V981.9H1085.2M1103.2,1004.5V986.2H1085.2M1107.2,963.6V981.9H1124.7M1107.2,1004.5V986.2H1124.7M1168.1,963.6V981.9H1150.1M1168.1,1004.5V986.2H1150.1M1172.1,963.6V981.9H1189.6M1172.1,1004.5V986.2H1189.6M648.9,1024.8V1043H630.8M648.9,1065.6V1047.4H630.8M652.9,1024.8V1043H670.3M652.9,1065.6V1047.4H670.3M713.8,1024.8V1043H695.7M713.8,1065.6V1047.4H695.7M717.8,1024.8V1043H735.2M717.8,1065.6V1047.4H735.2M778.7,1024.8V1043H760.6M778.7,1065.6V1047.4H760.6M782.7,1024.8V1043H800.1M782.7,1065.6V1047.4H800.1M843.6,1024.8V1043H825.5M843.6,1065.6V1047.4H825.5M847.6,1024.8V1043H865M847.6,1065.6V1047.4H865M908.5,1024.8V1043H890.4M908.5,1065.6V1047.4H890.4M912.5,1024.8V1043H929.9M912.5,1065.6V1047.4H929.9M973.4,1024.8V1043H955.4M973.4,1065.6V1047.4H955.4M977.4,1024.8V1043H994.8M977.4,1065.6V1047.4H994.8M1038.3,1024.8V1043H1020.3M1038.3,1065.6V1047.4H1020.3M1042.3,1024.8V1043H1059.8M1042.3,1065.6V1047.4H1059.8M1103.2,1024.8V1043H1085.2M1103.2,1065.6V1047.4H1085.2M1107.2,1024.8V1043H1124.7M1107.2,1065.6V1047.4H1124.7M1168.1,1024.8V1043H1150.1M1168.1,1065.6V1047.4H1150.1M1172.1,1024.8V1043H1189.6M1172.1,1065.6V1047.4H1189.6M648.9,1085.9V1104.2H630.8M648.9,1126.8V1108.5H630.8M652.9,1085.9V1104.2H670.3M652.9,1126.8V1108.5H670.3M713.8,1085.9V1104.2H695.7M713.8,1126.8V1108.5H695.7M717.8,1085.9V1104.2H735.2M717.8,1126.8V1108.5H735.2M778.7,1085.9V1104.2H760.6M778.7,1126.8V1108.5H760.6M782.7,1085.9V1104.2H800.1M782.7,1126.8V1108.5H800.1M843.6,1085.9V1104.2H825.5M843.6,1126.8V1108.5H825.5M847.6,1085.9V1104.2H865M847.6,1126.8V1108.5H865M908.5,1085.9V1104.2H890.4M908.5,1126.8V1108.5H890.4M912.5,1085.9V1104.2H929.9M912.5,1126.8V1108.5H929.9M973.4,1085.9V1104.2H955.4M973.4,1126.8V1108.5H955.4M977.4,1085.9V1104.2H994.8M977.4,1126.8V1108.5H994.8M1038.3,1085.9V1104.2H1020.3M1038.3,1126.8V1108.5H1020.3M1042.3,1085.9V1104.2H1059.8M1042.3,1126.8V1108.5H1059.8M1103.2,1085.9V1104.2H1085.2M1103.2,1126.8V1108.5H1085.2M1107.2,1085.9V1104.2H1124.7M1107.2,1126.8V1108.5H1124.7M1168.1,1085.9V1104.2H1150.1M1168.1,1126.8V1108.5H1150.1M1172.1,1085.9V1104.2H1189.6M1172.1,1126.8V1108.5H1189.6M648.9,1147V1165.3H630.8M648.9,1187.9V1169.6H630.8M652.9,1147V1165.3H670.3M652.9,1187.9V1169.6H670.3M713.8,1147V1165.3H695.7M713.8,1187.9V1169.6H695.7M717.8,1147V1165.3H735.2M717.8,1187.9V1169.6H735.2M778.7,1147V1165.3H760.6M778.7,1187.9V1169.6H760.6M782.7,1147V1165.3H800.1M782.7,1187.9V1169.6H800.1M843.6,1147V1165.3H825.5M843.6,1187.9V1169.6H825.5M847.6,1147V1165.3H865M847.6,1187.9V1169.6H865M908.5,1147V1165.3H890.4M908.5,1187.9V1169.6H890.4M912.5,1147V1165.3H929.9M912.5,1187.9V1169.6H929.9M973.4,1147V1165.3H955.4M973.4,1187.9V1169.6H955.4M977.4,1147V1165.3H994.8M977.4,1187.9V1169.6H994.8M1038.3,1147V1165.3H1020.3M1038.3,1187.9V1169.6H1020.3M1042.3,1147V1165.3H1059.8M1042.3,1187.9V1169.6H1059.8M1103.2,1147V1165.3H1085.2M1103.2,1187.9V1169.6H1085.2M1107.2,1147V1165.3H1124.7M1107.2,1187.9V1169.6H1124.7M1168.1,1147V1165.3H1150.1M1168.1,1187.9V1169.6H1150.1M1172.1,1147V1165.3H1189.6M1172.1,1187.9V1169.6H1189.6" stroke="#24246A" stroke-width="2.2"/>
<path d="M648.9,658V676.3H630.8M652.9,698.9V680.6H670.3M778.7,698.9V680.6H760.6M782.7,658V676.3H800.1M847.6,698.9V680.6H865M912.5,698.9V680.6H929.9M1042.3,658V676.3H1059.8M713.8,760V741.7H695.7M717.8,719.1V737.4H735.2M717.8,760V741.7H735.2M782.7,760V741.7H800.1M843.6,719.1V737.4H825.5M912.5,719.1V737.4H929.9M973.4,760V741.7H955.4M977.4,760V741.7H994.8M1038.3,719.1V737.4H1020.3M1172.1,760V741.7H1189.6M648.9,780.2V798.5H630.8M652.9,821.1V802.8H670.3M717.8,780.2V798.5H735.2M717.8,821.1V802.8H735.2M847.6,780.2V798.5H865M908.5,780.2V798.5H890.4M1103.2,780.2V798.5H1085.2M1107.2,821.1V802.8H1124.7M1168.1,821.1V802.8H1150.1M652.9,882.3V864H670.3M713.8,841.4V859.7H695.7M717.8,841.4V859.7H735.2M843.6,882.3V864H825.5M847.6,882.3V864H865M908.5,882.3V864H890.4M1172.1,841.4V859.7H1189.6M648.9,943.4V925.1H630.8M717.8,943.4V925.1H735.2M778.7,902.5V920.8H760.6M847.6,943.4V925.1H865M977.4,943.4V925.1H994.8M1042.3,943.4V925.1H1059.8M1168.1,943.4V925.1H1150.1M717.8,1004.5V986.2H735.2M778.7,963.6V981.9H760.6M843.6,963.6V981.9H825.5M1103.2,963.6V981.9H1085.2M1107.2,1004.5V986.2H1124.7M652.9,1024.8V1043H670.3M713.8,1065.6V1047.4H695.7M912.5,1024.8V1043H929.9M977.4,1065.6V1047.4H994.8M648.9,1126.8V1108.5H630.8M717.8,1085.9V1104.2H735.2M843.6,1085.9V1104.2H825.5M908.5,1126.8V1108.5H890.4M973.4,1085.9V1104.2H955.4M1107.2,1085.9V1104.2H1124.7M778.7,1187.9V1169.6H760.6M782.7,1187.9V1169.6H800.1M908.5,1147V1165.3H890.4M912.5,1187.9V1169.6H929.9M973.4,1147V1165.3H955.4M973.4,1187.9V1169.6H955.4M1107.2,1187.9V1169.6H1124.7M1168.1,1147V1165.3H1150.1" stroke="#1050F0" stroke-width="1.1"/>
<path d="M648.9,698.9V680.6H630.8M717.8,658V676.3H735.2M778.7,658V676.3H760.6M912.5,658V676.3H929.9M973.4,658V676.3H955.4M977.4,658V676.3H994.8M977.4,698.9V680.6H994.8M1042.3,698.9V680.6H1059.8M1107.2,658V676.3H1124.7M648.9,760V741.7H630.8M652.9,760V741.7H670.3M713.8,719.1V737.4H695.7M847.6,719.1V737.4H865M973.4,719.1V737.4H955.4M1107.2,719.1V737.4H1124.7M1107.2,760V741.7H1124.7M648.9,821.1V802.8H630.8M843.6,780.2V798.5H825.5M847.6,821.1V802.8H865M908.5,821.1V802.8H890.4M973.4,821.1V802.8H955.4M977.4,821.1V802.8H994.8M1038.3,780.2V798.5H1020.3M1042.3,780.2V798.5H1059.8M1107.2,780.2V798.5H1124.7M1172.1,821.1V802.8H1189.6M652.9,841.4V859.7H670.3M782.7,882.3V864H800.1M843.6,841.4V859.7H825.5M912.5,882.3V864H929.9M977.4,841.4V859.7H994.8M977.4,882.3V864H994.8M1038.3,882.3V864H1020.3M1107.2,841.4V859.7H1124.7M1172.1,882.3V864H1189.6M652.9,943.4V925.1H670.3M843.6,902.5V920.8H825.5M908.5,902.5V920.8H890.4M908.5,943.4V925.1H890.4M912.5,943.4V925.1H929.9M977.4,902.5V920.8H994.8M1107.2,902.5V920.8H1124.7M1107.2,943.4V925.1H1124.7M1168.1,902.5V920.8H1150.1M648.9,1004.5V986.2H630.8M652.9,963.6V981.9H670.3M908.5,963.6V981.9H890.4M912.5,1004.5V986.2H929.9M1107.2,963.6V981.9H1124.7M1168.1,1004.5V986.2H1150.1M652.9,1065.6V1047.4H670.3M713.8,1024.8V1043H695.7M717.8,1065.6V1047.4H735.2M778.7,1024.8V1043H760.6M912.5,1065.6V1047.4H929.9M977.4,1024.8V1043H994.8M1042.3,1024.8V1043H1059.8M1042.3,1065.6V1047.4H1059.8M1168.1,1024.8V1043H1150.1M1172.1,1024.8V1043H1189.6M1172.1,1065.6V1047.4H1189.6M652.9,1085.9V1104.2H670.3M778.7,1126.8V1108.5H760.6M847.6,1126.8V1108.5H865M977.4,1085.9V1104.2H994.8M977.4,1126.8V1108.5H994.8M1042.3,1085.9V1104.2H1059.8M1168.1,1085.9V1104.2H1150.1M1168.1,1126.8V1108.5H1150.1M1172.1,1126.8V1108.5H1189.6M652.9,1187.9V1169.6H670.3M713.8,1147V1165.3H695.7M717.8,1187.9V1169.6H735.2M778.7,1147V1165.3H760.6M782.7,1147V1165.3H800.1M847.6,1147V1165.3H865M847.6,1187.9V1169.6H865M977.4,1147V1165.3H994.8M1103.2,1147V1165.3H1085.2M1107.2,1147V1165.3H1124.7" stroke="#1030E8" stroke-width="1.1"/>
<path d="M843.6,698.9V680.6H825.5M782.7,719.1V737.4H800.1" stroke="#E0E000" stroke-width="1.1"/>
<path d="M847.6,658V676.3H865M778.7,760V741.7H760.6M1038.3,760V741.7H1020.3M778.7,821.1V802.8H760.6M843.6,821.1V802.8H825.5M1038.3,821.1V802.8H1020.3M782.7,841.4V859.7H800.1M973.4,841.4V859.7H955.4M973.4,882.3V864H955.4M1038.3,841.4V859.7H1020.3M778.7,943.4V925.1H760.6M782.7,902.5V920.8H800.1M843.6,943.4V925.1H825.5M973.4,943.4V925.1H955.4M1038.3,902.5V920.8H1020.3M1038.3,943.4V925.1H1020.3M1103.2,943.4V925.1H1085.2M713.8,1004.5V986.2H695.7M717.8,963.6V981.9H735.2M778.7,1004.5V986.2H760.6M782.7,963.6V981.9H800.1M843.6,1004.5V986.2H825.5M847.6,963.6V981.9H865M908.5,1004.5V986.2H890.4M973.4,963.6V981.9H955.4M973.4,1004.5V986.2H955.4M1038.3,963.6V981.9H1020.3M1042.3,963.6V981.9H1059.8M1103.2,1004.5V986.2H1085.2M778.7,1065.6V1047.4H760.6M782.7,1024.8V1043H800.1M847.6,1024.8V1043H865M973.4,1065.6V1047.4H955.4M1038.3,1024.8V1043H1020.3M1103.2,1065.6V1047.4H1085.2M1107.2,1024.8V1043H1124.7M648.9,1187.9V1169.6H630.8M843.6,1187.9V1169.6H825.5M1038.3,1187.9V1169.6H1020.3" stroke="#20E060" stroke-width="1.1"/>
<path d="M1168.1,698.9V680.6H1150.1M713.8,821.1V802.8H695.7M713.8,882.3V864H695.7M778.7,882.3V864H760.6M1103.2,882.3V864H1085.2M713.8,943.4V925.1H695.7M717.8,902.5V920.8H735.2M843.6,1065.6V1047.4H825.5M1103.2,1126.8V1108.5H1085.2" stroke="#10C0F0" stroke-width="1.1"/>
<path d="M847.6,841.4V859.7H865M973.4,902.5V920.8H955.4M908.5,1085.9V1104.2H890.4" stroke="#E01818" stroke-width="1.1"/>
</g>
<g fill="none">
<path d="M1274.2,652.1L1251.9,652.1L1251.9,698.3L1274.2,698.3M1276,652.1L1298.3,652.1L1298.3,698.3L1276,698.3M1336.8,652.1L1314.5,652.1L1314.5,698.3L1336.8,698.3M1338.5,652.1L1360.9,652.1L1360.9,698.3L1338.5,698.3M1399.4,652.1L1377,652.1L1377,698.3L1399.4,698.3M1401.1,652.1L1423.4,652.1L1423.4,698.3L1401.1,698.3M1461.9,652.1L1439.6,652.1L1439.6,698.3L1461.9,698.3M1463.6,652.1L1486,652.1L1486,698.3L1463.6,698.3M1524.5,652.1L1502.1,652.1L1502.1,698.3L1524.5,698.3M1526.2,652.1L1548.5,652.1L1548.5,698.3L1526.2,698.3M1587,652.1L1564.7,652.1L1564.7,698.3L1587,698.3M1588.8,652.1L1611.1,652.1L1611.1,698.3L1588.8,698.3M1649.6,652.1L1627.3,652.1L1627.3,698.3L1649.6,698.3M1651.3,652.1L1673.7,652.1L1673.7,698.3L1651.3,698.3M1712.2,652.1L1689.8,652.1L1689.8,698.3L1712.2,698.3M1713.9,652.1L1736.2,652.1L1736.2,698.3L1713.9,698.3M1774.7,652.1L1752.4,652.1L1752.4,698.3L1774.7,698.3M1776.4,652.1L1798.8,652.1L1798.8,698.3L1776.4,698.3M1274.2,714L1251.9,714L1251.9,760.1L1274.2,760.1M1276,714L1298.3,714L1298.3,760.1L1276,760.1M1336.8,714L1314.5,714L1314.5,760.1L1336.8,760.1M1338.5,714L1360.9,714L1360.9,760.1L1338.5,760.1M1399.4,714L1377,714L1377,760.1L1399.4,760.1M1401.1,714L1423.4,714L1423.4,760.1L1401.1,760.1M1461.9,714L1439.6,714L1439.6,760.1L1461.9,760.1M1463.6,714L1486,714L1486,760.1L1463.6,760.1M1524.5,714L1502.1,714L1502.1,760.1L1524.5,760.1M1526.2,714L1548.5,714L1548.5,760.1L1526.2,760.1M1587,714L1564.7,714L1564.7,760.1L1587,760.1M1588.8,714L1611.1,714L1611.1,760.1L1588.8,760.1M1649.6,714L1627.3,714L1627.3,760.1L1649.6,760.1M1651.3,714L1673.7,714L1673.7,760.1L1651.3,760.1M1712.2,714L1689.8,714L1689.8,760.1L1712.2,760.1M1713.9,714L1736.2,714L1736.2,760.1L1713.9,760.1M1774.7,714L1752.4,714L1752.4,760.1L1774.7,760.1M1776.4,714L1798.8,714L1798.8,760.1L1776.4,760.1M1274.2,775.8L1251.9,775.8L1251.9,822L1274.2,822M1276,775.8L1298.3,775.8L1298.3,822L1276,822M1336.8,775.8L1314.5,775.8L1314.5,822L1336.8,822M1338.5,775.8L1360.9,775.8L1360.9,822L1338.5,822M1399.4,775.8L1377,775.8L1377,822L1399.4,822M1401.1,775.8L1423.4,775.8L1423.4,822L1401.1,822M1461.9,775.8L1439.6,775.8L1439.6,822L1461.9,822M1463.6,775.8L1486,775.8L1486,822L1463.6,822M1524.5,775.8L1502.1,775.8L1502.1,822L1524.5,822M1526.2,775.8L1548.5,775.8L1548.5,822L1526.2,822M1587,775.8L1564.7,775.8L1564.7,822L1587,822M1588.8,775.8L1611.1,775.8L1611.1,822L1588.8,822M1649.6,775.8L1627.3,775.8L1627.3,822L1649.6,822M1651.3,775.8L1673.7,775.8L1673.7,822L1651.3,822M1712.2,775.8L1689.8,775.8L1689.8,822L1712.2,822M1713.9,775.8L1736.2,775.8L1736.2,822L1713.9,822M1774.7,775.8L1752.4,775.8L1752.4,822L1774.7,822M1776.4,775.8L1798.8,775.8L1798.8,822L1776.4,822M1274.2,837.7L1251.9,837.7L1251.9,883.9L1274.2,883.9M1276,837.7L1298.3,837.7L1298.3,883.9L1276,883.9M1336.8,837.7L1314.5,837.7L1314.5,883.9L1336.8,883.9M1338.5,837.7L1360.9,837.7L1360.9,883.9L1338.5,883.9M1399.4,837.7L1377,837.7L1377,883.9L1399.4,883.9M1401.1,837.7L1423.4,837.7L1423.4,883.9L1401.1,883.9M1461.9,837.7L1439.6,837.7L1439.6,883.9L1461.9,883.9M1463.6,837.7L1486,837.7L1486,883.9L1463.6,883.9M1524.5,837.7L1502.1,837.7L1502.1,883.9L1524.5,883.9M1526.2,837.7L1548.5,837.7L1548.5,883.9L1526.2,883.9M1587,837.7L1564.7,837.7L1564.7,883.9L1587,883.9M1588.8,837.7L1611.1,837.7L1611.1,883.9L1588.8,883.9M1649.6,837.7L1627.3,837.7L1627.3,883.9L1649.6,883.9M1651.3,837.7L1673.7,837.7L1673.7,883.9L1651.3,883.9M1712.2,837.7L1689.8,837.7L1689.8,883.9L1712.2,883.9M1713.9,837.7L1736.2,837.7L1736.2,883.9L1713.9,883.9M1774.7,837.7L1752.4,837.7L1752.4,883.9L1774.7,883.9M1776.4,837.7L1798.8,837.7L1798.8,883.9L1776.4,883.9M1274.2,899.5L1251.9,899.5L1251.9,945.7L1274.2,945.7M1276,899.5L1298.3,899.5L1298.3,945.7L1276,945.7M1336.8,899.5L1314.5,899.5L1314.5,945.7L1336.8,945.7M1338.5,899.5L1360.9,899.5L1360.9,945.7L1338.5,945.7M1399.4,899.5L1377,899.5L1377,945.7L1399.4,945.7M1401.1,899.5L1423.4,899.5L1423.4,945.7L1401.1,945.7M1461.9,899.5L1439.6,899.5L1439.6,945.7L1461.9,945.7M1463.6,899.5L1486,899.5L1486,945.7L1463.6,945.7M1524.5,899.5L1502.1,899.5L1502.1,945.7L1524.5,945.7M1526.2,899.5L1548.5,899.5L1548.5,945.7L1526.2,945.7M1587,899.5L1564.7,899.5L1564.7,945.7L1587,945.7M1588.8,899.5L1611.1,899.5L1611.1,945.7L1588.8,945.7M1649.6,899.5L1627.3,899.5L1627.3,945.7L1649.6,945.7M1651.3,899.5L1673.7,899.5L1673.7,945.7L1651.3,945.7M1712.2,899.5L1689.8,899.5L1689.8,945.7L1712.2,945.7M1713.9,899.5L1736.2,899.5L1736.2,945.7L1713.9,945.7M1774.7,899.5L1752.4,899.5L1752.4,945.7L1774.7,945.7M1776.4,899.5L1798.8,899.5L1798.8,945.7L1776.4,945.7M1274.2,961.4L1251.9,961.4L1251.9,1007.5L1274.2,1007.5M1276,961.4L1298.3,961.4L1298.3,1007.5L1276,1007.5M1336.8,961.4L1314.5,961.4L1314.5,1007.5L1336.8,1007.5M1338.5,961.4L1360.9,961.4L1360.9,1007.5L1338.5,1007.5M1399.4,961.4L1377,961.4L1377,1007.5L1399.4,1007.5M1401.1,961.4L1423.4,961.4L1423.4,1007.5L1401.1,1007.5M1461.9,961.4L1439.6,961.4L1439.6,1007.5L1461.9,1007.5M1463.6,961.4L1486,961.4L1486,1007.5L1463.6,1007.5M1524.5,961.4L1502.1,961.4L1502.1,1007.5L1524.5,1007.5M1526.2,961.4L1548.5,961.4L1548.5,1007.5L1526.2,1007.5M1587,961.4L1564.7,961.4L1564.7,1007.5L1587,1007.5M1588.8,961.4L1611.1,961.4L1611.1,1007.5L1588.8,1007.5M1649.6,961.4L1627.3,961.4L1627.3,1007.5L1649.6,1007.5M1651.3,961.4L1673.7,961.4L1673.7,1007.5L1651.3,1007.5M1712.2,961.4L1689.8,961.4L1689.8,1007.5L1712.2,1007.5M1713.9,961.4L1736.2,961.4L1736.2,1007.5L1713.9,1007.5M1774.7,961.4L1752.4,961.4L1752.4,1007.5L1774.7,1007.5M1776.4,961.4L1798.8,961.4L1798.8,1007.5L1776.4,1007.5M1274.2,1023.2L1251.9,1023.2L1251.9,1069.4L1274.2,1069.4M1276,1023.2L1298.3,1023.2L1298.3,1069.4L1276,1069.4M1336.8,1023.2L1314.5,1023.2L1314.5,1069.4L1336.8,1069.4M1338.5,1023.2L1360.9,1023.2L1360.9,1069.4L1338.5,1069.4M1399.4,1023.2L1377,1023.2L1377,1069.4L1399.4,1069.4M1401.1,1023.2L1423.4,1023.2L1423.4,1069.4L1401.1,1069.4M1461.9,1023.2L1439.6,1023.2L1439.6,1069.4L1461.9,1069.4M1463.6,1023.2L1486,1023.2L1486,1069.4L1463.6,1069.4M1524.5,1023.2L1502.1,1023.2L1502.1,1069.4L1524.5,1069.4M1526.2,1023.2L1548.5,1023.2L1548.5,1069.4L1526.2,1069.4M1587,1023.2L1564.7,1023.2L1564.7,1069.4L1587,1069.4M1588.8,1023.2L1611.1,1023.2L1611.1,1069.4L1588.8,1069.4M1649.6,1023.2L1627.3,1023.2L1627.3,1069.4L1649.6,1069.4M1651.3,1023.2L1673.7,1023.2L1673.7,1069.4L1651.3,1069.4M1712.2,1023.2L1689.8,1023.2L1689.8,1069.4L1712.2,1069.4M1713.9,1023.2L1736.2,1023.2L1736.2,1069.4L1713.9,1069.4M1774.7,1023.2L1752.4,1023.2L1752.4,1069.4L1774.7,1069.4M1776.4,1023.2L1798.8,1023.2L1798.8,1069.4L1776.4,1069.4M1274.2,1085L1251.9,1085L1251.9,1131.2L1274.2,1131.2M1276,1085L1298.3,1085L1298.3,1131.2L1276,1131.2M1336.8,1085L1314.5,1085L1314.5,1131.2L1336.8,1131.2M1338.5,1085L1360.9,1085L1360.9,1131.2L1338.5,1131.2M1399.4,1085L1377,1085L1377,1131.2L1399.4,1131.2M1401.1,1085L1423.4,1085L1423.4,1131.2L1401.1,1131.2M1461.9,1085L1439.6,1085L1439.6,1131.2L1461.9,1131.2M1463.6,1085L1486,1085L1486,1131.2L1463.6,1131.2M1524.5,1085L1502.1,1085L1502.1,1131.2L1524.5,1131.2M1526.2,1085L1548.5,1085L1548.5,1131.2L1526.2,1131.2M1587,1085L1564.7,1085L1564.7,1131.2L1587,1131.2M1588.8,1085L1611.1,1085L1611.1,1131.2L1588.8,1131.2M1649.6,1085L1627.3,1085L1627.3,1131.2L1649.6,1131.2M1651.3,1085L1673.7,1085L1673.7,1131.2L1651.3,1131.2M1712.2,1085L1689.8,1085L1689.8,1131.2L1712.2,1131.2M1713.9,1085L1736.2,1085L1736.2,1131.2L1713.9,1131.2M1774.7,1085L1752.4,1085L1752.4,1131.2L1774.7,1131.2M1776.4,1085L1798.8,1085L1798.8,1131.2L1776.4,1131.2M1274.2,1146.9L1251.9,1146.9L1251.9,1193.1L1274.2,1193.1M1276,1146.9L1298.3,1146.9L1298.3,1193.1L1276,1193.1M1336.8,1146.9L1314.5,1146.9L1314.5,1193.1L1336.8,1193.1M1338.5,1146.9L1360.9,1146.9L1360.9,1193.1L1338.5,1193.1M1399.4,1146.9L1377,1146.9L1377,1193.1L1399.4,1193.1M1401.1,1146.9L1423.4,1146.9L1423.4,1193.1L1401.1,1193.1M1461.9,1146.9L1439.6,1146.9L1439.6,1193.1L1461.9,1193.1M1463.6,1146.9L1486,1146.9L1486,1193.1L1463.6,1193.1M1524.5,1146.9L1502.1,1146.9L1502.1,1193.1L1524.5,1193.1M1526.2,1146.9L1548.5,1146.9L1548.5,1193.1L1526.2,1193.1M1587,1146.9L1564.7,1146.9L1564.7,1193.1L1587,1193.1M1588.8,1146.9L1611.1,1146.9L1611.1,1193.1L1588.8,1193.1M1649.6,1146.9L1627.3,1146.9L1627.3,1193.1L1649.6,1193.1M1651.3,1146.9L1673.7,1146.9L1673.7,1193.1L1651.3,1193.1M1712.2,1146.9L1689.8,1146.9L1689.8,1193.1L1712.2,1193.1M1713.9,1146.9L1736.2,1146.9L1736.2,1193.1L1713.9,1193.1M1774.7,1146.9L1752.4,1146.9L1752.4,1193.1L1774.7,1193.1M1776.4,1146.9L1798.8,1146.9L1798.8,1193.1L1776.4,1193.1" stroke="#7C7CB4" stroke-width="4.4"/>
<path d="M1274.2,651.3L1251.1,651.3L1251.1,675.2M1251.1,680.4L1251.1,699.1L1253.3,699.1M1252.7,657.1L1252.7,662.3M1252.7,672.6L1252.7,682.9M1252.7,688.1L1252.7,693.3M1276,651.3L1281.2,651.3M1299.1,654.3L1299.1,699.1L1291.6,699.1M1297.5,657.1L1297.5,672.6M1321.1,651.3L1313.7,651.3L1313.7,699.1L1326.4,699.1M1315.3,672.6L1315.3,697.5L1321.3,697.5M1359.4,651.3L1361.7,651.3L1361.7,699.1L1338.5,699.1M1354,652.9L1360.1,652.9L1360.1,662.3M1360.1,667.5L1360.1,682.9M1360.1,688.1L1360.1,693.3M1394.1,651.3L1383.7,651.3M1376.2,659.5L1376.2,685.7M1376.2,690.9L1376.2,699.1L1378.5,699.1M1388.9,699.1L1399.4,699.1M1377.8,672.6L1377.8,677.8M1377.8,688.1L1377.8,697.5L1378.7,697.5M1416.8,651.3L1424.2,651.3L1424.2,664.7M1424.2,670L1424.2,685.7M1424.2,690.9L1424.2,699.1L1422,699.1M1422.6,682.9L1422.6,688.1M1422.6,693.3L1422.6,697.5L1421.7,697.5M1456.7,651.3L1438.8,651.3L1438.8,664.7M1438.8,670L1438.8,699.1L1446.2,699.1M1446.5,652.9L1441.3,652.9M1440.4,672.6L1440.4,677.8M1479.3,651.3L1484.5,651.3M1486.8,654.3L1486.8,685.7M1486.8,696.1L1486.8,699.1L1479.3,699.1M1468.9,699.1L1463.6,699.1M1484.3,652.9L1485.2,652.9L1485.2,693.3M1484.3,697.5L1479.1,697.5M1519.3,651.3L1508.8,651.3M1503.6,651.3L1501.3,651.3L1501.3,699.1L1519.3,699.1M1502.9,688.1L1502.9,693.3M1503.9,697.5L1519.3,697.5M1531.4,651.3L1541.9,651.3M1549.3,659.5L1549.3,699.1L1536.6,699.1M1531.4,699.1L1526.2,699.1M1541.7,652.9L1547.7,652.9L1547.7,667.5M1547.7,682.9L1547.7,697.5L1536.5,697.5M1576.6,651.3L1563.9,651.3L1563.9,664.7M1563.9,670L1563.9,699.1L1571.4,699.1M1565.5,693.3L1565.5,697.5L1566.4,697.5M1599.2,651.3L1611.9,651.3L1611.9,699.1L1609.7,699.1M1610.3,693.3L1610.3,697.5L1609.4,697.5M1649.6,651.3L1626.5,651.3L1626.5,680.4M1626.5,690.9L1626.5,696.1M1633.9,699.1L1649.6,699.1M1634.1,652.9L1628.1,652.9L1628.1,667.5M1628.1,672.6L1628.1,677.8M1628.1,688.1L1628.1,693.3M1651.3,651.3L1656.5,651.3M1674.5,654.3L1674.5,699.1L1651.3,699.1M1672.9,677.8L1672.9,682.9M1706.9,651.3L1689,651.3L1689,699.1L1696.5,699.1M1691.5,652.9L1690.6,652.9L1690.6,697.5L1696.7,697.5M1713.9,651.3L1734.8,651.3M1737,659.5L1737,699.1L1724.3,699.1M1719,652.9L1734.5,652.9M1735.4,662.3L1735.4,667.5M1735.4,672.6L1735.4,677.8M1735.4,693.3L1735.4,697.5L1734.5,697.5M1729.3,697.5L1724.2,697.5M1753.8,651.3L1751.6,651.3L1751.6,699.1L1759,699.1M1799.6,654.3L1799.6,696.1M1798,657.1L1798,662.3M1798,667.5L1798,672.6M1263.8,713.2L1253.3,713.2M1251.1,721.4L1251.1,760.9L1258.6,760.9M1252.7,739.6L1252.7,744.8M1252.7,749.9L1252.7,755.1M1276,713.2L1299.1,713.2L1299.1,760.9L1286.4,760.9M1281.2,760.9L1276,760.9M1297.5,719L1297.5,724.2M1313.7,716.1L1313.7,758M1315.3,729.3L1315.3,744.8M1354.2,713.2L1361.7,713.2L1361.7,716.1M1361.7,721.4L1361.7,760.9L1349,760.9M1360.1,724.2L1360.1,729.3M1360.1,749.9L1360.1,755.1M1388.9,713.2L1383.7,713.2M1376.2,721.4L1376.2,758M1378.5,760.9L1383.7,760.9M1377.8,729.3L1377.8,734.5M1377.8,744.8L1377.8,749.9M1422,713.2L1424.2,713.2L1424.2,760.9L1422,760.9M1411.5,760.9L1406.3,760.9M1422.6,719L1422.6,724.2M1446.2,713.2L1441,713.2M1438.8,726.6L1438.8,752.7M1484.5,713.2L1486.8,713.2L1486.8,716.1M1486.8,721.4L1486.8,752.7M1503.6,713.2L1501.3,713.2L1501.3,747.5M1541.9,713.2L1547.1,713.2M1549.3,726.6L1549.3,742.3M1547.7,734.5L1547.7,744.8M1547.7,749.9L1547.7,755.1M1563.9,731.8L1563.9,752.7M1565.5,724.2L1565.5,739.6M1565.5,744.8L1565.5,755.1M1609.7,713.2L1611.9,713.2L1611.9,747.5M1611.9,752.7L1611.9,760.9L1609.7,760.9M1626.5,721.4L1626.5,747.5M1626.5,752.7L1626.5,760.9L1633.9,760.9M1628.1,724.2L1628.1,739.6M1674.5,716.1L1674.5,747.5M1672.2,760.9L1667,760.9M1672.9,724.2L1672.9,734.5M1689,716.1L1689,758M1690.6,729.3L1690.6,734.5M1737,716.1L1737,721.4M1737,726.6L1737,758M1735.4,719L1735.4,729.3M1774.7,713.2L1769.5,713.2M1753.8,713.2L1751.6,713.2L1751.6,760.9L1774.7,760.9M1754.1,714.8L1753.2,714.8L1753.2,719M1792.1,713.2L1799.6,713.2L1799.6,721.4M1799.6,726.6L1799.6,742.3M1799.6,747.5L1799.6,752.7M1799.6,758L1799.6,760.9L1792.1,760.9M1791.9,714.8L1798,714.8L1798,719M1798,724.2L1798,744.8M1251.1,788.4L1251.1,814.6M1252.7,791.2L1252.7,801.5M1299.1,783.2L1299.1,788.4M1299.1,793.7L1299.1,814.6M1297.5,786L1297.5,801.5M1313.7,778L1313.7,822.8L1315.9,822.8M1315.3,786L1315.3,801.5M1361.7,783.2L1361.7,788.4M1361.7,798.9L1361.7,819.8M1376.2,793.7L1376.2,814.6M1378.5,822.8L1383.7,822.8M1377.8,786L1377.8,796.3M1424.2,788.4L1424.2,809.4M1422.6,801.5L1422.6,811.8M1451.5,775L1438.8,775L1438.8,822.8L1456.7,822.8M1440.4,786L1440.4,791.2M1484.5,775L1486.8,775L1486.8,822.8L1484.5,822.8M1485.2,796.3L1485.2,806.6M1501.3,783.2L1501.3,798.9M1502.9,791.2L1502.9,796.3M1549.3,778L1549.3,809.4M1547.7,806.6L1547.7,821.2L1546.8,821.2M1563.9,798.9L1563.9,822.8L1566.1,822.8M1565.5,786L1565.5,796.3M1611.9,783.2L1611.9,798.9M1611.9,804.1L1611.9,814.6M1610.3,786L1610.3,806.6M1626.5,788.4L1626.5,804.1M1628.1,791.2L1628.1,811.8M1674.5,783.2L1674.5,804.1M1672.9,801.5L1672.9,811.8M1696.5,775L1689,775L1689,804.1M1689,809.4L1689,814.6M1690.6,786L1690.6,801.5M1690.6,806.6L1690.6,811.8M1734.8,775L1737,775L1737,783.2M1737,788.4L1737,793.7M1737,798.9L1737,819.8M1769.5,775L1764.3,775M1751.6,783.2L1751.6,819.8M1753.2,791.2L1753.2,806.6M1799.6,783.2L1799.6,804.1M1791.9,776.6L1797.1,776.6M1251.1,850.3L1251.1,871.2M1299.1,850.3L1299.1,860.8M1313.7,855.5L1313.7,866M1315.3,853L1315.3,868.5M1361.7,845.1L1361.7,881.7M1360.1,853L1360.1,858.2M1360.1,863.3L1360.1,878.8M1376.2,855.5L1376.2,871.2M1377.8,858.2L1377.8,863.3M1424.2,855.5L1424.2,871.2M1438.8,845.1L1438.8,850.3M1438.8,855.5L1438.8,871.2M1438.8,876.4L1438.8,881.7M1486.8,845.1L1486.8,855.5M1486.8,866L1486.8,871.2M1485.2,853L1485.2,858.2M1501.3,850.3L1501.3,855.5M1501.3,866L1501.3,871.2M1502.9,858.2L1502.9,863.3M1549.3,839.8L1549.3,845.1M1549.3,850.3L1549.3,871.2M1563.9,855.5L1563.9,860.8M1565.5,858.2L1565.5,863.3M1611.9,855.5L1611.9,866M1610.3,858.2L1610.3,863.3M1626.5,860.8L1626.5,866M1674.5,850.3L1674.5,876.4M1672.9,858.2L1672.9,868.5M1737,850.3L1737,866M1751.6,839.8L1751.6,866M1753.2,858.2L1753.2,863.3M1799.6,855.5L1799.6,866M1798,853L1798,863.3M1251.1,912.1L1251.1,927.8M1251.1,933.1L1251.1,938.3M1252.7,920L1252.7,930.3M1299.1,912.1L1299.1,933.1M1313.7,906.9L1313.7,927.8M1361.7,906.9L1361.7,927.8M1376.2,917.4L1376.2,933.1M1377.8,914.9L1377.8,930.3M1424.2,912.1L1424.2,933.1M1438.8,906.9L1438.8,927.8M1486.8,912.1L1486.8,938.3M1501.3,906.9L1501.3,927.8M1549.3,917.4L1549.3,927.8M1549.3,933.1L1549.3,938.3M1547.7,914.9L1547.7,920M1563.9,906.9L1563.9,933.1M1565.5,920L1565.5,925.2M1611.9,912.1L1611.9,933.1M1610.3,914.9L1610.3,925.2M1626.5,917.4L1626.5,927.8M1674.5,917.4L1674.5,927.8M1672.9,920L1672.9,925.2M1689,917.4L1689,933.1M1737,917.4L1737,927.8M1735.4,930.3L1735.4,935.5M1751.6,906.9L1751.6,927.8M1799.6,912.1L1799.6,917.4M1799.6,927.8L1799.6,933.1M1251.1,974L1251.1,989.7M1299.1,974L1299.1,989.7M1313.7,974L1313.7,989.7M1361.7,979.2L1361.7,984.5M1376.2,979.2L1376.2,989.7M1377.8,981.9L1377.8,987M1424.2,979.2L1424.2,989.7M1422.6,981.9L1422.6,987M1438.8,974L1438.8,989.7M1440.4,966.4L1440.4,971.6M1486.8,968.8L1486.8,1008.3L1479.3,1008.3M1485.2,976.7L1485.2,987M1485.2,992.2L1485.2,997.3M1501.3,979.2L1501.3,984.5M1549.3,968.8L1549.3,1000.1M1563.9,979.2L1563.9,1000.1M1565.5,981.9L1565.5,987M1611.9,968.8L1611.9,994.9M1626.5,979.2L1626.5,984.5M1628.1,976.7L1628.1,981.9M1674.5,974L1674.5,994.9M1689,963.5L1689,994.9M1737,974L1737,994.9M1735.4,971.6L1735.4,987M1751.6,963.5L1751.6,1000.1M1753.2,971.6L1753.2,992.2M1799.6,984.5L1799.6,1000.1M1799.6,1005.4L1799.6,1008.3L1797.3,1008.3M1251.1,1041.1L1251.1,1051.5M1252.7,1033.4L1252.7,1043.7M1299.1,1035.8L1299.1,1046.3M1297.5,1038.6L1297.5,1043.7M1313.7,1035.8L1313.7,1046.3M1315.3,1043.7L1315.3,1048.9M1361.7,1035.8L1361.7,1056.8M1376.2,1030.6L1376.2,1056.8M1376.2,1062L1376.2,1067.2M1424.2,1030.6L1424.2,1051.5M1438.8,1041.1L1438.8,1062M1485.2,1048.9L1485.2,1054M1501.3,1025.4L1501.3,1056.8M1503.9,1024L1502.9,1024L1502.9,1028.2M1541.9,1022.4L1549.3,1022.4L1549.3,1062M1547.7,1038.6L1547.7,1043.7M1547.7,1048.9L1547.7,1054M1563.9,1041.1L1563.9,1051.5M1565.5,1033.4L1565.5,1043.7M1565.5,1054L1565.5,1059.2M1611.9,1030.6L1611.9,1056.8M1626.5,1035.8L1626.5,1051.5M1626.5,1056.8L1626.5,1062M1674.5,1035.8L1674.5,1062M1672.9,1048.9L1672.9,1054M1696.5,1022.4L1689,1022.4L1689,1035.8M1689,1062L1689,1067.2M1729.6,1022.4L1737,1022.4L1737,1056.8M1735.4,1048.9L1735.4,1054M1751.6,1056.8L1751.6,1062M1753.2,1048.9L1753.2,1054M1799.6,1062L1799.6,1070.2L1797.3,1070.2M1798,1033.4L1798,1043.7M1251.1,1102.9L1251.1,1132L1253.3,1132M1252.7,1105.6L1252.7,1110.7M1299.1,1087.2L1299.1,1092.5M1299.1,1097.7L1299.1,1123.8M1326.4,1084.2L1321.1,1084.2M1313.7,1087.2L1313.7,1123.8M1354.2,1084.2L1361.7,1084.2L1361.7,1087.2M1361.7,1097.7L1361.7,1118.6M1360.1,1090.1L1360.1,1110.7M1359.1,1130.4L1354,1130.4M1376.2,1092.5L1376.2,1129.1M1377.8,1095.3L1377.8,1121M1424.2,1102.9L1424.2,1108.1M1424.2,1113.4L1424.2,1118.6M1424.2,1123.8L1424.2,1132L1422,1132M1422.6,1090.1L1422.6,1121M1451.5,1084.2L1446.2,1084.2M1438.8,1097.7L1438.8,1102.9M1438.8,1113.4L1438.8,1132L1456.7,1132M1440.4,1110.7L1440.4,1121M1440.4,1126.2L1440.4,1130.4L1446.5,1130.4M1468.9,1084.2L1474.1,1084.2M1479.3,1084.2L1486.8,1084.2L1486.8,1132L1484.5,1132M1468.8,1085.8L1473.9,1085.8M1485.2,1095.3L1485.2,1105.6M1485.2,1110.7L1485.2,1115.9M1514,1084.2L1501.3,1084.2L1501.3,1102.9M1501.3,1118.6L1501.3,1123.8M1508.8,1132L1514,1132M1502.9,1105.6L1502.9,1110.7M1502.9,1115.9L1502.9,1121M1531.4,1084.2L1549.3,1084.2L1549.3,1129.1M1547.7,1090.1L1547.7,1095.3M1547.7,1100.4L1547.7,1105.6M1563.9,1087.2L1563.9,1118.6M1566.4,1085.8L1565.5,1085.8L1565.5,1095.3M1565.5,1110.7L1565.5,1115.9M1611.9,1092.5L1611.9,1132L1609.7,1132M1649.6,1084.2L1626.5,1084.2L1626.5,1132L1639.2,1132M1649.6,1085.8L1644.5,1085.8M1634.1,1085.8L1629,1085.8M1661.8,1084.2L1674.5,1084.2L1674.5,1132L1656.5,1132M1672.9,1100.4L1672.9,1126.2M1689,1092.5L1689,1118.6M1689,1129.1L1689,1132L1701.7,1132M1696.7,1085.8L1690.6,1085.8L1690.6,1115.9M1690.6,1126.2L1690.6,1130.4L1691.5,1130.4M1696.7,1130.4L1707,1130.4M1737,1087.2L1737,1102.9M1737,1113.4L1737,1118.6M1737,1123.8L1737,1132L1724.3,1132M1735.4,1090.1L1735.4,1115.9M1751.6,1087.2L1751.6,1092.5M1751.6,1102.9L1751.6,1108.1M1799.6,1087.2L1799.6,1123.8M1798,1105.6L1798,1110.7M1251.1,1154.3L1251.1,1175.2M1251.1,1180.5L1251.1,1193.9L1258.6,1193.9M1252.7,1162.3L1252.7,1182.9M1286.4,1146.1L1299.1,1146.1L1299.1,1193.9L1291.6,1193.9M1297.5,1177.7L1297.5,1188.1M1326.4,1146.1L1313.7,1146.1L1313.7,1180.5M1315.3,1157.1L1315.3,1162.3M1315.3,1177.7L1315.3,1182.9M1361.7,1149.1L1361.7,1190.9M1360.1,1162.3L1360.1,1167.4M1383.7,1146.1L1376.2,1146.1L1376.2,1193.9L1388.9,1193.9M1377.8,1151.9L1377.8,1172.6M1377.8,1177.7L1377.8,1188.1M1406.3,1146.1L1411.5,1146.1M1422,1146.1L1424.2,1146.1L1424.2,1193.9L1422,1193.9M1422.6,1157.1L1422.6,1162.3M1422.6,1188.1L1422.6,1192.3L1421.7,1192.3M1451.5,1146.1L1438.8,1146.1L1438.8,1193.9L1461.9,1193.9M1440.4,1151.9L1440.4,1192.3L1441.3,1192.3M1468.9,1146.1L1486.8,1146.1L1486.8,1149.1M1486.8,1154.3L1486.8,1180.5M1486.8,1185.7L1486.8,1193.9L1468.9,1193.9M1485.2,1162.3L1485.2,1167.4M1485.2,1172.6L1485.2,1177.7M1485.2,1182.9L1485.2,1188.1M1508.8,1146.1L1501.3,1146.1L1501.3,1193.9L1514,1193.9M1503.9,1147.7L1502.9,1147.7L1502.9,1162.3M1502.9,1167.4L1502.9,1172.6M1536.6,1146.1L1549.3,1146.1L1549.3,1193.9L1536.6,1193.9M1546.8,1147.7L1547.7,1147.7L1547.7,1177.7M1546.8,1192.3L1541.7,1192.3M1576.6,1146.1L1571.4,1146.1M1566.1,1146.1L1563.9,1146.1L1563.9,1185.7M1565.5,1162.3L1565.5,1188.1M1611.9,1149.1L1611.9,1193.9L1594,1193.9M1644.4,1146.1L1626.5,1146.1L1626.5,1164.8M1626.5,1170L1626.5,1193.9L1633.9,1193.9M1628.1,1172.6L1628.1,1182.9M1628.1,1188.1L1628.1,1192.3L1629,1192.3M1656.5,1146.1L1661.8,1146.1M1667,1146.1L1674.5,1146.1L1674.5,1190.9M1672.9,1157.1L1672.9,1162.3M1672.9,1188.1L1672.9,1192.3L1671.9,1192.3M1712.2,1146.1L1706.9,1146.1M1701.7,1146.1L1696.5,1146.1M1689,1159.5L1689,1190.9M1691.3,1193.9L1701.7,1193.9M1690.6,1167.4L1690.6,1188.1M1737,1149.1L1737,1193.9L1734.8,1193.9M1724.3,1193.9L1713.9,1193.9M1735.4,1177.7L1735.4,1188.1M1734.5,1192.3L1729.3,1192.3M1751.6,1149.1L1751.6,1193.9L1764.3,1193.9M1759.3,1147.7L1754.1,1147.7M1753.2,1157.1L1753.2,1162.3M1753.2,1167.4L1753.2,1172.6M1799.6,1149.1L1799.6,1185.7M1799.6,1190.9L1799.6,1193.9L1792.1,1193.9M1797.1,1147.7L1798,1147.7L1798,1151.9M1797.1,1192.3L1786.7,1192.3" stroke="#0000FF" stroke-width="1.75"/>
<path d="M1251.1,675.2L1251.1,680.4M1253.3,699.1L1263.8,699.1M1269,699.1L1274.2,699.1M1269.1,652.9L1263.9,652.9M1253.6,652.9L1252.7,652.9L1252.7,657.1M1252.7,667.5L1252.7,672.6M1252.7,682.9L1252.7,688.1M1252.7,693.3L1252.7,697.5L1258.8,697.5M1263.9,697.5L1269.1,697.5M1281.2,651.3L1296.9,651.3M1291.6,699.1L1281.2,699.1M1297.5,677.8L1297.5,688.1M1281.1,697.5L1276,697.5M1336.8,651.3L1321.1,651.3M1326.4,699.1L1336.8,699.1M1331.7,652.9L1326.5,652.9M1316.2,652.9L1315.3,652.9L1315.3,657.1M1315.3,667.5L1315.3,672.6M1321.3,697.5L1336.8,697.5M1338.5,651.3L1359.4,651.3M1338.5,652.9L1354,652.9M1360.1,662.3L1360.1,667.5M1360.1,682.9L1360.1,688.1M1360.1,693.3L1360.1,697.5L1354,697.5M1399.4,651.3L1394.1,651.3M1383.7,651.3L1376.2,651.3L1376.2,659.5M1376.2,685.7L1376.2,690.9M1378.5,699.1L1388.9,699.1M1377.8,667.5L1377.8,672.6M1377.8,682.9L1377.8,688.1M1378.7,697.5L1389.1,697.5M1406.3,651.3L1416.8,651.3M1424.2,664.7L1424.2,670M1424.2,685.7L1424.2,690.9M1422,699.1L1416.8,699.1M1411.5,699.1L1401.1,699.1M1422.6,657.1L1422.6,662.3M1422.6,677.8L1422.6,682.9M1422.6,688.1L1422.6,693.3M1421.7,697.5L1411.4,697.5M1461.9,651.3L1456.7,651.3M1438.8,664.7L1438.8,670M1446.2,699.1L1451.5,699.1M1456.7,699.1L1461.9,699.1M1451.6,652.9L1446.5,652.9M1441.3,652.9L1440.4,652.9L1440.4,672.6M1440.4,677.8L1440.4,697.5L1446.5,697.5M1463.6,651.3L1479.3,651.3M1484.5,651.3L1486.8,651.3L1486.8,654.3M1486.8,685.7L1486.8,696.1M1479.3,699.1L1468.9,699.1M1473.9,652.9L1484.3,652.9M1485.2,693.3L1485.2,697.5L1484.3,697.5M1479.1,697.5L1473.9,697.5M1508.8,651.3L1503.6,651.3M1519.3,699.1L1524.5,699.1M1502.9,667.5L1502.9,688.1M1502.9,693.3L1502.9,697.5L1503.9,697.5M1526.2,651.3L1531.4,651.3M1541.9,651.3L1549.3,651.3L1549.3,659.5M1536.6,699.1L1531.4,699.1M1547.7,667.5L1547.7,682.9M1536.5,697.5L1531.3,697.5M1581.8,651.3L1576.6,651.3M1563.9,664.7L1563.9,670M1571.4,699.1L1587,699.1M1576.7,652.9L1565.5,652.9L1565.5,672.6M1565.5,682.9L1565.5,693.3M1566.4,697.5L1571.6,697.5M1576.7,697.5L1587,697.5M1588.8,651.3L1599.2,651.3M1609.7,699.1L1599.2,699.1M1588.8,652.9L1599.1,652.9M1610.3,657.1L1610.3,672.6M1610.3,677.8L1610.3,693.3M1599.1,697.5L1593.9,697.5M1626.5,680.4L1626.5,690.9M1626.5,696.1L1626.5,699.1L1633.9,699.1M1644.5,652.9L1634.1,652.9M1628.1,667.5L1628.1,672.6M1628.1,677.8L1628.1,688.1M1628.1,693.3L1628.1,697.5L1629,697.5M1634.1,697.5L1644.5,697.5M1656.5,651.3L1661.8,651.3M1667,651.3L1674.5,651.3L1674.5,654.3M1656.5,652.9L1661.6,652.9M1672.9,657.1L1672.9,662.3M1672.9,667.5L1672.9,677.8M1672.9,682.9L1672.9,697.5L1656.5,697.5M1712.2,651.3L1706.9,651.3M1696.5,699.1L1712.2,699.1M1707,652.9L1691.5,652.9M1707,697.5L1712.2,697.5M1734.8,651.3L1737,651.3L1737,659.5M1724.3,699.1L1713.9,699.1M1734.5,652.9L1735.4,652.9L1735.4,662.3M1735.4,667.5L1735.4,672.6M1735.4,677.8L1735.4,693.3M1734.5,697.5L1729.3,697.5M1724.2,697.5L1713.9,697.5M1774.7,651.3L1753.8,651.3M1759,699.1L1764.3,699.1M1769.5,699.1L1774.7,699.1M1764.4,652.9L1753.2,652.9L1753.2,667.5M1753.2,682.9L1753.2,688.1M1776.4,651.3L1799.6,651.3L1799.6,654.3M1799.6,696.1L1799.6,699.1L1786.9,699.1M1798,662.3L1798,667.5M1798,672.6L1798,682.9M1798,688.1L1798,697.5L1797.1,697.5M1274.2,713.2L1263.8,713.2M1253.3,713.2L1251.1,713.2L1251.1,721.4M1258.6,760.9L1274.2,760.9M1274.2,714.8L1269.1,714.8M1253.6,714.8L1252.7,714.8L1252.7,719M1252.7,724.2L1252.7,739.6M1252.7,744.8L1252.7,749.9M1252.7,755.1L1252.7,759.4L1269.1,759.4M1276,714.8L1291.4,714.8M1296.6,714.8L1297.5,714.8L1297.5,719M1297.5,724.2L1297.5,759.4L1296.6,759.4M1331.6,713.2L1313.7,713.2L1313.7,716.1M1313.7,758L1313.7,760.9L1315.9,760.9M1316.2,714.8L1315.3,714.8L1315.3,729.3M1315.3,744.8L1315.3,759.4L1321.3,759.4M1338.5,713.2L1349,713.2M1361.7,716.1L1361.7,721.4M1360.1,729.3L1360.1,749.9M1360.1,755.1L1360.1,759.4L1359.1,759.4M1348.8,759.4L1343.7,759.4M1394.1,713.2L1388.9,713.2M1378.5,713.2L1376.2,713.2L1376.2,721.4M1376.2,758L1376.2,760.9L1378.5,760.9M1383.7,760.9L1399.4,760.9M1383.9,714.8L1378.7,714.8M1377.8,724.2L1377.8,729.3M1377.8,734.5L1377.8,744.8M1377.8,749.9L1377.8,759.4L1378.7,759.4M1383.9,759.4L1399.4,759.4M1406.3,713.2L1416.8,713.2M1422,760.9L1411.5,760.9M1411.4,714.8L1422.6,714.8L1422.6,719M1422.6,724.2L1422.6,755.1M1456.7,713.2L1446.2,713.2M1441,713.2L1438.8,713.2L1438.8,726.6M1438.8,752.7L1438.8,760.9L1441,760.9M1451.5,760.9L1456.7,760.9M1446.5,714.8L1440.4,714.8L1440.4,729.3M1440.4,739.6L1440.4,759.4L1441.3,759.4M1446.5,759.4L1451.6,759.4M1474.1,713.2L1479.3,713.2M1486.8,716.1L1486.8,721.4M1486.8,752.7L1486.8,760.9L1474.1,760.9M1468.9,760.9L1463.6,760.9M1485.2,734.5L1485.2,744.8M1501.3,747.5L1501.3,752.7M1503.6,760.9L1508.8,760.9M1502.9,729.3L1502.9,755.1M1547.1,713.2L1549.3,713.2L1549.3,726.6M1549.3,742.3L1549.3,758M1547.7,719L1547.7,724.2M1547.7,729.3L1547.7,734.5M1547.7,744.8L1547.7,749.9M1566.1,713.2L1563.9,713.2L1563.9,721.4M1563.9,726.6L1563.9,731.8M1563.9,752.7L1563.9,760.9L1566.1,760.9M1566.4,714.8L1565.5,714.8L1565.5,724.2M1565.5,739.6L1565.5,744.8M1611.9,747.5L1611.9,752.7M1609.7,760.9L1599.2,760.9M1609.4,714.8L1610.3,714.8L1610.3,719M1610.3,724.2L1610.3,739.6M1610.3,744.8L1610.3,749.9M1610.3,755.1L1610.3,759.4L1609.4,759.4M1633.9,713.2L1626.5,713.2L1626.5,721.4M1626.5,747.5L1626.5,752.7M1628.1,719L1628.1,724.2M1628.1,739.6L1628.1,744.8M1628.1,749.9L1628.1,755.1M1672.2,713.2L1674.5,713.2L1674.5,716.1M1674.5,747.5L1674.5,758M1672.9,719L1672.9,724.2M1672.9,734.5L1672.9,739.6M1701.7,713.2L1696.5,713.2M1691.3,713.2L1689,713.2L1689,716.1M1689,758L1689,760.9L1691.3,760.9M1696.5,760.9L1701.7,760.9M1690.6,719L1690.6,724.2M1690.6,734.5L1690.6,739.6M1690.6,744.8L1690.6,749.9M1729.6,713.2L1737,713.2L1737,716.1M1737,721.4L1737,726.6M1737,758L1737,760.9L1734.8,760.9M1729.3,714.8L1735.4,714.8L1735.4,719M1735.4,729.3L1735.4,759.4L1734.5,759.4M1764.3,713.2L1753.8,713.2M1759.3,714.8L1754.1,714.8M1753.2,729.3L1753.2,734.5M1753.2,739.6L1753.2,755.1M1769.6,759.4L1774.7,759.4M1781.7,713.2L1786.9,713.2M1799.6,721.4L1799.6,726.6M1799.6,742.3L1799.6,747.5M1799.6,752.7L1799.6,758M1792.1,760.9L1786.9,760.9M1798,719L1798,724.2M1798,744.8L1798,759.4L1797.1,759.4M1251.1,814.6L1251.1,819.8M1252.7,786L1252.7,791.2M1252.7,801.5L1252.7,806.6M1299.1,788.4L1299.1,793.7M1315.9,775L1313.7,775L1313.7,778M1315.9,822.8L1321.1,822.8M1315.3,780.8L1315.3,786M1315.3,801.5L1315.3,811.8M1349,775L1361.7,775L1361.7,783.2M1361.7,788.4L1361.7,798.9M1361.7,819.8L1361.7,822.8L1359.4,822.8M1354.2,822.8L1349,822.8M1360.1,796.3L1360.1,801.5M1360.1,806.6L1360.1,811.8M1378.5,775L1376.2,775L1376.2,793.7M1376.2,814.6L1376.2,819.8M1383.7,822.8L1388.9,822.8M1389.1,776.6L1383.9,776.6M1378.7,776.6L1377.8,776.6L1377.8,786M1377.8,796.3L1377.8,821.2L1378.7,821.2M1416.8,775L1424.2,775L1424.2,788.4M1424.2,809.4L1424.2,814.6M1416.5,776.6L1421.7,776.6M1422.6,780.8L1422.6,786M1422.6,791.2L1422.6,801.5M1422.6,811.8L1422.6,821.2L1421.7,821.2M1461.9,775L1451.5,775M1440.4,780.8L1440.4,786M1440.4,791.2L1440.4,806.6M1440.4,817L1440.4,821.2L1441.3,821.2M1468.9,775L1484.5,775M1484.5,822.8L1479.3,822.8M1474.1,822.8L1463.6,822.8M1485.2,786L1485.2,796.3M1485.2,806.6L1485.2,821.2L1479.1,821.2M1503.6,775L1501.3,775L1501.3,783.2M1501.3,798.9L1501.3,804.1M1501.3,809.4L1501.3,819.8M1502.9,780.8L1502.9,791.2M1502.9,796.3L1502.9,806.6M1502.9,811.8L1502.9,821.2L1503.9,821.2M1541.9,775L1549.3,775L1549.3,778M1549.3,809.4L1549.3,822.8L1541.9,822.8M1547.7,791.2L1547.7,801.5M1546.8,821.2L1541.7,821.2M1563.9,788.4L1563.9,798.9M1565.5,796.3L1565.5,801.5M1565.5,811.8L1565.5,817M1611.9,778L1611.9,783.2M1611.9,798.9L1611.9,804.1M1611.9,814.6L1611.9,819.8M1610.3,780.8L1610.3,786M1610.3,806.6L1610.3,811.8M1626.5,783.2L1626.5,788.4M1626.5,804.1L1626.5,822.8L1639.2,822.8M1628.1,786L1628.1,791.2M1628.1,811.8L1628.1,817M1674.5,778L1674.5,783.2M1674.5,804.1L1674.5,814.6M1672.9,786L1672.9,791.2M1672.9,796.3L1672.9,801.5M1672.9,811.8L1672.9,817M1689,804.1L1689,809.4M1689,814.6L1689,822.8L1696.5,822.8M1691.5,776.6L1690.6,776.6L1690.6,786M1690.6,801.5L1690.6,806.6M1690.6,811.8L1690.6,817M1724.3,775L1734.8,775M1737,783.2L1737,788.4M1737,793.7L1737,798.9M1734.8,822.8L1724.3,822.8M1735.4,786L1735.4,796.3M1735.4,806.6L1735.4,817M1764.3,775L1753.8,775M1751.6,778L1751.6,783.2M1751.6,819.8L1751.6,822.8L1753.8,822.8M1759.3,776.6L1753.2,776.6L1753.2,791.2M1753.2,806.6L1753.2,821.2L1759.3,821.2M1781.7,775L1786.9,775M1792.1,775L1799.6,775L1799.6,783.2M1799.6,804.1L1799.6,819.8M1797.3,822.8L1786.9,822.8M1798,780.8L1798,811.8M1251.1,845.1L1251.1,850.3M1251.1,871.2L1251.1,881.7M1252.7,847.9L1252.7,863.3M1299.1,845.1L1299.1,850.3M1299.1,860.8L1299.1,881.7M1297.5,853L1297.5,863.3M1313.7,839.8L1313.7,845.1M1313.7,850.3L1313.7,855.5M1313.7,866L1313.7,876.4M1315.3,847.9L1315.3,853M1315.3,868.5L1315.3,873.6M1360.1,847.9L1360.1,853M1360.1,858.2L1360.1,863.3M1377.8,853L1377.8,858.2M1377.8,863.3L1377.8,868.5M1424.2,871.2L1424.2,876.4M1422.6,858.2L1422.6,868.5M1438.8,839.8L1438.8,845.1M1438.8,850.3L1438.8,855.5M1438.8,871.2L1438.8,876.4M1440.4,853L1440.4,863.3M1484.5,836.9L1486.8,836.9L1486.8,845.1M1486.8,855.5L1486.8,866M1485.2,858.2L1485.2,868.5M1501.3,839.8L1501.3,850.3M1501.3,855.5L1501.3,860.8M1501.3,871.2L1501.3,881.7M1502.9,847.9L1502.9,858.2M1502.9,863.3L1502.9,873.6M1549.3,845.1L1549.3,850.3M1547.7,853L1547.7,873.6M1563.9,845.1L1563.9,855.5M1563.9,860.8L1563.9,871.2M1565.5,863.3L1565.5,868.5M1611.9,866L1611.9,871.2M1610.3,853L1610.3,858.2M1610.3,863.3L1610.3,868.5M1626.5,845.1L1626.5,850.3M1626.5,855.5L1626.5,860.8M1626.5,866L1626.5,876.4M1628.1,858.2L1628.1,868.5M1674.5,845.1L1674.5,850.3M1672.9,853L1672.9,858.2M1689,850.3L1689,860.8M1690.6,853L1690.6,863.3M1737,839.8L1737,850.3M1737,866L1737,871.2M1735.4,847.9L1735.4,853M1735.4,858.2L1735.4,868.5M1753.8,836.9L1751.6,836.9L1751.6,839.8M1751.6,866L1751.6,876.4M1759.3,838.5L1754.1,838.5M1753.2,853L1753.2,858.2M1753.2,863.3L1753.2,878.8M1799.6,845.1L1799.6,855.5M1799.6,866L1799.6,871.2M1798,847.9L1798,853M1798,863.3L1798,868.5M1251.1,906.9L1251.1,912.1M1251.1,927.8L1251.1,933.1M1252.7,914.9L1252.7,920M1299.1,906.9L1299.1,912.1M1299.1,933.1L1299.1,938.3M1297.5,909.7L1297.5,914.9M1313.7,901.7L1313.7,906.9M1313.7,927.8L1313.7,938.3M1315.3,909.7L1315.3,930.3M1361.7,927.8L1361.7,933.1M1360.1,914.9L1360.1,930.3M1376.2,912.1L1376.2,917.4M1376.2,933.1L1376.2,938.3M1377.8,909.7L1377.8,914.9M1377.8,930.3L1377.8,935.5M1424.2,906.9L1424.2,912.1M1422.6,920L1422.6,930.3M1438.8,901.7L1438.8,906.9M1438.8,927.8L1438.8,938.3M1440.4,909.7L1440.4,925.2M1484.5,898.7L1486.8,898.7L1486.8,912.1M1486.8,938.3L1486.8,943.5M1485.2,920L1485.2,925.2M1503.6,898.7L1501.3,898.7L1501.3,906.9M1501.3,927.8L1501.3,938.3M1502.9,914.9L1502.9,925.2M1549.3,901.7L1549.3,917.4M1549.3,927.8L1549.3,933.1M1549.3,938.3L1549.3,943.5M1547.7,904.5L1547.7,914.9M1547.7,920L1547.7,930.3M1565.5,914.9L1565.5,920M1565.5,925.2L1565.5,930.3M1611.9,906.9L1611.9,912.1M1611.9,933.1L1611.9,938.3M1610.3,909.7L1610.3,914.9M1626.5,912.1L1626.5,917.4M1626.5,927.8L1626.5,933.1M1628.1,920L1628.1,925.2M1672.9,914.9L1672.9,920M1689,912.1L1689,917.4M1690.6,920L1690.6,930.3M1737,912.1L1737,917.4M1737,927.8L1737,933.1M1735.4,920L1735.4,930.3M1735.4,935.5L1735.4,940.7M1751.6,901.7L1751.6,906.9M1751.6,927.8L1751.6,933.1M1753.2,909.7L1753.2,930.3M1799.6,901.7L1799.6,912.1M1799.6,917.4L1799.6,927.8M1799.6,933.1L1799.6,938.3M1798,909.7L1798,914.9M1798,925.2L1798,930.3M1251.1,989.7L1251.1,1000.1M1252.7,971.6L1252.7,987M1299.1,968.8L1299.1,974M1299.1,989.7L1299.1,1000.1M1297.5,981.9L1297.5,997.3M1313.7,989.7L1313.7,1000.1M1315.3,976.7L1315.3,992.2M1361.7,974L1361.7,979.2M1361.7,984.5L1361.7,994.9M1360.1,981.9L1360.1,992.2M1376.2,968.8L1376.2,979.2M1376.2,989.7L1376.2,994.9M1377.8,976.7L1377.8,981.9M1377.8,987L1377.8,992.2M1424.2,974L1424.2,979.2M1424.2,989.7L1424.2,994.9M1422.6,976.7L1422.6,981.9M1422.6,987L1422.6,992.2M1441,960.6L1438.8,960.6L1438.8,974M1438.8,989.7L1438.8,1008.3L1446.2,1008.3M1441.3,962.1L1440.4,962.1L1440.4,966.4M1440.4,971.6L1440.4,976.7M1440.4,981.9L1440.4,992.2M1484.5,960.6L1486.8,960.6L1486.8,968.8M1479.3,1008.3L1474.1,1008.3M1485.2,971.6L1485.2,976.7M1485.2,987L1485.2,992.2M1501.3,974L1501.3,979.2M1501.3,984.5L1501.3,989.7M1501.3,994.9L1501.3,1005.4M1502.9,971.6L1502.9,976.7M1502.9,997.3L1502.9,1002.5M1549.3,963.5L1549.3,968.8M1549.3,1000.1L1549.3,1008.3L1541.9,1008.3M1547.7,981.9L1547.7,992.2M1563.9,963.5L1563.9,979.2M1565.5,971.6L1565.5,981.9M1565.5,987L1565.5,992.2M1611.9,994.9L1611.9,1005.4M1610.3,987L1610.3,992.2M1626.5,974L1626.5,979.2M1626.5,984.5L1626.5,1000.1M1628.1,966.4L1628.1,976.7M1628.1,981.9L1628.1,987M1674.5,968.8L1674.5,974M1674.5,994.9L1674.5,1000.1M1672.9,971.6L1672.9,976.7M1672.9,981.9L1672.9,992.2M1691.3,960.6L1689,960.6L1689,963.5M1690.6,976.7L1690.6,987M1737,968.8L1737,974M1737,994.9L1737,1000.1M1735.4,987L1735.4,1002.5M1759,960.6L1751.6,960.6L1751.6,963.5M1751.6,1000.1L1751.6,1005.4M1753.2,966.4L1753.2,971.6M1753.2,992.2L1753.2,1006.8L1754.1,1006.8M1799.6,963.5L1799.6,984.5M1799.6,1000.1L1799.6,1005.4M1797.3,1008.3L1792.1,1008.3M1798,966.4L1798,997.3M1798,1002.5L1798,1006.8L1791.9,1006.8M1251.1,1035.8L1251.1,1041.1M1251.1,1051.5L1251.1,1062M1252.7,1043.7L1252.7,1048.9M1299.1,1030.6L1299.1,1035.8M1299.1,1046.3L1299.1,1056.8M1297.5,1043.7L1297.5,1054M1313.7,1046.3L1313.7,1051.5M1315.3,1038.6L1315.3,1043.7M1315.3,1048.9L1315.3,1054M1361.7,1025.4L1361.7,1035.8M1360.1,1043.7L1360.1,1048.9M1376.2,1025.4L1376.2,1030.6M1376.2,1056.8L1376.2,1062M1377.8,1038.6L1377.8,1054M1424.2,1025.4L1424.2,1030.6M1424.2,1051.5L1424.2,1056.8M1422.6,1028.2L1422.6,1059.2M1438.8,1030.6L1438.8,1041.1M1438.8,1062L1438.8,1067.2M1440.4,1043.7L1440.4,1054M1486.8,1035.8L1486.8,1056.8M1485.2,1038.6L1485.2,1048.9M1508.8,1022.4L1501.3,1022.4L1501.3,1025.4M1501.3,1056.8L1501.3,1070.2L1503.6,1070.2M1508.8,1070.2L1514,1070.2M1502.9,1028.2L1502.9,1033.4M1502.9,1038.6L1502.9,1064.4M1549.3,1062L1549.3,1070.2L1531.4,1070.2M1547.7,1033.4L1547.7,1038.6M1547.7,1043.7L1547.7,1048.9M1547.7,1054L1547.7,1059.2M1563.9,1030.6L1563.9,1035.8M1563.9,1051.5L1563.9,1062M1565.5,1028.2L1565.5,1033.4M1565.5,1043.7L1565.5,1054M1609.7,1022.4L1611.9,1022.4L1611.9,1030.6M1611.9,1056.8L1611.9,1070.2L1604.4,1070.2M1610.3,1043.7L1610.3,1059.2M1626.5,1051.5L1626.5,1056.8M1628.1,1048.9L1628.1,1054M1674.5,1025.4L1674.5,1035.8M1674.5,1062L1674.5,1067.2M1672.9,1033.4L1672.9,1048.9M1701.7,1022.4L1696.5,1022.4M1689,1035.8L1689,1062M1689,1067.2L1689,1070.2L1691.3,1070.2M1706.9,1070.2L1712.2,1070.2M1690.6,1033.4L1690.6,1048.9M1724.3,1022.4L1729.6,1022.4M1737,1056.8L1737,1067.2M1734.5,1024L1735.4,1024L1735.4,1048.9M1735.4,1054L1735.4,1068.6L1734.5,1068.6M1751.6,1025.4L1751.6,1056.8M1753.2,1038.6L1753.2,1048.9M1753.2,1054L1753.2,1059.2M1797.3,1022.4L1799.6,1022.4L1799.6,1030.6M1799.6,1035.8L1799.6,1041.1M1799.6,1046.3L1799.6,1062M1797.1,1024L1798,1024L1798,1033.4M1798,1048.9L1798,1064.4M1251.1,1097.7L1251.1,1102.9M1253.3,1132L1258.6,1132M1252.7,1100.4L1252.7,1105.6M1252.7,1110.7L1252.7,1115.9M1296.9,1084.2L1299.1,1084.2L1299.1,1087.2M1299.1,1092.5L1299.1,1097.7M1297.5,1100.4L1297.5,1121M1336.8,1084.2L1326.4,1084.2M1321.1,1084.2L1313.7,1084.2L1313.7,1087.2M1313.7,1123.8L1313.7,1132L1315.9,1132M1316.2,1085.8L1315.3,1085.8L1315.3,1110.7M1331.7,1130.4L1336.8,1130.4M1349,1084.2L1354.2,1084.2M1361.7,1087.2L1361.7,1097.7M1361.7,1118.6L1361.7,1123.8M1361.7,1129.1L1361.7,1132L1354.2,1132M1360.1,1110.7L1360.1,1130.4L1359.1,1130.4M1354,1130.4L1343.7,1130.4M1383.7,1084.2L1376.2,1084.2L1376.2,1092.5M1376.2,1129.1L1376.2,1132L1383.7,1132M1377.8,1090.1L1377.8,1095.3M1406.3,1084.2L1411.5,1084.2M1416.8,1084.2L1422,1084.2M1424.2,1097.7L1424.2,1102.9M1424.2,1108.1L1424.2,1113.4M1424.2,1118.6L1424.2,1123.8M1422,1132L1411.5,1132M1416.5,1085.8L1422.6,1085.8L1422.6,1090.1M1422.6,1121L1422.6,1130.4L1421.7,1130.4M1456.7,1084.2L1451.5,1084.2M1446.2,1084.2L1438.8,1084.2L1438.8,1097.7M1438.8,1102.9L1438.8,1113.4M1456.7,1132L1461.9,1132M1456.8,1085.8L1446.5,1085.8M1440.4,1090.1L1440.4,1110.7M1440.4,1121L1440.4,1126.2M1446.5,1130.4L1461.9,1130.4M1463.6,1084.2L1468.9,1084.2M1474.1,1084.2L1479.3,1084.2M1484.5,1132L1463.6,1132M1463.6,1085.8L1468.8,1085.8M1473.9,1085.8L1485.2,1085.8L1485.2,1095.3M1485.2,1105.6L1485.2,1110.7M1485.2,1115.9L1485.2,1130.4L1473.9,1130.4M1519.3,1084.2L1514,1084.2M1501.3,1102.9L1501.3,1118.6M1501.3,1123.8L1501.3,1132L1508.8,1132M1514,1132L1524.5,1132M1524.5,1085.8L1514.2,1085.8M1502.9,1095.3L1502.9,1105.6M1502.9,1110.7L1502.9,1115.9M1502.9,1121L1502.9,1130.4L1514.2,1130.4M1526.2,1084.2L1531.4,1084.2M1549.3,1129.1L1549.3,1132L1526.2,1132M1541.7,1085.8L1547.7,1085.8L1547.7,1090.1M1547.7,1095.3L1547.7,1100.4M1547.7,1105.6L1547.7,1110.7M1531.3,1130.4L1526.2,1130.4M1571.4,1084.2L1563.9,1084.2L1563.9,1087.2M1563.9,1118.6L1563.9,1132L1566.1,1132M1571.6,1085.8L1566.4,1085.8M1565.5,1095.3L1565.5,1110.7M1565.5,1115.9L1565.5,1126.2M1609.7,1132L1594,1132M1604.2,1085.8L1610.3,1085.8L1610.3,1110.7M1610.3,1121L1610.3,1126.2M1609.4,1130.4L1604.2,1130.4M1644.5,1085.8L1634.1,1085.8M1629,1085.8L1628.1,1085.8L1628.1,1130.4L1639.3,1130.4M1651.3,1084.2L1661.8,1084.2M1656.5,1132L1651.3,1132M1661.6,1085.8L1671.9,1085.8M1672.9,1090.1L1672.9,1100.4M1672.9,1126.2L1672.9,1130.4L1666.8,1130.4M1712.2,1084.2L1689,1084.2L1689,1092.5M1689,1118.6L1689,1129.1M1701.7,1132L1712.2,1132M1707,1085.8L1696.7,1085.8M1690.6,1121L1690.6,1126.2M1691.5,1130.4L1696.7,1130.4M1707,1130.4L1712.2,1130.4M1713.9,1084.2L1737,1084.2L1737,1087.2M1737,1102.9L1737,1113.4M1737,1118.6L1737,1123.8M1719.1,1132L1713.9,1132M1724.2,1085.8L1735.4,1085.8L1735.4,1090.1M1735.4,1126.2L1735.4,1130.4L1729.3,1130.4M1759,1084.2L1751.6,1084.2L1751.6,1087.2M1751.6,1092.5L1751.6,1102.9M1751.6,1108.1L1751.6,1132L1753.8,1132M1753.2,1105.6L1753.2,1115.9M1798,1095.3L1798,1105.6M1798,1110.7L1798,1126.2M1269,1146.1L1251.1,1146.1L1251.1,1154.3M1251.1,1175.2L1251.1,1180.5M1258.6,1193.9L1274.2,1193.9M1269.1,1147.7L1263.9,1147.7M1252.7,1157.1L1252.7,1162.3M1252.7,1182.9L1252.7,1188.1M1269.1,1192.3L1274.2,1192.3M1276,1146.1L1286.4,1146.1M1291.6,1193.9L1276,1193.9M1296.6,1147.7L1297.5,1147.7L1297.5,1177.7M1331.6,1146.1L1326.4,1146.1M1313.7,1180.5L1313.7,1193.9L1315.9,1193.9M1321.1,1193.9L1336.8,1193.9M1331.7,1147.7L1316.2,1147.7M1315.3,1162.3L1315.3,1172.6M1315.3,1182.9L1315.3,1192.3L1326.5,1192.3M1338.5,1146.1L1349,1146.1M1359.4,1146.1L1361.7,1146.1L1361.7,1149.1M1361.7,1190.9L1361.7,1193.9L1354.2,1193.9M1354,1147.7L1359.1,1147.7M1360.1,1151.9L1360.1,1162.3M1360.1,1167.4L1360.1,1182.9M1359.1,1192.3L1354,1192.3M1399.4,1146.1L1394.1,1146.1M1388.9,1146.1L1383.7,1146.1M1388.9,1193.9L1399.4,1193.9M1378.7,1147.7L1377.8,1147.7L1377.8,1151.9M1377.8,1172.6L1377.8,1177.7M1377.8,1188.1L1377.8,1192.3L1378.7,1192.3M1401.1,1146.1L1406.3,1146.1M1411.5,1146.1L1422,1146.1M1422,1193.9L1411.5,1193.9M1406.3,1193.9L1401.1,1193.9M1422.6,1151.9L1422.6,1157.1M1422.6,1162.3L1422.6,1188.1M1421.7,1192.3L1406.2,1192.3M1461.9,1146.1L1451.5,1146.1M1456.8,1147.7L1440.4,1147.7L1440.4,1151.9M1446.5,1192.3L1456.8,1192.3M1463.6,1146.1L1468.9,1146.1M1486.8,1149.1L1486.8,1154.3M1486.8,1180.5L1486.8,1185.7M1468.9,1193.9L1463.6,1193.9M1463.6,1147.7L1468.8,1147.7M1479.1,1147.7L1485.2,1147.7L1485.2,1162.3M1485.2,1167.4L1485.2,1172.6M1485.2,1177.7L1485.2,1182.9M1485.2,1188.1L1485.2,1192.3L1479.1,1192.3M1524.5,1146.1L1508.8,1146.1M1519.3,1193.9L1524.5,1193.9M1519.3,1147.7L1503.9,1147.7M1502.9,1162.3L1502.9,1167.4M1502.9,1172.6L1502.9,1192.3L1509,1192.3M1526.2,1146.1L1536.6,1146.1M1536.6,1193.9L1531.4,1193.9M1531.3,1147.7L1541.7,1147.7M1547.7,1177.7L1547.7,1192.3L1546.8,1192.3M1541.7,1192.3L1536.5,1192.3M1587,1146.1L1576.6,1146.1M1571.4,1146.1L1566.1,1146.1M1563.9,1185.7L1563.9,1193.9L1566.1,1193.9M1571.4,1193.9L1581.8,1193.9M1565.5,1151.9L1565.5,1162.3M1565.5,1188.1L1565.5,1192.3L1571.6,1192.3M1588.8,1146.1L1604.4,1146.1M1609.7,1146.1L1611.9,1146.1L1611.9,1149.1M1594,1193.9L1588.8,1193.9M1609.4,1147.7L1610.3,1147.7L1610.3,1151.9M1610.3,1157.1L1610.3,1188.1M1649.6,1146.1L1644.4,1146.1M1626.5,1164.8L1626.5,1170M1633.9,1193.9L1649.6,1193.9M1629,1147.7L1628.1,1147.7L1628.1,1151.9M1628.1,1157.1L1628.1,1172.6M1628.1,1182.9L1628.1,1188.1M1629,1192.3L1634.1,1192.3M1651.3,1146.1L1656.5,1146.1M1661.8,1146.1L1667,1146.1M1674.5,1190.9L1674.5,1193.9L1661.8,1193.9M1656.5,1193.9L1651.3,1193.9M1666.8,1147.7L1672.9,1147.7L1672.9,1151.9M1672.9,1162.3L1672.9,1172.6M1672.9,1177.7L1672.9,1188.1M1671.9,1192.3L1666.8,1192.3M1706.9,1146.1L1701.7,1146.1M1691.3,1146.1L1689,1146.1L1689,1159.5M1689,1190.9L1689,1193.9L1691.3,1193.9M1701.7,1193.9L1712.2,1193.9M1707,1147.7L1701.9,1147.7M1696.7,1147.7L1690.6,1147.7L1690.6,1167.4M1690.6,1188.1L1690.6,1192.3L1707,1192.3M1713.9,1146.1L1719.1,1146.1M1724.3,1146.1L1737,1146.1L1737,1149.1M1734.8,1193.9L1724.3,1193.9M1734.5,1147.7L1735.4,1147.7L1735.4,1167.4M1735.4,1172.6L1735.4,1177.7M1735.4,1188.1L1735.4,1192.3L1734.5,1192.3M1719,1192.3L1713.9,1192.3M1774.7,1146.1L1751.6,1146.1L1751.6,1149.1M1764.3,1193.9L1769.5,1193.9M1764.4,1147.7L1759.3,1147.7M1754.1,1147.7L1753.2,1147.7L1753.2,1157.1M1753.2,1162.3L1753.2,1167.4M1753.2,1172.6L1753.2,1192.3L1759.3,1192.3M1776.4,1146.1L1792.1,1146.1M1797.3,1146.1L1799.6,1146.1L1799.6,1149.1M1799.6,1185.7L1799.6,1190.9M1792.1,1193.9L1776.4,1193.9M1776.4,1147.7L1797.1,1147.7M1798,1157.1L1798,1162.3M1798,1182.9L1798,1192.3L1797.1,1192.3M1786.7,1192.3L1781.6,1192.3" stroke="#0040FF" stroke-width="1.75"/>
<path d="M1263.8,699.1L1269,699.1M1274.2,652.9L1269.1,652.9M1263.9,652.9L1253.6,652.9M1252.7,662.3L1252.7,667.5M1258.8,697.5L1263.9,697.5M1296.9,651.3L1299.1,651.3L1299.1,654.3M1281.2,699.1L1276,699.1M1276,652.9L1286.3,652.9M1296.6,652.9L1297.5,652.9L1297.5,657.1M1297.5,672.6L1297.5,677.8M1297.5,688.1L1297.5,697.5L1281.1,697.5M1336.8,652.9L1331.7,652.9M1326.5,652.9L1316.2,652.9M1315.3,657.1L1315.3,667.5M1354,697.5L1338.5,697.5M1399.4,652.9L1377.8,652.9L1377.8,667.5M1377.8,677.8L1377.8,682.9M1394.2,697.5L1399.4,697.5M1401.1,651.3L1406.3,651.3M1416.8,699.1L1411.5,699.1M1401.1,652.9L1422.6,652.9L1422.6,657.1M1422.6,662.3L1422.6,677.8M1411.4,697.5L1401.1,697.5M1451.5,699.1L1456.7,699.1M1461.9,652.9L1451.6,652.9M1446.5,697.5L1456.8,697.5M1463.6,652.9L1473.9,652.9M1473.9,697.5L1463.6,697.5M1524.5,651.3L1519.3,651.3M1514.2,652.9L1502.9,652.9L1502.9,667.5M1519.3,697.5L1524.5,697.5M1526.2,652.9L1541.7,652.9M1531.3,697.5L1526.2,697.5M1587,651.3L1581.8,651.3M1587,652.9L1576.7,652.9M1565.5,672.6L1565.5,677.8M1571.6,697.5L1576.7,697.5M1599.2,699.1L1594,699.1M1599.1,652.9L1610.3,652.9L1610.3,657.1M1610.3,672.6L1610.3,677.8M1609.4,697.5L1599.1,697.5M1593.9,697.5L1588.8,697.5M1649.6,652.9L1644.5,652.9M1629,697.5L1634.1,697.5M1644.5,697.5L1649.6,697.5M1661.8,651.3L1667,651.3M1651.3,652.9L1656.5,652.9M1661.6,652.9L1672.9,652.9L1672.9,657.1M1672.9,662.3L1672.9,667.5M1656.5,697.5L1651.3,697.5M1712.2,652.9L1707,652.9M1696.7,697.5L1707,697.5M1713.9,652.9L1719,652.9M1764.3,699.1L1769.5,699.1M1774.7,652.9L1764.4,652.9M1753.2,667.5L1753.2,682.9M1753.2,688.1L1753.2,697.5L1769.6,697.5M1786.9,699.1L1776.4,699.1M1776.4,652.9L1781.6,652.9M1786.7,652.9L1798,652.9L1798,657.1M1798,682.9L1798,688.1M1797.1,697.5L1786.7,697.5M1269.1,714.8L1253.6,714.8M1252.7,719L1252.7,724.2M1269.1,759.4L1274.2,759.4M1286.4,760.9L1281.2,760.9M1291.4,714.8L1296.6,714.8M1296.6,759.4L1276,759.4M1336.8,713.2L1331.6,713.2M1315.9,760.9L1336.8,760.9M1326.5,714.8L1316.2,714.8M1349,713.2L1354.2,713.2M1349,760.9L1338.5,760.9M1360.1,719L1360.1,724.2M1354,759.4L1348.8,759.4M1343.7,759.4L1338.5,759.4M1399.4,713.2L1394.1,713.2M1383.7,713.2L1378.5,713.2M1399.4,714.8L1383.9,714.8M1378.7,714.8L1377.8,714.8L1377.8,724.2M1378.7,759.4L1383.9,759.4M1401.1,713.2L1406.3,713.2M1416.8,713.2L1422,713.2M1406.3,760.9L1401.1,760.9M1401.1,714.8L1411.4,714.8M1422.6,755.1L1422.6,759.4L1411.4,759.4M1461.9,713.2L1456.7,713.2M1446.2,760.9L1451.5,760.9M1456.7,760.9L1461.9,760.9M1451.6,714.8L1446.5,714.8M1440.4,729.3L1440.4,739.6M1441.3,759.4L1446.5,759.4M1468.9,713.2L1474.1,713.2M1479.3,713.2L1484.5,713.2M1474.1,760.9L1468.9,760.9M1485.2,719L1485.2,734.5M1485.2,744.8L1485.2,759.4L1479.1,759.4M1514,713.2L1503.6,713.2M1501.3,752.7L1501.3,760.9L1503.6,760.9M1508.8,760.9L1519.3,760.9M1502.9,724.2L1502.9,729.3M1502.9,755.1L1502.9,759.4L1503.9,759.4M1531.4,713.2L1541.9,713.2M1547.1,760.9L1541.9,760.9M1541.7,714.8L1547.7,714.8L1547.7,719M1547.7,724.2L1547.7,729.3M1547.7,755.1L1547.7,759.4L1541.7,759.4M1536.5,759.4L1531.3,759.4M1571.4,713.2L1566.1,713.2M1563.9,721.4L1563.9,726.6M1566.1,760.9L1587,760.9M1571.6,714.8L1566.4,714.8M1565.5,755.1L1565.5,759.4L1571.6,759.4M1604.4,713.2L1609.7,713.2M1599.2,760.9L1588.8,760.9M1610.3,719L1610.3,724.2M1610.3,739.6L1610.3,744.8M1610.3,749.9L1610.3,755.1M1609.4,759.4L1604.2,759.4M1644.4,713.2L1633.9,713.2M1633.9,760.9L1639.2,760.9M1634.1,714.8L1628.1,714.8L1628.1,719M1628.1,744.8L1628.1,749.9M1628.1,755.1L1628.1,759.4L1629,759.4M1667,713.2L1672.2,713.2M1674.5,758L1674.5,760.9L1672.2,760.9M1667,760.9L1661.8,760.9M1666.8,714.8L1672.9,714.8L1672.9,719M1672.9,739.6L1672.9,749.9M1706.9,713.2L1701.7,713.2M1696.5,713.2L1691.3,713.2M1691.3,760.9L1696.5,760.9M1701.7,760.9L1712.2,760.9M1696.7,714.8L1690.6,714.8L1690.6,719M1690.6,724.2L1690.6,729.3M1690.6,739.6L1690.6,744.8M1690.6,749.9L1690.6,759.4L1701.9,759.4M1713.9,713.2L1729.6,713.2M1734.8,760.9L1724.3,760.9M1724.2,714.8L1729.3,714.8M1734.5,759.4L1724.2,759.4M1769.5,713.2L1764.3,713.2M1774.7,714.8L1759.3,714.8M1753.2,719L1753.2,729.3M1753.2,734.5L1753.2,739.6M1753.2,755.1L1753.2,759.4L1769.6,759.4M1776.4,713.2L1781.7,713.2M1786.9,713.2L1792.1,713.2M1786.9,760.9L1776.4,760.9M1786.7,714.8L1791.9,714.8M1797.1,759.4L1776.4,759.4M1251.1,783.2L1251.1,788.4M1252.7,780.8L1252.7,786M1252.7,806.6L1252.7,811.8M1299.1,778L1299.1,783.2M1299.1,814.6L1299.1,819.8M1297.5,780.8L1297.5,786M1297.5,801.5L1297.5,806.6M1321.1,775L1315.9,775M1321.1,822.8L1326.4,822.8M1316.2,776.6L1315.3,776.6L1315.3,780.8M1315.3,811.8L1315.3,821.2L1321.3,821.2M1338.5,775L1349,775M1359.4,822.8L1354.2,822.8M1359.1,776.6L1360.1,776.6L1360.1,796.3M1360.1,801.5L1360.1,806.6M1360.1,811.8L1360.1,817M1388.9,775L1378.5,775M1376.2,819.8L1376.2,822.8L1378.5,822.8M1394.2,776.6L1389.1,776.6M1383.9,776.6L1378.7,776.6M1378.7,821.2L1389.1,821.2M1401.1,775L1416.8,775M1424.2,814.6L1424.2,822.8L1422,822.8M1411.4,776.6L1416.5,776.6M1421.7,776.6L1422.6,776.6L1422.6,780.8M1422.6,786L1422.6,791.2M1421.7,821.2L1411.4,821.2M1456.7,822.8L1461.9,822.8M1456.8,776.6L1440.4,776.6L1440.4,780.8M1440.4,806.6L1440.4,817M1441.3,821.2L1456.8,821.2M1463.6,775L1468.9,775M1479.3,822.8L1474.1,822.8M1463.6,776.6L1484.3,776.6M1508.8,775L1503.6,775M1501.3,804.1L1501.3,809.4M1501.3,819.8L1501.3,822.8L1508.8,822.8M1502.9,806.6L1502.9,811.8M1546.8,776.6L1547.7,776.6L1547.7,780.8M1547.7,786L1547.7,791.2M1547.7,801.5L1547.7,806.6M1571.4,775L1563.9,775L1563.9,788.4M1566.1,822.8L1571.4,822.8M1565.5,780.8L1565.5,786M1565.5,801.5L1565.5,811.8M1565.5,817L1565.5,821.2L1566.4,821.2M1604.4,775L1611.9,775L1611.9,778M1611.9,819.8L1611.9,822.8L1609.7,822.8M1609.4,776.6L1610.3,776.6L1610.3,780.8M1610.3,811.8L1610.3,821.2L1609.4,821.2M1628.7,775L1626.5,775L1626.5,783.2M1629,776.6L1628.1,776.6L1628.1,786M1671.9,776.6L1672.9,776.6L1672.9,780.8M1672.9,791.2L1672.9,796.3M1672.9,817L1672.9,821.2L1671.9,821.2M1712.2,775L1696.5,775M1696.5,822.8L1712.2,822.8M1701.9,776.6L1691.5,776.6M1690.6,817L1690.6,821.2L1696.7,821.2M1737,819.8L1737,822.8L1734.8,822.8M1724.3,822.8L1713.9,822.8M1724.2,776.6L1729.3,776.6M1734.5,776.6L1735.4,776.6L1735.4,786M1735.4,796.3L1735.4,806.6M1734.5,821.2L1729.3,821.2M1753.8,775L1751.6,775L1751.6,778M1753.8,822.8L1759,822.8M1764.4,776.6L1759.3,776.6M1776.4,775L1781.7,775M1786.9,775L1792.1,775M1799.6,819.8L1799.6,822.8L1797.3,822.8M1781.6,776.6L1791.9,776.6M1797.1,776.6L1798,776.6L1798,780.8M1798,811.8L1798,817M1252.7,842.7L1252.7,847.9M1252.7,863.3L1252.7,868.5M1299.1,839.8L1299.1,845.1M1299.1,881.7L1299.1,884.6L1296.9,884.6M1297.5,847.9L1297.5,853M1297.5,863.3L1297.5,868.5M1313.7,845.1L1313.7,850.3M1313.7,876.4L1313.7,881.7M1315.3,842.7L1315.3,847.9M1315.3,873.6L1315.3,878.8M1361.7,839.8L1361.7,845.1M1361.7,881.7L1361.7,884.6L1354.2,884.6M1360.1,842.7L1360.1,847.9M1360.1,878.8L1360.1,883.1L1359.1,883.1M1376.2,845.1L1376.2,855.5M1376.2,871.2L1376.2,876.4M1377.8,847.9L1377.8,853M1424.2,845.1L1424.2,855.5M1422.6,853L1422.6,858.2M1422.6,868.5L1422.6,873.6M1441,836.9L1438.8,836.9L1438.8,839.8M1438.8,881.7L1438.8,884.6L1441,884.6M1440.4,847.9L1440.4,853M1440.4,863.3L1440.4,883.1L1441.3,883.1M1479.3,836.9L1484.5,836.9M1486.8,871.2L1486.8,876.4M1485.2,847.9L1485.2,853M1485.2,868.5L1485.2,883.1L1484.3,883.1M1508.8,836.9L1501.3,836.9L1501.3,839.8M1501.3,860.8L1501.3,866M1501.3,881.7L1501.3,884.6L1508.8,884.6M1502.9,873.6L1502.9,878.8M1547.1,836.9L1549.3,836.9L1549.3,839.8M1549.3,871.2L1549.3,881.7M1547.7,842.7L1547.7,853M1547.7,873.6L1547.7,878.8M1563.9,871.2L1563.9,876.4M1565.5,847.9L1565.5,858.2M1565.5,868.5L1565.5,873.6M1611.9,839.8L1611.9,855.5M1611.9,871.2L1611.9,876.4M1610.3,847.9L1610.3,853M1626.5,850.3L1626.5,855.5M1628.1,842.7L1628.1,858.2M1628.1,873.6L1628.1,878.8M1674.5,839.8L1674.5,845.1M1674.5,876.4L1674.5,881.7M1672.9,868.5L1672.9,873.6M1689,845.1L1689,850.3M1689,860.8L1689,876.4M1690.6,847.9L1690.6,853M1690.6,873.6L1690.6,878.8M1734.8,836.9L1737,836.9L1737,839.8M1737,871.2L1737,876.4M1735.4,842.7L1735.4,847.9M1735.4,853L1735.4,858.2M1751.6,876.4L1751.6,881.7M1754.1,838.5L1753.2,838.5L1753.2,853M1799.6,839.8L1799.6,845.1M1799.6,871.2L1799.6,876.4M1798,842.7L1798,847.9M1798,868.5L1798,873.6M1251.1,901.7L1251.1,906.9M1251.1,938.3L1251.1,943.5M1252.7,904.5L1252.7,914.9M1252.7,930.3L1252.7,935.5M1297.5,904.5L1297.5,909.7M1297.5,914.9L1297.5,930.3M1315.3,930.3L1315.3,935.5M1361.7,933.1L1361.7,938.3M1360.1,909.7L1360.1,914.9M1360.1,930.3L1360.1,935.5M1376.2,901.7L1376.2,912.1M1376.2,938.3L1376.2,943.5M1424.2,901.7L1424.2,906.9M1424.2,933.1L1424.2,943.5M1422.6,930.3L1422.6,935.5M1446.2,898.7L1438.8,898.7L1438.8,901.7M1438.8,938.3L1438.8,943.5M1440.4,904.5L1440.4,909.7M1440.4,925.2L1440.4,940.7M1486.8,943.5L1486.8,946.5L1479.3,946.5M1485.2,909.7L1485.2,920M1485.2,925.2L1485.2,940.7M1508.8,898.7L1503.6,898.7M1501.3,938.3L1501.3,946.5L1514,946.5M1502.9,909.7L1502.9,914.9M1502.9,925.2L1502.9,930.3M1549.3,943.5L1549.3,946.5L1547.1,946.5M1563.9,901.7L1563.9,906.9M1563.9,933.1L1563.9,943.5M1565.5,909.7L1565.5,914.9M1565.5,930.3L1565.5,935.5M1611.9,901.7L1611.9,906.9M1610.3,904.5L1610.3,909.7M1610.3,925.2L1610.3,935.5M1626.5,933.1L1626.5,938.3M1628.1,914.9L1628.1,920M1628.1,925.2L1628.1,930.3M1674.5,912.1L1674.5,917.4M1674.5,927.8L1674.5,938.3M1672.9,909.7L1672.9,914.9M1672.9,925.2L1672.9,935.5M1689,906.9L1689,912.1M1689,933.1L1689,938.3M1690.6,909.7L1690.6,920M1690.6,930.3L1690.6,935.5M1737,901.7L1737,912.1M1735.4,909.7L1735.4,920M1753.8,898.7L1751.6,898.7L1751.6,901.7M1751.6,933.1L1751.6,938.3M1753.2,904.5L1753.2,909.7M1799.6,938.3L1799.6,946.5L1786.9,946.5M1798,904.5L1798,909.7M1798,914.9L1798,925.2M1251.1,968.8L1251.1,974M1251.1,1000.1L1251.1,1005.4M1252.7,987L1252.7,992.2M1299.1,963.5L1299.1,968.8M1297.5,971.6L1297.5,981.9M1313.7,968.8L1313.7,974M1361.7,968.8L1361.7,974M1361.7,994.9L1361.7,1000.1M1360.1,976.7L1360.1,981.9M1376.2,963.5L1376.2,968.8M1376.2,994.9L1376.2,1000.1M1377.8,966.4L1377.8,976.7M1424.2,963.5L1424.2,968.8M1424.2,994.9L1424.2,1005.4M1422.6,966.4L1422.6,976.7M1422.6,992.2L1422.6,997.3M1446.2,960.6L1441,960.6M1440.4,976.7L1440.4,981.9M1440.4,992.2L1440.4,997.3M1479.3,960.6L1484.5,960.6M1485.2,966.4L1485.2,971.6M1485.2,997.3L1485.2,1006.8L1484.3,1006.8M1503.6,960.6L1501.3,960.6L1501.3,974M1501.3,989.7L1501.3,994.9M1503.6,1008.3L1514,1008.3M1502.9,976.7L1502.9,997.3M1541.9,960.6L1549.3,960.6L1549.3,963.5M1547.7,966.4L1547.7,981.9M1547.7,992.2L1547.7,1002.5M1566.1,960.6L1563.9,960.6L1563.9,963.5M1563.9,1000.1L1563.9,1005.4M1566.4,962.1L1565.5,962.1L1565.5,971.6M1565.5,992.2L1565.5,997.3M1611.9,963.5L1611.9,968.8M1610.3,971.6L1610.3,987M1610.3,992.2L1610.3,1002.5M1626.5,963.5L1626.5,974M1628.1,987L1628.1,997.3M1674.5,1000.1L1674.5,1005.4M1672.9,976.7L1672.9,981.9M1672.9,992.2L1672.9,997.3M1689,994.9L1689,1000.1M1690.6,966.4L1690.6,976.7M1690.6,992.2L1690.6,997.3M1737,963.5L1737,968.8M1764.3,960.6L1759,960.6M1751.6,1005.4L1751.6,1008.3L1759,1008.3M1759.3,962.1L1753.2,962.1L1753.2,966.4M1754.1,1006.8L1759.3,1006.8M1781.7,960.6L1792.1,960.6M1797.3,960.6L1799.6,960.6L1799.6,963.5M1792.1,1008.3L1786.9,1008.3M1797.1,962.1L1798,962.1L1798,966.4M1798,997.3L1798,1002.5M1251.1,1030.6L1251.1,1035.8M1252.7,1028.2L1252.7,1033.4M1252.7,1048.9L1252.7,1059.2M1299.1,1056.8L1299.1,1062M1297.5,1033.4L1297.5,1038.6M1313.7,1025.4L1313.7,1035.8M1313.7,1051.5L1313.7,1067.2M1315.3,1033.4L1315.3,1038.6M1315.3,1054L1315.3,1064.4M1359.4,1022.4L1361.7,1022.4L1361.7,1025.4M1361.7,1056.8L1361.7,1062M1360.1,1028.2L1360.1,1043.7M1360.1,1048.9L1360.1,1054M1377.8,1028.2L1377.8,1038.6M1377.8,1054L1377.8,1059.2M1424.2,1056.8L1424.2,1067.2M1421.7,1024L1422.6,1024L1422.6,1028.2M1422.6,1059.2L1422.6,1064.4M1438.8,1025.4L1438.8,1030.6M1440.4,1033.4L1440.4,1043.7M1440.4,1054L1440.4,1059.2M1486.8,1025.4L1486.8,1035.8M1486.8,1056.8L1486.8,1062M1486.8,1067.2L1486.8,1070.2L1484.5,1070.2M1485.2,1028.2L1485.2,1038.6M1485.2,1054L1485.2,1064.4M1519.3,1022.4L1508.8,1022.4M1503.6,1070.2L1508.8,1070.2M1514,1070.2L1519.3,1070.2M1514.2,1024L1509,1024M1502.9,1033.4L1502.9,1038.6M1502.9,1064.4L1502.9,1068.6L1509,1068.6M1536.6,1022.4L1541.9,1022.4M1531.3,1024L1547.7,1024L1547.7,1033.4M1547.7,1059.2L1547.7,1068.6L1536.5,1068.6M1566.1,1022.4L1563.9,1022.4L1563.9,1030.6M1563.9,1035.8L1563.9,1041.1M1563.9,1062L1563.9,1067.2M1565.5,1059.2L1565.5,1068.6L1566.4,1068.6M1610.3,1033.4L1610.3,1043.7M1610.3,1059.2L1610.3,1064.4M1626.5,1025.4L1626.5,1030.6M1626.5,1062L1626.5,1067.2M1628.1,1033.4L1628.1,1048.9M1628.1,1054L1628.1,1059.2M1672.2,1022.4L1674.5,1022.4L1674.5,1025.4M1674.5,1067.2L1674.5,1070.2L1672.2,1070.2M1672.9,1028.2L1672.9,1033.4M1672.9,1054L1672.9,1064.4M1691.3,1070.2L1696.5,1070.2M1701.7,1070.2L1706.9,1070.2M1691.5,1024L1690.6,1024L1690.6,1033.4M1690.6,1048.9L1690.6,1054M1690.6,1059.2L1690.6,1064.4M1719.1,1022.4L1724.3,1022.4M1737,1067.2L1737,1070.2L1729.6,1070.2M1734.5,1068.6L1729.3,1068.6M1724.2,1068.6L1719,1068.6M1759,1022.4L1751.6,1022.4L1751.6,1025.4M1751.6,1062L1751.6,1070.2L1753.8,1070.2M1753.2,1028.2L1753.2,1038.6M1753.2,1059.2L1753.2,1068.6L1754.1,1068.6M1799.6,1030.6L1799.6,1035.8M1799.6,1041.1L1799.6,1046.3M1797.3,1070.2L1792.1,1070.2M1798,1043.7L1798,1048.9M1798,1064.4L1798,1068.6L1791.9,1068.6M1251.1,1087.2L1251.1,1097.7M1252.7,1095.3L1252.7,1100.4M1252.7,1115.9L1252.7,1130.4L1258.8,1130.4M1286.4,1084.2L1296.9,1084.2M1299.1,1123.8L1299.1,1132L1296.9,1132M1297.5,1121L1297.5,1130.4L1296.6,1130.4M1315.9,1132L1336.8,1132M1321.3,1085.8L1316.2,1085.8M1315.3,1110.7L1315.3,1130.4L1321.3,1130.4M1326.5,1130.4L1331.7,1130.4M1338.5,1084.2L1349,1084.2M1361.7,1123.8L1361.7,1129.1M1354.2,1132L1349,1132M1359.1,1085.8L1360.1,1085.8L1360.1,1090.1M1399.4,1084.2L1383.7,1084.2M1383.7,1132L1399.4,1132M1389.1,1085.8L1383.9,1085.8M1378.7,1085.8L1377.8,1085.8L1377.8,1090.1M1377.8,1121L1377.8,1130.4L1378.7,1130.4M1401.1,1084.2L1406.3,1084.2M1411.5,1084.2L1416.8,1084.2M1422,1084.2L1424.2,1084.2L1424.2,1097.7M1411.5,1132L1406.3,1132M1406.2,1085.8L1416.5,1085.8M1421.7,1130.4L1416.5,1130.4M1461.9,1084.2L1456.7,1084.2M1461.9,1085.8L1456.8,1085.8M1473.9,1130.4L1463.6,1130.4M1524.5,1084.2L1519.3,1084.2M1514.2,1085.8L1509,1085.8M1503.9,1085.8L1502.9,1085.8L1502.9,1095.3M1514.2,1130.4L1524.5,1130.4M1526.2,1085.8L1541.7,1085.8M1547.7,1110.7L1547.7,1130.4L1541.7,1130.4M1536.5,1130.4L1531.3,1130.4M1581.8,1084.2L1571.4,1084.2M1566.1,1132L1581.8,1132M1576.7,1085.8L1571.6,1085.8M1565.5,1126.2L1565.5,1130.4L1566.4,1130.4M1571.6,1130.4L1576.7,1130.4M1599.2,1084.2L1611.9,1084.2L1611.9,1092.5M1594,1132L1588.8,1132M1610.3,1110.7L1610.3,1121M1610.3,1126.2L1610.3,1130.4L1609.4,1130.4M1639.2,1132L1649.6,1132M1639.3,1130.4L1649.6,1130.4M1651.3,1085.8L1661.6,1085.8M1671.9,1085.8L1672.9,1085.8L1672.9,1090.1M1712.2,1085.8L1707,1085.8M1690.6,1115.9L1690.6,1121M1724.3,1132L1719.1,1132M1713.9,1085.8L1719,1085.8M1735.4,1115.9L1735.4,1126.2M1729.3,1130.4L1713.9,1130.4M1769.5,1084.2L1759,1084.2M1753.8,1132L1759,1132M1759.3,1085.8L1754.1,1085.8M1753.2,1100.4L1753.2,1105.6M1753.2,1115.9L1753.2,1126.2M1792.1,1084.2L1799.6,1084.2L1799.6,1087.2M1799.6,1123.8L1799.6,1129.1M1797.3,1132L1786.9,1132M1798,1090.1L1798,1095.3M1274.2,1146.1L1269,1146.1M1274.2,1147.7L1269.1,1147.7M1263.9,1147.7L1258.8,1147.7M1253.6,1147.7L1252.7,1147.7L1252.7,1157.1M1252.7,1188.1L1252.7,1192.3L1269.1,1192.3M1281.1,1147.7L1286.3,1147.7M1291.4,1147.7L1296.6,1147.7M1297.5,1188.1L1297.5,1192.3L1296.6,1192.3M1291.4,1192.3L1281.1,1192.3M1336.8,1146.1L1331.6,1146.1M1315.9,1193.9L1321.1,1193.9M1336.8,1147.7L1331.7,1147.7M1316.2,1147.7L1315.3,1147.7L1315.3,1157.1M1315.3,1172.6L1315.3,1177.7M1326.5,1192.3L1336.8,1192.3M1354.2,1146.1L1359.4,1146.1M1354.2,1193.9L1338.5,1193.9M1348.8,1147.7L1354,1147.7M1359.1,1147.7L1360.1,1147.7L1360.1,1151.9M1360.1,1182.9L1360.1,1192.3L1359.1,1192.3M1354,1192.3L1343.7,1192.3M1394.1,1146.1L1388.9,1146.1M1399.4,1147.7L1394.2,1147.7M1383.9,1147.7L1378.7,1147.7M1378.7,1192.3L1399.4,1192.3M1411.5,1193.9L1406.3,1193.9M1416.5,1147.7L1422.6,1147.7L1422.6,1151.9M1461.9,1147.7L1456.8,1147.7M1441.3,1192.3L1446.5,1192.3M1456.8,1192.3L1461.9,1192.3M1468.8,1147.7L1479.1,1147.7M1479.1,1192.3L1463.6,1192.3M1514,1193.9L1519.3,1193.9M1524.5,1147.7L1519.3,1147.7M1509,1192.3L1514.2,1192.3M1531.4,1193.9L1526.2,1193.9M1526.2,1147.7L1531.3,1147.7M1541.7,1147.7L1546.8,1147.7M1566.1,1193.9L1571.4,1193.9M1581.8,1193.9L1587,1193.9M1587,1147.7L1581.9,1147.7M1571.6,1192.3L1581.9,1192.3M1604.4,1146.1L1609.7,1146.1M1593.9,1147.7L1609.4,1147.7M1610.3,1151.9L1610.3,1157.1M1610.3,1188.1L1610.3,1192.3L1604.2,1192.3M1634.1,1147.7L1629,1147.7M1628.1,1151.9L1628.1,1157.1M1639.3,1192.3L1644.5,1192.3M1661.8,1193.9L1656.5,1193.9M1656.5,1147.7L1666.8,1147.7M1672.9,1151.9L1672.9,1157.1M1672.9,1172.6L1672.9,1177.7M1666.8,1192.3L1656.5,1192.3M1696.5,1146.1L1691.3,1146.1M1712.2,1147.7L1707,1147.7M1701.9,1147.7L1696.7,1147.7M1707,1192.3L1712.2,1192.3M1719.1,1146.1L1724.3,1146.1M1719,1147.7L1734.5,1147.7M1735.4,1167.4L1735.4,1172.6M1729.3,1192.3L1719,1192.3M1769.5,1193.9L1774.7,1193.9M1769.6,1147.7L1764.4,1147.7M1759.3,1192.3L1774.7,1192.3M1792.1,1146.1L1797.3,1146.1M1798,1151.9L1798,1157.1M1798,1162.3L1798,1182.9M1781.6,1192.3L1776.4,1192.3" stroke="#008CFF" stroke-width="1.75"/>
<path d="M1269.1,697.5L1274.2,697.5M1286.3,652.9L1296.6,652.9M1389.1,697.5L1394.2,697.5M1456.8,697.5L1461.9,697.5M1524.5,652.9L1514.2,652.9M1565.5,677.8L1565.5,682.9M1594,699.1L1588.8,699.1M1769.6,697.5L1774.7,697.5M1781.6,652.9L1786.7,652.9M1786.7,697.5L1776.4,697.5M1336.8,714.8L1326.5,714.8M1321.3,759.4L1336.8,759.4M1343.7,714.8L1360.1,714.8L1360.1,719M1359.1,759.4L1354,759.4M1411.4,759.4L1401.1,759.4M1441,760.9L1446.2,760.9M1456.8,714.8L1451.6,714.8M1451.6,759.4L1456.8,759.4M1463.6,713.2L1468.9,713.2M1473.9,714.8L1485.2,714.8L1485.2,719M1479.1,759.4L1473.9,759.4M1519.3,713.2L1514,713.2M1519.3,760.9L1524.5,760.9M1503.9,759.4L1509,759.4M1526.2,713.2L1531.4,713.2M1549.3,758L1549.3,760.9L1547.1,760.9M1541.9,760.9L1526.2,760.9M1531.3,714.8L1541.7,714.8M1541.7,759.4L1536.5,759.4M1531.3,759.4L1526.2,759.4M1576.6,713.2L1571.4,713.2M1576.7,714.8L1571.6,714.8M1571.6,759.4L1581.9,759.4M1588.8,713.2L1604.4,713.2M1599.1,714.8L1609.4,714.8M1604.2,759.4L1593.9,759.4M1649.6,713.2L1644.4,713.2M1639.2,760.9L1649.6,760.9M1639.3,714.8L1634.1,714.8M1629,759.4L1639.3,759.4M1656.5,713.2L1667,713.2M1661.8,760.9L1651.3,760.9M1661.6,714.8L1666.8,714.8M1672.9,755.1L1672.9,759.4L1661.6,759.4M1712.2,713.2L1706.9,713.2M1707,714.8L1696.7,714.8M1701.9,759.4L1707,759.4M1724.3,760.9L1713.9,760.9M1713.9,714.8L1724.2,714.8M1724.2,759.4L1719,759.4M1776.4,714.8L1786.7,714.8M1253.3,775L1251.1,775L1251.1,778M1251.1,819.8L1251.1,822.8L1253.3,822.8M1252.7,811.8L1252.7,817M1296.9,775L1299.1,775L1299.1,778M1297.5,806.6L1297.5,817M1336.8,775L1321.1,775M1326.4,822.8L1336.8,822.8M1321.3,776.6L1316.2,776.6M1321.3,821.2L1336.8,821.2M1343.7,776.6L1359.1,776.6M1360.1,817L1360.1,821.2L1354,821.2M1399.4,775L1388.9,775M1388.9,822.8L1399.4,822.8M1422,822.8L1401.1,822.8M1411.4,821.2L1406.2,821.2M1461.9,776.6L1456.8,776.6M1456.8,821.2L1461.9,821.2M1484.3,776.6L1485.2,776.6L1485.2,786M1479.1,821.2L1468.8,821.2M1519.3,775L1508.8,775M1508.8,822.8L1519.3,822.8M1514.2,776.6L1502.9,776.6L1502.9,780.8M1503.9,821.2L1509,821.2M1536.6,775L1541.9,775M1541.9,822.8L1536.6,822.8M1536.5,776.6L1546.8,776.6M1547.7,780.8L1547.7,786M1541.7,821.2L1536.5,821.2M1576.6,775L1571.4,775M1571.4,822.8L1576.6,822.8M1571.6,776.6L1565.5,776.6L1565.5,780.8M1599.2,775L1604.4,775M1609.7,822.8L1604.4,822.8M1609.4,821.2L1604.2,821.2M1644.4,775L1628.7,775M1639.2,822.8L1644.4,822.8M1628.1,817L1628.1,821.2L1639.3,821.2M1661.8,775L1674.5,775L1674.5,778M1674.5,814.6L1674.5,822.8L1661.8,822.8M1666.8,776.6L1671.9,776.6M1672.9,780.8L1672.9,786M1671.9,821.2L1666.8,821.2M1712.2,776.6L1701.9,776.6M1696.7,821.2L1707,821.2M1719,776.6L1724.2,776.6M1729.3,776.6L1734.5,776.6M1735.4,817L1735.4,821.2L1734.5,821.2M1729.3,821.2L1713.9,821.2M1774.7,775L1769.5,775M1759,822.8L1769.5,822.8M1769.6,776.6L1764.4,776.6M1759.3,821.2L1769.6,821.2M1786.9,822.8L1776.4,822.8M1776.4,776.6L1781.6,776.6M1798,817L1798,821.2L1791.9,821.2M1786.7,821.2L1781.6,821.2M1251.1,839.8L1251.1,845.1M1251.1,881.7L1251.1,884.6L1253.3,884.6M1252.7,868.5L1252.7,878.8M1291.6,836.9L1299.1,836.9L1299.1,839.8M1297.5,842.7L1297.5,847.9M1297.5,868.5L1297.5,873.6M1321.1,836.9L1313.7,836.9L1313.7,839.8M1313.7,881.7L1313.7,884.6L1315.9,884.6M1316.2,838.5L1315.3,838.5L1315.3,842.7M1315.3,878.8L1315.3,883.1L1316.2,883.1M1359.4,836.9L1361.7,836.9L1361.7,839.8M1359.1,838.5L1360.1,838.5L1360.1,842.7M1359.1,883.1L1354,883.1M1376.2,839.8L1376.2,845.1M1376.2,876.4L1376.2,881.7M1377.8,868.5L1377.8,878.8M1424.2,839.8L1424.2,845.1M1424.2,876.4L1424.2,881.7M1446.2,836.9L1441,836.9M1441,884.6L1446.2,884.6M1440.4,842.7L1440.4,847.9M1441.3,883.1L1446.5,883.1M1474.1,836.9L1479.3,836.9M1486.8,876.4L1486.8,884.6L1484.5,884.6M1484.3,838.5L1485.2,838.5L1485.2,847.9M1514,836.9L1508.8,836.9M1502.9,842.7L1502.9,847.9M1502.9,878.8L1502.9,883.1L1503.9,883.1M1541.9,836.9L1547.1,836.9M1549.3,881.7L1549.3,884.6L1547.1,884.6M1546.8,838.5L1547.7,838.5L1547.7,842.7M1547.7,878.8L1547.7,883.1L1546.8,883.1M1563.9,839.8L1563.9,845.1M1563.9,876.4L1563.9,881.7M1610.3,868.5L1610.3,873.6M1626.5,839.8L1626.5,845.1M1626.5,876.4L1626.5,881.7M1628.1,868.5L1628.1,873.6M1674.5,881.7L1674.5,884.6L1672.2,884.6M1672.9,842.7L1672.9,853M1691.3,836.9L1689,836.9L1689,845.1M1689,876.4L1689,884.6L1691.3,884.6M1690.6,842.7L1690.6,847.9M1690.6,863.3L1690.6,873.6M1737,876.4L1737,881.7M1735.4,868.5L1735.4,878.8M1759,836.9L1753.8,836.9M1751.6,881.7L1751.6,884.6L1753.8,884.6M1759,884.6L1764.3,884.6M1764.4,838.5L1759.3,838.5M1753.2,878.8L1753.2,883.1L1754.1,883.1M1797.3,836.9L1799.6,836.9L1799.6,839.8M1799.6,876.4L1799.6,884.6L1792.1,884.6M1797.1,838.5L1798,838.5L1798,842.7M1798,873.6L1798,883.1L1797.1,883.1M1253.3,898.7L1251.1,898.7L1251.1,901.7M1251.1,943.5L1251.1,946.5L1253.3,946.5M1252.7,935.5L1252.7,940.7M1296.9,898.7L1299.1,898.7L1299.1,906.9M1299.1,938.3L1299.1,943.5M1297.5,930.3L1297.5,935.5M1315.9,898.7L1313.7,898.7L1313.7,901.7M1313.7,938.3L1313.7,943.5M1315.3,904.5L1315.3,909.7M1361.7,901.7L1361.7,906.9M1361.7,938.3L1361.7,943.5M1360.1,904.5L1360.1,909.7M1377.8,904.5L1377.8,909.7M1422,898.7L1424.2,898.7L1424.2,901.7M1422.6,904.5L1422.6,920M1422.6,935.5L1422.6,940.7M1438.8,943.5L1438.8,946.5L1441,946.5M1441.3,900.3L1440.4,900.3L1440.4,904.5M1440.4,940.7L1440.4,944.9L1441.3,944.9M1474.1,898.7L1484.5,898.7M1485.2,904.5L1485.2,909.7M1502.9,904.5L1502.9,909.7M1502.9,930.3L1502.9,935.5M1502.9,940.7L1502.9,944.9L1509,944.9M1547.1,946.5L1541.9,946.5M1546.8,900.3L1547.7,900.3L1547.7,904.5M1547.7,935.5L1547.7,944.9L1546.8,944.9M1566.1,898.7L1563.9,898.7L1563.9,901.7M1565.5,904.5L1565.5,909.7M1565.5,935.5L1565.5,940.7M1609.7,898.7L1611.9,898.7L1611.9,901.7M1611.9,938.3L1611.9,946.5L1609.7,946.5M1609.4,900.3L1610.3,900.3L1610.3,904.5M1610.3,935.5L1610.3,940.7M1626.5,901.7L1626.5,912.1M1628.1,904.5L1628.1,914.9M1628.1,930.3L1628.1,935.5M1674.5,938.3L1674.5,943.5M1672.9,904.5L1672.9,909.7M1689,901.7L1689,906.9M1690.6,904.5L1690.6,909.7M1690.6,935.5L1690.6,940.7M1734.8,898.7L1737,898.7L1737,901.7M1737,933.1L1737,938.3M1735.4,904.5L1735.4,909.7M1751.6,938.3L1751.6,946.5L1759,946.5M1754.1,900.3L1753.2,900.3L1753.2,904.5M1753.2,930.3L1753.2,935.5M1798,930.3L1798,940.7M1797.1,944.9L1791.9,944.9M1251.1,963.5L1251.1,968.8M1251.1,1005.4L1251.1,1008.3L1258.6,1008.3M1252.7,966.4L1252.7,971.6M1252.7,992.2L1252.7,1002.5M1299.1,1000.1L1299.1,1008.3L1296.9,1008.3M1297.5,966.4L1297.5,971.6M1297.5,997.3L1297.5,1002.5M1313.7,963.5L1313.7,968.8M1313.7,1000.1L1313.7,1005.4M1315.3,971.6L1315.3,976.7M1315.3,992.2L1315.3,997.3M1361.7,963.5L1361.7,968.8M1360.1,992.2L1360.1,997.3M1376.2,1000.1L1376.2,1008.3L1378.5,1008.3M1378.7,962.1L1377.8,962.1L1377.8,966.4M1377.8,992.2L1377.8,997.3M1424.2,968.8L1424.2,974M1424.2,1005.4L1424.2,1008.3L1422,1008.3M1421.7,962.1L1422.6,962.1L1422.6,966.4M1461.9,960.6L1451.5,960.6M1446.2,1008.3L1456.7,1008.3M1456.8,962.1L1441.3,962.1M1440.4,997.3L1440.4,1006.8L1446.5,1006.8M1468.9,960.6L1479.3,960.6M1474.1,1008.3L1463.6,1008.3M1479.1,962.1L1485.2,962.1L1485.2,966.4M1484.3,1006.8L1479.1,1006.8M1508.8,960.6L1503.6,960.6M1501.3,1005.4L1501.3,1008.3L1503.6,1008.3M1503.9,962.1L1502.9,962.1L1502.9,971.6M1502.9,1002.5L1502.9,1006.8L1509,1006.8M1531.4,960.6L1541.9,960.6M1541.9,1008.3L1536.6,1008.3M1541.7,962.1L1547.7,962.1L1547.7,966.4M1547.7,1002.5L1547.7,1006.8L1541.7,1006.8M1571.4,960.6L1566.1,960.6M1563.9,1005.4L1563.9,1008.3L1571.4,1008.3M1571.6,962.1L1566.4,962.1M1565.5,997.3L1565.5,1002.5M1611.9,1005.4L1611.9,1008.3L1599.2,1008.3M1610.3,966.4L1610.3,971.6M1610.3,1002.5L1610.3,1006.8L1609.4,1006.8M1629,962.1L1628.1,962.1L1628.1,966.4M1674.5,963.5L1674.5,968.8M1674.5,1005.4L1674.5,1008.3L1672.2,1008.3M1672.9,966.4L1672.9,971.6M1672.9,997.3L1672.9,1002.5M1696.5,960.6L1691.3,960.6M1689,1000.1L1689,1008.3L1696.5,1008.3M1691.5,962.1L1690.6,962.1L1690.6,966.4M1690.6,987L1690.6,992.2M1690.6,997.3L1690.6,1002.5M1734.8,960.6L1737,960.6L1737,963.5M1737,1000.1L1737,1008.3L1734.8,1008.3M1735.4,966.4L1735.4,971.6M1735.4,1002.5L1735.4,1006.8L1729.3,1006.8M1759,1008.3L1764.3,1008.3M1764.4,962.1L1759.3,962.1M1759.3,1006.8L1769.6,1006.8M1792.1,960.6L1797.3,960.6M1786.9,1008.3L1781.7,1008.3M1786.7,962.1L1797.1,962.1M1791.9,1006.8L1786.7,1006.8M1251.1,1025.4L1251.1,1030.6M1251.1,1062L1251.1,1067.2M1252.7,1059.2L1252.7,1064.4M1299.1,1025.4L1299.1,1030.6M1297.5,1054L1297.5,1064.4M1313.7,1067.2L1313.7,1070.2L1315.9,1070.2M1315.3,1028.2L1315.3,1033.4M1361.7,1062L1361.7,1067.2M1360.1,1054L1360.1,1064.4M1383.7,1022.4L1376.2,1022.4L1376.2,1025.4M1376.2,1067.2L1376.2,1070.2L1378.5,1070.2M1383.7,1070.2L1388.9,1070.2M1378.7,1024L1377.8,1024L1377.8,1028.2M1377.8,1059.2L1377.8,1064.4M1378.7,1068.6L1383.9,1068.6M1422,1022.4L1424.2,1022.4L1424.2,1025.4M1424.2,1067.2L1424.2,1070.2L1406.3,1070.2M1416.5,1024L1421.7,1024M1422.6,1064.4L1422.6,1068.6L1421.7,1068.6M1441,1022.4L1438.8,1022.4L1438.8,1025.4M1441.3,1024L1440.4,1024L1440.4,1033.4M1484.5,1022.4L1486.8,1022.4L1486.8,1025.4M1486.8,1062L1486.8,1067.2M1524.5,1022.4L1519.3,1022.4M1519.3,1070.2L1524.5,1070.2M1519.3,1024L1514.2,1024M1509,1024L1503.9,1024M1509,1068.6L1514.2,1068.6M1526.2,1022.4L1536.6,1022.4M1531.4,1070.2L1526.2,1070.2M1536.5,1068.6L1526.2,1068.6M1576.6,1022.4L1566.1,1022.4M1563.9,1067.2L1563.9,1070.2L1566.1,1070.2M1604.4,1022.4L1609.7,1022.4M1604.4,1070.2L1599.2,1070.2M1610.3,1028.2L1610.3,1033.4M1610.3,1064.4L1610.3,1068.6L1604.2,1068.6M1628.7,1022.4L1626.5,1022.4L1626.5,1025.4M1626.5,1030.6L1626.5,1035.8M1626.5,1067.2L1626.5,1070.2L1628.7,1070.2M1629,1024L1628.1,1024L1628.1,1033.4M1628.1,1059.2L1628.1,1064.4M1671.9,1024L1672.9,1024L1672.9,1028.2M1712.2,1022.4L1701.7,1022.4M1696.5,1070.2L1701.7,1070.2M1707,1024L1691.5,1024M1690.6,1054L1690.6,1059.2M1690.6,1064.4L1690.6,1068.6L1707,1068.6M1713.9,1022.4L1719.1,1022.4M1729.6,1070.2L1724.3,1070.2M1724.2,1024L1734.5,1024M1729.3,1068.6L1724.2,1068.6M1719,1068.6L1713.9,1068.6M1764.3,1022.4L1759,1022.4M1753.8,1070.2L1759,1070.2M1764.4,1024L1759.3,1024M1754.1,1024L1753.2,1024L1753.2,1028.2M1786.9,1022.4L1797.3,1022.4M1792.1,1070.2L1786.9,1070.2M1791.9,1024L1797.1,1024M1253.3,1084.2L1251.1,1084.2L1251.1,1087.2M1258.6,1132L1269,1132M1253.6,1085.8L1252.7,1085.8L1252.7,1095.3M1281.2,1084.2L1286.4,1084.2M1296.9,1132L1291.6,1132M1291.4,1085.8L1297.5,1085.8L1297.5,1100.4M1336.8,1085.8L1331.7,1085.8M1326.5,1085.8L1321.3,1085.8M1321.3,1130.4L1326.5,1130.4M1349,1132L1343.7,1132M1338.5,1085.8L1359.1,1085.8M1343.7,1130.4L1338.5,1130.4M1399.4,1085.8L1389.1,1085.8M1383.9,1085.8L1378.7,1085.8M1378.7,1130.4L1399.4,1130.4M1406.3,1132L1401.1,1132M1401.1,1085.8L1406.2,1085.8M1416.5,1130.4L1401.1,1130.4M1446.5,1085.8L1440.4,1085.8L1440.4,1090.1M1509,1085.8L1503.9,1085.8M1541.7,1130.4L1536.5,1130.4M1587,1084.2L1581.8,1084.2M1581.8,1132L1587,1132M1581.9,1085.8L1576.7,1085.8M1566.4,1130.4L1571.6,1130.4M1576.7,1130.4L1581.9,1130.4M1594,1084.2L1599.2,1084.2M1593.9,1085.8L1604.2,1085.8M1604.2,1130.4L1593.9,1130.4M1666.8,1130.4L1651.3,1130.4M1719,1085.8L1724.2,1085.8M1759,1132L1764.3,1132M1764.4,1085.8L1759.3,1085.8M1754.1,1085.8L1753.2,1085.8L1753.2,1090.1M1753.2,1095.3L1753.2,1100.4M1753.2,1126.2L1753.2,1130.4L1759.3,1130.4M1786.9,1084.2L1792.1,1084.2M1799.6,1129.1L1799.6,1132L1797.3,1132M1786.9,1132L1781.7,1132M1798,1126.2L1798,1130.4L1786.7,1130.4M1258.8,1147.7L1253.6,1147.7M1276,1147.7L1281.1,1147.7M1286.3,1147.7L1291.4,1147.7M1296.6,1192.3L1291.4,1192.3M1281.1,1192.3L1276,1192.3M1349,1146.1L1354.2,1146.1M1338.5,1147.7L1348.8,1147.7M1343.7,1192.3L1338.5,1192.3M1394.2,1147.7L1383.9,1147.7M1401.1,1147.7L1416.5,1147.7M1406.2,1192.3L1401.1,1192.3M1514.2,1192.3L1524.5,1192.3M1531.3,1192.3L1526.2,1192.3M1581.9,1147.7L1565.5,1147.7L1565.5,1151.9M1581.9,1192.3L1587,1192.3M1588.8,1147.7L1593.9,1147.7M1604.2,1192.3L1588.8,1192.3M1649.6,1147.7L1634.1,1147.7M1634.1,1192.3L1639.3,1192.3M1644.5,1192.3L1649.6,1192.3M1651.3,1147.7L1656.5,1147.7M1656.5,1192.3L1651.3,1192.3M1713.9,1147.7L1719,1147.7M1774.7,1147.7L1769.6,1147.7" stroke="#00DCFF" stroke-width="1.75"/>
<path d="M1338.5,714.8L1343.7,714.8M1456.8,759.4L1461.9,759.4M1463.6,714.8L1473.9,714.8M1473.9,759.4L1463.6,759.4M1524.5,713.2L1519.3,713.2M1524.5,714.8L1519.3,714.8M1509,714.8L1502.9,714.8L1502.9,724.2M1509,759.4L1519.3,759.4M1587,713.2L1576.6,713.2M1581.9,714.8L1576.7,714.8M1581.9,759.4L1587,759.4M1593.9,714.8L1599.1,714.8M1593.9,759.4L1588.8,759.4M1644.5,714.8L1639.3,714.8M1639.3,759.4L1644.5,759.4M1651.3,713.2L1656.5,713.2M1672.9,749.9L1672.9,755.1M1712.2,714.8L1707,714.8M1707,759.4L1712.2,759.4M1258.6,775L1253.3,775M1251.1,778L1251.1,783.2M1253.6,776.6L1252.7,776.6L1252.7,780.8M1252.7,817L1252.7,821.2L1253.6,821.2M1299.1,819.8L1299.1,822.8L1296.9,822.8M1296.6,776.6L1297.5,776.6L1297.5,780.8M1297.5,817L1297.5,821.2L1296.6,821.2M1336.8,776.6L1321.3,776.6M1349,822.8L1338.5,822.8M1354,821.2L1343.7,821.2M1399.4,776.6L1394.2,776.6M1389.1,821.2L1394.2,821.2M1406.2,776.6L1411.4,776.6M1468.8,821.2L1463.6,821.2M1524.5,775L1519.3,775M1519.3,776.6L1514.2,776.6M1509,821.2L1524.5,821.2M1526.2,775L1536.6,775M1536.6,822.8L1531.4,822.8M1526.2,776.6L1531.3,776.6M1536.5,821.2L1531.3,821.2M1581.8,775L1576.6,775M1576.7,776.6L1571.6,776.6M1566.4,821.2L1571.6,821.2M1594,775L1599.2,775M1604.4,822.8L1599.2,822.8M1604.2,776.6L1609.4,776.6M1604.2,821.2L1599.1,821.2M1649.6,775L1644.4,775M1644.4,822.8L1649.6,822.8M1644.5,776.6L1639.3,776.6M1634.1,776.6L1629,776.6M1651.3,775L1661.8,775M1656.5,776.6L1666.8,776.6M1666.8,821.2L1661.6,821.2M1707,821.2L1712.2,821.2M1713.9,775L1724.3,775M1713.9,776.6L1719,776.6M1769.5,822.8L1774.7,822.8M1774.7,776.6L1769.6,776.6M1781.6,821.2L1776.4,821.2M1258.6,836.9L1251.1,836.9L1251.1,839.8M1253.3,884.6L1258.6,884.6M1253.6,838.5L1252.7,838.5L1252.7,842.7M1252.7,878.8L1252.7,883.1L1258.8,883.1M1286.4,836.9L1291.6,836.9M1291.4,838.5L1297.5,838.5L1297.5,842.7M1326.4,836.9L1321.1,836.9M1321.3,838.5L1316.2,838.5M1354.2,836.9L1359.4,836.9M1354.2,884.6L1349,884.6M1378.5,836.9L1376.2,836.9L1376.2,839.8M1377.8,842.7L1377.8,847.9M1424.2,881.7L1424.2,884.6L1422,884.6M1422.6,847.9L1422.6,853M1422.6,873.6L1422.6,878.8M1456.7,836.9L1446.2,836.9M1446.2,884.6L1451.5,884.6M1451.6,838.5L1440.4,838.5L1440.4,842.7M1446.5,883.1L1451.6,883.1M1484.5,884.6L1479.3,884.6M1473.9,838.5L1484.3,838.5M1519.3,836.9L1514,836.9M1503.9,838.5L1502.9,838.5L1502.9,842.7M1503.9,883.1L1514.2,883.1M1536.6,836.9L1541.9,836.9M1547.1,884.6L1541.9,884.6M1541.7,838.5L1546.8,838.5M1546.8,883.1L1541.7,883.1M1563.9,881.7L1563.9,884.6L1566.1,884.6M1565.5,842.7L1565.5,847.9M1565.5,873.6L1565.5,878.8M1611.9,876.4L1611.9,881.7M1610.3,842.7L1610.3,847.9M1610.3,873.6L1610.3,878.8M1628.7,836.9L1626.5,836.9L1626.5,839.8M1634.1,838.5L1628.1,838.5L1628.1,842.7M1628.1,878.8L1628.1,883.1L1629,883.1M1672.2,836.9L1674.5,836.9L1674.5,839.8M1672.2,884.6L1667,884.6M1672.9,873.6L1672.9,878.8M1696.5,836.9L1691.3,836.9M1691.3,884.6L1696.5,884.6M1690.6,878.8L1690.6,883.1L1691.5,883.1M1737,881.7L1737,884.6L1734.8,884.6M1734.5,838.5L1735.4,838.5L1735.4,842.7M1764.3,836.9L1759,836.9M1753.8,884.6L1759,884.6M1754.1,883.1L1759.3,883.1M1792.1,836.9L1797.3,836.9M1253.6,900.3L1252.7,900.3L1252.7,904.5M1252.7,940.7L1252.7,944.9L1253.6,944.9M1299.1,943.5L1299.1,946.5L1296.9,946.5M1296.6,900.3L1297.5,900.3L1297.5,904.5M1297.5,935.5L1297.5,940.7M1313.7,943.5L1313.7,946.5L1315.9,946.5M1316.2,900.3L1315.3,900.3L1315.3,904.5M1315.3,935.5L1315.3,944.9L1316.2,944.9M1359.4,898.7L1361.7,898.7L1361.7,901.7M1360.1,935.5L1360.1,940.7M1378.5,898.7L1376.2,898.7L1376.2,901.7M1377.8,935.5L1377.8,940.7M1424.2,943.5L1424.2,946.5L1422,946.5M1422.6,940.7L1422.6,944.9L1421.7,944.9M1451.5,898.7L1446.2,898.7M1441,946.5L1451.5,946.5M1446.5,900.3L1441.3,900.3M1479.3,946.5L1468.9,946.5M1484.3,900.3L1485.2,900.3L1485.2,904.5M1485.2,940.7L1485.2,944.9L1479.1,944.9M1514,898.7L1508.8,898.7M1503.9,900.3L1502.9,900.3L1502.9,904.5M1502.9,935.5L1502.9,940.7M1509,944.9L1514.2,944.9M1536.6,898.7L1549.3,898.7L1549.3,901.7M1541.9,946.5L1536.6,946.5M1541.7,900.3L1546.8,900.3M1547.7,930.3L1547.7,935.5M1546.8,944.9L1541.7,944.9M1566.1,946.5L1571.4,946.5M1566.4,900.3L1565.5,900.3L1565.5,904.5M1565.5,940.7L1565.5,944.9L1571.6,944.9M1610.3,940.7L1610.3,944.9L1609.4,944.9M1626.5,938.3L1626.5,943.5M1672.2,898.7L1674.5,898.7L1674.5,912.1M1672.9,935.5L1672.9,940.7M1691.3,898.7L1689,898.7L1689,901.7M1689,938.3L1689,946.5L1691.3,946.5M1737,938.3L1737,943.5M1735.4,940.7L1735.4,944.9L1734.5,944.9M1759,898.7L1753.8,898.7M1753.2,935.5L1753.2,944.9L1754.1,944.9M1759.3,944.9L1764.4,944.9M1797.3,898.7L1799.6,898.7L1799.6,901.7M1797.1,900.3L1798,900.3L1798,904.5M1798,940.7L1798,944.9L1797.1,944.9M1253.6,962.1L1252.7,962.1L1252.7,966.4M1252.7,1002.5L1252.7,1006.8L1253.6,1006.8M1296.9,960.6L1299.1,960.6L1299.1,963.5M1296.9,1008.3L1291.6,1008.3M1315.3,966.4L1315.3,971.6M1315.3,997.3L1315.3,1002.5M1361.7,1000.1L1361.7,1005.4M1360.1,966.4L1360.1,976.7M1360.1,997.3L1360.1,1002.5M1378.5,960.6L1376.2,960.6L1376.2,963.5M1377.8,997.3L1377.8,1006.8L1378.7,1006.8M1422,1008.3L1416.8,1008.3M1422.6,997.3L1422.6,1002.5M1451.5,960.6L1446.2,960.6M1456.7,1008.3L1461.9,1008.3M1461.9,962.1L1456.8,962.1M1463.6,960.6L1468.9,960.6M1473.9,962.1L1479.1,962.1M1479.1,1006.8L1468.8,1006.8M1519.3,960.6L1508.8,960.6M1514,1008.3L1519.3,1008.3M1514.2,962.1L1503.9,962.1M1514.2,1006.8L1519.3,1006.8M1536.6,1008.3L1531.4,1008.3M1531.3,962.1L1541.7,962.1M1541.7,1006.8L1536.5,1006.8M1576.7,962.1L1571.6,962.1M1565.5,1002.5L1565.5,1006.8L1566.4,1006.8M1604.4,960.6L1611.9,960.6L1611.9,963.5M1599.1,962.1L1610.3,962.1L1610.3,966.4M1609.4,1006.8L1599.1,1006.8M1628.7,960.6L1626.5,960.6L1626.5,963.5M1626.5,1000.1L1626.5,1008.3L1628.7,1008.3M1634.1,962.1L1629,962.1M1628.1,997.3L1628.1,1002.5M1672.2,960.6L1674.5,960.6L1674.5,963.5M1672.9,1002.5L1672.9,1006.8L1671.9,1006.8M1701.7,960.6L1696.5,960.6M1696.5,1008.3L1701.7,1008.3M1696.7,962.1L1691.5,962.1M1690.6,1002.5L1690.6,1006.8L1691.5,1006.8M1729.6,960.6L1734.8,960.6M1729.3,962.1L1735.4,962.1L1735.4,966.4M1769.5,960.6L1764.3,960.6M1764.3,1008.3L1774.7,1008.3M1769.6,962.1L1764.4,962.1M1776.4,960.6L1781.7,960.6M1781.7,1008.3L1776.4,1008.3M1786.7,1006.8L1781.6,1006.8M1253.3,1022.4L1251.1,1022.4L1251.1,1025.4M1251.1,1067.2L1251.1,1070.2L1253.3,1070.2M1253.6,1024L1252.7,1024L1252.7,1028.2M1296.9,1022.4L1299.1,1022.4L1299.1,1025.4M1299.1,1062L1299.1,1067.2M1296.6,1024L1297.5,1024L1297.5,1033.4M1315.9,1022.4L1313.7,1022.4L1313.7,1025.4M1316.2,1024L1315.3,1024L1315.3,1028.2M1315.3,1064.4L1315.3,1068.6L1316.2,1068.6M1359.1,1024L1360.1,1024L1360.1,1028.2M1360.1,1064.4L1360.1,1068.6L1359.1,1068.6M1378.5,1070.2L1383.7,1070.2M1388.9,1070.2L1394.1,1070.2M1383.9,1024L1378.7,1024M1377.8,1064.4L1377.8,1068.6L1378.7,1068.6M1383.9,1068.6L1389.1,1068.6M1416.8,1022.4L1422,1022.4M1421.7,1068.6L1416.5,1068.6M1446.2,1022.4L1441,1022.4M1438.8,1067.2L1438.8,1070.2L1441,1070.2M1440.4,1059.2L1440.4,1064.4M1479.3,1022.4L1484.5,1022.4M1484.3,1024L1485.2,1024L1485.2,1028.2M1485.2,1064.4L1485.2,1068.6L1484.3,1068.6M1524.5,1024L1519.3,1024M1514.2,1068.6L1524.5,1068.6M1526.2,1024L1531.3,1024M1566.1,1070.2L1571.4,1070.2M1576.7,1024L1565.5,1024L1565.5,1028.2M1566.4,1068.6L1576.7,1068.6M1599.2,1022.4L1604.4,1022.4M1599.2,1070.2L1594,1070.2M1604.2,1024L1610.3,1024L1610.3,1028.2M1604.2,1068.6L1599.1,1068.6M1628.1,1064.4L1628.1,1068.6L1629,1068.6M1667,1022.4L1672.2,1022.4M1672.2,1070.2L1667,1070.2M1672.9,1064.4L1672.9,1068.6L1671.9,1068.6M1712.2,1024L1707,1024M1707,1068.6L1712.2,1068.6M1719,1024L1724.2,1024M1769.5,1022.4L1764.3,1022.4M1759,1070.2L1769.5,1070.2M1769.6,1024L1764.4,1024M1759.3,1024L1754.1,1024M1754.1,1068.6L1764.4,1068.6M1776.4,1022.4L1786.9,1022.4M1786.9,1070.2L1776.4,1070.2M1781.6,1024L1791.9,1024M1791.9,1068.6L1786.7,1068.6M1269,1084.2L1253.3,1084.2M1258.8,1085.8L1253.6,1085.8M1291.6,1132L1276,1132M1281.1,1085.8L1291.4,1085.8M1296.6,1130.4L1286.3,1130.4M1331.7,1085.8L1326.5,1085.8M1343.7,1132L1338.5,1132M1587,1085.8L1581.9,1085.8M1581.9,1130.4L1587,1130.4M1593.9,1130.4L1588.8,1130.4M1774.7,1084.2L1769.5,1084.2M1764.3,1132L1769.5,1132M1753.2,1090.1L1753.2,1095.3M1759.3,1130.4L1769.6,1130.4M1776.4,1084.2L1786.9,1084.2M1781.7,1132L1776.4,1132M1786.7,1085.8L1791.9,1085.8M1797.1,1085.8L1798,1085.8L1798,1090.1M1536.5,1192.3L1531.3,1192.3" stroke="#00FFD2" stroke-width="1.75"/>
<path d="M1461.9,714.8L1456.8,714.8M1519.3,714.8L1509,714.8M1519.3,759.4L1524.5,759.4M1526.2,714.8L1531.3,714.8M1587,714.8L1581.9,714.8M1588.8,714.8L1593.9,714.8M1644.5,759.4L1649.6,759.4M1651.3,714.8L1661.6,714.8M1661.6,759.4L1656.5,759.4M1719,759.4L1713.9,759.4M1253.3,822.8L1258.6,822.8M1258.8,776.6L1253.6,776.6M1253.6,821.2L1258.8,821.2M1286.4,775L1296.9,775M1296.9,822.8L1286.4,822.8M1291.4,776.6L1296.6,776.6M1338.5,776.6L1343.7,776.6M1343.7,821.2L1338.5,821.2M1394.2,821.2L1399.4,821.2M1401.1,776.6L1406.2,776.6M1406.2,821.2L1401.1,821.2M1519.3,822.8L1524.5,822.8M1524.5,776.6L1519.3,776.6M1531.4,822.8L1526.2,822.8M1531.3,776.6L1536.5,776.6M1531.3,821.2L1526.2,821.2M1576.6,822.8L1581.8,822.8M1571.6,821.2L1576.7,821.2M1599.2,822.8L1588.8,822.8M1593.9,776.6L1604.2,776.6M1599.1,821.2L1593.9,821.2M1649.6,776.6L1644.5,776.6M1639.3,776.6L1634.1,776.6M1639.3,821.2L1644.5,821.2M1661.8,822.8L1656.5,822.8M1651.3,776.6L1656.5,776.6M1661.6,821.2L1651.3,821.2M1769.6,821.2L1774.7,821.2M1791.9,821.2L1786.7,821.2M1258.6,884.6L1263.8,884.6M1296.9,884.6L1291.6,884.6M1297.5,873.6L1297.5,883.1L1296.6,883.1M1331.6,836.9L1326.4,836.9M1315.9,884.6L1326.4,884.6M1326.5,838.5L1321.3,838.5M1316.2,883.1L1321.3,883.1M1349,836.9L1354.2,836.9M1348.8,838.5L1359.1,838.5M1376.2,881.7L1376.2,884.6L1378.5,884.6M1377.8,878.8L1377.8,883.1L1378.7,883.1M1422,836.9L1424.2,836.9L1424.2,839.8M1422.6,878.8L1422.6,883.1L1421.7,883.1M1451.5,884.6L1456.7,884.6M1456.8,838.5L1451.6,838.5M1451.6,883.1L1456.8,883.1M1468.9,836.9L1474.1,836.9M1479.3,884.6L1474.1,884.6M1484.3,883.1L1473.9,883.1M1508.8,884.6L1519.3,884.6M1514.2,838.5L1503.9,838.5M1531.4,836.9L1536.6,836.9M1541.9,884.6L1536.6,884.6M1531.3,838.5L1541.7,838.5M1541.7,883.1L1536.5,883.1M1566.1,836.9L1563.9,836.9L1563.9,839.8M1566.1,884.6L1571.4,884.6M1565.5,878.8L1565.5,883.1L1566.4,883.1M1609.7,836.9L1611.9,836.9L1611.9,839.8M1611.9,881.7L1611.9,884.6L1609.7,884.6M1610.3,878.8L1610.3,883.1L1609.4,883.1M1633.9,836.9L1628.7,836.9M1626.5,881.7L1626.5,884.6L1628.7,884.6M1629,883.1L1634.1,883.1M1667,836.9L1672.2,836.9M1671.9,838.5L1672.9,838.5L1672.9,842.7M1672.9,878.8L1672.9,883.1L1671.9,883.1M1691.5,838.5L1690.6,838.5L1690.6,842.7M1691.5,883.1L1696.7,883.1M1729.6,836.9L1734.8,836.9M1735.4,878.8L1735.4,883.1L1734.5,883.1M1764.3,884.6L1769.5,884.6M1759.3,883.1L1769.6,883.1M1786.9,836.9L1792.1,836.9M1792.1,884.6L1781.7,884.6M1786.7,838.5L1797.1,838.5M1797.1,883.1L1791.9,883.1M1253.3,946.5L1258.6,946.5M1291.6,898.7L1296.9,898.7M1296.9,946.5L1291.6,946.5M1291.4,900.3L1296.6,900.3M1297.5,940.7L1297.5,944.9L1296.6,944.9M1315.9,946.5L1321.1,946.5M1316.2,944.9L1321.3,944.9M1354.2,898.7L1359.4,898.7M1361.7,943.5L1361.7,946.5L1359.4,946.5M1359.1,900.3L1360.1,900.3L1360.1,904.5M1360.1,940.7L1360.1,944.9L1359.1,944.9M1383.7,898.7L1378.5,898.7M1376.2,943.5L1376.2,946.5L1378.5,946.5M1378.7,900.3L1377.8,900.3L1377.8,904.5M1377.8,940.7L1377.8,944.9L1378.7,944.9M1416.8,898.7L1422,898.7M1422,946.5L1416.8,946.5M1421.7,900.3L1422.6,900.3L1422.6,904.5M1421.7,944.9L1416.5,944.9M1456.7,898.7L1451.5,898.7M1456.7,946.5L1461.9,946.5M1441.3,944.9L1456.8,944.9M1468.9,898.7L1474.1,898.7M1479.1,900.3L1484.3,900.3M1479.1,944.9L1473.9,944.9M1519.3,898.7L1514,898.7M1514,946.5L1519.3,946.5M1509,900.3L1503.9,900.3M1514.2,944.9L1519.3,944.9M1536.6,946.5L1531.4,946.5M1541.7,944.9L1536.5,944.9M1571.4,898.7L1566.1,898.7M1563.9,943.5L1563.9,946.5L1566.1,946.5M1571.6,900.3L1566.4,900.3M1604.4,898.7L1609.7,898.7M1609.7,946.5L1604.4,946.5M1604.2,900.3L1609.4,900.3M1628.7,898.7L1626.5,898.7L1626.5,901.7M1629,900.3L1628.1,900.3L1628.1,904.5M1628.1,935.5L1628.1,940.7M1671.9,900.3L1672.9,900.3L1672.9,904.5M1672.9,940.7L1672.9,944.9L1671.9,944.9M1691.3,946.5L1696.5,946.5M1691.5,900.3L1690.6,900.3L1690.6,904.5M1690.6,940.7L1690.6,944.9L1691.5,944.9M1737,943.5L1737,946.5L1734.8,946.5M1734.5,900.3L1735.4,900.3L1735.4,904.5M1769.5,898.7L1759,898.7M1759,946.5L1769.5,946.5M1759.3,900.3L1754.1,900.3M1754.1,944.9L1759.3,944.9M1786.9,898.7L1797.3,898.7M1786.9,946.5L1781.7,946.5M1786.7,900.3L1797.1,900.3M1791.9,944.9L1786.7,944.9M1258.6,960.6L1251.1,960.6L1251.1,963.5M1253.6,1006.8L1258.8,1006.8M1291.4,962.1L1297.5,962.1L1297.5,966.4M1297.5,1002.5L1297.5,1006.8L1296.6,1006.8M1315.9,960.6L1313.7,960.6L1313.7,963.5M1359.4,960.6L1361.7,960.6L1361.7,963.5M1361.7,1005.4L1361.7,1008.3L1359.4,1008.3M1383.7,960.6L1378.5,960.6M1422,960.6L1424.2,960.6L1424.2,963.5M1422.6,1002.5L1422.6,1006.8L1421.7,1006.8M1446.5,1006.8L1456.8,1006.8M1463.6,962.1L1473.9,962.1M1468.8,1006.8L1463.6,1006.8M1524.5,960.6L1519.3,960.6M1519.3,1008.3L1524.5,1008.3M1524.5,962.1L1514.2,962.1M1509,1006.8L1514.2,1006.8M1526.2,960.6L1531.4,960.6M1576.6,960.6L1571.4,960.6M1571.4,1008.3L1576.6,1008.3M1566.4,1006.8L1576.7,1006.8M1594,960.6L1604.4,960.6M1599.2,1008.3L1594,1008.3M1593.9,962.1L1599.1,962.1M1633.9,960.6L1628.7,960.6M1628.7,1008.3L1633.9,1008.3M1629,1006.8L1634.1,1006.8M1667,960.6L1672.2,960.6M1666.8,962.1L1672.9,962.1L1672.9,966.4M1671.9,1006.8L1666.8,1006.8M1706.9,960.6L1701.7,960.6M1691.5,1006.8L1696.7,1006.8M1734.8,1008.3L1729.6,1008.3M1774.7,960.6L1769.5,960.6M1774.7,962.1L1769.6,962.1M1776.4,962.1L1786.7,962.1M1781.6,1006.8L1776.4,1006.8M1252.7,1064.4L1252.7,1068.6L1253.6,1068.6M1299.1,1067.2L1299.1,1070.2L1296.9,1070.2M1297.5,1064.4L1297.5,1068.6L1296.6,1068.6M1321.3,1024L1316.2,1024M1354.2,1022.4L1359.4,1022.4M1361.7,1067.2L1361.7,1070.2L1359.4,1070.2M1354,1024L1359.1,1024M1388.9,1022.4L1383.7,1022.4M1411.5,1022.4L1416.8,1022.4M1406.2,1024L1416.5,1024M1416.5,1068.6L1406.2,1068.6M1451.5,1022.4L1446.2,1022.4M1441,1070.2L1451.5,1070.2M1446.5,1024L1441.3,1024M1440.4,1064.4L1440.4,1068.6L1441.3,1068.6M1484.5,1070.2L1479.3,1070.2M1479.1,1024L1484.3,1024M1484.3,1068.6L1479.1,1068.6M1571.4,1070.2L1576.6,1070.2M1594,1022.4L1599.2,1022.4M1593.9,1024L1604.2,1024M1599.1,1068.6L1588.8,1068.6M1633.9,1022.4L1628.7,1022.4M1634.1,1068.6L1639.3,1068.6M1661.8,1022.4L1667,1022.4M1666.8,1024L1671.9,1024M1671.9,1068.6L1666.8,1068.6M1724.3,1070.2L1713.9,1070.2M1713.9,1024L1719,1024M1774.7,1022.4L1769.5,1022.4M1769.5,1070.2L1774.7,1070.2M1764.4,1068.6L1774.7,1068.6M1776.4,1024L1781.6,1024M1786.7,1068.6L1776.4,1068.6M1269,1132L1274.2,1132M1263.9,1085.8L1258.8,1085.8M1258.8,1130.4L1269.1,1130.4M1276,1084.2L1281.2,1084.2M1286.3,1130.4L1281.1,1130.4M1588.8,1084.2L1594,1084.2M1588.8,1085.8L1593.9,1085.8M1769.5,1132L1774.7,1132M1774.7,1085.8L1764.4,1085.8M1769.6,1130.4L1774.7,1130.4M1781.6,1085.8L1786.7,1085.8M1791.9,1085.8L1797.1,1085.8M1786.7,1130.4L1781.6,1130.4" stroke="#00FF8C" stroke-width="1.75"/>
<path d="M1649.6,714.8L1644.5,714.8M1656.5,759.4L1651.3,759.4M1263.8,775L1258.6,775M1258.6,822.8L1263.8,822.8M1263.9,776.6L1258.8,776.6M1286.3,776.6L1291.4,776.6M1296.6,821.2L1291.4,821.2M1587,775L1581.8,775M1581.8,822.8L1587,822.8M1581.9,776.6L1576.7,776.6M1588.8,775L1594,775M1593.9,821.2L1588.8,821.2M1644.5,821.2L1649.6,821.2M1656.5,822.8L1651.3,822.8M1263.8,836.9L1258.6,836.9M1258.8,838.5L1253.6,838.5M1258.8,883.1L1263.9,883.1M1281.2,836.9L1286.4,836.9M1291.6,884.6L1286.4,884.6M1286.3,838.5L1291.4,838.5M1296.6,883.1L1291.4,883.1M1331.7,838.5L1326.5,838.5M1321.3,883.1L1326.5,883.1M1343.7,836.9L1349,836.9M1349,884.6L1338.5,884.6M1343.7,838.5L1348.8,838.5M1354,883.1L1343.7,883.1M1383.7,836.9L1378.5,836.9M1378.5,884.6L1383.7,884.6M1378.7,838.5L1377.8,838.5L1377.8,842.7M1416.8,836.9L1422,836.9M1422,884.6L1416.8,884.6M1422.6,842.7L1422.6,847.9M1461.9,836.9L1456.7,836.9M1456.7,884.6L1461.9,884.6M1456.8,883.1L1461.9,883.1M1463.6,836.9L1468.9,836.9M1474.1,884.6L1463.6,884.6M1468.8,838.5L1473.9,838.5M1524.5,836.9L1519.3,836.9M1514.2,883.1L1519.3,883.1M1526.2,836.9L1531.4,836.9M1536.6,884.6L1531.4,884.6M1526.2,838.5L1531.3,838.5M1536.5,883.1L1531.3,883.1M1566.4,838.5L1565.5,838.5L1565.5,842.7M1609.4,838.5L1610.3,838.5L1610.3,842.7M1639.2,836.9L1633.9,836.9M1628.7,884.6L1633.9,884.6M1639.3,838.5L1634.1,838.5M1661.8,836.9L1667,836.9M1667,884.6L1661.8,884.6M1671.9,883.1L1666.8,883.1M1696.7,883.1L1701.9,883.1M1724.3,836.9L1729.6,836.9M1734.8,884.6L1724.3,884.6M1734.5,883.1L1729.3,883.1M1769.5,836.9L1764.3,836.9M1769.5,884.6L1774.7,884.6M1769.6,838.5L1764.4,838.5M1769.6,883.1L1774.7,883.1M1781.7,836.9L1786.9,836.9M1781.7,884.6L1776.4,884.6M1781.6,838.5L1786.7,838.5M1791.9,883.1L1786.7,883.1M1258.6,898.7L1253.3,898.7M1258.8,900.3L1253.6,900.3M1321.1,898.7L1315.9,898.7M1321.3,900.3L1316.2,900.3M1388.9,898.7L1383.7,898.7M1378.5,946.5L1383.7,946.5M1378.7,944.9L1383.9,944.9M1416.5,900.3L1421.7,900.3M1461.9,898.7L1456.7,898.7M1451.5,946.5L1456.7,946.5M1451.6,900.3L1446.5,900.3M1456.8,944.9L1461.9,944.9M1463.6,898.7L1468.9,898.7M1473.9,944.9L1468.8,944.9M1524.5,898.7L1519.3,898.7M1519.3,946.5L1524.5,946.5M1514.2,900.3L1509,900.3M1531.4,898.7L1536.6,898.7M1531.3,900.3L1541.7,900.3M1576.6,898.7L1571.4,898.7M1571.4,946.5L1576.6,946.5M1604.4,946.5L1599.2,946.5M1609.4,944.9L1599.1,944.9M1626.5,943.5L1626.5,946.5L1628.7,946.5M1628.1,940.7L1628.1,944.9L1629,944.9M1674.5,943.5L1674.5,946.5L1672.2,946.5M1696.5,898.7L1691.3,898.7M1729.6,898.7L1734.8,898.7M1734.8,946.5L1729.6,946.5M1729.3,900.3L1734.5,900.3M1734.5,944.9L1729.3,944.9M1774.7,898.7L1769.5,898.7M1764.4,900.3L1759.3,900.3M1764.4,944.9L1769.6,944.9M1781.7,898.7L1786.9,898.7M1781.7,946.5L1776.4,946.5M1263.8,960.6L1258.6,960.6M1258.6,1008.3L1263.8,1008.3M1258.8,962.1L1253.6,962.1M1291.6,960.6L1296.9,960.6M1296.6,1006.8L1291.4,1006.8M1313.7,1005.4L1313.7,1008.3L1315.9,1008.3M1316.2,962.1L1315.3,962.1L1315.3,966.4M1315.3,1002.5L1315.3,1006.8L1316.2,1006.8M1360.1,1002.5L1360.1,1006.8L1359.1,1006.8M1388.9,960.6L1383.7,960.6M1378.5,1008.3L1383.7,1008.3M1383.9,962.1L1378.7,962.1M1378.7,1006.8L1383.9,1006.8M1416.8,960.6L1422,960.6M1416.5,962.1L1421.7,962.1M1421.7,1006.8L1416.5,1006.8M1456.8,1006.8L1461.9,1006.8M1519.3,1006.8L1524.5,1006.8M1531.4,1008.3L1526.2,1008.3M1526.2,962.1L1531.3,962.1M1536.5,1006.8L1531.3,1006.8M1576.6,1008.3L1587,1008.3M1581.9,962.1L1576.7,962.1M1576.7,1006.8L1581.9,1006.8M1588.8,960.6L1594,960.6M1599.1,1006.8L1593.9,1006.8M1639.2,960.6L1633.9,960.6M1628.1,1002.5L1628.1,1006.8L1629,1006.8M1634.1,1006.8L1639.3,1006.8M1661.8,960.6L1667,960.6M1672.2,1008.3L1667,1008.3M1701.7,1008.3L1706.9,1008.3M1701.9,962.1L1696.7,962.1M1696.7,1006.8L1701.9,1006.8M1719.1,960.6L1729.6,960.6M1729.6,1008.3L1724.3,1008.3M1724.2,962.1L1729.3,962.1M1729.3,1006.8L1719,1006.8M1769.6,1006.8L1774.7,1006.8M1258.8,1024L1253.6,1024M1296.6,1068.6L1291.4,1068.6M1321.1,1022.4L1315.9,1022.4M1316.2,1068.6L1321.3,1068.6M1359.4,1070.2L1354.2,1070.2M1394.1,1022.4L1388.9,1022.4M1394.1,1070.2L1399.4,1070.2M1389.1,1024L1383.9,1024M1389.1,1068.6L1394.2,1068.6M1406.3,1022.4L1411.5,1022.4M1406.3,1070.2L1401.1,1070.2M1451.6,1024L1446.5,1024M1441.3,1068.6L1446.5,1068.6M1474.1,1022.4L1479.3,1022.4M1479.3,1070.2L1474.1,1070.2M1473.9,1024L1479.1,1024M1587,1022.4L1576.6,1022.4M1576.6,1070.2L1587,1070.2M1581.9,1024L1576.7,1024M1576.7,1068.6L1581.9,1068.6M1588.8,1022.4L1594,1022.4M1594,1070.2L1588.8,1070.2M1628.7,1070.2L1639.2,1070.2M1634.1,1024L1629,1024M1629,1068.6L1634.1,1068.6M1656.5,1022.4L1661.8,1022.4M1667,1070.2L1661.8,1070.2M1661.6,1024L1666.8,1024M1774.7,1024L1769.6,1024M1274.2,1084.2L1269,1084.2M1269.1,1085.8L1263.9,1085.8M1776.4,1085.8L1781.6,1085.8M1781.6,1130.4L1776.4,1130.4" stroke="#00FF46" stroke-width="1.75"/>
<path d="M1274.2,775L1269,775M1269,822.8L1274.2,822.8M1281.2,822.8L1276,822.8M1274.2,836.9L1269,836.9M1269,884.6L1274.2,884.6M1274.2,838.5L1263.9,838.5M1281.2,884.6L1276,884.6M1281.1,838.5L1286.3,838.5M1286.3,883.1L1276,883.1M1331.7,883.1L1336.8,883.1M1388.9,836.9L1383.7,836.9M1411.4,838.5L1416.5,838.5M1416.5,883.1L1411.4,883.1M1576.7,838.5L1571.6,838.5M1571.6,883.1L1576.7,883.1M1599.2,836.9L1604.4,836.9M1599.1,838.5L1604.2,838.5M1656.5,836.9L1661.8,836.9M1661.8,884.6L1656.5,884.6M1656.5,838.5L1661.6,838.5M1661.6,883.1L1656.5,883.1M1707,838.5L1701.9,838.5M1701.9,883.1L1707,883.1M1713.9,836.9L1719.1,836.9M1719,838.5L1724.2,838.5M1724.2,883.1L1719,883.1M1781.6,883.1L1776.4,883.1M1269,898.7L1263.8,898.7M1276,898.7L1281.2,898.7M1291.4,944.9L1281.1,944.9M1331.6,898.7L1326.4,898.7M1326.4,946.5L1331.6,946.5M1326.5,944.9L1331.7,944.9M1343.7,898.7L1349,898.7M1349,946.5L1343.7,946.5M1348.8,944.9L1343.7,944.9M1394.1,898.7L1388.9,898.7M1388.9,946.5L1394.1,946.5M1394.2,900.3L1389.1,900.3M1406.3,898.7L1411.5,898.7M1411.5,946.5L1406.3,946.5M1411.4,900.3L1416.5,900.3M1587,898.7L1581.8,898.7M1581.8,946.5L1587,946.5M1581.9,900.3L1576.7,900.3M1581.9,944.9L1587,944.9M1588.8,898.7L1594,898.7M1594,946.5L1588.8,946.5M1639.3,900.3L1634.1,900.3M1634.1,944.9L1639.3,944.9M1661.8,898.7L1667,898.7M1667,946.5L1661.8,946.5M1661.6,900.3L1666.8,900.3M1701.7,946.5L1706.9,946.5M1696.7,944.9L1701.9,944.9M1719.1,898.7L1724.3,898.7M1724.3,946.5L1719.1,946.5M1719,900.3L1724.2,900.3M1724.2,944.9L1719,944.9M1274.2,960.6L1269,960.6M1263.9,1006.8L1269.1,1006.8M1286.4,1008.3L1281.2,1008.3M1286.3,1006.8L1281.1,1006.8M1388.9,1008.3L1394.1,1008.3M1389.1,1006.8L1394.2,1006.8M1406.3,960.6L1411.5,960.6M1406.2,962.1L1411.4,962.1M1411.4,1006.8L1406.2,1006.8M1644.5,962.1L1639.3,962.1M1656.5,962.1L1661.6,962.1M1707,1006.8L1712.2,1006.8M1713.9,962.1L1719,962.1M1263.8,1022.4L1258.6,1022.4M1258.6,1070.2L1263.8,1070.2M1263.9,1024L1258.8,1024M1258.8,1068.6L1263.9,1068.6M1291.6,1070.2L1286.4,1070.2M1326.4,1070.2L1331.6,1070.2M1331.7,1024L1326.5,1024M1321.3,1068.6L1326.5,1068.6M1349,1070.2L1343.7,1070.2M1348.8,1068.6L1343.7,1068.6M1456.7,1070.2L1461.9,1070.2M1461.9,1024L1456.8,1024M1463.6,1022.4L1468.9,1022.4M1463.6,1024L1468.8,1024M1644.5,1024L1639.3,1024M1651.3,1024L1656.5,1024M1656.5,1068.6L1651.3,1068.6" stroke="#8CFF00" stroke-width="1.75"/>
<path d="M1269,775L1263.8,775M1263.9,821.2L1269.1,821.2M1276,775L1281.2,775M1281.1,776.6L1286.3,776.6M1286.3,821.2L1281.1,821.2M1269,836.9L1263.8,836.9M1263.9,838.5L1258.8,838.5M1269.1,883.1L1274.2,883.1M1276,836.9L1281.2,836.9M1291.4,883.1L1286.3,883.1M1336.8,838.5L1331.7,838.5M1326.5,883.1L1331.7,883.1M1383.7,884.6L1388.9,884.6M1383.9,838.5L1378.7,838.5M1411.5,836.9L1416.8,836.9M1421.7,883.1L1416.5,883.1M1461.9,838.5L1456.8,838.5M1571.4,884.6L1576.6,884.6M1604.4,884.6L1599.2,884.6M1644.4,836.9L1639.2,836.9M1644.4,884.6L1649.6,884.6M1644.5,838.5L1639.3,838.5M1639.3,883.1L1644.5,883.1M1666.8,883.1L1661.6,883.1M1706.9,836.9L1701.7,836.9M1701.7,884.6L1706.9,884.6M1701.9,838.5L1696.7,838.5M1719.1,836.9L1724.3,836.9M1724.3,884.6L1719.1,884.6M1724.2,838.5L1729.3,838.5M1729.3,883.1L1724.2,883.1M1774.7,838.5L1769.6,838.5M1776.4,836.9L1781.7,836.9M1776.4,838.5L1781.6,838.5M1786.7,883.1L1781.6,883.1M1263.8,898.7L1258.6,898.7M1269.1,900.3L1263.9,900.3M1281.2,898.7L1286.4,898.7M1286.4,946.5L1281.2,946.5M1281.1,900.3L1286.3,900.3M1331.7,900.3L1326.5,900.3M1321.3,944.9L1326.5,944.9M1349,898.7L1354.2,898.7M1348.8,900.3L1354,900.3M1383.7,946.5L1388.9,946.5M1383.9,944.9L1389.1,944.9M1416.5,944.9L1411.4,944.9M1461.9,900.3L1451.6,900.3M1463.6,900.3L1468.8,900.3M1468.8,944.9L1463.6,944.9M1524.5,900.3L1519.3,900.3M1531.3,944.9L1526.2,944.9M1581.8,898.7L1576.6,898.7M1576.7,900.3L1571.6,900.3M1594,898.7L1599.2,898.7M1593.9,900.3L1599.1,900.3M1599.1,944.9L1593.9,944.9M1639.2,898.7L1633.9,898.7M1628.7,946.5L1633.9,946.5M1701.7,898.7L1696.5,898.7M1701.9,900.3L1696.7,900.3M1724.3,898.7L1729.6,898.7M1774.7,900.3L1764.4,900.3M1776.4,900.3L1786.7,900.3M1781.6,944.9L1776.4,944.9M1263.9,962.1L1258.8,962.1M1258.8,1006.8L1263.9,1006.8M1286.4,960.6L1291.6,960.6M1281.1,962.1L1286.3,962.1M1321.1,960.6L1315.9,960.6M1315.9,1008.3L1321.1,1008.3M1316.2,1006.8L1321.3,1006.8M1354.2,960.6L1359.4,960.6M1359.4,1008.3L1354.2,1008.3M1354,962.1L1359.1,962.1M1359.1,1006.8L1354,1006.8M1394.1,960.6L1388.9,960.6M1383.7,1008.3L1388.9,1008.3M1389.1,962.1L1383.9,962.1M1411.5,1008.3L1401.1,1008.3M1416.5,1006.8L1411.4,1006.8M1644.4,960.6L1639.2,960.6M1639.2,1008.3L1644.4,1008.3M1656.5,960.6L1661.8,960.6M1667,1008.3L1661.8,1008.3M1706.9,1008.3L1712.2,1008.3M1707,962.1L1701.9,962.1M1713.9,960.6L1719.1,960.6M1719,962.1L1724.2,962.1M1719,1006.8L1713.9,1006.8M1253.6,1068.6L1258.8,1068.6M1286.4,1022.4L1291.6,1022.4M1286.3,1024L1291.4,1024M1291.4,1068.6L1286.3,1068.6M1343.7,1024L1348.8,1024M1399.4,1024L1394.2,1024M1394.2,1068.6L1399.4,1068.6M1401.1,1024L1406.2,1024M1461.9,1022.4L1456.7,1022.4M1451.5,1070.2L1456.7,1070.2M1456.8,1024L1451.6,1024M1451.6,1068.6L1456.8,1068.6M1468.9,1022.4L1474.1,1022.4M1468.9,1070.2L1463.6,1070.2M1473.9,1068.6L1468.8,1068.6M1649.6,1022.4L1644.4,1022.4M1644.4,1070.2L1649.6,1070.2M1644.5,1068.6L1649.6,1068.6M1651.3,1022.4L1656.5,1022.4M1656.5,1070.2L1651.3,1070.2M1661.6,1068.6L1656.5,1068.6" stroke="#4BFF00" stroke-width="1.75"/>
<path d="M1263.8,822.8L1269,822.8M1269.1,776.6L1263.9,776.6M1258.8,821.2L1263.9,821.2M1281.2,775L1286.4,775M1286.4,822.8L1281.2,822.8M1291.4,821.2L1286.3,821.2M1587,776.6L1581.9,776.6M1576.7,821.2L1587,821.2M1588.8,776.6L1593.9,776.6M1263.8,884.6L1269,884.6M1263.9,883.1L1269.1,883.1M1286.4,884.6L1281.2,884.6M1336.8,836.9L1331.6,836.9M1326.4,884.6L1336.8,884.6M1338.5,836.9L1343.7,836.9M1338.5,838.5L1343.7,838.5M1343.7,883.1L1338.5,883.1M1378.7,883.1L1383.9,883.1M1416.8,884.6L1411.5,884.6M1416.5,838.5L1422.6,838.5L1422.6,842.7M1463.6,838.5L1468.8,838.5M1473.9,883.1L1463.6,883.1M1519.3,884.6L1524.5,884.6M1524.5,838.5L1514.2,838.5M1519.3,883.1L1524.5,883.1M1531.4,884.6L1526.2,884.6M1531.3,883.1L1526.2,883.1M1571.4,836.9L1566.1,836.9M1571.6,838.5L1566.4,838.5M1566.4,883.1L1571.6,883.1M1604.4,836.9L1609.7,836.9M1609.7,884.6L1604.4,884.6M1604.2,838.5L1609.4,838.5M1609.4,883.1L1604.2,883.1M1633.9,884.6L1644.4,884.6M1634.1,883.1L1639.3,883.1M1661.6,838.5L1671.9,838.5M1701.7,836.9L1696.5,836.9M1696.5,884.6L1701.7,884.6M1696.7,838.5L1691.5,838.5M1729.3,838.5L1734.5,838.5M1774.7,836.9L1769.5,836.9M1258.6,946.5L1269,946.5M1263.9,900.3L1258.8,900.3M1253.6,944.9L1263.9,944.9M1286.4,898.7L1291.6,898.7M1291.6,946.5L1286.4,946.5M1286.3,900.3L1291.4,900.3M1296.6,944.9L1291.4,944.9M1326.4,898.7L1321.1,898.7M1321.1,946.5L1326.4,946.5M1326.5,900.3L1321.3,900.3M1359.4,946.5L1349,946.5M1354,900.3L1359.1,900.3M1359.1,944.9L1348.8,944.9M1389.1,900.3L1378.7,900.3M1411.5,898.7L1416.8,898.7M1416.8,946.5L1411.5,946.5M1468.9,946.5L1463.6,946.5M1468.8,900.3L1479.1,900.3M1519.3,900.3L1514.2,900.3M1519.3,944.9L1524.5,944.9M1526.2,898.7L1531.4,898.7M1531.4,946.5L1526.2,946.5M1526.2,900.3L1531.3,900.3M1536.5,944.9L1531.3,944.9M1576.6,946.5L1581.8,946.5M1571.6,944.9L1581.9,944.9M1599.2,898.7L1604.4,898.7M1599.2,946.5L1594,946.5M1599.1,900.3L1604.2,900.3M1633.9,898.7L1628.7,898.7M1634.1,900.3L1629,900.3M1629,944.9L1634.1,944.9M1667,898.7L1672.2,898.7M1672.2,946.5L1667,946.5M1666.8,900.3L1671.9,900.3M1671.9,944.9L1666.8,944.9M1696.5,946.5L1701.7,946.5M1696.7,900.3L1691.5,900.3M1691.5,944.9L1696.7,944.9M1729.6,946.5L1724.3,946.5M1724.2,900.3L1729.3,900.3M1729.3,944.9L1724.2,944.9M1769.5,946.5L1774.7,946.5M1769.6,944.9L1774.7,944.9M1776.4,898.7L1781.7,898.7M1786.7,944.9L1781.6,944.9M1269,960.6L1263.8,960.6M1263.8,1008.3L1269,1008.3M1291.6,1008.3L1286.4,1008.3M1286.3,962.1L1291.4,962.1M1291.4,1006.8L1286.3,1006.8M1359.1,962.1L1360.1,962.1L1360.1,966.4M1383.9,1006.8L1389.1,1006.8M1411.5,960.6L1416.8,960.6M1416.8,1008.3L1411.5,1008.3M1411.4,962.1L1416.5,962.1M1531.3,1006.8L1526.2,1006.8M1587,960.6L1576.6,960.6M1587,962.1L1581.9,962.1M1581.9,1006.8L1587,1006.8M1594,1008.3L1588.8,1008.3M1588.8,962.1L1593.9,962.1M1593.9,1006.8L1588.8,1006.8M1633.9,1008.3L1639.2,1008.3M1639.3,962.1L1634.1,962.1M1661.6,962.1L1666.8,962.1M1666.8,1006.8L1661.6,1006.8M1712.2,960.6L1706.9,960.6M1701.9,1006.8L1707,1006.8M1724.3,1008.3L1713.9,1008.3M1258.6,1022.4L1253.3,1022.4M1253.3,1070.2L1258.6,1070.2M1291.6,1022.4L1296.9,1022.4M1296.9,1070.2L1291.6,1070.2M1291.4,1024L1296.6,1024M1326.4,1022.4L1321.1,1022.4M1315.9,1070.2L1326.4,1070.2M1326.5,1024L1321.3,1024M1343.7,1022.4L1354.2,1022.4M1354.2,1070.2L1349,1070.2M1348.8,1024L1354,1024M1359.1,1068.6L1348.8,1068.6M1399.4,1022.4L1394.1,1022.4M1394.2,1024L1389.1,1024M1401.1,1022.4L1406.3,1022.4M1406.2,1068.6L1401.1,1068.6M1456.7,1022.4L1451.5,1022.4M1446.5,1068.6L1451.6,1068.6M1474.1,1070.2L1468.9,1070.2M1468.8,1024L1473.9,1024M1479.1,1068.6L1473.9,1068.6M1587,1024L1581.9,1024M1581.9,1068.6L1587,1068.6M1588.8,1024L1593.9,1024M1644.4,1022.4L1633.9,1022.4M1639.2,1070.2L1644.4,1070.2M1639.3,1024L1634.1,1024M1639.3,1068.6L1644.5,1068.6M1661.8,1070.2L1656.5,1070.2M1656.5,1024L1661.6,1024M1666.8,1068.6L1661.6,1068.6M1274.2,1085.8L1269.1,1085.8M1269.1,1130.4L1274.2,1130.4M1276,1085.8L1281.1,1085.8M1281.1,1130.4L1276,1130.4" stroke="#00FF00" stroke-width="1.75"/>
<path d="M1274.2,776.6L1269.1,776.6M1269.1,821.2L1274.2,821.2M1276,776.6L1281.1,776.6M1276,838.5L1281.1,838.5M1388.9,884.6L1394.1,884.6M1389.1,838.5L1383.9,838.5M1383.9,883.1L1389.1,883.1M1411.5,884.6L1406.3,884.6M1576.6,836.9L1571.4,836.9M1576.6,884.6L1581.8,884.6M1599.2,884.6L1594,884.6M1593.9,838.5L1599.1,838.5M1604.2,883.1L1599.1,883.1M1649.6,836.9L1644.4,836.9M1649.6,838.5L1644.5,838.5M1651.3,836.9L1656.5,836.9M1712.2,836.9L1706.9,836.9M1712.2,838.5L1707,838.5M1719.1,884.6L1713.9,884.6M1274.2,898.7L1269,898.7M1269,946.5L1274.2,946.5M1274.2,900.3L1269.1,900.3M1263.9,944.9L1269.1,944.9M1281.2,946.5L1276,946.5M1276,900.3L1281.1,900.3M1336.8,898.7L1331.6,898.7M1331.6,946.5L1336.8,946.5M1338.5,898.7L1343.7,898.7M1389.1,944.9L1394.2,944.9M1406.2,900.3L1411.4,900.3M1411.4,944.9L1406.2,944.9M1593.9,944.9L1588.8,944.9M1666.8,944.9L1661.6,944.9M1706.9,898.7L1701.7,898.7M1701.9,944.9L1707,944.9M1269,1008.3L1274.2,1008.3M1269.1,962.1L1263.9,962.1M1281.2,960.6L1286.4,960.6M1281.2,1008.3L1276,1008.3M1321.3,962.1L1316.2,962.1M1349,960.6L1354.2,960.6M1354.2,1008.3L1349,1008.3M1399.4,960.6L1394.1,960.6M1394.2,962.1L1389.1,962.1M1401.1,960.6L1406.3,960.6M1649.6,960.6L1644.4,960.6M1644.4,1008.3L1649.6,1008.3M1639.3,1006.8L1644.5,1006.8M1651.3,960.6L1656.5,960.6M1661.8,1008.3L1651.3,1008.3M1651.3,962.1L1656.5,962.1M1661.6,1006.8L1656.5,1006.8M1712.2,962.1L1707,962.1M1269,1022.4L1263.8,1022.4M1281.2,1022.4L1286.4,1022.4M1286.4,1070.2L1281.2,1070.2M1281.1,1024L1286.3,1024M1331.6,1022.4L1326.4,1022.4M1326.5,1068.6L1331.7,1068.6M1338.5,1022.4L1343.7,1022.4M1649.6,1024L1644.5,1024" stroke="#DCFF00" stroke-width="1.75"/>
<path d="M1281.1,821.2L1276,821.2M1406.3,836.9L1411.5,836.9M1581.8,836.9L1576.6,836.9M1576.7,883.1L1581.9,883.1M1594,836.9L1599.2,836.9M1599.1,883.1L1593.9,883.1M1644.5,883.1L1649.6,883.1M1656.5,884.6L1651.3,884.6M1651.3,838.5L1656.5,838.5M1706.9,884.6L1712.2,884.6M1713.9,838.5L1719,838.5M1336.8,900.3L1331.7,900.3M1331.7,944.9L1336.8,944.9M1343.7,900.3L1348.8,900.3M1399.4,898.7L1394.1,898.7M1394.1,946.5L1399.4,946.5M1394.2,944.9L1399.4,944.9M1401.1,898.7L1406.3,898.7M1406.3,946.5L1401.1,946.5M1406.2,944.9L1401.1,944.9M1587,900.3L1581.9,900.3M1588.8,900.3L1593.9,900.3M1644.4,898.7L1639.2,898.7M1633.9,946.5L1639.2,946.5M1656.5,898.7L1661.8,898.7M1706.9,946.5L1712.2,946.5M1707,900.3L1701.9,900.3M1713.9,898.7L1719.1,898.7M1719.1,946.5L1713.9,946.5M1274.2,962.1L1269.1,962.1M1276,960.6L1281.2,960.6M1276,962.1L1281.1,962.1M1281.1,1006.8L1276,1006.8M1326.4,960.6L1321.1,960.6M1321.3,1006.8L1326.5,1006.8M1348.8,962.1L1354,962.1M1394.1,1008.3L1399.4,1008.3M1399.4,962.1L1394.2,962.1M1394.2,1006.8L1399.4,1006.8M1401.1,962.1L1406.2,962.1M1406.2,1006.8L1401.1,1006.8M1649.6,962.1L1644.5,962.1M1644.5,1006.8L1649.6,1006.8M1656.5,1006.8L1651.3,1006.8M1263.8,1070.2L1269,1070.2M1269.1,1024L1263.9,1024M1263.9,1068.6L1269.1,1068.6M1286.3,1068.6L1281.1,1068.6M1336.8,1022.4L1331.6,1022.4M1331.6,1070.2L1336.8,1070.2M1343.7,1070.2L1338.5,1070.2M1338.5,1024L1343.7,1024M1456.8,1068.6L1461.9,1068.6M1468.8,1068.6L1463.6,1068.6" stroke="#FFD700" stroke-width="1.75"/>
<path d="M1399.4,836.9L1394.1,836.9M1399.4,838.5L1394.2,838.5M1394.2,883.1L1399.4,883.1M1401.1,838.5L1406.2,838.5M1406.2,883.1L1401.1,883.1M1587,838.5L1581.9,838.5M1588.8,836.9L1594,836.9M1593.9,883.1L1588.8,883.1M1644.4,946.5L1649.6,946.5M1649.6,900.3L1644.5,900.3M1644.5,944.9L1649.6,944.9M1656.5,946.5L1651.3,946.5M1651.3,900.3L1656.5,900.3M1656.5,944.9L1651.3,944.9M1336.8,960.6L1331.6,960.6M1326.4,1008.3L1336.8,1008.3M1336.8,962.1L1326.5,962.1M1326.5,1006.8L1336.8,1006.8M1338.5,960.6L1343.7,960.6M1343.7,1008.3L1338.5,1008.3M1338.5,962.1L1348.8,962.1M1348.8,1006.8L1338.5,1006.8M1269,1070.2L1274.2,1070.2M1274.2,1024L1269.1,1024M1276,1024L1281.1,1024" stroke="#FF0000" stroke-width="1.75"/>
<path d="M1394.1,836.9L1388.9,836.9M1394.1,884.6L1399.4,884.6M1394.2,838.5L1389.1,838.5M1389.1,883.1L1394.2,883.1M1406.2,838.5L1411.4,838.5M1411.4,883.1L1406.2,883.1M1587,836.9L1581.8,836.9M1581.8,884.6L1587,884.6M1581.9,838.5L1576.7,838.5M1594,884.6L1588.8,884.6M1656.5,883.1L1651.3,883.1M1707,883.1L1712.2,883.1M1719,883.1L1713.9,883.1M1269.1,944.9L1274.2,944.9M1281.1,944.9L1276,944.9M1343.7,946.5L1338.5,946.5M1338.5,900.3L1343.7,900.3M1343.7,944.9L1338.5,944.9M1399.4,900.3L1394.2,900.3M1639.2,946.5L1644.4,946.5M1644.5,900.3L1639.3,900.3M1639.3,944.9L1644.5,944.9M1661.8,946.5L1656.5,946.5M1661.6,944.9L1656.5,944.9M1712.2,898.7L1706.9,898.7M1713.9,900.3L1719,900.3M1719,944.9L1713.9,944.9M1269.1,1006.8L1274.2,1006.8M1321.1,1008.3L1326.4,1008.3M1326.5,962.1L1321.3,962.1M1354,1006.8L1348.8,1006.8M1269.1,1068.6L1274.2,1068.6M1276,1022.4L1281.2,1022.4M1281.2,1070.2L1276,1070.2M1336.8,1024L1331.7,1024M1331.7,1068.6L1336.8,1068.6M1343.7,1068.6L1338.5,1068.6" stroke="#FF8C00" stroke-width="1.75"/>
<path d="M1401.1,836.9L1406.3,836.9M1406.3,884.6L1401.1,884.6M1581.9,883.1L1587,883.1M1588.8,838.5L1593.9,838.5M1401.1,900.3L1406.2,900.3M1649.6,898.7L1644.4,898.7M1651.3,898.7L1656.5,898.7M1656.5,900.3L1661.6,900.3M1712.2,900.3L1707,900.3M1707,944.9L1712.2,944.9M1331.6,960.6L1326.4,960.6M1343.7,960.6L1349,960.6M1349,1008.3L1343.7,1008.3M1274.2,1022.4L1269,1022.4M1281.1,1068.6L1276,1068.6" stroke="#FF4B00" stroke-width="1.75"/>
<path d="M1273.1,654.3V673H1255.5M1273.1,696.1V677.3H1255.5M1277.1,654.3V673H1294.1M1277.1,696.1V677.3H1294.1M1335.7,654.3V673H1318.1M1335.7,696.1V677.3H1318.1M1339.7,654.3V673H1356.7M1339.7,696.1V677.3H1356.7M1398.2,654.3V673H1380.6M1398.2,696.1V677.3H1380.6M1402.2,654.3V673H1419.2M1402.2,696.1V677.3H1419.2M1460.8,654.3V673H1443.2M1460.8,696.1V677.3H1443.2M1464.8,654.3V673H1481.8M1464.8,696.1V677.3H1481.8M1523.3,654.3V673H1505.7M1523.3,696.1V677.3H1505.7M1527.3,654.3V673H1544.3M1527.3,696.1V677.3H1544.3M1585.9,654.3V673H1568.3M1585.9,696.1V677.3H1568.3M1589.9,654.3V673H1606.9M1589.9,696.1V677.3H1606.9M1648.5,654.3V673H1630.9M1648.5,696.1V677.3H1630.9M1652.5,654.3V673H1669.5M1652.5,696.1V677.3H1669.5M1711,654.3V673H1693.4M1711,696.1V677.3H1693.4M1715,654.3V673H1732M1715,696.1V677.3H1732M1773.6,654.3V673H1756M1773.6,696.1V677.3H1756M1777.6,654.3V673H1794.6M1777.6,696.1V677.3H1794.6M1273.1,716.1V734.9H1255.5M1273.1,758V739.2H1255.5M1277.1,716.1V734.9H1294.1M1277.1,758V739.2H1294.1M1335.7,716.1V734.9H1318.1M1335.7,758V739.2H1318.1M1339.7,716.1V734.9H1356.7M1339.7,758V739.2H1356.7M1398.2,716.1V734.9H1380.6M1398.2,758V739.2H1380.6M1402.2,716.1V734.9H1419.2M1402.2,758V739.2H1419.2M1460.8,716.1V734.9H1443.2M1460.8,758V739.2H1443.2M1464.8,716.1V734.9H1481.8M1464.8,758V739.2H1481.8M1523.3,716.1V734.9H1505.7M1523.3,758V739.2H1505.7M1527.3,716.1V734.9H1544.3M1527.3,758V739.2H1544.3M1585.9,716.1V734.9H1568.3M1585.9,758V739.2H1568.3M1589.9,716.1V734.9H1606.9M1589.9,758V739.2H1606.9M1648.5,716.1V734.9H1630.9M1648.5,758V739.2H1630.9M1652.5,716.1V734.9H1669.5M1652.5,758V739.2H1669.5M1711,716.1V734.9H1693.4M1711,758V739.2H1693.4M1715,716.1V734.9H1732M1715,758V739.2H1732M1773.6,716.1V734.9H1756M1773.6,758V739.2H1756M1777.6,716.1V734.9H1794.6M1777.6,758V739.2H1794.6M1273.1,778V796.8H1255.5M1273.1,819.8V801H1255.5M1277.1,778V796.8H1294.1M1277.1,819.8V801H1294.1M1335.7,778V796.8H1318.1M1335.7,819.8V801H1318.1M1339.7,778V796.8H1356.7M1339.7,819.8V801H1356.7M1398.2,778V796.8H1380.6M1398.2,819.8V801H1380.6M1402.2,778V796.8H1419.2M1402.2,819.8V801H1419.2M1460.8,778V796.8H1443.2M1460.8,819.8V801H1443.2M1464.8,778V796.8H1481.8M1464.8,819.8V801H1481.8M1523.3,778V796.8H1505.7M1523.3,819.8V801H1505.7M1527.3,778V796.8H1544.3M1527.3,819.8V801H1544.3M1585.9,778V796.8H1568.3M1585.9,819.8V801H1568.3M1589.9,778V796.8H1606.9M1589.9,819.8V801H1606.9M1648.5,778V796.8H1630.9M1648.5,819.8V801H1630.9M1652.5,778V796.8H1669.5M1652.5,819.8V801H1669.5M1711,778V796.8H1693.4M1711,819.8V801H1693.4M1715,778V796.8H1732M1715,819.8V801H1732M1773.6,778V796.8H1756M1773.6,819.8V801H1756M1777.6,778V796.8H1794.6M1777.6,819.8V801H1794.6M1273.1,839.9V858.6H1255.5M1273.1,881.7V862.9H1255.5M1277.1,839.9V858.6H1294.1M1277.1,881.7V862.9H1294.1M1335.7,839.9V858.6H1318.1M1335.7,881.7V862.9H1318.1M1339.7,839.9V858.6H1356.7M1339.7,881.7V862.9H1356.7M1398.2,839.9V858.6H1380.6M1398.2,881.7V862.9H1380.6M1402.2,839.9V858.6H1419.2M1402.2,881.7V862.9H1419.2M1460.8,839.9V858.6H1443.2M1460.8,881.7V862.9H1443.2M1464.8,839.9V858.6H1481.8M1464.8,881.7V862.9H1481.8M1523.3,839.9V858.6H1505.7M1523.3,881.7V862.9H1505.7M1527.3,839.9V858.6H1544.3M1527.3,881.7V862.9H1544.3M1585.9,839.9V858.6H1568.3M1585.9,881.7V862.9H1568.3M1589.9,839.9V858.6H1606.9M1589.9,881.7V862.9H1606.9M1648.5,839.9V858.6H1630.9M1648.5,881.7V862.9H1630.9M1652.5,839.9V858.6H1669.5M1652.5,881.7V862.9H1669.5M1711,839.9V858.6H1693.4M1711,881.7V862.9H1693.4M1715,839.9V858.6H1732M1715,881.7V862.9H1732M1773.6,839.9V858.6H1756M1773.6,881.7V862.9H1756M1777.6,839.9V858.6H1794.6M1777.6,881.7V862.9H1794.6M1273.1,901.7V920.4H1255.5M1273.1,943.5V924.7H1255.5M1277.1,901.7V920.4H1294.1M1277.1,943.5V924.7H1294.1M1335.7,901.7V920.4H1318.1M1335.7,943.5V924.7H1318.1M1339.7,901.7V920.4H1356.7M1339.7,943.5V924.7H1356.7M1398.2,901.7V920.4H1380.6M1398.2,943.5V924.7H1380.6M1402.2,901.7V920.4H1419.2M1402.2,943.5V924.7H1419.2M1460.8,901.7V920.4H1443.2M1460.8,943.5V924.7H1443.2M1464.8,901.7V920.4H1481.8M1464.8,943.5V924.7H1481.8M1523.3,901.7V920.4H1505.7M1523.3,943.5V924.7H1505.7M1527.3,901.7V920.4H1544.3M1527.3,943.5V924.7H1544.3M1585.9,901.7V920.4H1568.3M1585.9,943.5V924.7H1568.3M1589.9,901.7V920.4H1606.9M1589.9,943.5V924.7H1606.9M1648.5,901.7V920.4H1630.9M1648.5,943.5V924.7H1630.9M1652.5,901.7V920.4H1669.5M1652.5,943.5V924.7H1669.5M1711,901.7V920.4H1693.4M1711,943.5V924.7H1693.4M1715,901.7V920.4H1732M1715,943.5V924.7H1732M1773.6,901.7V920.4H1756M1773.6,943.5V924.7H1756M1777.6,901.7V920.4H1794.6M1777.6,943.5V924.7H1794.6M1273.1,963.5V982.3H1255.5M1273.1,1005.4V986.6H1255.5M1277.1,963.5V982.3H1294.1M1277.1,1005.4V986.6H1294.1M1335.7,963.5V982.3H1318.1M1335.7,1005.4V986.6H1318.1M1339.7,963.5V982.3H1356.7M1339.7,1005.4V986.6H1356.7M1398.2,963.5V982.3H1380.6M1398.2,1005.4V986.6H1380.6M1402.2,963.5V982.3H1419.2M1402.2,1005.4V986.6H1419.2M1460.8,963.5V982.3H1443.2M1460.8,1005.4V986.6H1443.2M1464.8,963.5V982.3H1481.8M1464.8,1005.4V986.6H1481.8M1523.3,963.5V982.3H1505.7M1523.3,1005.4V986.6H1505.7M1527.3,963.5V982.3H1544.3M1527.3,1005.4V986.6H1544.3M1585.9,963.5V982.3H1568.3M1585.9,1005.4V986.6H1568.3M1589.9,963.5V982.3H1606.9M1589.9,1005.4V986.6H1606.9M1648.5,963.5V982.3H1630.9M1648.5,1005.4V986.6H1630.9M1652.5,963.5V982.3H1669.5M1652.5,1005.4V986.6H1669.5M1711,963.5V982.3H1693.4M1711,1005.4V986.6H1693.4M1715,963.5V982.3H1732M1715,1005.4V986.6H1732M1773.6,963.5V982.3H1756M1773.6,1005.4V986.6H1756M1777.6,963.5V982.3H1794.6M1777.6,1005.4V986.6H1794.6M1273.1,1025.4V1044.1H1255.5M1273.1,1067.2V1048.5H1255.5M1277.1,1025.4V1044.1H1294.1M1277.1,1067.2V1048.5H1294.1M1335.7,1025.4V1044.1H1318.1M1335.7,1067.2V1048.5H1318.1M1339.7,1025.4V1044.1H1356.7M1339.7,1067.2V1048.5H1356.7M1398.2,1025.4V1044.1H1380.6M1398.2,1067.2V1048.5H1380.6M1402.2,1025.4V1044.1H1419.2M1402.2,1067.2V1048.5H1419.2M1460.8,1025.4V1044.1H1443.2M1460.8,1067.2V1048.5H1443.2M1464.8,1025.4V1044.1H1481.8M1464.8,1067.2V1048.5H1481.8M1523.3,1025.4V1044.1H1505.7M1523.3,1067.2V1048.5H1505.7M1527.3,1025.4V1044.1H1544.3M1527.3,1067.2V1048.5H1544.3M1585.9,1025.4V1044.1H1568.3M1585.9,1067.2V1048.5H1568.3M1589.9,1025.4V1044.1H1606.9M1589.9,1067.2V1048.5H1606.9M1648.5,1025.4V1044.1H1630.9M1648.5,1067.2V1048.5H1630.9M1652.5,1025.4V1044.1H1669.5M1652.5,1067.2V1048.5H1669.5M1711,1025.4V1044.1H1693.4M1711,1067.2V1048.5H1693.4M1715,1025.4V1044.1H1732M1715,1067.2V1048.5H1732M1773.6,1025.4V1044.1H1756M1773.6,1067.2V1048.5H1756M1777.6,1025.4V1044.1H1794.6M1777.6,1067.2V1048.5H1794.6M1273.1,1087.2V1106H1255.5M1273.1,1129V1110.3H1255.5M1277.1,1087.2V1106H1294.1M1277.1,1129V1110.3H1294.1M1335.7,1087.2V1106H1318.1M1335.7,1129V1110.3H1318.1M1339.7,1087.2V1106H1356.7M1339.7,1129V1110.3H1356.7M1398.2,1087.2V1106H1380.6M1398.2,1129V1110.3H1380.6M1402.2,1087.2V1106H1419.2M1402.2,1129V1110.3H1419.2M1460.8,1087.2V1106H1443.2M1460.8,1129V1110.3H1443.2M1464.8,1087.2V1106H1481.8M1464.8,1129V1110.3H1481.8M1523.3,1087.2V1106H1505.7M1523.3,1129V1110.3H1505.7M1527.3,1087.2V1106H1544.3M1527.3,1129V1110.3H1544.3M1585.9,1087.2V1106H1568.3M1585.9,1129V1110.3H1568.3M1589.9,1087.2V1106H1606.9M1589.9,1129V1110.3H1606.9M1648.5,1087.2V1106H1630.9M1648.5,1129V1110.3H1630.9M1652.5,1087.2V1106H1669.5M1652.5,1129V1110.3H1669.5M1711,1087.2V1106H1693.4M1711,1129V1110.3H1693.4M1715,1087.2V1106H1732M1715,1129V1110.3H1732M1773.6,1087.2V1106H1756M1773.6,1129V1110.3H1756M1777.6,1087.2V1106H1794.6M1777.6,1129V1110.3H1794.6M1273.1,1149.1V1167.8H1255.5M1273.1,1190.9V1172.2H1255.5M1277.1,1149.1V1167.8H1294.1M1277.1,1190.9V1172.2H1294.1M1335.7,1149.1V1167.8H1318.1M1335.7,1190.9V1172.2H1318.1M1339.7,1149.1V1167.8H1356.7M1339.7,1190.9V1172.2H1356.7M1398.2,1149.1V1167.8H1380.6M1398.2,1190.9V1172.2H1380.6M1402.2,1149.1V1167.8H1419.2M1402.2,1190.9V1172.2H1419.2M1460.8,1149.1V1167.8H1443.2M1460.8,1190.9V1172.2H1443.2M1464.8,1149.1V1167.8H1481.8M1464.8,1190.9V1172.2H1481.8M1523.3,1149.1V1167.8H1505.7M1523.3,1190.9V1172.2H1505.7M1527.3,1149.1V1167.8H1544.3M1527.3,1190.9V1172.2H1544.3M1585.9,1149.1V1167.8H1568.3M1585.9,1190.9V1172.2H1568.3M1589.9,1149.1V1167.8H1606.9M1589.9,1190.9V1172.2H1606.9M1648.5,1149.1V1167.8H1630.9M1648.5,1190.9V1172.2H1630.9M1652.5,1149.1V1167.8H1669.5M1652.5,1190.9V1172.2H1669.5M1711,1149.1V1167.8H1693.4M1711,1190.9V1172.2H1693.4M1715,1149.1V1167.8H1732M1715,1190.9V1172.2H1732M1773.6,1149.1V1167.8H1756M1773.6,1190.9V1172.2H1756M1777.6,1149.1V1167.8H1794.6M1777.6,1190.9V1172.2H1794.6" stroke="#7C7CB4" stroke-width="2.8"/>
<path d="M1273.1,654.3V673H1255.5M1273.1,696.1V677.3H1255.5M1277.1,654.3V673H1294.1M1277.1,696.1V677.3H1294.1M1335.7,654.3V673H1318.1M1335.7,696.1V677.3H1318.1M1339.7,654.3V673H1356.7M1339.7,696.1V677.3H1356.7M1398.2,654.3V673H1380.6M1398.2,696.1V677.3H1380.6M1402.2,654.3V673H1419.2M1402.2,696.1V677.3H1419.2M1460.8,654.3V673H1443.2M1460.8,696.1V677.3H1443.2M1464.8,654.3V673H1481.8M1464.8,696.1V677.3H1481.8M1523.3,654.3V673H1505.7M1523.3,696.1V677.3H1505.7M1527.3,654.3V673H1544.3M1527.3,696.1V677.3H1544.3M1585.9,654.3V673H1568.3M1585.9,696.1V677.3H1568.3M1589.9,654.3V673H1606.9M1589.9,696.1V677.3H1606.9M1648.5,654.3V673H1630.9M1648.5,696.1V677.3H1630.9M1652.5,654.3V673H1669.5M1652.5,696.1V677.3H1669.5M1711,654.3V673H1693.4M1711,696.1V677.3H1693.4M1715,654.3V673H1732M1715,696.1V677.3H1732M1773.6,654.3V673H1756M1773.6,696.1V677.3H1756M1777.6,654.3V673H1794.6M1777.6,696.1V677.3H1794.6M1273.1,716.1V734.9H1255.5M1273.1,758V739.2H1255.5M1277.1,716.1V734.9H1294.1M1277.1,758V739.2H1294.1M1335.7,716.1V734.9H1318.1M1335.7,758V739.2H1318.1M1339.7,716.1V734.9H1356.7M1339.7,758V739.2H1356.7M1398.2,716.1V734.9H1380.6M1398.2,758V739.2H1380.6M1402.2,716.1V734.9H1419.2M1402.2,758V739.2H1419.2M1460.8,716.1V734.9H1443.2M1460.8,758V739.2H1443.2M1464.8,716.1V734.9H1481.8M1464.8,758V739.2H1481.8M1523.3,716.1V734.9H1505.7M1527.3,716.1V734.9H1544.3M1527.3,758V739.2H1544.3M1585.9,716.1V734.9H1568.3M1585.9,758V739.2H1568.3M1589.9,716.1V734.9H1606.9M1589.9,758V739.2H1606.9M1648.5,758V739.2H1630.9M1652.5,758V739.2H1669.5M1711,716.1V734.9H1693.4M1715,716.1V734.9H1732M1715,758V739.2H1732M1773.6,716.1V734.9H1756M1773.6,758V739.2H1756M1777.6,716.1V734.9H1794.6M1777.6,758V739.2H1794.6M1335.7,819.8V801H1318.1M1339.7,819.8V801H1356.7M1398.2,778V796.8H1380.6M1402.2,819.8V801H1419.2M1460.8,778V796.8H1443.2M1460.8,819.8V801H1443.2M1464.8,819.8V801H1481.8M1523.3,819.8V801H1505.7M1527.3,778V796.8H1544.3M1527.3,819.8V801H1544.3M1652.5,778V796.8H1669.5M1652.5,819.8V801H1669.5M1711,778V796.8H1693.4M1711,819.8V801H1693.4M1715,778V796.8H1732M1715,819.8V801H1732M1773.6,778V796.8H1756M1777.6,819.8V801H1794.6M1277.1,839.9V858.6H1294.1M1277.1,881.7V862.9H1294.1M1398.2,839.9V858.6H1380.6M1402.2,881.7V862.9H1419.2M1523.3,881.7V862.9H1505.7M1527.3,881.7V862.9H1544.3M1585.9,881.7V862.9H1568.3M1589.9,881.7V862.9H1606.9M1527.3,943.5V924.7H1544.3M1523.3,1005.4V986.6H1505.7M1527.3,963.5V982.3H1544.3M1527.3,1005.4V986.6H1544.3M1773.6,963.5V982.3H1756M1777.6,1005.4V986.6H1794.6M1523.3,1025.4V1044.1H1505.7M1527.3,1025.4V1044.1H1544.3M1527.3,1067.2V1048.5H1544.3M1585.9,1067.2V1048.5H1568.3M1589.9,1067.2V1048.5H1606.9M1715,1067.2V1048.5H1732M1773.6,1067.2V1048.5H1756M1777.6,1067.2V1048.5H1794.6M1273.1,1129V1110.3H1255.5M1277.1,1087.2V1106H1294.1M1277.1,1129V1110.3H1294.1M1335.7,1087.2V1106H1318.1M1335.7,1129V1110.3H1318.1M1339.7,1087.2V1106H1356.7M1339.7,1129V1110.3H1356.7M1398.2,1087.2V1106H1380.6M1398.2,1129V1110.3H1380.6M1402.2,1087.2V1106H1419.2M1402.2,1129V1110.3H1419.2M1460.8,1087.2V1106H1443.2M1460.8,1129V1110.3H1443.2M1464.8,1087.2V1106H1481.8M1464.8,1129V1110.3H1481.8M1523.3,1087.2V1106H1505.7M1523.3,1129V1110.3H1505.7M1527.3,1087.2V1106H1544.3M1527.3,1129V1110.3H1544.3M1585.9,1129V1110.3H1568.3M1589.9,1087.2V1106H1606.9M1589.9,1129V1110.3H1606.9M1648.5,1087.2V1106H1630.9M1648.5,1129V1110.3H1630.9M1652.5,1087.2V1106H1669.5M1652.5,1129V1110.3H1669.5M1711,1087.2V1106H1693.4M1711,1129V1110.3H1693.4M1715,1087.2V1106H1732M1715,1129V1110.3H1732M1773.6,1087.2V1106H1756M1777.6,1087.2V1106H1794.6M1777.6,1129V1110.3H1794.6M1273.1,1149.1V1167.8H1255.5M1273.1,1190.9V1172.2H1255.5M1277.1,1149.1V1167.8H1294.1M1277.1,1190.9V1172.2H1294.1M1335.7,1149.1V1167.8H1318.1M1335.7,1190.9V1172.2H1318.1M1339.7,1149.1V1167.8H1356.7M1339.7,1190.9V1172.2H1356.7M1398.2,1149.1V1167.8H1380.6M1398.2,1190.9V1172.2H1380.6M1402.2,1149.1V1167.8H1419.2M1402.2,1190.9V1172.2H1419.2M1460.8,1149.1V1167.8H1443.2M1460.8,1190.9V1172.2H1443.2M1464.8,1149.1V1167.8H1481.8M1464.8,1190.9V1172.2H1481.8M1523.3,1149.1V1167.8H1505.7M1523.3,1190.9V1172.2H1505.7M1527.3,1149.1V1167.8H1544.3M1527.3,1190.9V1172.2H1544.3M1585.9,1149.1V1167.8H1568.3M1585.9,1190.9V1172.2H1568.3M1589.9,1149.1V1167.8H1606.9M1589.9,1190.9V1172.2H1606.9M1648.5,1149.1V1167.8H1630.9M1648.5,1190.9V1172.2H1630.9M1652.5,1149.1V1167.8H1669.5M1652.5,1190.9V1172.2H1669.5M1711,1149.1V1167.8H1693.4M1711,1190.9V1172.2H1693.4M1715,1149.1V1167.8H1732M1715,1190.9V1172.2H1732M1773.6,1149.1V1167.8H1756M1773.6,1190.9V1172.2H1756M1777.6,1149.1V1167.8H1794.6M1777.6,1190.9V1172.2H1794.6" stroke="#2444C0" stroke-width="1.9"/>
<path d="M1523.3,758V739.2H1505.7M1648.5,716.1V734.9H1630.9M1652.5,716.1V734.9H1669.5M1273.1,819.8V801H1255.5M1277.1,819.8V801H1294.1M1335.7,778V796.8H1318.1M1339.7,778V796.8H1356.7M1398.2,819.8V801H1380.6M1464.8,778V796.8H1481.8M1523.3,778V796.8H1505.7M1648.5,778V796.8H1630.9M1773.6,819.8V801H1756M1777.6,778V796.8H1794.6M1460.8,881.7V862.9H1443.2M1464.8,881.7V862.9H1481.8M1523.3,839.9V858.6H1505.7M1527.3,839.9V858.6H1544.3M1773.6,881.7V862.9H1756M1777.6,881.7V862.9H1794.6M1460.8,943.5V924.7H1443.2M1464.8,943.5V924.7H1481.8M1523.3,943.5V924.7H1505.7M1585.9,943.5V924.7H1568.3M1589.9,943.5V924.7H1606.9M1773.6,943.5V924.7H1756M1777.6,943.5V924.7H1794.6M1460.8,1005.4V986.6H1443.2M1464.8,1005.4V986.6H1481.8M1523.3,963.5V982.3H1505.7M1585.9,1005.4V986.6H1568.3M1589.9,1005.4V986.6H1606.9M1773.6,1005.4V986.6H1756M1273.1,1067.2V1048.5H1255.5M1277.1,1067.2V1048.5H1294.1M1460.8,1067.2V1048.5H1443.2M1464.8,1067.2V1048.5H1481.8M1523.3,1067.2V1048.5H1505.7M1585.9,1025.4V1044.1H1568.3M1589.9,1025.4V1044.1H1606.9M1652.5,1067.2V1048.5H1669.5M1711,1025.4V1044.1H1693.4M1711,1067.2V1048.5H1693.4M1773.6,1025.4V1044.1H1756M1777.6,1025.4V1044.1H1794.6M1273.1,1087.2V1106H1255.5M1585.9,1087.2V1106H1568.3M1773.6,1129V1110.3H1756" stroke="#20E060" stroke-width="1.9"/>
<path d="M1711,758V739.2H1693.4" stroke="#10C0F0" stroke-width="1.9"/>
<path d="M1273.1,778V796.8H1255.5M1277.1,778V796.8H1294.1M1402.2,778V796.8H1419.2M1585.9,778V796.8H1568.3M1585.9,819.8V801H1568.3M1589.9,778V796.8H1606.9M1589.9,819.8V801H1606.9M1273.1,839.9V858.6H1255.5M1273.1,881.7V862.9H1255.5M1335.7,839.9V858.6H1318.1M1335.7,881.7V862.9H1318.1M1339.7,839.9V858.6H1356.7M1339.7,881.7V862.9H1356.7M1398.2,881.7V862.9H1380.6M1402.2,839.9V858.6H1419.2M1460.8,839.9V858.6H1443.2M1464.8,839.9V858.6H1481.8M1585.9,839.9V858.6H1568.3M1589.9,839.9V858.6H1606.9M1648.5,839.9V858.6H1630.9M1648.5,881.7V862.9H1630.9M1652.5,839.9V858.6H1669.5M1652.5,881.7V862.9H1669.5M1711,839.9V858.6H1693.4M1711,881.7V862.9H1693.4M1715,839.9V858.6H1732M1715,881.7V862.9H1732M1773.6,839.9V858.6H1756M1777.6,839.9V858.6H1794.6M1273.1,901.7V920.4H1255.5M1273.1,943.5V924.7H1255.5M1277.1,901.7V920.4H1294.1M1277.1,943.5V924.7H1294.1M1335.7,901.7V920.4H1318.1M1335.7,943.5V924.7H1318.1M1339.7,901.7V920.4H1356.7M1339.7,943.5V924.7H1356.7M1398.2,901.7V920.4H1380.6M1398.2,943.5V924.7H1380.6M1402.2,901.7V920.4H1419.2M1402.2,943.5V924.7H1419.2M1460.8,901.7V920.4H1443.2M1464.8,901.7V920.4H1481.8M1523.3,901.7V920.4H1505.7M1527.3,901.7V920.4H1544.3M1585.9,901.7V920.4H1568.3M1589.9,901.7V920.4H1606.9M1648.5,901.7V920.4H1630.9M1648.5,943.5V924.7H1630.9M1652.5,901.7V920.4H1669.5M1652.5,943.5V924.7H1669.5M1711,901.7V920.4H1693.4M1711,943.5V924.7H1693.4M1715,901.7V920.4H1732M1715,943.5V924.7H1732M1773.6,901.7V920.4H1756M1777.6,901.7V920.4H1794.6M1273.1,963.5V982.3H1255.5M1273.1,1005.4V986.6H1255.5M1277.1,963.5V982.3H1294.1M1277.1,1005.4V986.6H1294.1M1335.7,963.5V982.3H1318.1M1335.7,1005.4V986.6H1318.1M1339.7,963.5V982.3H1356.7M1339.7,1005.4V986.6H1356.7M1398.2,963.5V982.3H1380.6M1398.2,1005.4V986.6H1380.6M1402.2,963.5V982.3H1419.2M1402.2,1005.4V986.6H1419.2M1460.8,963.5V982.3H1443.2M1464.8,963.5V982.3H1481.8M1585.9,963.5V982.3H1568.3M1589.9,963.5V982.3H1606.9M1648.5,963.5V982.3H1630.9M1648.5,1005.4V986.6H1630.9M1652.5,963.5V982.3H1669.5M1652.5,1005.4V986.6H1669.5M1711,963.5V982.3H1693.4M1711,1005.4V986.6H1693.4M1715,963.5V982.3H1732M1715,1005.4V986.6H1732M1777.6,963.5V982.3H1794.6M1273.1,1025.4V1044.1H1255.5M1277.1,1025.4V1044.1H1294.1M1335.7,1025.4V1044.1H1318.1M1335.7,1067.2V1048.5H1318.1M1339.7,1025.4V1044.1H1356.7M1339.7,1067.2V1048.5H1356.7M1398.2,1025.4V1044.1H1380.6M1398.2,1067.2V1048.5H1380.6M1402.2,1025.4V1044.1H1419.2M1402.2,1067.2V1048.5H1419.2M1460.8,1025.4V1044.1H1443.2M1464.8,1025.4V1044.1H1481.8M1648.5,1025.4V1044.1H1630.9M1648.5,1067.2V1048.5H1630.9M1652.5,1025.4V1044.1H1669.5" stroke="#B01E40" stroke-width="1.9"/>
<path d="M1648.5,819.8V801H1630.9M1715,1025.4V1044.1H1732" stroke="#E0E000" stroke-width="1.9"/>
</g>
<text x="229.6" y="610" class="fl" style="font-size:42.7px" textLength="134.4" lengthAdjust="spacingAndGlyphs">1.8GHz</text>
<text x="847.15" y="615" class="fl" style="font-size:42.7px" textLength="135" lengthAdjust="spacingAndGlyphs">2.1GHz</text>
<text x="1442.25" y="615" class="fl" style="font-size:42.7px" textLength="135" lengthAdjust="spacingAndGlyphs">2.4GHz</text>
<text x="229.6" y="1258" class="fl" style="font-size:42.7px" textLength="134.4" lengthAdjust="spacingAndGlyphs">1.8GHz</text>
<text x="836.95" y="1253" class="fl" style="font-size:42.7px" textLength="135.5" lengthAdjust="spacingAndGlyphs">2.1GHz</text>
<text x="1460.05" y="1253" class="fl" style="font-size:42.7px" textLength="135.5" lengthAdjust="spacingAndGlyphs">2.4GHz</text>
<text x="1776.75" y="614.1" class="pa" textLength="15.8" lengthAdjust="spacingAndGlyphs">(</text><text x="1821.9" y="614.1" class="pa" textLength="16.6" lengthAdjust="spacingAndGlyphs">)</text>
<text x="1797.5" y="619.6" class="fl" style="font-size:40px">a</text>
<text x="1783.8" y="1249.3" class="pa" textLength="16.0" lengthAdjust="spacingAndGlyphs">(</text><text x="1830.7" y="1249.3" class="pa" textLength="16.4" lengthAdjust="spacingAndGlyphs">)</text>
<text x="1804.4" y="1254.9" class="fl" style="font-size:40.2px">b</text>
</svg>
</body></html>
